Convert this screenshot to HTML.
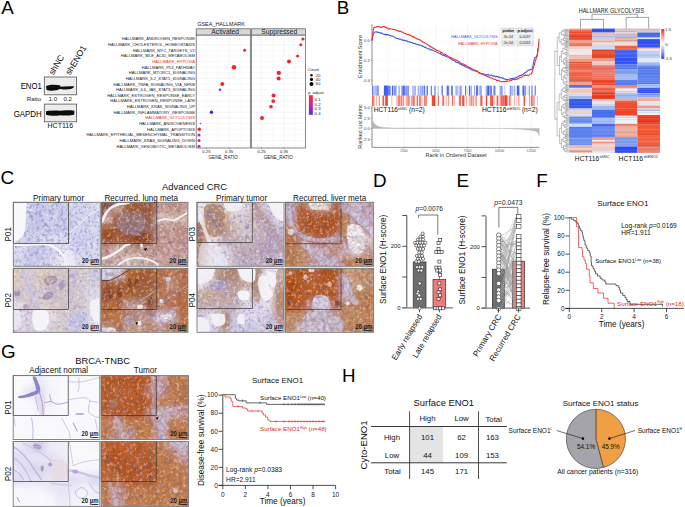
<!DOCTYPE html>
<html><head><meta charset="utf-8"><style>
html,body{margin:0;padding:0;background:#fff;}
svg{display:block;font-family:"Liberation Sans",sans-serif;}
</style></head><body>
<svg width="685" height="507" viewBox="0 0 685 507">
<rect width="685" height="507" fill="#fff"/>
<text x="1.30" y="14.27" font-size="18.8" text-anchor="start" fill="#000">A</text>
<text x="336.80" y="14.37" font-size="18.8" text-anchor="start" fill="#000">B</text>
<text x="0.50" y="184.47" font-size="18.8" text-anchor="start" fill="#000">C</text>
<text x="373.00" y="186.67" font-size="18.8" text-anchor="start" fill="#000">D</text>
<text x="456.50" y="186.97" font-size="18.8" text-anchor="start" fill="#000">E</text>
<text x="536.20" y="187.27" font-size="18.8" text-anchor="start" fill="#000">F</text>
<text x="0.90" y="357.97" font-size="18.8" text-anchor="start" fill="#000">G</text>
<text x="342.00" y="382.27" font-size="18.8" text-anchor="start" fill="#000">H</text>
<defs><filter id="bl1" x="-20%" y="-50%" width="140%" height="200%"><feGaussianBlur stdDeviation="0.6"/></filter></defs>
<text x="0" y="0" font-size="8.6" transform="translate(53.4,75.6) rotate(-59)">shNC</text>
<text x="0" y="0" font-size="8.6" transform="translate(70.0,75.6) rotate(-59)">shENO1</text>
<rect x="44.30" y="77.00" width="32.30" height="17.80" fill="#ececec" stroke="#555" stroke-width="0.8"/>
<rect x="44.30" y="104.10" width="32.30" height="17.70" fill="#ececec" stroke="#555" stroke-width="0.8"/>
<g filter="url(#bl1)">
<path d="M46,86.3 C50,84.3 56,84.8 60,85.3 L61,88.6 C56,91.2 50,91.4 46.5,89.8 Z" fill="#111"/>
<path d="M59,86.8 C64,86.2 70,86.0 74.3,86.3 C73.5,88.7 70,89.6 64,89.4 C61,89.4 59.5,89 59,88.3 Z" fill="#111"/>
<path d="M46,111.3 C52,110.3 58,110.6 61,110.8 C64,110.2 70,110.0 74.3,110.8 L74.3,114.6 C70,116.0 64,115.6 60.5,115.2 C56,116.0 50,116.0 46,114.8 Z" fill="#111"/>
</g>
<text x="41.80" y="89.26" font-size="8.6" text-anchor="end" fill="#000" textLength="21.1" lengthAdjust="spacingAndGlyphs">ENO1</text>
<text x="41.20" y="100.93" font-size="6.2" text-anchor="end" fill="#222">Ratio</text>
<text x="52.90" y="100.93" font-size="6.2" text-anchor="middle" fill="#222">1.0</text>
<text x="67.70" y="100.93" font-size="6.2" text-anchor="middle" fill="#222">0.2</text>
<text x="41.80" y="116.56" font-size="8.6" text-anchor="end" fill="#000" textLength="28.1" lengthAdjust="spacingAndGlyphs">GAPDH</text>
<text x="60.30" y="128.21" font-size="7.0" text-anchor="middle" fill="#111">HCT116</text>
<rect x="196.20" y="35.00" width="54.10" height="113.00" fill="#fff" stroke="none" stroke-width="0.8"/>
<line x1="196.20" y1="39.00" x2="250.30" y2="39.00" stroke="#ececec" stroke-width="0.4"/>
<line x1="196.20" y1="44.64" x2="250.30" y2="44.64" stroke="#ececec" stroke-width="0.4"/>
<line x1="196.20" y1="50.28" x2="250.30" y2="50.28" stroke="#ececec" stroke-width="0.4"/>
<line x1="196.20" y1="55.92" x2="250.30" y2="55.92" stroke="#ececec" stroke-width="0.4"/>
<line x1="196.20" y1="61.56" x2="250.30" y2="61.56" stroke="#ececec" stroke-width="0.4"/>
<line x1="196.20" y1="67.20" x2="250.30" y2="67.20" stroke="#ececec" stroke-width="0.4"/>
<line x1="196.20" y1="72.84" x2="250.30" y2="72.84" stroke="#ececec" stroke-width="0.4"/>
<line x1="196.20" y1="78.48" x2="250.30" y2="78.48" stroke="#ececec" stroke-width="0.4"/>
<line x1="196.20" y1="84.12" x2="250.30" y2="84.12" stroke="#ececec" stroke-width="0.4"/>
<line x1="196.20" y1="89.76" x2="250.30" y2="89.76" stroke="#ececec" stroke-width="0.4"/>
<line x1="196.20" y1="95.40" x2="250.30" y2="95.40" stroke="#ececec" stroke-width="0.4"/>
<line x1="196.20" y1="101.04" x2="250.30" y2="101.04" stroke="#ececec" stroke-width="0.4"/>
<line x1="196.20" y1="106.68" x2="250.30" y2="106.68" stroke="#ececec" stroke-width="0.4"/>
<line x1="196.20" y1="112.32" x2="250.30" y2="112.32" stroke="#ececec" stroke-width="0.4"/>
<line x1="196.20" y1="117.96" x2="250.30" y2="117.96" stroke="#ececec" stroke-width="0.4"/>
<line x1="196.20" y1="123.60" x2="250.30" y2="123.60" stroke="#ececec" stroke-width="0.4"/>
<line x1="196.20" y1="129.24" x2="250.30" y2="129.24" stroke="#ececec" stroke-width="0.4"/>
<line x1="196.20" y1="134.88" x2="250.30" y2="134.88" stroke="#ececec" stroke-width="0.4"/>
<line x1="196.20" y1="140.52" x2="250.30" y2="140.52" stroke="#ececec" stroke-width="0.4"/>
<line x1="196.20" y1="146.16" x2="250.30" y2="146.16" stroke="#ececec" stroke-width="0.4"/>
<line x1="206.40" y1="35.00" x2="206.40" y2="148.00" stroke="#ececec" stroke-width="0.4"/>
<line x1="217.70" y1="35.00" x2="217.70" y2="148.00" stroke="#f4f4f4" stroke-width="0.4"/>
<line x1="229.00" y1="35.00" x2="229.00" y2="148.00" stroke="#ececec" stroke-width="0.4"/>
<line x1="240.30" y1="35.00" x2="240.30" y2="148.00" stroke="#f4f4f4" stroke-width="0.4"/>
<rect x="196.20" y="35.00" width="54.10" height="113.00" fill="none" stroke="#555" stroke-width="0.7"/>
<rect x="196.20" y="28.80" width="54.10" height="6.20" fill="#d9d9d9" stroke="#555" stroke-width="0.7"/>
<rect x="251.30" y="35.00" width="54.10" height="113.00" fill="#fff" stroke="none" stroke-width="0.8"/>
<line x1="251.30" y1="39.00" x2="305.40" y2="39.00" stroke="#ececec" stroke-width="0.4"/>
<line x1="251.30" y1="44.64" x2="305.40" y2="44.64" stroke="#ececec" stroke-width="0.4"/>
<line x1="251.30" y1="50.28" x2="305.40" y2="50.28" stroke="#ececec" stroke-width="0.4"/>
<line x1="251.30" y1="55.92" x2="305.40" y2="55.92" stroke="#ececec" stroke-width="0.4"/>
<line x1="251.30" y1="61.56" x2="305.40" y2="61.56" stroke="#ececec" stroke-width="0.4"/>
<line x1="251.30" y1="67.20" x2="305.40" y2="67.20" stroke="#ececec" stroke-width="0.4"/>
<line x1="251.30" y1="72.84" x2="305.40" y2="72.84" stroke="#ececec" stroke-width="0.4"/>
<line x1="251.30" y1="78.48" x2="305.40" y2="78.48" stroke="#ececec" stroke-width="0.4"/>
<line x1="251.30" y1="84.12" x2="305.40" y2="84.12" stroke="#ececec" stroke-width="0.4"/>
<line x1="251.30" y1="89.76" x2="305.40" y2="89.76" stroke="#ececec" stroke-width="0.4"/>
<line x1="251.30" y1="95.40" x2="305.40" y2="95.40" stroke="#ececec" stroke-width="0.4"/>
<line x1="251.30" y1="101.04" x2="305.40" y2="101.04" stroke="#ececec" stroke-width="0.4"/>
<line x1="251.30" y1="106.68" x2="305.40" y2="106.68" stroke="#ececec" stroke-width="0.4"/>
<line x1="251.30" y1="112.32" x2="305.40" y2="112.32" stroke="#ececec" stroke-width="0.4"/>
<line x1="251.30" y1="117.96" x2="305.40" y2="117.96" stroke="#ececec" stroke-width="0.4"/>
<line x1="251.30" y1="123.60" x2="305.40" y2="123.60" stroke="#ececec" stroke-width="0.4"/>
<line x1="251.30" y1="129.24" x2="305.40" y2="129.24" stroke="#ececec" stroke-width="0.4"/>
<line x1="251.30" y1="134.88" x2="305.40" y2="134.88" stroke="#ececec" stroke-width="0.4"/>
<line x1="251.30" y1="140.52" x2="305.40" y2="140.52" stroke="#ececec" stroke-width="0.4"/>
<line x1="251.30" y1="146.16" x2="305.40" y2="146.16" stroke="#ececec" stroke-width="0.4"/>
<line x1="261.50" y1="35.00" x2="261.50" y2="148.00" stroke="#ececec" stroke-width="0.4"/>
<line x1="272.80" y1="35.00" x2="272.80" y2="148.00" stroke="#f4f4f4" stroke-width="0.4"/>
<line x1="284.10" y1="35.00" x2="284.10" y2="148.00" stroke="#ececec" stroke-width="0.4"/>
<line x1="295.40" y1="35.00" x2="295.40" y2="148.00" stroke="#f4f4f4" stroke-width="0.4"/>
<rect x="251.30" y="35.00" width="54.10" height="113.00" fill="none" stroke="#555" stroke-width="0.7"/>
<rect x="251.30" y="28.80" width="54.10" height="6.20" fill="#d9d9d9" stroke="#555" stroke-width="0.7"/>
<text x="225.15" y="34.22" font-size="6.75" text-anchor="middle" fill="#222">Activated</text>
<text x="279.20" y="34.22" font-size="6.75" text-anchor="middle" fill="#222">Suppressed</text>
<text x="197.20" y="26.29" font-size="5.48" text-anchor="start" fill="#222">GSEA_HALLMARK</text>
<text x="194.90" y="40.41" font-size="4.1" text-anchor="end" fill="#222">HALLMARK_ANDROGEN_RESPONSE</text>
<text x="194.90" y="46.05" font-size="4.1" text-anchor="end" fill="#222">HALLMARK_CHOLESTEROL_HOMEOSTASIS</text>
<text x="194.90" y="51.69" font-size="4.1" text-anchor="end" fill="#222">HALLMARK_MYC_TARGETS_V2</text>
<text x="194.90" y="57.33" font-size="4.1" text-anchor="end" fill="#222">HALLMARK_BILE_ACID_METABOLISM</text>
<text x="194.90" y="62.97" font-size="4.1" text-anchor="end" fill="#e8262a">HALLMARK_HYPOXIA</text>
<text x="194.90" y="68.61" font-size="4.1" text-anchor="end" fill="#222">HALLMARK_P53_PATHWAY</text>
<text x="194.90" y="74.25" font-size="4.1" text-anchor="end" fill="#222">HALLMARK_MTORC1_SIGNALING</text>
<text x="194.90" y="79.89" font-size="4.1" text-anchor="end" fill="#222">HALLMARK_IL2_STAT5_SIGNALING</text>
<text x="194.90" y="85.53" font-size="4.1" text-anchor="end" fill="#222">HALLMARK_TNFA_SIGNALING_VIA_NFKB</text>
<text x="194.90" y="91.17" font-size="4.1" text-anchor="end" fill="#222">HALLMARK_IL6_JAK_STAT3_SIGNALING</text>
<text x="194.90" y="96.81" font-size="4.1" text-anchor="end" fill="#222">HALLMARK_ESTROGEN_RESPONSE_EARLY</text>
<text x="194.90" y="102.45" font-size="4.1" text-anchor="end" fill="#222">HALLMARK_ESTROGEN_RESPONSE_LATE</text>
<text x="194.90" y="108.09" font-size="4.1" text-anchor="end" fill="#222">HALLMARK_KRAS_SIGNALING_UP</text>
<text x="194.90" y="113.73" font-size="4.1" text-anchor="end" fill="#222">HALLMARK_INFLAMMATORY_RESPONSE</text>
<text x="194.90" y="119.37" font-size="4.1" text-anchor="end" fill="#e8262a">HALLMARK_GLYCOLYSIS</text>
<text x="194.90" y="125.01" font-size="4.1" text-anchor="end" fill="#222">HALLMARK_ANGIOGENESIS</text>
<text x="194.90" y="130.65" font-size="4.1" text-anchor="end" fill="#222">HALLMARK_APOPTOSIS</text>
<text x="194.90" y="136.29" font-size="4.1" text-anchor="end" fill="#222">HALLMARK_EPITHELIAL_MESENCHYMAL_TRANSITION</text>
<text x="194.90" y="141.93" font-size="4.1" text-anchor="end" fill="#222">HALLMARK_KRAS_SIGNALING_DOWN</text>
<text x="194.90" y="147.57" font-size="4.1" text-anchor="end" fill="#222">HALLMARK_XENOBIOTIC_METABOLISM</text>
<line x1="206.40" y1="148.00" x2="206.40" y2="149.20" stroke="#555" stroke-width="0.5"/>
<text x="206.40" y="153.24" font-size="4.2" text-anchor="middle" fill="#222">0.25</text>
<line x1="229.00" y1="148.00" x2="229.00" y2="149.20" stroke="#555" stroke-width="0.5"/>
<text x="229.00" y="153.24" font-size="4.2" text-anchor="middle" fill="#222">0.35</text>
<text x="223.20" y="158.78" font-size="4.6" text-anchor="middle" fill="#222">GENE_RATIO</text>
<line x1="261.50" y1="148.00" x2="261.50" y2="149.20" stroke="#555" stroke-width="0.5"/>
<text x="261.50" y="153.24" font-size="4.2" text-anchor="middle" fill="#222">0.25</text>
<line x1="284.10" y1="148.00" x2="284.10" y2="149.20" stroke="#555" stroke-width="0.5"/>
<text x="284.10" y="153.24" font-size="4.2" text-anchor="middle" fill="#222">0.35</text>
<text x="278.30" y="158.78" font-size="4.6" text-anchor="middle" fill="#222">GENE_RATIO</text>
<circle cx="244.60" cy="50.28" r="1.50" fill="#f0282a" stroke="none" stroke-width="0.5"/>
<circle cx="234.00" cy="67.20" r="2.30" fill="#f0242a" stroke="none" stroke-width="0.5"/>
<circle cx="222.30" cy="84.12" r="2.00" fill="#f0242a" stroke="none" stroke-width="0.5"/>
<circle cx="220.00" cy="89.76" r="1.35" fill="#b02ad0" stroke="none" stroke-width="0.5"/>
<circle cx="211.50" cy="112.32" r="1.70" fill="#2a2af0" stroke="none" stroke-width="0.5"/>
<circle cx="200.50" cy="123.60" r="0.80" fill="#d030c0" stroke="none" stroke-width="0.5"/>
<circle cx="199.20" cy="129.24" r="1.70" fill="#f0242a" stroke="none" stroke-width="0.5"/>
<circle cx="199.00" cy="134.88" r="1.50" fill="#c02aa8" stroke="none" stroke-width="0.5"/>
<circle cx="199.00" cy="140.52" r="1.50" fill="#c02aa8" stroke="none" stroke-width="0.5"/>
<circle cx="199.00" cy="146.16" r="1.50" fill="#c02aa8" stroke="none" stroke-width="0.5"/>
<circle cx="302.90" cy="39.00" r="1.60" fill="#f0242a" stroke="none" stroke-width="0.5"/>
<circle cx="300.80" cy="44.64" r="1.50" fill="#f0242a" stroke="none" stroke-width="0.5"/>
<circle cx="297.60" cy="55.92" r="1.50" fill="#f0242a" stroke="none" stroke-width="0.5"/>
<circle cx="289.00" cy="61.56" r="2.00" fill="#f0242a" stroke="none" stroke-width="0.5"/>
<circle cx="278.80" cy="72.84" r="2.20" fill="#e02a4a" stroke="none" stroke-width="0.5"/>
<circle cx="278.60" cy="78.48" r="2.00" fill="#f0242a" stroke="none" stroke-width="0.5"/>
<circle cx="273.60" cy="95.40" r="2.00" fill="#e02a4a" stroke="none" stroke-width="0.5"/>
<circle cx="273.20" cy="101.04" r="1.90" fill="#f0242a" stroke="none" stroke-width="0.5"/>
<circle cx="271.00" cy="106.68" r="1.80" fill="#f0242a" stroke="none" stroke-width="0.5"/>
<circle cx="262.00" cy="117.96" r="2.00" fill="#f0242a" stroke="none" stroke-width="0.5"/>
<text x="308.00" y="70.61" font-size="4.1" text-anchor="start" fill="#222">Count</text>
<circle cx="311.50" cy="75.20" r="1.20" fill="#000" stroke="none" stroke-width="0.5"/>
<text x="315.60" y="76.68" font-size="4.3" text-anchor="start" fill="#222">20</text>
<circle cx="311.50" cy="79.40" r="1.60" fill="#000" stroke="none" stroke-width="0.5"/>
<text x="315.60" y="80.88" font-size="4.3" text-anchor="start" fill="#222">40</text>
<circle cx="311.50" cy="84.00" r="2.00" fill="#000" stroke="none" stroke-width="0.5"/>
<text x="315.60" y="85.48" font-size="4.3" text-anchor="start" fill="#222">60</text>
<text x="308.00" y="93.63" font-size="4.15" text-anchor="start" fill="#222">p. adjust</text>
<defs><linearGradient id="padj" x1="0" y1="0" x2="0" y2="1"><stop offset="0" stop-color="#ff2a2a"/><stop offset="0.5" stop-color="#d020b0"/><stop offset="1" stop-color="#4a2aff"/></linearGradient></defs>
<rect x="308.90" y="95.20" width="3.90" height="19.60" fill="url(#padj)" stroke="none" stroke-width="0.8"/>
<line x1="308.90" y1="99.40" x2="309.70" y2="99.40" stroke="#444" stroke-width="0.35"/>
<line x1="312.00" y1="99.40" x2="312.80" y2="99.40" stroke="#444" stroke-width="0.35"/>
<text x="314.60" y="100.88" font-size="4.3" text-anchor="start" fill="#222">0.1</text>
<line x1="308.90" y1="104.10" x2="309.70" y2="104.10" stroke="#444" stroke-width="0.35"/>
<line x1="312.00" y1="104.10" x2="312.80" y2="104.10" stroke="#444" stroke-width="0.35"/>
<text x="314.60" y="105.58" font-size="4.3" text-anchor="start" fill="#222">0.2</text>
<line x1="308.90" y1="108.80" x2="309.70" y2="108.80" stroke="#444" stroke-width="0.35"/>
<line x1="312.00" y1="108.80" x2="312.80" y2="108.80" stroke="#444" stroke-width="0.35"/>
<text x="314.60" y="110.28" font-size="4.3" text-anchor="start" fill="#222">0.3</text>
<line x1="308.90" y1="113.50" x2="309.70" y2="113.50" stroke="#444" stroke-width="0.35"/>
<line x1="312.00" y1="113.50" x2="312.80" y2="113.50" stroke="#444" stroke-width="0.35"/>
<text x="314.60" y="114.98" font-size="4.3" text-anchor="start" fill="#222">0.4</text>
<line x1="387.98" y1="24.30" x2="387.98" y2="85.50" stroke="#f0f0f0" stroke-width="0.5"/>
<line x1="387.98" y1="105.90" x2="387.98" y2="147.40" stroke="#f0f0f0" stroke-width="0.5"/>
<line x1="403.90" y1="24.30" x2="403.90" y2="85.50" stroke="#e6e6e6" stroke-width="0.5"/>
<line x1="403.90" y1="105.90" x2="403.90" y2="147.40" stroke="#e6e6e6" stroke-width="0.5"/>
<line x1="419.82" y1="24.30" x2="419.82" y2="85.50" stroke="#f0f0f0" stroke-width="0.5"/>
<line x1="419.82" y1="105.90" x2="419.82" y2="147.40" stroke="#f0f0f0" stroke-width="0.5"/>
<line x1="435.75" y1="24.30" x2="435.75" y2="85.50" stroke="#e6e6e6" stroke-width="0.5"/>
<line x1="435.75" y1="105.90" x2="435.75" y2="147.40" stroke="#e6e6e6" stroke-width="0.5"/>
<line x1="451.68" y1="24.30" x2="451.68" y2="85.50" stroke="#f0f0f0" stroke-width="0.5"/>
<line x1="451.68" y1="105.90" x2="451.68" y2="147.40" stroke="#f0f0f0" stroke-width="0.5"/>
<line x1="467.60" y1="24.30" x2="467.60" y2="85.50" stroke="#e6e6e6" stroke-width="0.5"/>
<line x1="467.60" y1="105.90" x2="467.60" y2="147.40" stroke="#e6e6e6" stroke-width="0.5"/>
<line x1="483.52" y1="24.30" x2="483.52" y2="85.50" stroke="#f0f0f0" stroke-width="0.5"/>
<line x1="483.52" y1="105.90" x2="483.52" y2="147.40" stroke="#f0f0f0" stroke-width="0.5"/>
<line x1="499.45" y1="24.30" x2="499.45" y2="85.50" stroke="#e6e6e6" stroke-width="0.5"/>
<line x1="499.45" y1="105.90" x2="499.45" y2="147.40" stroke="#e6e6e6" stroke-width="0.5"/>
<line x1="515.38" y1="24.30" x2="515.38" y2="85.50" stroke="#f0f0f0" stroke-width="0.5"/>
<line x1="515.38" y1="105.90" x2="515.38" y2="147.40" stroke="#f0f0f0" stroke-width="0.5"/>
<line x1="531.30" y1="24.30" x2="531.30" y2="85.50" stroke="#e6e6e6" stroke-width="0.5"/>
<line x1="531.30" y1="105.90" x2="531.30" y2="147.40" stroke="#e6e6e6" stroke-width="0.5"/>
<line x1="372.00" y1="30.20" x2="539.40" y2="30.20" stroke="#f2f2f2" stroke-width="0.4"/>
<line x1="372.00" y1="40.20" x2="539.40" y2="40.20" stroke="#f2f2f2" stroke-width="0.4"/>
<line x1="372.00" y1="50.20" x2="539.40" y2="50.20" stroke="#f2f2f2" stroke-width="0.4"/>
<line x1="372.00" y1="60.20" x2="539.40" y2="60.20" stroke="#f2f2f2" stroke-width="0.4"/>
<line x1="372.00" y1="70.20" x2="539.40" y2="70.20" stroke="#f2f2f2" stroke-width="0.4"/>
<line x1="372.00" y1="80.20" x2="539.40" y2="80.20" stroke="#f2f2f2" stroke-width="0.4"/>
<line x1="372.00" y1="24.30" x2="372.00" y2="85.50" stroke="#444" stroke-width="0.6"/>
<line x1="372.00" y1="105.90" x2="372.00" y2="147.40" stroke="#444" stroke-width="0.6"/>
<line x1="372.00" y1="147.40" x2="539.40" y2="147.40" stroke="#444" stroke-width="0.6"/>
<line x1="370.80" y1="40.20" x2="372.00" y2="40.20" stroke="#444" stroke-width="0.5"/>
<text x="369.80" y="41.64" font-size="4.2" text-anchor="end" fill="#444">0.0</text>
<line x1="370.80" y1="60.20" x2="372.00" y2="60.20" stroke="#444" stroke-width="0.5"/>
<text x="369.80" y="61.64" font-size="4.2" text-anchor="end" fill="#444">-0.2</text>
<line x1="370.80" y1="80.20" x2="372.00" y2="80.20" stroke="#444" stroke-width="0.5"/>
<text x="369.80" y="81.64" font-size="4.2" text-anchor="end" fill="#444">-0.4</text>
<text x="360.20" y="58.36" font-size="5.4" text-anchor="middle" fill="#333" transform="rotate(-90 360.20 56.50)">Enrichment Score</text>
<line x1="370.80" y1="107.80" x2="372.00" y2="107.80" stroke="#444" stroke-width="0.5"/>
<text x="369.80" y="109.24" font-size="4.2" text-anchor="end" fill="#444">5.0</text>
<line x1="370.80" y1="118.10" x2="372.00" y2="118.10" stroke="#444" stroke-width="0.5"/>
<text x="369.80" y="119.54" font-size="4.2" text-anchor="end" fill="#444">2.5</text>
<line x1="370.80" y1="128.40" x2="372.00" y2="128.40" stroke="#444" stroke-width="0.5"/>
<text x="369.80" y="129.84" font-size="4.2" text-anchor="end" fill="#444">0.0</text>
<line x1="370.80" y1="139.50" x2="372.00" y2="139.50" stroke="#444" stroke-width="0.5"/>
<text x="369.80" y="140.94" font-size="4.2" text-anchor="end" fill="#444">-2.5</text>
<text x="359.80" y="128.35" font-size="5.37" text-anchor="middle" fill="#333" transform="rotate(-90 359.80 126.50)">Ranked List Metric</text>
<line x1="403.90" y1="147.40" x2="403.90" y2="148.40" stroke="#444" stroke-width="0.5"/>
<text x="403.90" y="151.77" font-size="3.4" text-anchor="middle" fill="#555">2500</text>
<line x1="435.75" y1="147.40" x2="435.75" y2="148.40" stroke="#444" stroke-width="0.5"/>
<text x="435.75" y="151.77" font-size="3.4" text-anchor="middle" fill="#555">5000</text>
<line x1="467.60" y1="147.40" x2="467.60" y2="148.40" stroke="#444" stroke-width="0.5"/>
<text x="467.60" y="151.77" font-size="3.4" text-anchor="middle" fill="#555">7500</text>
<line x1="499.45" y1="147.40" x2="499.45" y2="148.40" stroke="#444" stroke-width="0.5"/>
<text x="499.45" y="151.77" font-size="3.4" text-anchor="middle" fill="#555">10000</text>
<line x1="531.30" y1="147.40" x2="531.30" y2="148.40" stroke="#444" stroke-width="0.5"/>
<text x="531.30" y="151.77" font-size="3.4" text-anchor="middle" fill="#555">12500</text>
<text x="456.00" y="156.71" font-size="5.54" text-anchor="middle" fill="#333">Rank in Ordered Dataset</text>
<path d="M372.00,40.54 L372.60,36.69 L373.30,34.44 L374.10,32.72 L374.90,31.93 L375.60,31.91 L376.30,31.77 L377.00,32.31 L377.63,32.02 L378.27,32.51 L378.90,32.31 L379.60,32.50 L380.30,32.97 L381.00,33.49 L381.68,33.06 L382.35,33.35 L383.02,33.91 L383.70,34.40 L384.25,34.20 L384.80,34.17 L385.35,34.83 L385.90,34.13 L386.45,34.99 L387.00,34.61 L387.60,34.62 L388.20,34.73 L388.80,35.04 L389.40,35.63 L390.00,35.20 L390.60,35.70 L391.20,35.89 L391.80,35.79 L392.53,36.31 L393.27,36.24 L394.00,36.60 L394.65,37.06 L395.30,37.81 L395.95,37.91 L396.60,38.13 L397.17,38.53 L397.73,38.56 L398.30,38.57 L398.87,39.16 L399.43,39.23 L400.00,38.97 L400.56,39.42 L401.11,39.53 L401.67,40.00 L402.22,40.03 L402.78,39.79 L403.33,40.57 L403.89,39.95 L404.44,40.37 L405.00,40.83 L405.60,40.46 L406.20,40.93 L406.80,40.70 L407.40,41.43 L408.00,41.69 L408.60,41.69 L409.20,42.13 L409.80,41.79 L410.40,42.31 L411.00,42.38 L411.57,42.56 L412.14,42.64 L412.71,43.17 L413.28,43.45 L413.85,43.22 L414.42,43.58 L414.99,43.22 L415.56,43.99 L416.14,44.13 L416.71,44.63 L417.28,44.66 L417.85,44.36 L418.42,44.64 L418.99,45.09 L419.56,44.69 L420.13,45.28 L420.70,45.20 L421.28,45.39 L421.86,45.58 L422.44,46.45 L423.02,46.12 L423.61,46.46 L424.19,46.83 L424.77,47.50 L425.35,47.02 L425.93,47.59 L426.51,47.92 L427.09,48.46 L427.68,48.64 L428.26,48.92 L428.84,48.63 L429.42,48.99 L430.00,49.17 L430.56,49.88 L431.11,50.18 L431.67,49.69 L432.22,49.94 L432.78,50.23 L433.33,50.46 L433.89,50.92 L434.44,51.25 L435.00,51.19 L435.56,51.19 L436.11,51.79 L436.67,51.98 L437.22,52.39 L437.78,52.97 L438.33,52.97 L438.89,53.05 L439.44,53.37 L440.00,53.66 L440.56,53.38 L441.11,54.43 L441.67,54.60 L442.22,54.97 L442.78,55.18 L443.33,55.10 L443.89,55.39 L444.44,55.41 L445.00,56.17 L445.56,55.94 L446.11,56.23 L446.67,56.64 L447.22,56.88 L447.78,57.32 L448.33,57.35 L448.89,57.58 L449.44,58.00 L450.00,58.24 L450.56,58.78 L451.11,58.77 L451.67,59.84 L452.22,59.90 L452.78,59.78 L453.33,60.18 L453.89,60.56 L454.44,60.88 L455.00,60.96 L455.56,61.91 L456.11,62.34 L456.67,62.17 L457.22,62.49 L457.78,62.43 L458.33,62.74 L458.89,63.26 L459.44,63.49 L460.00,64.30 L460.56,63.96 L461.11,64.10 L461.67,65.21 L462.22,65.09 L462.78,65.02 L463.33,65.64 L463.89,65.44 L464.44,66.16 L465.00,66.83 L465.56,66.99 L466.11,67.11 L466.67,66.99 L467.22,67.35 L467.78,67.43 L468.33,68.24 L468.89,68.30 L469.44,68.78 L470.00,68.65 L470.57,68.80 L471.15,69.57 L471.72,69.97 L472.29,70.10 L472.86,70.30 L473.44,70.56 L474.01,70.73 L474.58,70.52 L475.15,71.02 L475.73,71.12 L476.30,71.08 L476.87,71.32 L477.45,71.79 L478.02,72.02 L478.59,72.66 L479.16,73.14 L479.74,72.93 L480.31,73.61 L480.88,73.90 L481.45,74.12 L482.03,73.83 L482.60,73.95 L483.17,73.99 L483.73,73.99 L484.30,74.03 L484.87,74.44 L485.43,74.73 L486.00,74.71 L486.56,74.46 L487.12,74.69 L487.69,74.89 L488.25,74.33 L488.81,74.92 L489.38,75.22 L489.94,75.18 L490.50,75.23 L491.06,75.13 L491.62,75.01 L492.19,75.71 L492.75,75.45 L493.31,76.02 L493.88,76.32 L494.44,75.96 L495.00,76.11 L495.56,76.74 L496.11,76.67 L496.67,76.30 L497.22,76.40 L497.78,76.55 L498.33,77.36 L498.89,77.41 L499.44,76.95 L500.00,77.69 L500.57,78.00 L501.14,77.88 L501.71,77.78 L502.29,78.13 L502.86,77.93 L503.43,77.99 L504.00,79.02 L504.56,78.89 L505.11,78.94 L505.67,79.46 L506.23,79.17 L506.79,79.72 L507.34,79.84 L507.90,79.44 L508.52,79.30 L509.14,79.15 L509.76,78.93 L510.38,79.06 L511.00,78.58 L511.64,78.61 L512.28,78.23 L512.92,78.81 L513.56,78.19 L514.20,78.16 L514.83,78.01 L515.47,78.03 L516.10,77.33 L516.73,77.51 L517.37,76.87 L518.00,76.63 L518.59,76.39 L519.17,75.71 L519.76,75.86 L520.34,75.40 L520.93,75.01 L521.51,75.50 L522.10,74.71 L522.68,74.54 L523.26,74.32 L523.84,73.73 L524.42,73.08 L525.00,72.82 L525.57,72.43 L526.13,72.22 L526.70,71.20 L527.27,71.19 L527.83,70.49 L528.40,70.10 L529.10,70.28 L529.80,69.77 L530.50,69.56 L531.13,69.47 L531.77,69.34 L532.40,68.65 L532.95,65.95 L533.50,63.00 L534.10,60.31 L534.70,57.77 L535.35,57.26 L536.00,57.03 L536.55,56.48 L537.10,56.40 L537.60,52.18 L537.90,48.20" stroke="#3a52f0" stroke-width="1.05" fill="none" stroke-linejoin="round"/>
<path d="M372.00,40.54 L373.00,31.40 L373.90,27.58 L374.90,27.05 L375.52,27.36 L376.14,27.23 L376.76,26.55 L377.38,26.50 L378.00,26.75 L378.60,26.50 L379.20,26.73 L379.80,26.66 L380.40,27.27 L381.00,27.46 L381.68,27.36 L382.35,26.49 L383.02,26.79 L383.70,26.54 L384.27,26.33 L384.85,27.24 L385.43,27.57 L386.00,27.15 L386.62,28.13 L387.25,27.96 L387.88,28.36 L388.50,29.14 L389.08,29.08 L389.67,28.56 L390.25,28.89 L390.83,29.05 L391.42,28.97 L392.00,28.93 L392.57,29.17 L393.15,29.67 L393.73,29.18 L394.30,29.80 L394.88,29.83 L395.45,29.59 L396.03,30.01 L396.60,30.41 L397.17,30.48 L397.73,30.24 L398.30,31.24 L398.87,31.23 L399.43,31.56 L400.00,30.94 L400.57,31.34 L401.15,31.39 L401.73,32.30 L402.30,32.09 L402.88,32.22 L403.45,32.73 L404.03,33.42 L404.60,33.59 L405.17,33.30 L405.73,33.42 L406.30,34.33 L406.87,34.23 L407.43,34.56 L408.00,34.23 L408.60,34.40 L409.20,35.17 L409.80,35.13 L410.40,35.02 L411.00,35.99 L411.57,36.02 L412.14,36.47 L412.71,36.13 L413.28,37.12 L413.85,36.71 L414.42,37.73 L414.99,37.66 L415.56,37.86 L416.14,38.35 L416.71,38.98 L417.28,38.69 L417.85,38.87 L418.42,39.52 L418.99,39.56 L419.56,39.75 L420.13,40.10 L420.70,40.30 L421.28,40.78 L421.86,41.22 L422.44,41.56 L423.02,42.31 L423.61,42.23 L424.19,42.76 L424.77,42.82 L425.35,43.31 L425.93,43.36 L426.51,43.91 L427.09,44.05 L427.68,45.03 L428.26,45.21 L428.84,45.23 L429.42,45.83 L430.00,46.59 L430.56,46.17 L431.11,47.13 L431.67,47.11 L432.22,47.48 L432.78,48.11 L433.33,48.04 L433.89,48.46 L434.44,48.95 L435.00,49.53 L435.56,49.28 L436.11,50.04 L436.67,50.25 L437.22,50.51 L437.78,50.63 L438.33,50.90 L438.89,50.95 L439.44,51.34 L440.00,51.61 L440.56,52.51 L441.11,52.36 L441.67,52.56 L442.22,52.78 L442.78,53.75 L443.33,54.07 L443.89,54.18 L444.44,54.11 L445.00,54.37 L445.56,54.70 L446.11,55.14 L446.67,55.16 L447.22,55.71 L447.78,55.83 L448.33,56.75 L448.89,57.05 L449.44,56.95 L450.00,56.97 L450.56,57.91 L451.11,57.61 L451.67,57.94 L452.22,57.91 L452.78,58.54 L453.33,58.91 L453.89,59.22 L454.44,59.24 L455.00,59.80 L455.56,59.64 L456.11,60.17 L456.67,60.30 L457.22,60.87 L457.78,60.83 L458.33,61.10 L458.89,61.65 L459.44,61.87 L460.00,62.48 L460.56,62.72 L461.11,63.20 L461.67,63.41 L462.22,63.75 L462.78,64.19 L463.33,64.03 L463.89,64.27 L464.44,65.15 L465.00,64.68 L465.56,65.49 L466.11,65.71 L466.67,65.46 L467.22,66.46 L467.78,66.80 L468.33,66.85 L468.89,67.23 L469.44,67.59 L470.00,67.28 L470.57,67.92 L471.15,68.20 L471.72,68.80 L472.29,69.07 L472.86,69.39 L473.44,69.48 L474.01,70.05 L474.58,70.16 L475.15,70.47 L475.73,70.36 L476.30,70.48 L476.87,70.87 L477.45,71.37 L478.02,71.44 L478.59,72.40 L479.16,72.45 L479.74,72.81 L480.31,73.11 L480.88,73.46 L481.45,73.59 L482.03,73.45 L482.60,74.47 L483.23,74.74 L483.86,74.83 L484.49,75.17 L485.11,75.60 L485.74,75.38 L486.37,76.30 L487.00,76.18 L487.57,76.22 L488.13,76.59 L488.70,77.21 L489.27,76.93 L489.83,77.62 L490.40,78.03 L490.97,77.79 L491.53,77.89 L492.10,78.18 L492.66,78.62 L493.21,78.95 L493.77,79.08 L494.33,79.36 L494.89,79.11 L495.44,79.43 L496.00,79.78 L496.57,80.40 L497.14,80.20 L497.71,80.62 L498.29,80.30 L498.86,80.53 L499.43,80.91 L500.00,81.45 L500.60,81.57 L501.20,81.66 L501.80,81.41 L502.40,81.71 L503.00,81.77 L503.55,81.69 L504.10,81.29 L504.65,81.90 L505.20,81.20 L505.75,81.81 L506.30,81.69 L506.98,80.77 L507.65,81.06 L508.32,81.29 L509.00,81.32 L509.60,80.65 L510.20,80.29 L510.80,80.04 L511.40,80.50 L512.00,79.64 L512.60,79.77 L513.17,79.31 L513.73,79.59 L514.30,79.91 L514.87,79.10 L515.43,79.65 L516.00,79.31 L516.60,79.43 L517.20,79.04 L517.80,78.40 L518.40,78.78 L519.00,78.19 L519.60,77.53 L520.20,77.27 L520.80,77.47 L521.40,77.20 L522.00,76.82 L522.66,76.28 L523.32,76.06 L523.98,75.63 L524.64,75.71 L525.30,74.55 L525.97,75.33 L526.65,75.51 L527.33,74.96 L528.00,75.78 L528.56,75.35 L529.12,75.28 L529.68,74.49 L530.24,74.32 L530.80,74.10 L531.40,73.80 L532.00,72.58 L532.60,70.47 L533.20,68.64 L533.85,66.40 L534.50,64.09 L535.50,60.44 L536.10,58.95 L536.70,56.31 L537.60,53.29 L538.30,47.77 L538.80,41.79 L539.20,38.80" stroke="#f0302a" stroke-width="1.05" fill="none" stroke-linejoin="round"/>
<rect x="500.80" y="27.60" width="15.00" height="5.60" fill="#e0e0e0" stroke="none" stroke-width="0.8"/>
<rect x="515.80" y="27.60" width="18.50" height="5.60" fill="#e0e0e0" stroke="none" stroke-width="0.8"/>
<rect x="500.80" y="33.20" width="15.00" height="6.60" fill="#ececec" stroke="none" stroke-width="0.8"/>
<rect x="515.80" y="33.20" width="18.50" height="6.60" fill="#ececec" stroke="none" stroke-width="0.8"/>
<rect x="500.80" y="39.80" width="15.00" height="6.50" fill="#e4e4e4" stroke="none" stroke-width="0.8"/>
<rect x="515.80" y="39.80" width="18.50" height="6.50" fill="#e4e4e4" stroke="none" stroke-width="0.8"/>
<line x1="500.80" y1="27.60" x2="500.80" y2="46.30" stroke="#fff" stroke-width="0.5"/>
<line x1="515.80" y1="27.60" x2="515.80" y2="46.30" stroke="#fff" stroke-width="0.5"/>
<line x1="534.30" y1="27.60" x2="534.30" y2="46.30" stroke="#fff" stroke-width="0.5"/>
<line x1="500.80" y1="33.20" x2="534.30" y2="33.20" stroke="#fff" stroke-width="0.5"/>
<line x1="500.80" y1="39.80" x2="534.30" y2="39.80" stroke="#fff" stroke-width="0.5"/>
<text x="508.30" y="31.67" font-size="3.7" text-anchor="middle" fill="#222" font-weight="bold">pvalue</text>
<text x="525.00" y="31.74" font-size="3.9" text-anchor="middle" fill="#222" font-weight="bold">p.adjust</text>
<text x="508.30" y="37.84" font-size="3.6" text-anchor="middle" fill="#333">3e-04</text>
<text x="525.00" y="37.84" font-size="3.6" text-anchor="middle" fill="#333">0.0037</text>
<text x="508.30" y="44.34" font-size="3.6" text-anchor="middle" fill="#333">2e-04</text>
<text x="525.00" y="44.34" font-size="3.6" text-anchor="middle" fill="#333">0.0031</text>
<text x="497.60" y="38.11" font-size="3.82" text-anchor="end" fill="#3a52f0">HALLMARK_GLYCOLYSIS</text>
<text x="497.60" y="44.71" font-size="3.82" text-anchor="end" fill="#f0302a">HALLMARK_HYPOXIA</text>
<rect x="372.59" y="85.7" width="0.9" height="9.80" fill="#3c5cf2" fill-opacity="0.69"/>
<rect x="374.28" y="85.7" width="0.5" height="9.80" fill="#3c5cf2" fill-opacity="0.64"/>
<rect x="375.24" y="85.7" width="0.5" height="9.80" fill="#3c5cf2" fill-opacity="0.45"/>
<rect x="375.66" y="85.7" width="0.5" height="9.80" fill="#3c5cf2" fill-opacity="0.60"/>
<rect x="376.02" y="85.7" width="0.9" height="9.80" fill="#3c5cf2" fill-opacity="0.42"/>
<rect x="377.43" y="85.7" width="0.7" height="9.80" fill="#3c5cf2" fill-opacity="0.78"/>
<rect x="377.48" y="85.7" width="1.3" height="9.80" fill="#3c5cf2" fill-opacity="0.63"/>
<rect x="383.88" y="85.7" width="1.3" height="9.80" fill="#3c5cf2" fill-opacity="0.93"/>
<rect x="384.59" y="85.7" width="1.1" height="9.80" fill="#3c5cf2" fill-opacity="0.89"/>
<rect x="384.86" y="85.7" width="1.1" height="9.80" fill="#3c5cf2" fill-opacity="0.96"/>
<rect x="384.96" y="85.7" width="0.5" height="9.80" fill="#3c5cf2" fill-opacity="0.71"/>
<rect x="385.77" y="85.7" width="1.1" height="9.80" fill="#3c5cf2" fill-opacity="0.83"/>
<rect x="386.20" y="85.7" width="0.9" height="9.80" fill="#3c5cf2" fill-opacity="0.67"/>
<rect x="386.37" y="85.7" width="1.3" height="9.80" fill="#3c5cf2" fill-opacity="0.88"/>
<rect x="386.92" y="85.7" width="1.3" height="9.80" fill="#3c5cf2" fill-opacity="0.75"/>
<rect x="387.41" y="85.7" width="1.3" height="9.80" fill="#3c5cf2" fill-opacity="0.66"/>
<rect x="388.08" y="85.7" width="1.1" height="9.80" fill="#3c5cf2" fill-opacity="0.48"/>
<rect x="389.22" y="85.7" width="1.3" height="9.80" fill="#3c5cf2" fill-opacity="0.97"/>
<rect x="391.78" y="85.7" width="0.7" height="9.80" fill="#3c5cf2" fill-opacity="0.45"/>
<rect x="392.03" y="85.7" width="1.3" height="9.80" fill="#3c5cf2" fill-opacity="0.98"/>
<rect x="394.00" y="85.7" width="1.1" height="9.80" fill="#3c5cf2" fill-opacity="0.49"/>
<rect x="394.18" y="85.7" width="1.3" height="9.80" fill="#3c5cf2" fill-opacity="0.44"/>
<rect x="395.04" y="85.7" width="0.5" height="9.80" fill="#3c5cf2" fill-opacity="0.38"/>
<rect x="395.73" y="85.7" width="0.5" height="9.80" fill="#3c5cf2" fill-opacity="0.72"/>
<rect x="395.81" y="85.7" width="0.5" height="9.80" fill="#3c5cf2" fill-opacity="0.68"/>
<rect x="398.57" y="85.7" width="1.1" height="9.80" fill="#3c5cf2" fill-opacity="0.66"/>
<rect x="401.53" y="85.7" width="1.3" height="9.80" fill="#3c5cf2" fill-opacity="0.68"/>
<rect x="401.67" y="85.7" width="0.5" height="9.80" fill="#3c5cf2" fill-opacity="0.39"/>
<rect x="402.76" y="85.7" width="0.5" height="9.80" fill="#3c5cf2" fill-opacity="0.78"/>
<rect x="403.06" y="85.7" width="1.1" height="9.80" fill="#3c5cf2" fill-opacity="0.95"/>
<rect x="403.98" y="85.7" width="1.1" height="9.80" fill="#3c5cf2" fill-opacity="0.59"/>
<rect x="404.06" y="85.7" width="1.1" height="9.80" fill="#3c5cf2" fill-opacity="0.49"/>
<rect x="405.35" y="85.7" width="0.9" height="9.80" fill="#3c5cf2" fill-opacity="0.65"/>
<rect x="406.03" y="85.7" width="1.1" height="9.80" fill="#3c5cf2" fill-opacity="0.60"/>
<rect x="407.37" y="85.7" width="0.5" height="9.80" fill="#3c5cf2" fill-opacity="0.67"/>
<rect x="407.73" y="85.7" width="1.3" height="9.80" fill="#3c5cf2" fill-opacity="0.43"/>
<rect x="407.79" y="85.7" width="0.9" height="9.80" fill="#3c5cf2" fill-opacity="0.32"/>
<rect x="407.93" y="85.7" width="0.5" height="9.80" fill="#3c5cf2" fill-opacity="0.39"/>
<rect x="411.96" y="85.7" width="0.7" height="9.80" fill="#3c5cf2" fill-opacity="0.32"/>
<rect x="412.72" y="85.7" width="0.9" height="9.80" fill="#3c5cf2" fill-opacity="0.46"/>
<rect x="413.79" y="85.7" width="0.9" height="9.80" fill="#3c5cf2" fill-opacity="0.53"/>
<rect x="414.84" y="85.7" width="1.1" height="9.80" fill="#3c5cf2" fill-opacity="0.47"/>
<rect x="417.57" y="85.7" width="1.3" height="9.80" fill="#3c5cf2" fill-opacity="0.37"/>
<rect x="418.31" y="85.7" width="1.3" height="9.80" fill="#3c5cf2" fill-opacity="0.39"/>
<rect x="420.34" y="85.7" width="0.7" height="9.80" fill="#3c5cf2" fill-opacity="0.74"/>
<rect x="421.54" y="85.7" width="1.1" height="9.80" fill="#3c5cf2" fill-opacity="0.79"/>
<rect x="422.32" y="85.7" width="1.1" height="9.80" fill="#3c5cf2" fill-opacity="0.32"/>
<rect x="423.64" y="85.7" width="1.3" height="9.80" fill="#3c5cf2" fill-opacity="0.88"/>
<rect x="424.68" y="85.7" width="0.7" height="9.80" fill="#3c5cf2" fill-opacity="0.41"/>
<rect x="426.61" y="85.7" width="1.3" height="9.80" fill="#3c5cf2" fill-opacity="0.90"/>
<rect x="430.73" y="85.7" width="1.3" height="9.80" fill="#3c5cf2" fill-opacity="0.75"/>
<rect x="434.02" y="85.7" width="1.3" height="9.80" fill="#3c5cf2" fill-opacity="0.45"/>
<rect x="434.86" y="85.7" width="0.7" height="9.80" fill="#3c5cf2" fill-opacity="0.73"/>
<rect x="437.63" y="85.7" width="0.9" height="9.80" fill="#3c5cf2" fill-opacity="0.46"/>
<rect x="441.54" y="85.7" width="0.9" height="9.80" fill="#3c5cf2" fill-opacity="0.93"/>
<rect x="442.25" y="85.7" width="0.7" height="9.80" fill="#3c5cf2" fill-opacity="0.72"/>
<rect x="446.26" y="85.7" width="0.7" height="9.80" fill="#3c5cf2" fill-opacity="0.45"/>
<rect x="447.08" y="85.7" width="0.7" height="9.80" fill="#3c5cf2" fill-opacity="0.92"/>
<rect x="447.37" y="85.7" width="0.7" height="9.80" fill="#3c5cf2" fill-opacity="0.92"/>
<rect x="447.77" y="85.7" width="0.9" height="9.80" fill="#3c5cf2" fill-opacity="0.81"/>
<rect x="448.19" y="85.7" width="1.1" height="9.80" fill="#3c5cf2" fill-opacity="0.57"/>
<rect x="451.14" y="85.7" width="1.1" height="9.80" fill="#3c5cf2" fill-opacity="0.88"/>
<rect x="452.10" y="85.7" width="0.7" height="9.80" fill="#3c5cf2" fill-opacity="0.68"/>
<rect x="452.31" y="85.7" width="0.5" height="9.80" fill="#3c5cf2" fill-opacity="0.44"/>
<rect x="455.21" y="85.7" width="1.3" height="9.80" fill="#3c5cf2" fill-opacity="0.37"/>
<rect x="456.55" y="85.7" width="0.9" height="9.80" fill="#3c5cf2" fill-opacity="0.78"/>
<rect x="458.42" y="85.7" width="1.3" height="9.80" fill="#3c5cf2" fill-opacity="0.38"/>
<rect x="459.95" y="85.7" width="0.9" height="9.80" fill="#3c5cf2" fill-opacity="0.74"/>
<rect x="461.37" y="85.7" width="0.7" height="9.80" fill="#3c5cf2" fill-opacity="0.65"/>
<rect x="465.06" y="85.7" width="1.1" height="9.80" fill="#3c5cf2" fill-opacity="0.86"/>
<rect x="467.19" y="85.7" width="0.5" height="9.80" fill="#3c5cf2" fill-opacity="0.37"/>
<rect x="468.93" y="85.7" width="1.3" height="9.80" fill="#3c5cf2" fill-opacity="0.83"/>
<rect x="469.00" y="85.7" width="1.3" height="9.80" fill="#3c5cf2" fill-opacity="0.66"/>
<rect x="471.22" y="85.7" width="0.7" height="9.80" fill="#3c5cf2" fill-opacity="0.64"/>
<rect x="474.17" y="85.7" width="0.7" height="9.80" fill="#3c5cf2" fill-opacity="0.43"/>
<rect x="474.19" y="85.7" width="0.7" height="9.80" fill="#3c5cf2" fill-opacity="0.42"/>
<rect x="475.93" y="85.7" width="0.5" height="9.80" fill="#3c5cf2" fill-opacity="0.99"/>
<rect x="476.06" y="85.7" width="0.7" height="9.80" fill="#3c5cf2" fill-opacity="0.71"/>
<rect x="476.63" y="85.7" width="1.1" height="9.80" fill="#3c5cf2" fill-opacity="0.97"/>
<rect x="476.75" y="85.7" width="0.5" height="9.80" fill="#3c5cf2" fill-opacity="0.35"/>
<rect x="476.76" y="85.7" width="1.1" height="9.80" fill="#3c5cf2" fill-opacity="0.53"/>
<rect x="478.69" y="85.7" width="0.9" height="9.80" fill="#3c5cf2" fill-opacity="0.60"/>
<rect x="480.29" y="85.7" width="1.3" height="9.80" fill="#3c5cf2" fill-opacity="0.60"/>
<rect x="480.72" y="85.7" width="0.5" height="9.80" fill="#3c5cf2" fill-opacity="0.56"/>
<rect x="485.78" y="85.7" width="0.7" height="9.80" fill="#3c5cf2" fill-opacity="0.89"/>
<rect x="486.90" y="85.7" width="0.9" height="9.80" fill="#3c5cf2" fill-opacity="0.59"/>
<rect x="487.26" y="85.7" width="1.1" height="9.80" fill="#3c5cf2" fill-opacity="0.82"/>
<rect x="487.91" y="85.7" width="1.3" height="9.80" fill="#3c5cf2" fill-opacity="0.95"/>
<rect x="488.07" y="85.7" width="1.3" height="9.80" fill="#3c5cf2" fill-opacity="0.42"/>
<rect x="489.78" y="85.7" width="0.9" height="9.80" fill="#3c5cf2" fill-opacity="0.85"/>
<rect x="490.70" y="85.7" width="1.1" height="9.80" fill="#3c5cf2" fill-opacity="0.93"/>
<rect x="493.02" y="85.7" width="0.7" height="9.80" fill="#3c5cf2" fill-opacity="0.70"/>
<rect x="494.15" y="85.7" width="0.9" height="9.80" fill="#3c5cf2" fill-opacity="0.65"/>
<rect x="494.49" y="85.7" width="0.9" height="9.80" fill="#3c5cf2" fill-opacity="0.86"/>
<rect x="499.32" y="85.7" width="0.5" height="9.80" fill="#3c5cf2" fill-opacity="0.50"/>
<rect x="500.38" y="85.7" width="0.7" height="9.80" fill="#3c5cf2" fill-opacity="0.82"/>
<rect x="501.34" y="85.7" width="1.1" height="9.80" fill="#3c5cf2" fill-opacity="0.87"/>
<rect x="504.41" y="85.7" width="0.9" height="9.80" fill="#3c5cf2" fill-opacity="0.39"/>
<rect x="509.81" y="85.7" width="0.9" height="9.80" fill="#3c5cf2" fill-opacity="0.92"/>
<rect x="511.56" y="85.7" width="0.7" height="9.80" fill="#3c5cf2" fill-opacity="0.84"/>
<rect x="512.61" y="85.7" width="0.7" height="9.80" fill="#3c5cf2" fill-opacity="0.58"/>
<rect x="513.90" y="85.7" width="0.9" height="9.80" fill="#3c5cf2" fill-opacity="0.35"/>
<rect x="514.13" y="85.7" width="0.5" height="9.80" fill="#3c5cf2" fill-opacity="0.51"/>
<rect x="515.40" y="85.7" width="0.9" height="9.80" fill="#3c5cf2" fill-opacity="0.31"/>
<rect x="516.95" y="85.7" width="1.3" height="9.80" fill="#3c5cf2" fill-opacity="0.99"/>
<rect x="518.03" y="85.7" width="0.9" height="9.80" fill="#3c5cf2" fill-opacity="0.33"/>
<rect x="518.18" y="85.7" width="0.9" height="9.80" fill="#3c5cf2" fill-opacity="0.96"/>
<rect x="518.50" y="85.7" width="1.1" height="9.80" fill="#3c5cf2" fill-opacity="0.54"/>
<rect x="522.40" y="85.7" width="1.3" height="9.80" fill="#3c5cf2" fill-opacity="0.70"/>
<rect x="522.48" y="85.7" width="1.3" height="9.80" fill="#3c5cf2" fill-opacity="0.35"/>
<rect x="523.15" y="85.7" width="0.7" height="9.80" fill="#3c5cf2" fill-opacity="1.00"/>
<rect x="524.32" y="85.7" width="1.1" height="9.80" fill="#3c5cf2" fill-opacity="0.79"/>
<rect x="525.46" y="85.7" width="0.5" height="9.80" fill="#3c5cf2" fill-opacity="0.99"/>
<rect x="526.85" y="85.7" width="0.5" height="9.80" fill="#3c5cf2" fill-opacity="0.38"/>
<rect x="528.77" y="85.7" width="0.9" height="9.80" fill="#3c5cf2" fill-opacity="0.82"/>
<rect x="531.24" y="85.7" width="1.3" height="9.80" fill="#3c5cf2" fill-opacity="0.61"/>
<rect x="532.05" y="85.7" width="0.7" height="9.80" fill="#3c5cf2" fill-opacity="0.34"/>
<rect x="534.75" y="85.7" width="0.5" height="9.80" fill="#3c5cf2" fill-opacity="0.75"/>
<rect x="534.77" y="85.7" width="0.9" height="9.80" fill="#3c5cf2" fill-opacity="0.37"/>
<rect x="535.03" y="85.7" width="0.9" height="9.80" fill="#3c5cf2" fill-opacity="0.49"/>
<rect x="374.30" y="95.5" width="0.5" height="10.40" fill="#f03c28" fill-opacity="0.63"/>
<rect x="376.18" y="95.5" width="0.7" height="10.40" fill="#f03c28" fill-opacity="0.55"/>
<rect x="378.52" y="95.5" width="1.1" height="10.40" fill="#f03c28" fill-opacity="0.37"/>
<rect x="379.04" y="95.5" width="0.5" height="10.40" fill="#f03c28" fill-opacity="0.77"/>
<rect x="382.30" y="95.5" width="0.5" height="10.40" fill="#f03c28" fill-opacity="0.76"/>
<rect x="382.82" y="95.5" width="1.1" height="10.40" fill="#f03c28" fill-opacity="0.90"/>
<rect x="384.80" y="95.5" width="1.3" height="10.40" fill="#f03c28" fill-opacity="0.47"/>
<rect x="385.08" y="95.5" width="0.5" height="10.40" fill="#f03c28" fill-opacity="0.38"/>
<rect x="385.49" y="95.5" width="0.7" height="10.40" fill="#f03c28" fill-opacity="0.90"/>
<rect x="386.02" y="95.5" width="0.7" height="10.40" fill="#f03c28" fill-opacity="0.93"/>
<rect x="386.14" y="95.5" width="1.1" height="10.40" fill="#f03c28" fill-opacity="0.50"/>
<rect x="386.41" y="95.5" width="0.9" height="10.40" fill="#f03c28" fill-opacity="0.96"/>
<rect x="386.52" y="95.5" width="1.1" height="10.40" fill="#f03c28" fill-opacity="0.97"/>
<rect x="386.81" y="95.5" width="0.5" height="10.40" fill="#f03c28" fill-opacity="0.69"/>
<rect x="391.50" y="95.5" width="0.7" height="10.40" fill="#f03c28" fill-opacity="0.48"/>
<rect x="396.31" y="95.5" width="0.5" height="10.40" fill="#f03c28" fill-opacity="0.56"/>
<rect x="397.43" y="95.5" width="0.9" height="10.40" fill="#f03c28" fill-opacity="0.53"/>
<rect x="398.42" y="95.5" width="0.9" height="10.40" fill="#f03c28" fill-opacity="0.69"/>
<rect x="398.53" y="95.5" width="1.1" height="10.40" fill="#f03c28" fill-opacity="0.61"/>
<rect x="398.97" y="95.5" width="0.7" height="10.40" fill="#f03c28" fill-opacity="0.36"/>
<rect x="400.49" y="95.5" width="0.7" height="10.40" fill="#f03c28" fill-opacity="0.74"/>
<rect x="401.05" y="95.5" width="0.7" height="10.40" fill="#f03c28" fill-opacity="0.77"/>
<rect x="401.73" y="95.5" width="1.1" height="10.40" fill="#f03c28" fill-opacity="0.43"/>
<rect x="403.04" y="95.5" width="1.1" height="10.40" fill="#f03c28" fill-opacity="0.33"/>
<rect x="403.12" y="95.5" width="0.5" height="10.40" fill="#f03c28" fill-opacity="0.71"/>
<rect x="404.77" y="95.5" width="0.5" height="10.40" fill="#f03c28" fill-opacity="0.37"/>
<rect x="406.21" y="95.5" width="0.5" height="10.40" fill="#f03c28" fill-opacity="0.41"/>
<rect x="406.32" y="95.5" width="0.5" height="10.40" fill="#f03c28" fill-opacity="0.60"/>
<rect x="407.36" y="95.5" width="1.1" height="10.40" fill="#f03c28" fill-opacity="0.54"/>
<rect x="407.79" y="95.5" width="0.7" height="10.40" fill="#f03c28" fill-opacity="0.95"/>
<rect x="408.98" y="95.5" width="0.7" height="10.40" fill="#f03c28" fill-opacity="0.75"/>
<rect x="411.46" y="95.5" width="1.1" height="10.40" fill="#f03c28" fill-opacity="0.87"/>
<rect x="413.05" y="95.5" width="1.1" height="10.40" fill="#f03c28" fill-opacity="0.64"/>
<rect x="413.59" y="95.5" width="1.1" height="10.40" fill="#f03c28" fill-opacity="0.74"/>
<rect x="416.61" y="95.5" width="0.9" height="10.40" fill="#f03c28" fill-opacity="0.73"/>
<rect x="417.34" y="95.5" width="0.7" height="10.40" fill="#f03c28" fill-opacity="0.99"/>
<rect x="419.32" y="95.5" width="1.3" height="10.40" fill="#f03c28" fill-opacity="0.76"/>
<rect x="419.42" y="95.5" width="0.9" height="10.40" fill="#f03c28" fill-opacity="0.67"/>
<rect x="421.49" y="95.5" width="0.9" height="10.40" fill="#f03c28" fill-opacity="0.53"/>
<rect x="424.04" y="95.5" width="1.1" height="10.40" fill="#f03c28" fill-opacity="0.51"/>
<rect x="424.09" y="95.5" width="1.1" height="10.40" fill="#f03c28" fill-opacity="0.37"/>
<rect x="425.07" y="95.5" width="0.9" height="10.40" fill="#f03c28" fill-opacity="0.44"/>
<rect x="425.76" y="95.5" width="0.5" height="10.40" fill="#f03c28" fill-opacity="0.85"/>
<rect x="426.35" y="95.5" width="0.7" height="10.40" fill="#f03c28" fill-opacity="0.73"/>
<rect x="431.72" y="95.5" width="1.3" height="10.40" fill="#f03c28" fill-opacity="0.48"/>
<rect x="431.94" y="95.5" width="1.3" height="10.40" fill="#f03c28" fill-opacity="0.93"/>
<rect x="433.00" y="95.5" width="1.3" height="10.40" fill="#f03c28" fill-opacity="0.46"/>
<rect x="433.00" y="95.5" width="0.7" height="10.40" fill="#f03c28" fill-opacity="0.65"/>
<rect x="433.14" y="95.5" width="0.7" height="10.40" fill="#f03c28" fill-opacity="0.70"/>
<rect x="433.99" y="95.5" width="1.3" height="10.40" fill="#f03c28" fill-opacity="0.99"/>
<rect x="434.26" y="95.5" width="0.7" height="10.40" fill="#f03c28" fill-opacity="1.00"/>
<rect x="434.65" y="95.5" width="0.5" height="10.40" fill="#f03c28" fill-opacity="0.70"/>
<rect x="437.77" y="95.5" width="0.7" height="10.40" fill="#f03c28" fill-opacity="0.74"/>
<rect x="437.97" y="95.5" width="0.7" height="10.40" fill="#f03c28" fill-opacity="0.84"/>
<rect x="442.09" y="95.5" width="1.3" height="10.40" fill="#f03c28" fill-opacity="0.47"/>
<rect x="442.73" y="95.5" width="0.9" height="10.40" fill="#f03c28" fill-opacity="0.59"/>
<rect x="443.28" y="95.5" width="0.9" height="10.40" fill="#f03c28" fill-opacity="0.53"/>
<rect x="443.58" y="95.5" width="0.5" height="10.40" fill="#f03c28" fill-opacity="0.49"/>
<rect x="445.79" y="95.5" width="0.7" height="10.40" fill="#f03c28" fill-opacity="0.62"/>
<rect x="447.89" y="95.5" width="1.3" height="10.40" fill="#f03c28" fill-opacity="0.47"/>
<rect x="451.96" y="95.5" width="1.3" height="10.40" fill="#f03c28" fill-opacity="0.68"/>
<rect x="452.37" y="95.5" width="0.9" height="10.40" fill="#f03c28" fill-opacity="0.34"/>
<rect x="454.20" y="95.5" width="0.9" height="10.40" fill="#f03c28" fill-opacity="0.42"/>
<rect x="458.82" y="95.5" width="0.5" height="10.40" fill="#f03c28" fill-opacity="0.72"/>
<rect x="459.20" y="95.5" width="0.5" height="10.40" fill="#f03c28" fill-opacity="0.95"/>
<rect x="459.68" y="95.5" width="0.9" height="10.40" fill="#f03c28" fill-opacity="0.50"/>
<rect x="459.82" y="95.5" width="1.3" height="10.40" fill="#f03c28" fill-opacity="0.47"/>
<rect x="459.90" y="95.5" width="0.7" height="10.40" fill="#f03c28" fill-opacity="0.55"/>
<rect x="462.14" y="95.5" width="1.3" height="10.40" fill="#f03c28" fill-opacity="0.43"/>
<rect x="462.43" y="95.5" width="1.1" height="10.40" fill="#f03c28" fill-opacity="0.87"/>
<rect x="462.56" y="95.5" width="0.7" height="10.40" fill="#f03c28" fill-opacity="0.32"/>
<rect x="463.00" y="95.5" width="0.7" height="10.40" fill="#f03c28" fill-opacity="0.85"/>
<rect x="463.53" y="95.5" width="1.1" height="10.40" fill="#f03c28" fill-opacity="0.52"/>
<rect x="463.63" y="95.5" width="0.5" height="10.40" fill="#f03c28" fill-opacity="0.73"/>
<rect x="465.88" y="95.5" width="1.1" height="10.40" fill="#f03c28" fill-opacity="0.41"/>
<rect x="468.86" y="95.5" width="0.7" height="10.40" fill="#f03c28" fill-opacity="0.63"/>
<rect x="470.42" y="95.5" width="0.5" height="10.40" fill="#f03c28" fill-opacity="0.67"/>
<rect x="470.94" y="95.5" width="0.7" height="10.40" fill="#f03c28" fill-opacity="0.70"/>
<rect x="471.39" y="95.5" width="0.7" height="10.40" fill="#f03c28" fill-opacity="0.54"/>
<rect x="472.40" y="95.5" width="1.3" height="10.40" fill="#f03c28" fill-opacity="0.48"/>
<rect x="473.65" y="95.5" width="0.5" height="10.40" fill="#f03c28" fill-opacity="0.95"/>
<rect x="475.66" y="95.5" width="0.5" height="10.40" fill="#f03c28" fill-opacity="0.75"/>
<rect x="475.81" y="95.5" width="0.7" height="10.40" fill="#f03c28" fill-opacity="0.81"/>
<rect x="479.91" y="95.5" width="1.1" height="10.40" fill="#f03c28" fill-opacity="0.58"/>
<rect x="480.92" y="95.5" width="1.1" height="10.40" fill="#f03c28" fill-opacity="0.72"/>
<rect x="481.33" y="95.5" width="1.3" height="10.40" fill="#f03c28" fill-opacity="0.54"/>
<rect x="485.87" y="95.5" width="1.3" height="10.40" fill="#f03c28" fill-opacity="0.94"/>
<rect x="485.92" y="95.5" width="0.9" height="10.40" fill="#f03c28" fill-opacity="0.83"/>
<rect x="489.88" y="95.5" width="1.1" height="10.40" fill="#f03c28" fill-opacity="0.64"/>
<rect x="490.55" y="95.5" width="1.1" height="10.40" fill="#f03c28" fill-opacity="0.89"/>
<rect x="491.08" y="95.5" width="0.5" height="10.40" fill="#f03c28" fill-opacity="0.88"/>
<rect x="491.81" y="95.5" width="1.3" height="10.40" fill="#f03c28" fill-opacity="0.70"/>
<rect x="492.11" y="95.5" width="1.3" height="10.40" fill="#f03c28" fill-opacity="0.53"/>
<rect x="492.49" y="95.5" width="0.5" height="10.40" fill="#f03c28" fill-opacity="0.60"/>
<rect x="494.02" y="95.5" width="0.5" height="10.40" fill="#f03c28" fill-opacity="0.52"/>
<rect x="496.35" y="95.5" width="1.3" height="10.40" fill="#f03c28" fill-opacity="0.51"/>
<rect x="497.18" y="95.5" width="1.1" height="10.40" fill="#f03c28" fill-opacity="0.93"/>
<rect x="499.73" y="95.5" width="0.9" height="10.40" fill="#f03c28" fill-opacity="0.72"/>
<rect x="500.85" y="95.5" width="0.5" height="10.40" fill="#f03c28" fill-opacity="0.92"/>
<rect x="500.92" y="95.5" width="1.1" height="10.40" fill="#f03c28" fill-opacity="0.47"/>
<rect x="501.25" y="95.5" width="1.1" height="10.40" fill="#f03c28" fill-opacity="0.47"/>
<rect x="502.30" y="95.5" width="1.1" height="10.40" fill="#f03c28" fill-opacity="0.98"/>
<rect x="503.13" y="95.5" width="1.3" height="10.40" fill="#f03c28" fill-opacity="0.79"/>
<rect x="504.42" y="95.5" width="1.3" height="10.40" fill="#f03c28" fill-opacity="0.94"/>
<rect x="505.13" y="95.5" width="1.1" height="10.40" fill="#f03c28" fill-opacity="0.51"/>
<rect x="505.27" y="95.5" width="0.5" height="10.40" fill="#f03c28" fill-opacity="0.96"/>
<rect x="505.40" y="95.5" width="0.9" height="10.40" fill="#f03c28" fill-opacity="1.00"/>
<rect x="505.61" y="95.5" width="1.1" height="10.40" fill="#f03c28" fill-opacity="0.91"/>
<rect x="506.42" y="95.5" width="0.7" height="10.40" fill="#f03c28" fill-opacity="0.69"/>
<rect x="506.48" y="95.5" width="1.1" height="10.40" fill="#f03c28" fill-opacity="0.46"/>
<rect x="506.53" y="95.5" width="0.5" height="10.40" fill="#f03c28" fill-opacity="0.70"/>
<rect x="507.73" y="95.5" width="0.7" height="10.40" fill="#f03c28" fill-opacity="0.37"/>
<rect x="509.24" y="95.5" width="1.3" height="10.40" fill="#f03c28" fill-opacity="0.39"/>
<rect x="509.26" y="95.5" width="1.1" height="10.40" fill="#f03c28" fill-opacity="0.70"/>
<rect x="510.92" y="95.5" width="0.7" height="10.40" fill="#f03c28" fill-opacity="0.30"/>
<rect x="514.39" y="95.5" width="0.5" height="10.40" fill="#f03c28" fill-opacity="0.81"/>
<rect x="516.36" y="95.5" width="0.5" height="10.40" fill="#f03c28" fill-opacity="0.53"/>
<rect x="518.29" y="95.5" width="1.1" height="10.40" fill="#f03c28" fill-opacity="0.61"/>
<rect x="523.66" y="95.5" width="1.1" height="10.40" fill="#f03c28" fill-opacity="0.87"/>
<rect x="523.81" y="95.5" width="1.3" height="10.40" fill="#f03c28" fill-opacity="0.40"/>
<rect x="523.93" y="95.5" width="0.9" height="10.40" fill="#f03c28" fill-opacity="0.46"/>
<rect x="524.22" y="95.5" width="0.9" height="10.40" fill="#f03c28" fill-opacity="0.32"/>
<rect x="528.94" y="95.5" width="1.1" height="10.40" fill="#f03c28" fill-opacity="0.52"/>
<rect x="530.63" y="95.5" width="1.1" height="10.40" fill="#f03c28" fill-opacity="0.40"/>
<rect x="531.01" y="95.5" width="0.7" height="10.40" fill="#f03c28" fill-opacity="0.92"/>
<rect x="532.44" y="95.5" width="0.5" height="10.40" fill="#f03c28" fill-opacity="0.51"/>
<rect x="532.56" y="95.5" width="0.9" height="10.40" fill="#f03c28" fill-opacity="0.44"/>
<rect x="532.75" y="95.5" width="0.5" height="10.40" fill="#f03c28" fill-opacity="0.93"/>
<rect x="533.56" y="95.5" width="1.3" height="10.40" fill="#f03c28" fill-opacity="0.42"/>
<rect x="537.19" y="95.5" width="0.7" height="10.40" fill="#f03c28" fill-opacity="0.44"/>
<rect x="372.20" y="95.50" width="1.40" height="10.40" fill="#f03c28" stroke="none" stroke-width="0.8"/>
<rect x="372.20" y="85.70" width="0.80" height="9.80" fill="#3c5cf2" stroke="none" stroke-width="0.8"/>
<path d="M372.20,128.40 L372.20,120.50 L372.70,120.92 L373.20,121.80 L373.70,122.57 L374.20,123.24 L374.70,123.82 L375.20,124.33 L375.70,124.77 L376.20,125.16 L376.70,125.49 L377.20,125.78 L377.70,126.04 L378.20,126.26 L378.70,126.46 L379.20,126.63 L379.70,126.78 L380.20,126.91 L380.70,127.03 L381.20,127.13 L381.70,127.22 L382.20,127.30 L382.70,127.37 L383.20,127.43 L383.70,127.49 L384.20,127.54 L384.70,127.58 L385.20,127.62 L385.70,127.66 L386.20,127.69 L386.70,127.72 L387.20,127.75 L387.70,127.77 L388.20,127.80 L388.70,127.82 L389.20,127.84 L389.70,127.85 L390.20,127.87 L390.70,127.88 L391.20,127.90 L391.70,127.91 L392.20,127.93 L392.70,127.94 L393.20,127.95 L393.70,127.96 L394.20,127.97 L394.70,127.98 L395.20,127.99 L395.70,128.00 L396.20,128.01 L396.70,128.02 L397.20,128.03 L397.70,128.03 L398.20,128.04 L398.70,128.05 L399.20,128.06 L399.70,128.06 L400.20,128.07 L400.70,128.08 L401.20,128.08 L401.70,128.09 L420.00,127.90 L470.00,128.20 L500.00,128.60 L520.00,129.20 L530.00,130.00 L535.00,131.00 L538.00,132.50 L539.20,135.60 L539.20,128.40 Z" fill="#b8b8b8" stroke="#a8a8a8" stroke-width="0.3"/>
<text x="373.7" y="112.3" font-size="6.7" fill="#111">HCT116<tspan font-size="3.6" dy="-2.6">shNC</tspan><tspan dy="2.6"> (n=2)</tspan></text>
<text x="537.7" y="112.3" font-size="6.7" fill="#111" text-anchor="end">HCT116<tspan font-size="3.6" dy="-2.6">shENO1</tspan><tspan dy="2.6"> (n=2)</tspan></text>
<rect x="569.10" y="28.60" width="22.95" height="1.55" fill="#f0b0a0"/>
<rect x="569.10" y="30.10" width="22.95" height="3.45" fill="#f04a30"/>
<rect x="569.10" y="33.50" width="22.95" height="3.55" fill="#f24228"/>
<rect x="569.10" y="37.00" width="22.95" height="2.95" fill="#f04a30"/>
<rect x="569.10" y="39.90" width="22.95" height="2.95" fill="#f0a090"/>
<rect x="569.10" y="42.80" width="22.95" height="3.65" fill="#f06040"/>
<rect x="569.10" y="46.40" width="22.95" height="3.05" fill="#f5d0c8"/>
<rect x="569.10" y="49.40" width="22.95" height="3.15" fill="#eee8ec"/>
<rect x="569.10" y="52.50" width="22.95" height="2.75" fill="#f2e6e6"/>
<rect x="569.10" y="55.20" width="22.95" height="3.45" fill="#f0c0b0"/>
<rect x="569.10" y="58.60" width="22.95" height="3.05" fill="#f09080"/>
<rect x="569.10" y="61.60" width="22.95" height="4.45" fill="#f06040"/>
<rect x="569.10" y="66.00" width="22.95" height="4.05" fill="#f06848"/>
<rect x="569.10" y="70.00" width="22.95" height="2.05" fill="#f08070"/>
<rect x="569.10" y="72.00" width="22.95" height="6.05" fill="#f06444"/>
<rect x="569.10" y="78.00" width="22.95" height="4.05" fill="#f06a50"/>
<rect x="569.10" y="82.00" width="22.95" height="3.05" fill="#f0a090"/>
<rect x="569.10" y="85.00" width="22.95" height="2.85" fill="#4a70f0"/>
<rect x="569.10" y="87.80" width="22.95" height="0.85" fill="#d8d8f0"/>
<rect x="569.10" y="88.60" width="22.95" height="4.45" fill="#f5c8c0"/>
<rect x="569.10" y="93.00" width="22.95" height="3.05" fill="#d8e0f8"/>
<rect x="569.10" y="96.00" width="22.95" height="2.95" fill="#a0b8f0"/>
<rect x="569.10" y="98.90" width="22.95" height="9.55" fill="#3860f0"/>
<rect x="569.10" y="108.40" width="22.95" height="2.15" fill="#c0d0f8"/>
<rect x="569.10" y="110.50" width="22.95" height="3.75" fill="#f0d0c8"/>
<rect x="569.10" y="114.20" width="22.95" height="2.85" fill="#d0dcf8"/>
<rect x="569.10" y="117.00" width="22.95" height="1.05" fill="#7090f0"/>
<rect x="569.10" y="118.00" width="22.95" height="5.85" fill="#6a90f0"/>
<rect x="569.10" y="123.80" width="22.95" height="3.05" fill="#d0dcf8"/>
<rect x="569.10" y="126.80" width="22.95" height="11.65" fill="#5a80f0"/>
<rect x="569.10" y="138.40" width="22.95" height="6.65" fill="#6a90f0"/>
<rect x="569.10" y="145.00" width="22.95" height="3.05" fill="#f0b8a8"/>
<rect x="569.10" y="148.00" width="22.95" height="2.85" fill="#f5d0c8"/>
<rect x="569.10" y="150.80" width="22.95" height="1.25" fill="#f08070"/>
<rect x="569.10" y="152.00" width="22.95" height="0.85" fill="#f0b8a8"/>
<rect x="592.00" y="28.60" width="22.95" height="4.05" fill="#3050f0"/>
<rect x="592.00" y="32.60" width="22.95" height="2.95" fill="#f0b8b0"/>
<rect x="592.00" y="35.50" width="22.95" height="3.65" fill="#c0d0f0"/>
<rect x="592.00" y="39.10" width="22.95" height="2.95" fill="#f0c0b0"/>
<rect x="592.00" y="42.00" width="22.95" height="3.75" fill="#f4dcd8"/>
<rect x="592.00" y="45.70" width="22.95" height="3.75" fill="#c8d8f8"/>
<rect x="592.00" y="49.40" width="22.95" height="5.65" fill="#f05030"/>
<rect x="592.00" y="55.00" width="22.95" height="3.05" fill="#f05030"/>
<rect x="592.00" y="58.00" width="22.95" height="3.65" fill="#f09080"/>
<rect x="592.00" y="61.60" width="22.95" height="3.65" fill="#f5d0c8"/>
<rect x="592.00" y="65.20" width="22.95" height="4.85" fill="#f07060"/>
<rect x="592.00" y="70.00" width="22.95" height="4.05" fill="#f08070"/>
<rect x="592.00" y="74.00" width="22.95" height="6.05" fill="#f07060"/>
<rect x="592.00" y="80.00" width="22.95" height="5.05" fill="#f04a30"/>
<rect x="592.00" y="85.00" width="22.95" height="2.25" fill="#f09080"/>
<rect x="592.00" y="87.20" width="22.95" height="5.85" fill="#f06048"/>
<rect x="592.00" y="93.00" width="22.95" height="5.95" fill="#f03a20"/>
<rect x="592.00" y="98.90" width="22.95" height="2.95" fill="#f5c8c0"/>
<rect x="592.00" y="101.80" width="22.95" height="3.65" fill="#e0e8f8"/>
<rect x="592.00" y="105.40" width="22.95" height="4.45" fill="#a0b8f0"/>
<rect x="592.00" y="109.80" width="22.95" height="8.05" fill="#4a70f0"/>
<rect x="592.00" y="117.80" width="22.95" height="6.05" fill="#a8c0f0"/>
<rect x="592.00" y="123.80" width="22.95" height="2.25" fill="#4060f0"/>
<rect x="592.00" y="126.00" width="22.95" height="11.75" fill="#6888f0"/>
<rect x="592.00" y="137.70" width="22.95" height="2.35" fill="#f0a090"/>
<rect x="592.00" y="140.00" width="22.95" height="1.55" fill="#f8ece8"/>
<rect x="592.00" y="141.50" width="22.95" height="2.05" fill="#f09080"/>
<rect x="592.00" y="143.50" width="22.95" height="2.25" fill="#f4d8d0"/>
<rect x="592.00" y="145.70" width="22.95" height="5.15" fill="#f0c8c0"/>
<rect x="592.00" y="150.80" width="22.95" height="2.05" fill="#dce4f8"/>
<rect x="614.90" y="28.60" width="22.55" height="1.95" fill="#f0b0a0"/>
<rect x="614.90" y="30.50" width="22.55" height="2.15" fill="#c0d0f0"/>
<rect x="614.90" y="32.60" width="22.55" height="2.45" fill="#f0c8c0"/>
<rect x="614.90" y="35.00" width="22.55" height="3.05" fill="#a8c0f0"/>
<rect x="614.90" y="38.00" width="22.55" height="4.05" fill="#f0b8a8"/>
<rect x="614.90" y="42.00" width="22.55" height="3.75" fill="#f4dcd8"/>
<rect x="614.90" y="45.70" width="22.55" height="3.75" fill="#f06040"/>
<rect x="614.90" y="49.40" width="22.55" height="8.65" fill="#4060f0"/>
<rect x="614.90" y="58.00" width="22.55" height="6.55" fill="#3050f8"/>
<rect x="614.90" y="64.50" width="22.55" height="5.15" fill="#5878f0"/>
<rect x="614.90" y="69.60" width="22.55" height="4.45" fill="#80a0f0"/>
<rect x="614.90" y="74.00" width="22.55" height="6.05" fill="#a0b8f0"/>
<rect x="614.90" y="80.00" width="22.55" height="5.05" fill="#6080f0"/>
<rect x="614.90" y="85.00" width="22.55" height="3.65" fill="#f09080"/>
<rect x="614.90" y="88.60" width="22.55" height="4.45" fill="#e8eaf8"/>
<rect x="614.90" y="93.00" width="22.55" height="5.95" fill="#a8c0f0"/>
<rect x="614.90" y="98.90" width="22.55" height="2.15" fill="#f0a090"/>
<rect x="614.90" y="101.00" width="22.55" height="7.45" fill="#f04a30"/>
<rect x="614.90" y="108.40" width="22.55" height="7.35" fill="#f04020"/>
<rect x="614.90" y="115.70" width="22.55" height="2.35" fill="#e0e4f8"/>
<rect x="614.90" y="118.00" width="22.55" height="5.85" fill="#f0f0f8"/>
<rect x="614.90" y="123.80" width="22.55" height="3.05" fill="#f09080"/>
<rect x="614.90" y="126.80" width="22.55" height="10.25" fill="#f0b0a0"/>
<rect x="614.90" y="137.00" width="22.55" height="9.55" fill="#80a0f0"/>
<rect x="614.90" y="146.50" width="22.55" height="6.35" fill="#3050f8"/>
<rect x="637.40" y="28.60" width="22.55" height="1.95" fill="#f0b0a0"/>
<rect x="637.40" y="30.50" width="22.55" height="2.15" fill="#c0d0f0"/>
<rect x="637.40" y="32.60" width="22.55" height="4.95" fill="#5070f0"/>
<rect x="637.40" y="37.50" width="22.55" height="1.65" fill="#dde4f8"/>
<rect x="637.40" y="39.10" width="22.55" height="8.75" fill="#3050f8"/>
<rect x="637.40" y="47.80" width="22.55" height="1.55" fill="#f0c0b0"/>
<rect x="637.40" y="49.30" width="22.55" height="1.25" fill="#e8ecf8"/>
<rect x="637.40" y="50.50" width="22.55" height="8.15" fill="#c0d0f8"/>
<rect x="637.40" y="58.60" width="22.55" height="3.75" fill="#e8ecf8"/>
<rect x="637.40" y="62.30" width="22.55" height="2.95" fill="#a0b8f0"/>
<rect x="637.40" y="65.20" width="22.55" height="19.05" fill="#5a80f0"/>
<rect x="637.40" y="84.20" width="22.55" height="3.85" fill="#a0b8f0"/>
<rect x="637.40" y="88.00" width="22.55" height="5.05" fill="#3858f0"/>
<rect x="637.40" y="93.00" width="22.55" height="4.45" fill="#90a8f0"/>
<rect x="637.40" y="97.40" width="22.55" height="3.65" fill="#f0a898"/>
<rect x="637.40" y="101.00" width="22.55" height="4.45" fill="#f0e8f0"/>
<rect x="637.40" y="105.40" width="22.55" height="3.05" fill="#f09888"/>
<rect x="637.40" y="108.40" width="22.55" height="2.95" fill="#c0d0f8"/>
<rect x="637.40" y="111.30" width="22.55" height="3.75" fill="#f4f0f4"/>
<rect x="637.40" y="115.00" width="22.55" height="9.65" fill="#f03a20"/>
<rect x="637.40" y="124.60" width="22.55" height="21.95" fill="#f05838"/>
<rect x="637.40" y="146.50" width="22.55" height="6.35" fill="#f08070"/>
<rect x="569.10" y="28.60" width="22.90" height="0.7" fill="#000" fill-opacity="0.11"/>
<rect x="592.00" y="29.30" width="22.90" height="0.6" fill="#fff" fill-opacity="0.06"/>
<rect x="614.90" y="29.90" width="22.50" height="0.6" fill="#fff" fill-opacity="0.09"/>
<rect x="569.10" y="30.50" width="22.90" height="0.6" fill="#fff" fill-opacity="0.19"/>
<rect x="614.90" y="30.50" width="22.50" height="0.6" fill="#000" fill-opacity="0.05"/>
<rect x="637.40" y="30.50" width="22.50" height="0.6" fill="#000" fill-opacity="0.09"/>
<rect x="569.10" y="31.10" width="22.90" height="0.5" fill="#fff" fill-opacity="0.21"/>
<rect x="614.90" y="31.10" width="22.50" height="0.5" fill="#000" fill-opacity="0.21"/>
<rect x="569.10" y="31.60" width="22.90" height="0.6" fill="#fff" fill-opacity="0.11"/>
<rect x="592.00" y="31.60" width="22.90" height="0.6" fill="#fff" fill-opacity="0.06"/>
<rect x="637.40" y="31.60" width="22.50" height="0.6" fill="#fff" fill-opacity="0.17"/>
<rect x="592.00" y="32.20" width="22.90" height="0.6" fill="#fff" fill-opacity="0.17"/>
<rect x="637.40" y="32.20" width="22.50" height="0.6" fill="#000" fill-opacity="0.09"/>
<rect x="592.00" y="33.50" width="22.90" height="0.6" fill="#fff" fill-opacity="0.06"/>
<rect x="637.40" y="33.50" width="22.50" height="0.6" fill="#000" fill-opacity="0.18"/>
<rect x="569.10" y="34.10" width="22.90" height="0.6" fill="#fff" fill-opacity="0.11"/>
<rect x="614.90" y="34.10" width="22.50" height="0.6" fill="#000" fill-opacity="0.18"/>
<rect x="614.90" y="34.70" width="22.50" height="0.5" fill="#fff" fill-opacity="0.14"/>
<rect x="637.40" y="34.70" width="22.50" height="0.5" fill="#000" fill-opacity="0.10"/>
<rect x="569.10" y="35.20" width="22.90" height="0.5" fill="#fff" fill-opacity="0.10"/>
<rect x="592.00" y="35.20" width="22.90" height="0.5" fill="#000" fill-opacity="0.08"/>
<rect x="637.40" y="35.20" width="22.50" height="0.5" fill="#000" fill-opacity="0.06"/>
<rect x="592.00" y="35.70" width="22.90" height="0.7" fill="#fff" fill-opacity="0.18"/>
<rect x="614.90" y="35.70" width="22.50" height="0.7" fill="#fff" fill-opacity="0.16"/>
<rect x="569.10" y="36.40" width="22.90" height="0.7" fill="#000" fill-opacity="0.13"/>
<rect x="592.00" y="36.40" width="22.90" height="0.7" fill="#000" fill-opacity="0.17"/>
<rect x="569.10" y="37.10" width="22.90" height="0.5" fill="#fff" fill-opacity="0.11"/>
<rect x="614.90" y="37.10" width="22.50" height="0.5" fill="#000" fill-opacity="0.21"/>
<rect x="637.40" y="37.10" width="22.50" height="0.5" fill="#000" fill-opacity="0.14"/>
<rect x="614.90" y="37.60" width="22.50" height="0.7" fill="#fff" fill-opacity="0.12"/>
<rect x="637.40" y="38.30" width="22.50" height="0.7" fill="#fff" fill-opacity="0.07"/>
<rect x="592.00" y="39.70" width="22.90" height="0.7" fill="#fff" fill-opacity="0.10"/>
<rect x="614.90" y="40.40" width="22.50" height="0.6" fill="#000" fill-opacity="0.21"/>
<rect x="614.90" y="41.00" width="22.50" height="0.5" fill="#fff" fill-opacity="0.10"/>
<rect x="592.00" y="41.50" width="22.90" height="0.7" fill="#000" fill-opacity="0.16"/>
<rect x="569.10" y="42.70" width="22.90" height="0.7" fill="#fff" fill-opacity="0.22"/>
<rect x="637.40" y="42.70" width="22.50" height="0.7" fill="#000" fill-opacity="0.06"/>
<rect x="569.10" y="43.40" width="22.90" height="0.6" fill="#fff" fill-opacity="0.18"/>
<rect x="569.10" y="44.00" width="22.90" height="0.7" fill="#fff" fill-opacity="0.22"/>
<rect x="637.40" y="44.00" width="22.50" height="0.7" fill="#fff" fill-opacity="0.18"/>
<rect x="569.10" y="44.70" width="22.90" height="0.7" fill="#fff" fill-opacity="0.13"/>
<rect x="592.00" y="44.70" width="22.90" height="0.7" fill="#fff" fill-opacity="0.07"/>
<rect x="614.90" y="44.70" width="22.50" height="0.7" fill="#fff" fill-opacity="0.08"/>
<rect x="592.00" y="45.40" width="22.90" height="0.6" fill="#000" fill-opacity="0.08"/>
<rect x="592.00" y="46.60" width="22.90" height="0.5" fill="#fff" fill-opacity="0.10"/>
<rect x="637.40" y="46.60" width="22.50" height="0.5" fill="#fff" fill-opacity="0.11"/>
<rect x="637.40" y="47.10" width="22.50" height="0.6" fill="#fff" fill-opacity="0.15"/>
<rect x="592.00" y="48.20" width="22.90" height="0.5" fill="#fff" fill-opacity="0.21"/>
<rect x="614.90" y="48.20" width="22.50" height="0.5" fill="#fff" fill-opacity="0.20"/>
<rect x="592.00" y="49.20" width="22.90" height="0.5" fill="#fff" fill-opacity="0.22"/>
<rect x="637.40" y="49.20" width="22.50" height="0.5" fill="#fff" fill-opacity="0.22"/>
<rect x="569.10" y="49.70" width="22.90" height="0.6" fill="#000" fill-opacity="0.05"/>
<rect x="614.90" y="49.70" width="22.50" height="0.6" fill="#fff" fill-opacity="0.06"/>
<rect x="592.00" y="50.30" width="22.90" height="0.6" fill="#000" fill-opacity="0.21"/>
<rect x="614.90" y="50.30" width="22.50" height="0.6" fill="#fff" fill-opacity="0.10"/>
<rect x="592.00" y="51.50" width="22.90" height="0.7" fill="#fff" fill-opacity="0.07"/>
<rect x="569.10" y="52.90" width="22.90" height="0.7" fill="#fff" fill-opacity="0.05"/>
<rect x="614.90" y="52.90" width="22.50" height="0.7" fill="#fff" fill-opacity="0.17"/>
<rect x="592.00" y="54.80" width="22.90" height="0.6" fill="#000" fill-opacity="0.19"/>
<rect x="637.40" y="54.80" width="22.50" height="0.6" fill="#000" fill-opacity="0.18"/>
<rect x="569.10" y="55.40" width="22.90" height="0.5" fill="#000" fill-opacity="0.17"/>
<rect x="592.00" y="55.90" width="22.90" height="0.7" fill="#000" fill-opacity="0.09"/>
<rect x="569.10" y="56.60" width="22.90" height="0.5" fill="#fff" fill-opacity="0.12"/>
<rect x="637.40" y="56.60" width="22.50" height="0.5" fill="#000" fill-opacity="0.07"/>
<rect x="592.00" y="57.10" width="22.90" height="0.5" fill="#000" fill-opacity="0.10"/>
<rect x="614.90" y="57.10" width="22.50" height="0.5" fill="#fff" fill-opacity="0.15"/>
<rect x="637.40" y="57.10" width="22.50" height="0.5" fill="#fff" fill-opacity="0.16"/>
<rect x="614.90" y="57.60" width="22.50" height="0.5" fill="#fff" fill-opacity="0.15"/>
<rect x="569.10" y="58.10" width="22.90" height="0.7" fill="#fff" fill-opacity="0.12"/>
<rect x="592.00" y="58.80" width="22.90" height="0.6" fill="#fff" fill-opacity="0.10"/>
<rect x="637.40" y="58.80" width="22.50" height="0.6" fill="#fff" fill-opacity="0.21"/>
<rect x="569.10" y="59.40" width="22.90" height="0.5" fill="#fff" fill-opacity="0.14"/>
<rect x="637.40" y="59.40" width="22.50" height="0.5" fill="#fff" fill-opacity="0.09"/>
<rect x="592.00" y="59.90" width="22.90" height="0.7" fill="#fff" fill-opacity="0.05"/>
<rect x="637.40" y="59.90" width="22.50" height="0.7" fill="#fff" fill-opacity="0.20"/>
<rect x="569.10" y="60.60" width="22.90" height="0.6" fill="#fff" fill-opacity="0.20"/>
<rect x="592.00" y="60.60" width="22.90" height="0.6" fill="#fff" fill-opacity="0.19"/>
<rect x="637.40" y="60.60" width="22.50" height="0.6" fill="#000" fill-opacity="0.08"/>
<rect x="614.90" y="61.20" width="22.50" height="0.7" fill="#fff" fill-opacity="0.20"/>
<rect x="637.40" y="61.20" width="22.50" height="0.7" fill="#fff" fill-opacity="0.17"/>
<rect x="569.10" y="61.90" width="22.90" height="0.5" fill="#000" fill-opacity="0.21"/>
<rect x="569.10" y="63.00" width="22.90" height="0.7" fill="#fff" fill-opacity="0.22"/>
<rect x="592.00" y="63.00" width="22.90" height="0.7" fill="#fff" fill-opacity="0.06"/>
<rect x="614.90" y="63.00" width="22.50" height="0.7" fill="#fff" fill-opacity="0.08"/>
<rect x="592.00" y="63.70" width="22.90" height="0.7" fill="#000" fill-opacity="0.13"/>
<rect x="592.00" y="64.40" width="22.90" height="0.6" fill="#fff" fill-opacity="0.16"/>
<rect x="569.10" y="65.00" width="22.90" height="0.6" fill="#fff" fill-opacity="0.09"/>
<rect x="592.00" y="65.00" width="22.90" height="0.6" fill="#fff" fill-opacity="0.10"/>
<rect x="637.40" y="65.00" width="22.50" height="0.6" fill="#fff" fill-opacity="0.21"/>
<rect x="592.00" y="66.10" width="22.90" height="0.5" fill="#fff" fill-opacity="0.13"/>
<rect x="637.40" y="66.10" width="22.50" height="0.5" fill="#fff" fill-opacity="0.17"/>
<rect x="569.10" y="66.60" width="22.90" height="0.7" fill="#000" fill-opacity="0.12"/>
<rect x="614.90" y="66.60" width="22.50" height="0.7" fill="#fff" fill-opacity="0.13"/>
<rect x="614.90" y="67.30" width="22.50" height="0.7" fill="#fff" fill-opacity="0.09"/>
<rect x="592.00" y="68.00" width="22.90" height="0.7" fill="#000" fill-opacity="0.06"/>
<rect x="637.40" y="68.00" width="22.50" height="0.7" fill="#000" fill-opacity="0.14"/>
<rect x="637.40" y="68.70" width="22.50" height="0.7" fill="#fff" fill-opacity="0.19"/>
<rect x="569.10" y="69.40" width="22.90" height="0.6" fill="#fff" fill-opacity="0.09"/>
<rect x="614.90" y="69.40" width="22.50" height="0.6" fill="#fff" fill-opacity="0.09"/>
<rect x="637.40" y="69.40" width="22.50" height="0.6" fill="#fff" fill-opacity="0.06"/>
<rect x="569.10" y="70.00" width="22.90" height="0.5" fill="#fff" fill-opacity="0.14"/>
<rect x="614.90" y="70.00" width="22.50" height="0.5" fill="#fff" fill-opacity="0.10"/>
<rect x="614.90" y="70.50" width="22.50" height="0.5" fill="#fff" fill-opacity="0.05"/>
<rect x="614.90" y="71.00" width="22.50" height="0.7" fill="#000" fill-opacity="0.05"/>
<rect x="592.00" y="71.70" width="22.90" height="0.5" fill="#000" fill-opacity="0.13"/>
<rect x="614.90" y="71.70" width="22.50" height="0.5" fill="#fff" fill-opacity="0.12"/>
<rect x="569.10" y="72.20" width="22.90" height="0.6" fill="#fff" fill-opacity="0.06"/>
<rect x="614.90" y="72.20" width="22.50" height="0.6" fill="#000" fill-opacity="0.06"/>
<rect x="637.40" y="72.20" width="22.50" height="0.6" fill="#fff" fill-opacity="0.08"/>
<rect x="592.00" y="72.80" width="22.90" height="0.6" fill="#fff" fill-opacity="0.18"/>
<rect x="637.40" y="72.80" width="22.50" height="0.6" fill="#000" fill-opacity="0.10"/>
<rect x="614.90" y="73.90" width="22.50" height="0.5" fill="#fff" fill-opacity="0.19"/>
<rect x="637.40" y="73.90" width="22.50" height="0.5" fill="#fff" fill-opacity="0.06"/>
<rect x="592.00" y="74.40" width="22.90" height="0.6" fill="#fff" fill-opacity="0.06"/>
<rect x="637.40" y="74.40" width="22.50" height="0.6" fill="#000" fill-opacity="0.07"/>
<rect x="592.00" y="75.00" width="22.90" height="0.6" fill="#fff" fill-opacity="0.21"/>
<rect x="637.40" y="75.00" width="22.50" height="0.6" fill="#fff" fill-opacity="0.08"/>
<rect x="637.40" y="75.60" width="22.50" height="0.5" fill="#fff" fill-opacity="0.14"/>
<rect x="569.10" y="76.10" width="22.90" height="0.7" fill="#fff" fill-opacity="0.18"/>
<rect x="614.90" y="76.10" width="22.50" height="0.7" fill="#fff" fill-opacity="0.13"/>
<rect x="592.00" y="77.30" width="22.90" height="0.6" fill="#fff" fill-opacity="0.19"/>
<rect x="614.90" y="77.30" width="22.50" height="0.6" fill="#fff" fill-opacity="0.22"/>
<rect x="637.40" y="77.90" width="22.50" height="0.6" fill="#fff" fill-opacity="0.19"/>
<rect x="614.90" y="78.50" width="22.50" height="0.7" fill="#fff" fill-opacity="0.11"/>
<rect x="614.90" y="79.20" width="22.50" height="0.5" fill="#fff" fill-opacity="0.19"/>
<rect x="637.40" y="79.20" width="22.50" height="0.5" fill="#fff" fill-opacity="0.08"/>
<rect x="569.10" y="79.70" width="22.90" height="0.7" fill="#000" fill-opacity="0.21"/>
<rect x="637.40" y="80.40" width="22.50" height="0.7" fill="#fff" fill-opacity="0.14"/>
<rect x="592.00" y="81.10" width="22.90" height="0.5" fill="#000" fill-opacity="0.17"/>
<rect x="592.00" y="82.30" width="22.90" height="0.7" fill="#fff" fill-opacity="0.07"/>
<rect x="637.40" y="82.30" width="22.50" height="0.7" fill="#fff" fill-opacity="0.18"/>
<rect x="569.10" y="83.00" width="22.90" height="0.6" fill="#fff" fill-opacity="0.06"/>
<rect x="592.00" y="83.60" width="22.90" height="0.6" fill="#fff" fill-opacity="0.21"/>
<rect x="614.90" y="83.60" width="22.50" height="0.6" fill="#000" fill-opacity="0.07"/>
<rect x="637.40" y="83.60" width="22.50" height="0.6" fill="#000" fill-opacity="0.11"/>
<rect x="637.40" y="84.20" width="22.50" height="0.7" fill="#fff" fill-opacity="0.07"/>
<rect x="592.00" y="85.60" width="22.90" height="0.7" fill="#fff" fill-opacity="0.17"/>
<rect x="614.90" y="85.60" width="22.50" height="0.7" fill="#000" fill-opacity="0.19"/>
<rect x="569.10" y="86.30" width="22.90" height="0.6" fill="#fff" fill-opacity="0.07"/>
<rect x="637.40" y="86.30" width="22.50" height="0.6" fill="#fff" fill-opacity="0.21"/>
<rect x="592.00" y="86.90" width="22.90" height="0.6" fill="#fff" fill-opacity="0.06"/>
<rect x="592.00" y="87.50" width="22.90" height="0.7" fill="#fff" fill-opacity="0.13"/>
<rect x="614.90" y="87.50" width="22.50" height="0.7" fill="#fff" fill-opacity="0.12"/>
<rect x="569.10" y="88.20" width="22.90" height="0.6" fill="#fff" fill-opacity="0.06"/>
<rect x="637.40" y="88.20" width="22.50" height="0.6" fill="#fff" fill-opacity="0.08"/>
<rect x="592.00" y="88.80" width="22.90" height="0.7" fill="#000" fill-opacity="0.06"/>
<rect x="614.90" y="88.80" width="22.50" height="0.7" fill="#fff" fill-opacity="0.14"/>
<rect x="637.40" y="88.80" width="22.50" height="0.7" fill="#fff" fill-opacity="0.13"/>
<rect x="569.10" y="90.00" width="22.90" height="0.5" fill="#fff" fill-opacity="0.08"/>
<rect x="592.00" y="90.00" width="22.90" height="0.5" fill="#fff" fill-opacity="0.15"/>
<rect x="614.90" y="91.00" width="22.50" height="0.5" fill="#fff" fill-opacity="0.11"/>
<rect x="592.00" y="91.50" width="22.90" height="0.7" fill="#fff" fill-opacity="0.21"/>
<rect x="614.90" y="91.50" width="22.50" height="0.7" fill="#000" fill-opacity="0.22"/>
<rect x="637.40" y="91.50" width="22.50" height="0.7" fill="#fff" fill-opacity="0.05"/>
<rect x="592.00" y="92.20" width="22.90" height="0.6" fill="#000" fill-opacity="0.18"/>
<rect x="614.90" y="92.20" width="22.50" height="0.6" fill="#fff" fill-opacity="0.07"/>
<rect x="569.10" y="92.80" width="22.90" height="0.7" fill="#fff" fill-opacity="0.11"/>
<rect x="592.00" y="93.50" width="22.90" height="0.5" fill="#000" fill-opacity="0.11"/>
<rect x="637.40" y="93.50" width="22.50" height="0.5" fill="#fff" fill-opacity="0.12"/>
<rect x="592.00" y="94.00" width="22.90" height="0.7" fill="#fff" fill-opacity="0.21"/>
<rect x="637.40" y="94.00" width="22.50" height="0.7" fill="#000" fill-opacity="0.19"/>
<rect x="569.10" y="94.70" width="22.90" height="0.5" fill="#000" fill-opacity="0.11"/>
<rect x="592.00" y="94.70" width="22.90" height="0.5" fill="#fff" fill-opacity="0.18"/>
<rect x="614.90" y="94.70" width="22.50" height="0.5" fill="#fff" fill-opacity="0.09"/>
<rect x="569.10" y="95.20" width="22.90" height="0.7" fill="#fff" fill-opacity="0.22"/>
<rect x="614.90" y="95.20" width="22.50" height="0.7" fill="#000" fill-opacity="0.14"/>
<rect x="592.00" y="95.90" width="22.90" height="0.7" fill="#000" fill-opacity="0.08"/>
<rect x="614.90" y="96.60" width="22.50" height="0.7" fill="#000" fill-opacity="0.05"/>
<rect x="569.10" y="97.90" width="22.90" height="0.6" fill="#fff" fill-opacity="0.18"/>
<rect x="637.40" y="97.90" width="22.50" height="0.6" fill="#fff" fill-opacity="0.12"/>
<rect x="592.00" y="98.50" width="22.90" height="0.6" fill="#000" fill-opacity="0.16"/>
<rect x="637.40" y="98.50" width="22.50" height="0.6" fill="#fff" fill-opacity="0.17"/>
<rect x="592.00" y="99.10" width="22.90" height="0.6" fill="#000" fill-opacity="0.05"/>
<rect x="592.00" y="99.70" width="22.90" height="0.5" fill="#000" fill-opacity="0.11"/>
<rect x="614.90" y="99.70" width="22.50" height="0.5" fill="#fff" fill-opacity="0.19"/>
<rect x="637.40" y="99.70" width="22.50" height="0.5" fill="#fff" fill-opacity="0.16"/>
<rect x="569.10" y="100.20" width="22.90" height="0.5" fill="#000" fill-opacity="0.14"/>
<rect x="614.90" y="100.20" width="22.50" height="0.5" fill="#000" fill-opacity="0.07"/>
<rect x="569.10" y="101.30" width="22.90" height="0.7" fill="#fff" fill-opacity="0.05"/>
<rect x="614.90" y="101.30" width="22.50" height="0.7" fill="#fff" fill-opacity="0.16"/>
<rect x="637.40" y="101.30" width="22.50" height="0.7" fill="#fff" fill-opacity="0.09"/>
<rect x="614.90" y="102.00" width="22.50" height="0.7" fill="#fff" fill-opacity="0.14"/>
<rect x="637.40" y="102.70" width="22.50" height="0.6" fill="#000" fill-opacity="0.07"/>
<rect x="569.10" y="104.00" width="22.90" height="0.6" fill="#000" fill-opacity="0.08"/>
<rect x="592.00" y="104.00" width="22.90" height="0.6" fill="#000" fill-opacity="0.13"/>
<rect x="569.10" y="104.60" width="22.90" height="0.7" fill="#000" fill-opacity="0.14"/>
<rect x="592.00" y="104.60" width="22.90" height="0.7" fill="#fff" fill-opacity="0.11"/>
<rect x="637.40" y="104.60" width="22.50" height="0.7" fill="#fff" fill-opacity="0.13"/>
<rect x="569.10" y="105.30" width="22.90" height="0.5" fill="#fff" fill-opacity="0.20"/>
<rect x="592.00" y="105.30" width="22.90" height="0.5" fill="#fff" fill-opacity="0.19"/>
<rect x="614.90" y="105.30" width="22.50" height="0.5" fill="#fff" fill-opacity="0.07"/>
<rect x="637.40" y="105.30" width="22.50" height="0.5" fill="#fff" fill-opacity="0.09"/>
<rect x="569.10" y="106.80" width="22.90" height="0.5" fill="#000" fill-opacity="0.06"/>
<rect x="637.40" y="106.80" width="22.50" height="0.5" fill="#fff" fill-opacity="0.15"/>
<rect x="569.10" y="108.00" width="22.90" height="0.7" fill="#000" fill-opacity="0.06"/>
<rect x="592.00" y="108.00" width="22.90" height="0.7" fill="#fff" fill-opacity="0.06"/>
<rect x="637.40" y="108.70" width="22.50" height="0.7" fill="#fff" fill-opacity="0.12"/>
<rect x="569.10" y="109.40" width="22.90" height="0.6" fill="#000" fill-opacity="0.05"/>
<rect x="614.90" y="110.00" width="22.50" height="0.5" fill="#fff" fill-opacity="0.15"/>
<rect x="637.40" y="110.00" width="22.50" height="0.5" fill="#000" fill-opacity="0.22"/>
<rect x="614.90" y="110.50" width="22.50" height="0.6" fill="#fff" fill-opacity="0.07"/>
<rect x="592.00" y="111.10" width="22.90" height="0.6" fill="#fff" fill-opacity="0.05"/>
<rect x="569.10" y="112.20" width="22.90" height="0.6" fill="#fff" fill-opacity="0.07"/>
<rect x="637.40" y="112.20" width="22.50" height="0.6" fill="#000" fill-opacity="0.16"/>
<rect x="592.00" y="112.80" width="22.90" height="0.5" fill="#000" fill-opacity="0.07"/>
<rect x="614.90" y="112.80" width="22.50" height="0.5" fill="#fff" fill-opacity="0.18"/>
<rect x="637.40" y="113.30" width="22.50" height="0.7" fill="#fff" fill-opacity="0.12"/>
<rect x="569.10" y="114.00" width="22.90" height="0.5" fill="#fff" fill-opacity="0.10"/>
<rect x="637.40" y="114.00" width="22.50" height="0.5" fill="#fff" fill-opacity="0.06"/>
<rect x="637.40" y="114.50" width="22.50" height="0.5" fill="#fff" fill-opacity="0.12"/>
<rect x="637.40" y="115.50" width="22.50" height="0.6" fill="#fff" fill-opacity="0.18"/>
<rect x="569.10" y="116.10" width="22.90" height="0.7" fill="#000" fill-opacity="0.16"/>
<rect x="614.90" y="116.10" width="22.50" height="0.7" fill="#fff" fill-opacity="0.10"/>
<rect x="569.10" y="116.80" width="22.90" height="0.5" fill="#000" fill-opacity="0.14"/>
<rect x="614.90" y="117.30" width="22.50" height="0.6" fill="#000" fill-opacity="0.10"/>
<rect x="569.10" y="118.50" width="22.90" height="0.6" fill="#fff" fill-opacity="0.16"/>
<rect x="637.40" y="118.50" width="22.50" height="0.6" fill="#fff" fill-opacity="0.15"/>
<rect x="614.90" y="119.10" width="22.50" height="0.7" fill="#000" fill-opacity="0.09"/>
<rect x="614.90" y="119.80" width="22.50" height="0.6" fill="#fff" fill-opacity="0.17"/>
<rect x="592.00" y="121.00" width="22.90" height="0.5" fill="#000" fill-opacity="0.15"/>
<rect x="569.10" y="121.50" width="22.90" height="0.7" fill="#000" fill-opacity="0.11"/>
<rect x="592.00" y="121.50" width="22.90" height="0.7" fill="#fff" fill-opacity="0.12"/>
<rect x="637.40" y="121.50" width="22.50" height="0.7" fill="#000" fill-opacity="0.16"/>
<rect x="569.10" y="122.20" width="22.90" height="0.7" fill="#fff" fill-opacity="0.13"/>
<rect x="637.40" y="122.20" width="22.50" height="0.7" fill="#fff" fill-opacity="0.19"/>
<rect x="569.10" y="122.90" width="22.90" height="0.6" fill="#fff" fill-opacity="0.17"/>
<rect x="592.00" y="124.00" width="22.90" height="0.6" fill="#fff" fill-opacity="0.14"/>
<rect x="614.90" y="124.00" width="22.50" height="0.6" fill="#000" fill-opacity="0.08"/>
<rect x="614.90" y="124.60" width="22.50" height="0.5" fill="#000" fill-opacity="0.12"/>
<rect x="569.10" y="125.10" width="22.90" height="0.5" fill="#fff" fill-opacity="0.09"/>
<rect x="569.10" y="126.70" width="22.90" height="0.5" fill="#fff" fill-opacity="0.06"/>
<rect x="614.90" y="126.70" width="22.50" height="0.5" fill="#fff" fill-opacity="0.13"/>
<rect x="569.10" y="127.20" width="22.90" height="0.6" fill="#000" fill-opacity="0.06"/>
<rect x="569.10" y="129.00" width="22.90" height="0.7" fill="#fff" fill-opacity="0.07"/>
<rect x="592.00" y="129.00" width="22.90" height="0.7" fill="#fff" fill-opacity="0.09"/>
<rect x="637.40" y="129.00" width="22.50" height="0.7" fill="#fff" fill-opacity="0.17"/>
<rect x="592.00" y="129.70" width="22.90" height="0.5" fill="#fff" fill-opacity="0.12"/>
<rect x="614.90" y="129.70" width="22.50" height="0.5" fill="#fff" fill-opacity="0.20"/>
<rect x="569.10" y="130.80" width="22.90" height="0.7" fill="#fff" fill-opacity="0.07"/>
<rect x="569.10" y="132.20" width="22.90" height="0.5" fill="#000" fill-opacity="0.09"/>
<rect x="614.90" y="132.20" width="22.50" height="0.5" fill="#000" fill-opacity="0.14"/>
<rect x="569.10" y="133.20" width="22.90" height="0.5" fill="#fff" fill-opacity="0.08"/>
<rect x="592.00" y="133.20" width="22.90" height="0.5" fill="#fff" fill-opacity="0.05"/>
<rect x="637.40" y="134.30" width="22.50" height="0.5" fill="#000" fill-opacity="0.15"/>
<rect x="614.90" y="134.80" width="22.50" height="0.6" fill="#fff" fill-opacity="0.12"/>
<rect x="592.00" y="135.40" width="22.90" height="0.5" fill="#000" fill-opacity="0.14"/>
<rect x="637.40" y="135.40" width="22.50" height="0.5" fill="#fff" fill-opacity="0.16"/>
<rect x="614.90" y="135.90" width="22.50" height="0.5" fill="#000" fill-opacity="0.20"/>
<rect x="637.40" y="135.90" width="22.50" height="0.5" fill="#fff" fill-opacity="0.17"/>
<rect x="569.10" y="137.10" width="22.90" height="0.5" fill="#fff" fill-opacity="0.14"/>
<rect x="614.90" y="137.10" width="22.50" height="0.5" fill="#fff" fill-opacity="0.10"/>
<rect x="637.40" y="137.10" width="22.50" height="0.5" fill="#fff" fill-opacity="0.16"/>
<rect x="614.90" y="137.60" width="22.50" height="0.6" fill="#fff" fill-opacity="0.11"/>
<rect x="637.40" y="137.60" width="22.50" height="0.6" fill="#fff" fill-opacity="0.16"/>
<rect x="614.90" y="138.20" width="22.50" height="0.6" fill="#000" fill-opacity="0.11"/>
<rect x="637.40" y="138.80" width="22.50" height="0.5" fill="#fff" fill-opacity="0.09"/>
<rect x="614.90" y="140.40" width="22.50" height="0.7" fill="#fff" fill-opacity="0.06"/>
<rect x="637.40" y="140.40" width="22.50" height="0.7" fill="#fff" fill-opacity="0.18"/>
<rect x="569.10" y="141.10" width="22.90" height="0.7" fill="#fff" fill-opacity="0.05"/>
<rect x="592.00" y="141.10" width="22.90" height="0.7" fill="#fff" fill-opacity="0.15"/>
<rect x="637.40" y="141.10" width="22.50" height="0.7" fill="#fff" fill-opacity="0.21"/>
<rect x="569.10" y="141.80" width="22.90" height="0.6" fill="#fff" fill-opacity="0.16"/>
<rect x="614.90" y="141.80" width="22.50" height="0.6" fill="#000" fill-opacity="0.11"/>
<rect x="637.40" y="142.40" width="22.50" height="0.6" fill="#fff" fill-opacity="0.13"/>
<rect x="569.10" y="143.00" width="22.90" height="0.7" fill="#fff" fill-opacity="0.12"/>
<rect x="614.90" y="143.00" width="22.50" height="0.7" fill="#fff" fill-opacity="0.16"/>
<rect x="592.00" y="143.70" width="22.90" height="0.6" fill="#000" fill-opacity="0.18"/>
<rect x="637.40" y="143.70" width="22.50" height="0.6" fill="#fff" fill-opacity="0.08"/>
<rect x="592.00" y="144.30" width="22.90" height="0.7" fill="#fff" fill-opacity="0.16"/>
<rect x="592.00" y="145.00" width="22.90" height="0.6" fill="#fff" fill-opacity="0.08"/>
<rect x="637.40" y="145.60" width="22.50" height="0.7" fill="#000" fill-opacity="0.11"/>
<rect x="592.00" y="146.30" width="22.90" height="0.5" fill="#fff" fill-opacity="0.08"/>
<rect x="637.40" y="146.30" width="22.50" height="0.5" fill="#000" fill-opacity="0.21"/>
<rect x="592.00" y="146.80" width="22.90" height="0.6" fill="#fff" fill-opacity="0.13"/>
<rect x="614.90" y="146.80" width="22.50" height="0.6" fill="#000" fill-opacity="0.08"/>
<rect x="637.40" y="146.80" width="22.50" height="0.6" fill="#fff" fill-opacity="0.09"/>
<rect x="592.00" y="147.90" width="22.90" height="0.6" fill="#fff" fill-opacity="0.08"/>
<rect x="614.90" y="147.90" width="22.50" height="0.6" fill="#000" fill-opacity="0.08"/>
<rect x="614.90" y="148.50" width="22.50" height="0.5" fill="#000" fill-opacity="0.06"/>
<rect x="569.10" y="149.00" width="22.90" height="0.7" fill="#fff" fill-opacity="0.16"/>
<rect x="637.40" y="149.00" width="22.50" height="0.7" fill="#000" fill-opacity="0.08"/>
<rect x="569.10" y="149.70" width="22.90" height="0.5" fill="#000" fill-opacity="0.09"/>
<rect x="592.00" y="149.70" width="22.90" height="0.5" fill="#fff" fill-opacity="0.17"/>
<rect x="569.10" y="150.20" width="22.90" height="0.6" fill="#000" fill-opacity="0.16"/>
<rect x="614.90" y="150.20" width="22.50" height="0.6" fill="#fff" fill-opacity="0.08"/>
<rect x="614.90" y="150.80" width="22.50" height="0.5" fill="#fff" fill-opacity="0.09"/>
<rect x="569.10" y="151.30" width="22.90" height="0.5" fill="#fff" fill-opacity="0.17"/>
<rect x="614.90" y="151.30" width="22.50" height="0.5" fill="#000" fill-opacity="0.15"/>
<rect x="569.10" y="151.80" width="22.90" height="0.6" fill="#fff" fill-opacity="0.12"/>
<rect x="592.00" y="151.80" width="22.90" height="0.6" fill="#fff" fill-opacity="0.15"/>
<defs><linearGradient id="hmcb" x1="0" y1="0" x2="0" y2="1"><stop offset="0" stop-color="#f0301e"/><stop offset="0.5" stop-color="#ffffff"/><stop offset="1" stop-color="#2848f0"/></linearGradient></defs>
<rect x="661.20" y="29.00" width="3.10" height="29.90" fill="url(#hmcb)" stroke="none" stroke-width="0.8"/>
<text x="665.00" y="31.04" font-size="4.2" text-anchor="start" fill="#222">1.5</text>
<text x="665.30" y="45.74" font-size="4.2" text-anchor="start" fill="#222">0</text>
<text x="664.60" y="59.64" font-size="4.2" text-anchor="start" fill="#222">-1.5</text>
<path d="M580.55,28.60 L580.55,19.40 L603.45,19.40 L603.45,28.60" stroke="#444" stroke-width="0.5" fill="none"/>
<path d="M626.15,28.60 L626.15,17.40 L648.65,17.40 L648.65,28.60" stroke="#444" stroke-width="0.5" fill="none"/>
<path d="M592.00,19.40 L592.00,14.30 L637.40,14.30 L637.40,17.40" stroke="#444" stroke-width="0.5" fill="none"/>
<text x="611.40" y="12.80" font-size="6.4" text-anchor="middle" fill="#222" textLength="65.4" lengthAdjust="spacingAndGlyphs">HALLMARK GLYCOLYSIS</text>
<text x="574.8" y="161.1" font-size="7.4" fill="#111" textLength="24.5" lengthAdjust="spacingAndGlyphs">HCT116</text>
<text x="599.6" y="157.9" font-size="3.6" fill="#222" textLength="10.0" lengthAdjust="spacingAndGlyphs">shNC</text>
<text x="618.6" y="161.1" font-size="7.4" fill="#111" textLength="24.5" lengthAdjust="spacingAndGlyphs">HCT116</text>
<text x="643.4" y="157.9" font-size="3.6" fill="#222" textLength="14.4" lengthAdjust="spacingAndGlyphs">shENO1</text>
<path d="M568.80,29.95 L566.47,29.95 L566.47,30.65 L568.80,30.65" stroke="#4a4a4a" stroke-width="0.35" fill="none"/>
<path d="M568.80,29.31 L564.61,29.31 L564.61,30.30 L566.47,30.30" stroke="#4a4a4a" stroke-width="0.35" fill="none"/>
<path d="M568.80,31.49 L565.20,31.49 L565.20,32.43 L568.80,32.43" stroke="#4a4a4a" stroke-width="0.35" fill="none"/>
<path d="M564.61,29.80 L563.18,29.80 L563.18,31.96 L565.20,31.96" stroke="#4a4a4a" stroke-width="0.35" fill="none"/>
<path d="M568.80,33.51 L564.91,33.51 L564.91,34.59 L568.80,34.59" stroke="#4a4a4a" stroke-width="0.35" fill="none"/>
<path d="M568.80,35.42 L564.91,35.42 L564.91,36.14 L568.80,36.14" stroke="#4a4a4a" stroke-width="0.35" fill="none"/>
<path d="M564.91,34.05 L563.49,34.05 L563.49,35.78 L564.91,35.78" stroke="#4a4a4a" stroke-width="0.35" fill="none"/>
<path d="M563.18,30.88 L561.42,30.88 L561.42,34.92 L563.49,34.92" stroke="#4a4a4a" stroke-width="0.35" fill="none"/>
<path d="M568.80,38.21 L566.27,38.21 L566.27,39.14 L568.80,39.14" stroke="#4a4a4a" stroke-width="0.35" fill="none"/>
<path d="M568.80,37.12 L564.64,37.12 L564.64,38.67 L566.27,38.67" stroke="#4a4a4a" stroke-width="0.35" fill="none"/>
<path d="M568.80,40.87 L566.18,40.87 L566.18,41.64 L568.80,41.64" stroke="#4a4a4a" stroke-width="0.35" fill="none"/>
<path d="M568.80,39.97 L564.98,39.97 L564.98,41.26 L566.18,41.26" stroke="#4a4a4a" stroke-width="0.35" fill="none"/>
<path d="M564.64,37.90 L563.50,37.90 L563.50,40.61 L564.98,40.61" stroke="#4a4a4a" stroke-width="0.35" fill="none"/>
<path d="M568.80,42.28 L566.44,42.28 L566.44,42.99 L568.80,42.99" stroke="#4a4a4a" stroke-width="0.35" fill="none"/>
<path d="M566.44,42.63 L564.76,42.63 L564.76,43.79 L568.80,43.79" stroke="#4a4a4a" stroke-width="0.35" fill="none"/>
<path d="M568.80,44.76 L565.10,44.76 L565.10,45.63 L568.80,45.63" stroke="#4a4a4a" stroke-width="0.35" fill="none"/>
<path d="M564.76,43.21 L562.88,43.21 L562.88,45.20 L565.10,45.20" stroke="#4a4a4a" stroke-width="0.35" fill="none"/>
<path d="M563.50,39.26 L561.11,39.26 L561.11,44.20 L562.88,44.20" stroke="#4a4a4a" stroke-width="0.35" fill="none"/>
<path d="M561.42,32.90 L559.17,32.90 L559.17,41.73 L561.11,41.73" stroke="#4a4a4a" stroke-width="0.35" fill="none"/>
<path d="M568.80,46.53 L566.11,46.53 L566.11,47.66 L568.80,47.66" stroke="#4a4a4a" stroke-width="0.35" fill="none"/>
<path d="M568.80,48.88 L566.27,48.88 L566.27,50.32 L568.80,50.32" stroke="#4a4a4a" stroke-width="0.35" fill="none"/>
<path d="M566.11,47.09 L564.87,47.09 L564.87,49.60 L566.27,49.60" stroke="#4a4a4a" stroke-width="0.35" fill="none"/>
<path d="M568.80,51.87 L566.54,51.87 L566.54,53.24 L568.80,53.24" stroke="#4a4a4a" stroke-width="0.35" fill="none"/>
<path d="M568.80,54.36 L566.59,54.36 L566.59,55.20 L568.80,55.20" stroke="#4a4a4a" stroke-width="0.35" fill="none"/>
<path d="M566.54,52.55 L564.94,52.55 L564.94,54.78 L566.59,54.78" stroke="#4a4a4a" stroke-width="0.35" fill="none"/>
<path d="M564.87,48.35 L562.93,48.35 L562.93,53.67 L564.94,53.67" stroke="#4a4a4a" stroke-width="0.35" fill="none"/>
<path d="M568.80,56.77 L566.26,56.77 L566.26,58.78 L568.80,58.78" stroke="#4a4a4a" stroke-width="0.35" fill="none"/>
<path d="M568.80,60.18 L565.97,60.18 L565.97,61.31 L568.80,61.31" stroke="#4a4a4a" stroke-width="0.35" fill="none"/>
<path d="M566.26,57.78 L565.07,57.78 L565.07,60.75 L565.97,60.75" stroke="#4a4a4a" stroke-width="0.35" fill="none"/>
<path d="M568.80,62.27 L565.85,62.27 L565.85,63.33 L568.80,63.33" stroke="#4a4a4a" stroke-width="0.35" fill="none"/>
<path d="M568.80,64.51 L566.59,64.51 L566.59,65.48 L568.80,65.48" stroke="#4a4a4a" stroke-width="0.35" fill="none"/>
<path d="M565.85,62.80 L564.47,62.80 L564.47,64.99 L566.59,64.99" stroke="#4a4a4a" stroke-width="0.35" fill="none"/>
<path d="M565.07,59.26 L563.44,59.26 L563.44,63.89 L564.47,63.89" stroke="#4a4a4a" stroke-width="0.35" fill="none"/>
<path d="M562.93,51.01 L561.33,51.01 L561.33,61.58 L563.44,61.58" stroke="#4a4a4a" stroke-width="0.35" fill="none"/>
<path d="M568.80,66.47 L565.84,66.47 L565.84,67.47 L568.80,67.47" stroke="#4a4a4a" stroke-width="0.35" fill="none"/>
<path d="M568.80,68.24 L565.84,68.24 L565.84,68.97 L568.80,68.97" stroke="#4a4a4a" stroke-width="0.35" fill="none"/>
<path d="M565.84,66.97 L564.97,66.97 L564.97,68.60 L565.84,68.60" stroke="#4a4a4a" stroke-width="0.35" fill="none"/>
<path d="M568.80,69.91 L566.58,69.91 L566.58,70.90 L568.80,70.90" stroke="#4a4a4a" stroke-width="0.35" fill="none"/>
<path d="M568.80,71.90 L566.60,71.90 L566.60,73.11 L568.80,73.11" stroke="#4a4a4a" stroke-width="0.35" fill="none"/>
<path d="M566.58,70.41 L564.65,70.41 L564.65,72.51 L566.60,72.51" stroke="#4a4a4a" stroke-width="0.35" fill="none"/>
<path d="M564.97,67.79 L562.86,67.79 L562.86,71.46 L564.65,71.46" stroke="#4a4a4a" stroke-width="0.35" fill="none"/>
<path d="M568.80,74.19 L566.13,74.19 L566.13,75.34 L568.80,75.34" stroke="#4a4a4a" stroke-width="0.35" fill="none"/>
<path d="M568.80,77.10 L565.92,77.10 L565.92,79.15 L568.80,79.15" stroke="#4a4a4a" stroke-width="0.35" fill="none"/>
<path d="M566.13,74.76 L564.43,74.76 L564.43,78.12 L565.92,78.12" stroke="#4a4a4a" stroke-width="0.35" fill="none"/>
<path d="M568.80,80.87 L566.57,80.87 L566.57,82.59 L568.80,82.59" stroke="#4a4a4a" stroke-width="0.35" fill="none"/>
<path d="M568.80,84.23 L566.10,84.23 L566.10,85.34 L568.80,85.34" stroke="#4a4a4a" stroke-width="0.35" fill="none"/>
<path d="M566.57,81.73 L564.77,81.73 L564.77,84.78 L566.10,84.78" stroke="#4a4a4a" stroke-width="0.35" fill="none"/>
<path d="M564.43,76.44 L563.22,76.44 L563.22,83.26 L564.77,83.26" stroke="#4a4a4a" stroke-width="0.35" fill="none"/>
<path d="M562.86,69.62 L561.52,69.62 L561.52,79.85 L563.22,79.85" stroke="#4a4a4a" stroke-width="0.35" fill="none"/>
<path d="M561.33,56.29 L559.48,56.29 L559.48,74.74 L561.52,74.74" stroke="#4a4a4a" stroke-width="0.35" fill="none"/>
<path d="M559.17,37.31 L557.25,37.31 L557.25,65.51 L559.48,65.51" stroke="#4a4a4a" stroke-width="0.35" fill="none"/>
<path d="M568.80,86.23 L566.04,86.23 L566.04,87.37 L568.80,87.37" stroke="#4a4a4a" stroke-width="0.35" fill="none"/>
<path d="M568.80,88.59 L566.22,88.59 L566.22,89.46 L568.80,89.46" stroke="#4a4a4a" stroke-width="0.35" fill="none"/>
<path d="M566.04,86.80 L564.84,86.80 L564.84,89.03 L566.22,89.03" stroke="#4a4a4a" stroke-width="0.35" fill="none"/>
<path d="M568.80,90.14 L566.26,90.14 L566.26,90.91 L568.80,90.91" stroke="#4a4a4a" stroke-width="0.35" fill="none"/>
<path d="M568.80,91.82 L566.29,91.82 L566.29,93.23 L568.80,93.23" stroke="#4a4a4a" stroke-width="0.35" fill="none"/>
<path d="M566.26,90.52 L564.91,90.52 L564.91,92.52 L566.29,92.52" stroke="#4a4a4a" stroke-width="0.35" fill="none"/>
<path d="M564.84,87.91 L562.85,87.91 L562.85,91.52 L564.91,91.52" stroke="#4a4a4a" stroke-width="0.35" fill="none"/>
<path d="M568.80,94.74 L566.08,94.74 L566.08,95.84 L568.80,95.84" stroke="#4a4a4a" stroke-width="0.35" fill="none"/>
<path d="M568.80,96.97 L566.39,96.97 L566.39,98.11 L568.80,98.11" stroke="#4a4a4a" stroke-width="0.35" fill="none"/>
<path d="M566.08,95.29 L564.42,95.29 L564.42,97.54 L566.39,97.54" stroke="#4a4a4a" stroke-width="0.35" fill="none"/>
<path d="M568.80,99.00 L566.57,99.00 L566.57,99.70 L568.80,99.70" stroke="#4a4a4a" stroke-width="0.35" fill="none"/>
<path d="M568.80,100.53 L566.17,100.53 L566.17,101.75 L568.80,101.75" stroke="#4a4a4a" stroke-width="0.35" fill="none"/>
<path d="M566.57,99.35 L564.87,99.35 L564.87,101.14 L566.17,101.14" stroke="#4a4a4a" stroke-width="0.35" fill="none"/>
<path d="M564.42,96.41 L563.06,96.41 L563.06,100.24 L564.87,100.24" stroke="#4a4a4a" stroke-width="0.35" fill="none"/>
<path d="M562.85,89.72 L561.29,89.72 L561.29,98.33 L563.06,98.33" stroke="#4a4a4a" stroke-width="0.35" fill="none"/>
<path d="M568.80,102.84 L566.10,102.84 L566.10,103.74 L568.80,103.74" stroke="#4a4a4a" stroke-width="0.35" fill="none"/>
<path d="M568.80,104.71 L565.82,104.71 L565.82,105.52 L568.80,105.52" stroke="#4a4a4a" stroke-width="0.35" fill="none"/>
<path d="M566.10,103.29 L564.86,103.29 L564.86,105.12 L565.82,105.12" stroke="#4a4a4a" stroke-width="0.35" fill="none"/>
<path d="M568.80,106.36 L565.98,106.36 L565.98,107.50 L568.80,107.50" stroke="#4a4a4a" stroke-width="0.35" fill="none"/>
<path d="M568.80,108.64 L565.99,108.64 L565.99,109.50 L568.80,109.50" stroke="#4a4a4a" stroke-width="0.35" fill="none"/>
<path d="M565.98,106.93 L564.55,106.93 L564.55,109.07 L565.99,109.07" stroke="#4a4a4a" stroke-width="0.35" fill="none"/>
<path d="M564.86,104.20 L563.15,104.20 L563.15,108.00 L564.55,108.00" stroke="#4a4a4a" stroke-width="0.35" fill="none"/>
<path d="M568.80,110.29 L566.07,110.29 L566.07,111.28 L568.80,111.28" stroke="#4a4a4a" stroke-width="0.35" fill="none"/>
<path d="M568.80,112.79 L566.15,112.79 L566.15,114.40 L568.80,114.40" stroke="#4a4a4a" stroke-width="0.35" fill="none"/>
<path d="M566.07,110.78 L565.08,110.78 L565.08,113.59 L566.15,113.59" stroke="#4a4a4a" stroke-width="0.35" fill="none"/>
<path d="M568.80,115.41 L566.32,115.41 L566.32,116.23 L568.80,116.23" stroke="#4a4a4a" stroke-width="0.35" fill="none"/>
<path d="M568.80,117.43 L566.16,117.43 L566.16,118.66 L568.80,118.66" stroke="#4a4a4a" stroke-width="0.35" fill="none"/>
<path d="M566.32,115.82 L564.58,115.82 L564.58,118.04 L566.16,118.04" stroke="#4a4a4a" stroke-width="0.35" fill="none"/>
<path d="M565.08,112.19 L562.90,112.19 L562.90,116.93 L564.58,116.93" stroke="#4a4a4a" stroke-width="0.35" fill="none"/>
<path d="M563.15,106.10 L561.42,106.10 L561.42,114.56 L562.90,114.56" stroke="#4a4a4a" stroke-width="0.35" fill="none"/>
<path d="M561.29,94.02 L559.15,94.02 L559.15,110.33 L561.42,110.33" stroke="#4a4a4a" stroke-width="0.35" fill="none"/>
<path d="M568.80,119.65 L566.31,119.65 L566.31,120.53 L568.80,120.53" stroke="#4a4a4a" stroke-width="0.35" fill="none"/>
<path d="M568.80,121.57 L566.08,121.57 L566.08,122.72 L568.80,122.72" stroke="#4a4a4a" stroke-width="0.35" fill="none"/>
<path d="M566.31,120.09 L564.50,120.09 L564.50,122.15 L566.08,122.15" stroke="#4a4a4a" stroke-width="0.35" fill="none"/>
<path d="M568.80,123.96 L566.02,123.96 L566.02,125.27 L568.80,125.27" stroke="#4a4a4a" stroke-width="0.35" fill="none"/>
<path d="M568.80,126.57 L566.13,126.57 L566.13,128.25 L568.80,128.25" stroke="#4a4a4a" stroke-width="0.35" fill="none"/>
<path d="M566.02,124.62 L564.74,124.62 L564.74,127.41 L566.13,127.41" stroke="#4a4a4a" stroke-width="0.35" fill="none"/>
<path d="M564.50,121.12 L563.13,121.12 L563.13,126.01 L564.74,126.01" stroke="#4a4a4a" stroke-width="0.35" fill="none"/>
<path d="M568.80,129.46 L566.55,129.46 L566.55,130.28 L568.80,130.28" stroke="#4a4a4a" stroke-width="0.35" fill="none"/>
<path d="M568.80,131.59 L566.59,131.59 L566.59,132.84 L568.80,132.84" stroke="#4a4a4a" stroke-width="0.35" fill="none"/>
<path d="M566.55,129.87 L564.75,129.87 L564.75,132.22 L566.59,132.22" stroke="#4a4a4a" stroke-width="0.35" fill="none"/>
<path d="M568.80,133.82 L565.98,133.82 L565.98,134.61 L568.80,134.61" stroke="#4a4a4a" stroke-width="0.35" fill="none"/>
<path d="M565.98,134.22 L565.00,134.22 L565.00,135.36 L568.80,135.36" stroke="#4a4a4a" stroke-width="0.35" fill="none"/>
<path d="M564.75,131.04 L563.47,131.04 L563.47,134.79 L565.00,134.79" stroke="#4a4a4a" stroke-width="0.35" fill="none"/>
<path d="M563.13,123.57 L561.53,123.57 L561.53,132.92 L563.47,132.92" stroke="#4a4a4a" stroke-width="0.35" fill="none"/>
<path d="M568.80,136.16 L565.85,136.16 L565.85,137.00 L568.80,137.00" stroke="#4a4a4a" stroke-width="0.35" fill="none"/>
<path d="M568.80,138.01 L566.03,138.01 L566.03,139.02 L568.80,139.02" stroke="#4a4a4a" stroke-width="0.35" fill="none"/>
<path d="M565.85,136.58 L565.05,136.58 L565.05,138.52 L566.03,138.52" stroke="#4a4a4a" stroke-width="0.35" fill="none"/>
<path d="M568.80,140.04 L566.35,140.04 L566.35,140.90 L568.80,140.90" stroke="#4a4a4a" stroke-width="0.35" fill="none"/>
<path d="M568.80,142.18 L566.52,142.18 L566.52,143.69 L568.80,143.69" stroke="#4a4a4a" stroke-width="0.35" fill="none"/>
<path d="M566.35,140.47 L565.12,140.47 L565.12,142.93 L566.52,142.93" stroke="#4a4a4a" stroke-width="0.35" fill="none"/>
<path d="M565.05,137.55 L563.26,137.55 L563.26,141.70 L565.12,141.70" stroke="#4a4a4a" stroke-width="0.35" fill="none"/>
<path d="M568.80,144.59 L566.04,144.59 L566.04,145.43 L568.80,145.43" stroke="#4a4a4a" stroke-width="0.35" fill="none"/>
<path d="M566.04,145.01 L564.93,145.01 L564.93,146.55 L568.80,146.55" stroke="#4a4a4a" stroke-width="0.35" fill="none"/>
<path d="M568.80,147.81 L566.55,147.81 L566.55,149.16 L568.80,149.16" stroke="#4a4a4a" stroke-width="0.35" fill="none"/>
<path d="M568.80,150.58 L566.07,150.58 L566.07,151.89 L568.80,151.89" stroke="#4a4a4a" stroke-width="0.35" fill="none"/>
<path d="M566.55,148.49 L564.60,148.49 L564.60,151.23 L566.07,151.23" stroke="#4a4a4a" stroke-width="0.35" fill="none"/>
<path d="M564.93,145.78 L563.49,145.78 L563.49,149.86 L564.60,149.86" stroke="#4a4a4a" stroke-width="0.35" fill="none"/>
<path d="M563.26,139.62 L561.38,139.62 L561.38,147.82 L563.49,147.82" stroke="#4a4a4a" stroke-width="0.35" fill="none"/>
<path d="M561.53,128.24 L559.63,128.24 L559.63,143.72 L561.38,143.72" stroke="#4a4a4a" stroke-width="0.35" fill="none"/>
<path d="M559.15,102.18 L557.08,102.18 L557.08,135.98 L559.63,135.98" stroke="#4a4a4a" stroke-width="0.35" fill="none"/>
<path d="M557.25,51.41 L554.80,51.41 L554.80,119.08 L557.08,119.08" stroke="#4a4a4a" stroke-width="0.35" fill="none"/>
<defs>
<filter id="noiseP" x="0" y="0" width="100%" height="100%" color-interpolation-filters="sRGB">
 <feTurbulence type="fractalNoise" baseFrequency="0.32" numOctaves="2" seed="3" result="n"/>
 <feColorMatrix in="n" type="matrix" values="0 0 0 0 0.42  0 0 0 0 0.38  0 0 0 0 0.72  3.2 0 0 0 -1.6" result="m"/>
 <feComposite in="m" in2="SourceGraphic" operator="in"/>
</filter>
<filter id="noiseB" x="0" y="0" width="100%" height="100%" color-interpolation-filters="sRGB">
 <feTurbulence type="fractalNoise" baseFrequency="0.32" numOctaves="2" seed="8" result="n"/>
 <feColorMatrix in="n" type="matrix" values="0 0 0 0 0.42  0 0 0 0 0.2  0 0 0 0 0.1  3.2 0 0 0 -1.6" result="m"/>
 <feComposite in="m" in2="SourceGraphic" operator="in"/>
</filter>
<filter id="noiseW" x="0" y="0" width="100%" height="100%" color-interpolation-filters="sRGB">
 <feTurbulence type="fractalNoise" baseFrequency="0.32" numOctaves="2" seed="8" result="n"/>
 <feColorMatrix in="n" type="matrix" values="0 0 0 0 1  0 0 0 0 1  0 0 0 0 1  -3.2 0 0 0 1.6" result="m"/>
 <feComposite in="m" in2="SourceGraphic" operator="in"/>
</filter>
<filter id="noiseW2" x="0" y="0" width="100%" height="100%" color-interpolation-filters="sRGB">
 <feTurbulence type="fractalNoise" baseFrequency="0.32" numOctaves="2" seed="3" result="n"/>
 <feColorMatrix in="n" type="matrix" values="0 0 0 0 1  0 0 0 0 1  0 0 0 0 1  -3.2 0 0 0 1.6" result="m"/>
 <feComposite in="m" in2="SourceGraphic" operator="in"/>
</filter>
<filter id="mottleB" x="0" y="0" width="100%" height="100%" color-interpolation-filters="sRGB">
 <feTurbulence type="fractalNoise" baseFrequency="0.14" numOctaves="2" seed="17" result="n"/>
 <feColorMatrix in="n" type="matrix" values="0 0 0 0 0.45  0 0 0 0 0.22  0 0 0 0 0.1  3.5 0 0 0 -1.75" result="m"/>
 <feComposite in="m" in2="SourceGraphic" operator="in"/>
</filter>
<filter id="mottleP" x="0" y="0" width="100%" height="100%" color-interpolation-filters="sRGB">
 <feTurbulence type="fractalNoise" baseFrequency="0.14" numOctaves="2" seed="17" result="n"/>
 <feColorMatrix in="n" type="matrix" values="0 0 0 0 0.5  0 0 0 0 0.46  0 0 0 0 0.78  3.5 0 0 0 -1.75" result="m"/>
 <feComposite in="m" in2="SourceGraphic" operator="in"/>
</filter>
<filter id="mottleW" x="0" y="0" width="100%" height="100%" color-interpolation-filters="sRGB">
 <feTurbulence type="fractalNoise" baseFrequency="0.14" numOctaves="2" seed="17" result="n"/>
 <feColorMatrix in="n" type="matrix" values="0 0 0 0 1  0 0 0 0 0.97  0 0 0 0 0.97  -3.5 0 0 0 1.75" result="m"/>
 <feComposite in="m" in2="SourceGraphic" operator="in"/>
</filter>
<filter id="net" x="0" y="0" width="100%" height="100%" color-interpolation-filters="sRGB">
 <feTurbulence type="turbulence" baseFrequency="0.16" numOctaves="1" seed="4" result="n"/>
 <feColorMatrix in="n" type="matrix" values="0 0 0 0 0.45  0 0 0 0 0.2  0 0 0 0 0.08  -5 0 0 0 1.1" result="m"/>
 <feComposite in="m" in2="SourceGraphic" operator="in"/>
</filter>
<filter id="hl" x="0" y="0" width="100%" height="100%" color-interpolation-filters="sRGB">
 <feTurbulence type="fractalNoise" baseFrequency="0.3" numOctaves="2" seed="9" result="n"/>
 <feColorMatrix in="n" type="matrix" values="0 0 0 0 1  0 0 0 0 0.96  0 0 0 0 0.94  7 0 0 0 -3.9" result="m"/>
 <feComposite in="m" in2="SourceGraphic" operator="in"/>
</filter>
<filter id="nucP" x="0" y="0" width="100%" height="100%" color-interpolation-filters="sRGB">
 <feTurbulence type="fractalNoise" baseFrequency="0.22" numOctaves="1" seed="12" result="n"/>
 <feColorMatrix in="n" type="matrix" values="0 0 0 0 0.45  0 0 0 0 0.38  0 0 0 0 0.62  12 0 0 0 -7.5" result="m"/>
 <feComposite in="m" in2="SourceGraphic" operator="in"/>
</filter>
<filter id="nucL" x="0" y="0" width="100%" height="100%" color-interpolation-filters="sRGB">
 <feTurbulence type="fractalNoise" baseFrequency="0.33" numOctaves="2" seed="5" result="n"/>
 <feColorMatrix in="n" type="matrix" values="0 0 0 0 0.52  0 0 0 0 0.5  0 0 0 0 0.78  7 0 0 0 -3.9" result="m"/>
 <feComposite in="m" in2="SourceGraphic" operator="in"/>
</filter>
</defs>
<defs><filter id="gblur" x="-10%" y="-10%" width="120%" height="120%"><feGaussianBlur stdDeviation="3.2"/></filter><filter id="sblur" x="-10%" y="-10%" width="120%" height="120%"><feGaussianBlur stdDeviation="0.55"/></filter></defs>
<clipPath id="clip1"><rect x="13.3" y="202.3" width="87.0" height="64.0"/></clipPath>
<g clip-path="url(#clip1)">
<g transform="translate(13.3,202.3)">
<g filter="url(#gblur)">
<rect x="-4.00" y="-4.00" width="15.18" height="14.97" fill="#f4f4f8" fill-opacity="1.0"/>
<rect x="10.88" y="-4.00" width="11.18" height="14.97" fill="#d8d9f0" fill-opacity="1.0"/>
<rect x="21.75" y="-4.00" width="11.18" height="14.97" fill="#c8cbea" fill-opacity="1.0"/>
<rect x="32.62" y="-4.00" width="11.18" height="14.97" fill="#cccfeb" fill-opacity="1.0"/>
<rect x="43.50" y="-4.00" width="11.18" height="14.97" fill="#c8caea" fill-opacity="1.0"/>
<rect x="54.38" y="-4.00" width="11.18" height="14.97" fill="#d6d8f0" fill-opacity="1.0"/>
<rect x="65.25" y="-4.00" width="11.18" height="14.97" fill="#d4d6ef" fill-opacity="1.0"/>
<rect x="76.12" y="-4.00" width="15.18" height="14.97" fill="#d8daf0" fill-opacity="1.0"/>
<rect x="-4.00" y="10.67" width="15.18" height="10.97" fill="#f2f2f8" fill-opacity="1.0"/>
<rect x="10.88" y="10.67" width="11.18" height="10.97" fill="#c8c9e8" fill-opacity="1.0"/>
<rect x="21.75" y="10.67" width="11.18" height="10.97" fill="#c4c6e8" fill-opacity="1.0"/>
<rect x="32.62" y="10.67" width="11.18" height="10.97" fill="#d2d4ee" fill-opacity="1.0"/>
<rect x="43.50" y="10.67" width="11.18" height="10.97" fill="#c8cae9" fill-opacity="1.0"/>
<rect x="54.38" y="10.67" width="11.18" height="10.97" fill="#d0d2ee" fill-opacity="1.0"/>
<rect x="65.25" y="10.67" width="11.18" height="10.97" fill="#d4d6ee" fill-opacity="1.0"/>
<rect x="76.12" y="10.67" width="15.18" height="10.97" fill="#d0d2ee" fill-opacity="1.0"/>
<rect x="-4.00" y="21.33" width="15.18" height="10.97" fill="#eeeef6" fill-opacity="1.0"/>
<rect x="10.88" y="21.33" width="11.18" height="10.97" fill="#c8cae8" fill-opacity="1.0"/>
<rect x="21.75" y="21.33" width="11.18" height="10.97" fill="#c4c6e6" fill-opacity="1.0"/>
<rect x="32.62" y="21.33" width="11.18" height="10.97" fill="#c8cae8" fill-opacity="1.0"/>
<rect x="43.50" y="21.33" width="11.18" height="10.97" fill="#c4c6e8" fill-opacity="1.0"/>
<rect x="54.38" y="21.33" width="11.18" height="10.97" fill="#d2d4ee" fill-opacity="1.0"/>
<rect x="65.25" y="21.33" width="11.18" height="10.97" fill="#d0d2ee" fill-opacity="1.0"/>
<rect x="76.12" y="21.33" width="15.18" height="10.97" fill="#d6d8f0" fill-opacity="1.0"/>
<rect x="-4.00" y="32.00" width="15.18" height="10.97" fill="#d8d8ee" fill-opacity="1.0"/>
<rect x="10.88" y="32.00" width="11.18" height="10.97" fill="#d0d0ea" fill-opacity="1.0"/>
<rect x="21.75" y="32.00" width="11.18" height="10.97" fill="#dcdcf0" fill-opacity="1.0"/>
<rect x="32.62" y="32.00" width="11.18" height="10.97" fill="#dcdcf2" fill-opacity="1.0"/>
<rect x="43.50" y="32.00" width="11.18" height="10.97" fill="#e0e0f2" fill-opacity="1.0"/>
<rect x="54.38" y="32.00" width="11.18" height="10.97" fill="#d0d2ee" fill-opacity="1.0"/>
<rect x="65.25" y="32.00" width="11.18" height="10.97" fill="#ccd0ec" fill-opacity="1.0"/>
<rect x="76.12" y="32.00" width="15.18" height="10.97" fill="#d2d4ee" fill-opacity="1.0"/>
<rect x="-4.00" y="42.67" width="15.18" height="10.97" fill="#dcdcf0" fill-opacity="1.0"/>
<rect x="10.88" y="42.67" width="11.18" height="10.97" fill="#c8cae8" fill-opacity="1.0"/>
<rect x="21.75" y="42.67" width="11.18" height="10.97" fill="#c0c2e6" fill-opacity="1.0"/>
<rect x="32.62" y="42.67" width="11.18" height="10.97" fill="#ccceea" fill-opacity="1.0"/>
<rect x="43.50" y="42.67" width="11.18" height="10.97" fill="#e6e6f4" fill-opacity="1.0"/>
<rect x="54.38" y="42.67" width="11.18" height="10.97" fill="#ccceeb" fill-opacity="1.0"/>
<rect x="65.25" y="42.67" width="11.18" height="10.97" fill="#d2d4ee" fill-opacity="1.0"/>
<rect x="76.12" y="42.67" width="15.18" height="10.97" fill="#d6d8f0" fill-opacity="1.0"/>
<rect x="-4.00" y="53.33" width="15.18" height="14.97" fill="#d4d6ee" fill-opacity="1.0"/>
<rect x="10.88" y="53.33" width="11.18" height="14.97" fill="#c8cae8" fill-opacity="1.0"/>
<rect x="21.75" y="53.33" width="11.18" height="14.97" fill="#ccceea" fill-opacity="1.0"/>
<rect x="32.62" y="53.33" width="11.18" height="14.97" fill="#d4d6ee" fill-opacity="1.0"/>
<rect x="43.50" y="53.33" width="11.18" height="14.97" fill="#ececf6" fill-opacity="1.0"/>
<rect x="54.38" y="53.33" width="11.18" height="14.97" fill="#e0e0f2" fill-opacity="1.0"/>
<rect x="65.25" y="53.33" width="11.18" height="14.97" fill="#d8daf0" fill-opacity="1.0"/>
<rect x="76.12" y="53.33" width="15.18" height="14.97" fill="#dcdef2" fill-opacity="1.0"/>
</g>
<g filter="url(#sblur)">
<ellipse cx="32.10" cy="22.15" rx="1.91" ry="1.50" fill="#a4a6d8" fill-opacity="0.8" transform="rotate(91.41142915120881 32.10 22.15)"/>
<ellipse cx="37.50" cy="8.65" rx="1.41" ry="1.20" fill="#a4a6d8" fill-opacity="0.8" transform="rotate(142.73583705359147 37.50 8.65)"/>
<ellipse cx="17.76" cy="12.92" rx="0.91" ry="0.84" fill="#a4a6d8" fill-opacity="0.8" transform="rotate(124.81892685742304 17.76 12.92)"/>
<ellipse cx="15.68" cy="37.36" rx="1.96" ry="1.69" fill="#a4a6d8" fill-opacity="0.8" transform="rotate(110.80128682414274 15.68 37.36)"/>
<ellipse cx="20.30" cy="2.54" rx="1.43" ry="0.89" fill="#a4a6d8" fill-opacity="0.8" transform="rotate(34.23748730362724 20.30 2.54)"/>
<ellipse cx="23.68" cy="3.08" rx="1.36" ry="1.05" fill="#a4a6d8" fill-opacity="0.8" transform="rotate(151.63688313333574 23.68 3.08)"/>
<ellipse cx="34.76" cy="25.05" rx="1.40" ry="1.21" fill="#a4a6d8" fill-opacity="0.8" transform="rotate(82.31937868792038 34.76 25.05)"/>
<ellipse cx="25.13" cy="37.92" rx="1.99" ry="1.87" fill="#a4a6d8" fill-opacity="0.8" transform="rotate(127.4057318696309 25.13 37.92)"/>
<ellipse cx="26.61" cy="10.27" rx="1.15" ry="0.72" fill="#a4a6d8" fill-opacity="0.8" transform="rotate(137.93181955387325 26.61 10.27)"/>
<ellipse cx="30.02" cy="32.48" rx="1.26" ry="1.24" fill="#a4a6d8" fill-opacity="0.8" transform="rotate(152.5157591945048 30.02 32.48)"/>
<ellipse cx="14.02" cy="9.55" rx="1.89" ry="1.49" fill="#a4a6d8" fill-opacity="0.8" transform="rotate(176.46460941137258 14.02 9.55)"/>
<ellipse cx="29.90" cy="4.63" rx="1.56" ry="1.42" fill="#a4a6d8" fill-opacity="0.8" transform="rotate(48.55960563302568 29.90 4.63)"/>
<ellipse cx="17.49" cy="13.97" rx="1.96" ry="1.77" fill="#a4a6d8" fill-opacity="0.8" transform="rotate(21.238502295519144 17.49 13.97)"/>
<ellipse cx="23.86" cy="5.64" rx="0.87" ry="0.80" fill="#a4a6d8" fill-opacity="0.8" transform="rotate(31.982063075705906 23.86 5.64)"/>
<ellipse cx="36.37" cy="18.11" rx="1.03" ry="0.92" fill="#a4a6d8" fill-opacity="0.8" transform="rotate(23.574075068991544 36.37 18.11)"/>
<ellipse cx="39.75" cy="6.19" rx="1.30" ry="0.89" fill="#a4a6d8" fill-opacity="0.8" transform="rotate(48.56309589430769 39.75 6.19)"/>
<ellipse cx="52.84" cy="30.92" rx="1.16" ry="1.11" fill="#a4a6d8" fill-opacity="0.8" transform="rotate(37.92783985819909 52.84 30.92)"/>
<ellipse cx="29.77" cy="32.76" rx="1.57" ry="1.01" fill="#a4a6d8" fill-opacity="0.8" transform="rotate(178.07430555183103 29.77 32.76)"/>
<ellipse cx="22.53" cy="11.30" rx="1.73" ry="1.26" fill="#a4a6d8" fill-opacity="0.8" transform="rotate(53.33845726781034 22.53 11.30)"/>
<ellipse cx="16.94" cy="5.24" rx="1.50" ry="1.05" fill="#a4a6d8" fill-opacity="0.8" transform="rotate(108.23109184474897 16.94 5.24)"/>
<ellipse cx="28.87" cy="18.32" rx="1.95" ry="1.55" fill="#a4a6d8" fill-opacity="0.8" transform="rotate(103.42282417739055 28.87 18.32)"/>
<ellipse cx="48.66" cy="8.58" rx="0.98" ry="0.95" fill="#a4a6d8" fill-opacity="0.8" transform="rotate(147.20435090273668 48.66 8.58)"/>
<ellipse cx="23.98" cy="8.83" rx="1.69" ry="1.65" fill="#a4a6d8" fill-opacity="0.8" transform="rotate(35.38616317253797 23.98 8.83)"/>
<ellipse cx="52.01" cy="33.76" rx="1.52" ry="1.17" fill="#a4a6d8" fill-opacity="0.8" transform="rotate(18.691142645690647 52.01 33.76)"/>
<ellipse cx="15.55" cy="36.66" rx="1.09" ry="0.96" fill="#a4a6d8" fill-opacity="0.8" transform="rotate(46.25665169765615 15.55 36.66)"/>
<ellipse cx="46.95" cy="23.47" rx="1.15" ry="0.77" fill="#a4a6d8" fill-opacity="0.8" transform="rotate(129.6635989538735 46.95 23.47)"/>
<ellipse cx="16.75" cy="10.22" rx="1.47" ry="1.38" fill="#a4a6d8" fill-opacity="0.8" transform="rotate(110.57454283047626 16.75 10.22)"/>
<ellipse cx="25.21" cy="35.02" rx="1.04" ry="0.63" fill="#a4a6d8" fill-opacity="0.8" transform="rotate(48.45490704519138 25.21 35.02)"/>
<ellipse cx="31.83" cy="4.18" rx="1.01" ry="0.76" fill="#a4a6d8" fill-opacity="0.8" transform="rotate(102.99049612247735 31.83 4.18)"/>
<ellipse cx="19.26" cy="15.04" rx="1.87" ry="1.85" fill="#a4a6d8" fill-opacity="0.8" transform="rotate(118.24776837172297 19.26 15.04)"/>
<ellipse cx="41.65" cy="23.04" rx="0.97" ry="0.59" fill="#a4a6d8" fill-opacity="0.8" transform="rotate(3.2209554721617617 41.65 23.04)"/>
<ellipse cx="50.41" cy="27.23" rx="1.96" ry="1.19" fill="#a4a6d8" fill-opacity="0.8" transform="rotate(114.51321388386232 50.41 27.23)"/>
<ellipse cx="33.29" cy="28.30" rx="1.18" ry="1.18" fill="#a4a6d8" fill-opacity="0.8" transform="rotate(13.547322016629103 33.29 28.30)"/>
<ellipse cx="35.84" cy="28.53" rx="1.88" ry="1.68" fill="#a4a6d8" fill-opacity="0.8" transform="rotate(126.66431146351992 35.84 28.53)"/>
<ellipse cx="45.73" cy="34.94" rx="1.22" ry="1.07" fill="#a4a6d8" fill-opacity="0.8" transform="rotate(162.1504690794682 45.73 34.94)"/>
<ellipse cx="48.84" cy="17.02" rx="1.75" ry="1.65" fill="#a4a6d8" fill-opacity="0.8" transform="rotate(103.1053497092117 48.84 17.02)"/>
<ellipse cx="39.00" cy="15.76" rx="1.50" ry="1.26" fill="#a4a6d8" fill-opacity="0.8" transform="rotate(14.436365189527846 39.00 15.76)"/>
<ellipse cx="39.58" cy="37.76" rx="1.86" ry="1.65" fill="#a4a6d8" fill-opacity="0.8" transform="rotate(69.91853973392594 39.58 37.76)"/>
<ellipse cx="43.40" cy="22.91" rx="1.33" ry="1.24" fill="#a4a6d8" fill-opacity="0.8" transform="rotate(15.080800007026516 43.40 22.91)"/>
<ellipse cx="44.01" cy="3.07" rx="1.52" ry="1.21" fill="#a4a6d8" fill-opacity="0.8" transform="rotate(41.4398958707693 44.01 3.07)"/>
<ellipse cx="25.73" cy="57.15" rx="1.13" ry="0.74" fill="#b0b2dc" fill-opacity="0.7" transform="rotate(1.954879756212231 25.73 57.15)"/>
<ellipse cx="20.74" cy="49.48" rx="1.25" ry="1.09" fill="#b0b2dc" fill-opacity="0.7" transform="rotate(108.26226697099197 20.74 49.48)"/>
<ellipse cx="29.91" cy="57.23" rx="0.72" ry="0.56" fill="#b0b2dc" fill-opacity="0.7" transform="rotate(29.208118029999955 29.91 57.23)"/>
<ellipse cx="47.30" cy="45.18" rx="1.26" ry="0.79" fill="#b0b2dc" fill-opacity="0.7" transform="rotate(123.65019073683752 47.30 45.18)"/>
<ellipse cx="18.85" cy="52.09" rx="1.27" ry="0.77" fill="#b0b2dc" fill-opacity="0.7" transform="rotate(10.941245314014395 18.85 52.09)"/>
<ellipse cx="47.75" cy="54.18" rx="0.67" ry="0.67" fill="#b0b2dc" fill-opacity="0.7" transform="rotate(170.4083433737887 47.75 54.18)"/>
<ellipse cx="7.63" cy="52.46" rx="0.71" ry="0.51" fill="#b0b2dc" fill-opacity="0.7" transform="rotate(111.8613506888578 7.63 52.46)"/>
<ellipse cx="10.18" cy="57.94" rx="0.64" ry="0.43" fill="#b0b2dc" fill-opacity="0.7" transform="rotate(146.82557668573037 10.18 57.94)"/>
<ellipse cx="22.03" cy="52.38" rx="1.08" ry="0.85" fill="#b0b2dc" fill-opacity="0.7" transform="rotate(69.22465039347743 22.03 52.38)"/>
<ellipse cx="3.52" cy="58.53" rx="1.37" ry="1.36" fill="#b0b2dc" fill-opacity="0.7" transform="rotate(119.44728782088661 3.52 58.53)"/>
<ellipse cx="19.82" cy="51.26" rx="1.15" ry="1.00" fill="#b0b2dc" fill-opacity="0.7" transform="rotate(20.48983220329869 19.82 51.26)"/>
<ellipse cx="13.75" cy="51.27" rx="1.01" ry="0.93" fill="#b0b2dc" fill-opacity="0.7" transform="rotate(90.00218221763912 13.75 51.27)"/>
<ellipse cx="3.41" cy="60.45" rx="0.94" ry="0.76" fill="#b0b2dc" fill-opacity="0.7" transform="rotate(39.990231257809576 3.41 60.45)"/>
<ellipse cx="23.36" cy="51.76" rx="1.22" ry="0.78" fill="#b0b2dc" fill-opacity="0.7" transform="rotate(98.9948458948383 23.36 51.76)"/>
<ellipse cx="10.90" cy="57.92" rx="0.63" ry="0.45" fill="#b0b2dc" fill-opacity="0.7" transform="rotate(61.952127727659075 10.90 57.92)"/>
<ellipse cx="33.85" cy="45.04" rx="0.97" ry="0.66" fill="#b0b2dc" fill-opacity="0.7" transform="rotate(50.741243526440414 33.85 45.04)"/>
<ellipse cx="25.81" cy="63.17" rx="0.98" ry="0.97" fill="#b0b2dc" fill-opacity="0.7" transform="rotate(30.161340412876996 25.81 63.17)"/>
<ellipse cx="48.21" cy="51.28" rx="0.75" ry="0.68" fill="#b0b2dc" fill-opacity="0.7" transform="rotate(164.167540589306 48.21 51.28)"/>
<ellipse cx="2.33" cy="49.37" rx="1.22" ry="0.90" fill="#b0b2dc" fill-opacity="0.7" transform="rotate(43.48561110414765 2.33 49.37)"/>
<ellipse cx="2.43" cy="44.80" rx="1.10" ry="1.09" fill="#b0b2dc" fill-opacity="0.7" transform="rotate(179.72912444458314 2.43 44.80)"/>
<ellipse cx="27.18" cy="44.48" rx="0.86" ry="0.79" fill="#b0b2dc" fill-opacity="0.7" transform="rotate(149.7517704240924 27.18 44.48)"/>
<ellipse cx="33.97" cy="48.59" rx="1.02" ry="0.81" fill="#b0b2dc" fill-opacity="0.7" transform="rotate(112.86078306788673 33.97 48.59)"/>
<ellipse cx="15.13" cy="62.93" rx="1.32" ry="0.87" fill="#b0b2dc" fill-opacity="0.7" transform="rotate(52.437848232977814 15.13 62.93)"/>
<ellipse cx="45.66" cy="49.57" rx="1.36" ry="1.09" fill="#b0b2dc" fill-opacity="0.7" transform="rotate(125.2748511740396 45.66 49.57)"/>
<ellipse cx="37.23" cy="48.28" rx="0.83" ry="0.58" fill="#b0b2dc" fill-opacity="0.7" transform="rotate(122.99308598536679 37.23 48.28)"/>
<ellipse cx="36.71" cy="46.63" rx="1.31" ry="1.01" fill="#b0b2dc" fill-opacity="0.7" transform="rotate(43.4215967062736 36.71 46.63)"/>
<ellipse cx="23.76" cy="63.59" rx="1.05" ry="0.89" fill="#b0b2dc" fill-opacity="0.7" transform="rotate(165.5881395083246 23.76 63.59)"/>
<ellipse cx="50.10" cy="59.21" rx="0.93" ry="0.78" fill="#b0b2dc" fill-opacity="0.7" transform="rotate(162.17308322229576 50.10 59.21)"/>
<ellipse cx="41.46" cy="55.60" rx="0.88" ry="0.66" fill="#b0b2dc" fill-opacity="0.7" transform="rotate(132.4503569998375 41.46 55.60)"/>
<ellipse cx="30.17" cy="44.34" rx="1.17" ry="1.12" fill="#b0b2dc" fill-opacity="0.7" transform="rotate(143.5916305097009 30.17 44.34)"/>
<ellipse cx="46.87" cy="62.21" rx="1.03" ry="0.94" fill="#b0b2dc" fill-opacity="0.7" transform="rotate(68.3048407929669 46.87 62.21)"/>
<ellipse cx="6.91" cy="51.06" rx="0.85" ry="0.83" fill="#b0b2dc" fill-opacity="0.7" transform="rotate(124.04025616931676 6.91 51.06)"/>
<ellipse cx="29.08" cy="56.44" rx="0.70" ry="0.57" fill="#b0b2dc" fill-opacity="0.7" transform="rotate(126.11140968085739 29.08 56.44)"/>
<ellipse cx="21.71" cy="48.92" rx="0.93" ry="0.68" fill="#b0b2dc" fill-opacity="0.7" transform="rotate(123.35054710391353 21.71 48.92)"/>
<ellipse cx="9.09" cy="45.81" rx="0.85" ry="0.75" fill="#b0b2dc" fill-opacity="0.7" transform="rotate(136.73285947825318 9.09 45.81)"/>
<ellipse cx="34.97" cy="62.69" rx="0.89" ry="0.55" fill="#b0b2dc" fill-opacity="0.7" transform="rotate(87.80810633404931 34.97 62.69)"/>
<ellipse cx="24.18" cy="47.59" rx="1.13" ry="0.84" fill="#b0b2dc" fill-opacity="0.7" transform="rotate(42.90203093865208 24.18 47.59)"/>
<ellipse cx="18.37" cy="62.88" rx="0.61" ry="0.45" fill="#b0b2dc" fill-opacity="0.7" transform="rotate(50.34473175392533 18.37 62.88)"/>
<ellipse cx="12.07" cy="52.65" rx="0.78" ry="0.75" fill="#b0b2dc" fill-opacity="0.7" transform="rotate(90.18622027697796 12.07 52.65)"/>
<ellipse cx="36.90" cy="47.25" rx="0.97" ry="0.82" fill="#b0b2dc" fill-opacity="0.7" transform="rotate(151.71791871699483 36.90 47.25)"/>
<ellipse cx="63.55" cy="43.86" rx="0.98" ry="0.92" fill="#b4b6de" fill-opacity="0.7" transform="rotate(33.430351297272374 63.55 43.86)"/>
<ellipse cx="62.61" cy="9.42" rx="0.66" ry="0.59" fill="#b4b6de" fill-opacity="0.7" transform="rotate(23.43834409675624 62.61 9.42)"/>
<ellipse cx="72.53" cy="13.69" rx="0.71" ry="0.55" fill="#b4b6de" fill-opacity="0.7" transform="rotate(150.77817189059365 72.53 13.69)"/>
<ellipse cx="75.08" cy="0.92" rx="0.69" ry="0.46" fill="#b4b6de" fill-opacity="0.7" transform="rotate(156.83125125571917 75.08 0.92)"/>
<ellipse cx="81.72" cy="51.59" rx="1.08" ry="0.97" fill="#b4b6de" fill-opacity="0.7" transform="rotate(170.87821502321427 81.72 51.59)"/>
<ellipse cx="81.19" cy="16.43" rx="1.09" ry="0.87" fill="#b4b6de" fill-opacity="0.7" transform="rotate(135.9006932299322 81.19 16.43)"/>
<ellipse cx="73.62" cy="27.49" rx="0.75" ry="0.58" fill="#b4b6de" fill-opacity="0.7" transform="rotate(56.47704584855864 73.62 27.49)"/>
<ellipse cx="58.87" cy="52.46" rx="1.06" ry="1.05" fill="#b4b6de" fill-opacity="0.7" transform="rotate(124.36607718995171 58.87 52.46)"/>
<ellipse cx="73.29" cy="47.90" rx="0.59" ry="0.52" fill="#b4b6de" fill-opacity="0.7" transform="rotate(79.81199187394729 73.29 47.90)"/>
<ellipse cx="60.83" cy="12.97" rx="0.87" ry="0.61" fill="#b4b6de" fill-opacity="0.7" transform="rotate(82.70262425480195 60.83 12.97)"/>
<ellipse cx="74.98" cy="25.33" rx="0.59" ry="0.47" fill="#b4b6de" fill-opacity="0.7" transform="rotate(42.380458874733556 74.98 25.33)"/>
<ellipse cx="62.78" cy="12.45" rx="0.76" ry="0.48" fill="#b4b6de" fill-opacity="0.7" transform="rotate(117.22171867814265 62.78 12.45)"/>
<ellipse cx="86.47" cy="24.94" rx="1.00" ry="0.98" fill="#b4b6de" fill-opacity="0.7" transform="rotate(7.777537409088479 86.47 24.94)"/>
<ellipse cx="59.68" cy="51.59" rx="1.09" ry="0.93" fill="#b4b6de" fill-opacity="0.7" transform="rotate(28.756209254021087 59.68 51.59)"/>
<ellipse cx="68.65" cy="55.57" rx="1.12" ry="1.03" fill="#b4b6de" fill-opacity="0.7" transform="rotate(36.5504926962464 68.65 55.57)"/>
<ellipse cx="83.17" cy="23.98" rx="1.00" ry="0.66" fill="#b4b6de" fill-opacity="0.7" transform="rotate(174.8345920942881 83.17 23.98)"/>
<ellipse cx="74.92" cy="46.25" rx="0.65" ry="0.55" fill="#b4b6de" fill-opacity="0.7" transform="rotate(104.55741946639938 74.92 46.25)"/>
<ellipse cx="74.51" cy="23.00" rx="1.01" ry="0.74" fill="#b4b6de" fill-opacity="0.7" transform="rotate(53.158512970189875 74.51 23.00)"/>
<ellipse cx="60.43" cy="43.78" rx="0.58" ry="0.40" fill="#b4b6de" fill-opacity="0.7" transform="rotate(12.44590638016258 60.43 43.78)"/>
<ellipse cx="76.24" cy="35.59" rx="0.88" ry="0.54" fill="#b4b6de" fill-opacity="0.7" transform="rotate(79.12630832615615 76.24 35.59)"/>
<ellipse cx="66.32" cy="5.93" rx="0.50" ry="0.50" fill="#b4b6de" fill-opacity="0.7" transform="rotate(21.8729148316975 66.32 5.93)"/>
<ellipse cx="64.95" cy="17.21" rx="0.92" ry="0.58" fill="#b4b6de" fill-opacity="0.7" transform="rotate(84.58029295476769 64.95 17.21)"/>
<ellipse cx="67.10" cy="53.41" rx="0.50" ry="0.37" fill="#b4b6de" fill-opacity="0.7" transform="rotate(89.38064113823216 67.10 53.41)"/>
<ellipse cx="87.00" cy="33.07" rx="0.83" ry="0.72" fill="#b4b6de" fill-opacity="0.7" transform="rotate(53.380095092844485 87.00 33.07)"/>
<ellipse cx="56.05" cy="32.09" rx="1.14" ry="1.02" fill="#b4b6de" fill-opacity="0.7" transform="rotate(46.49667990628606 56.05 32.09)"/>
<ellipse cx="77.57" cy="54.34" rx="0.68" ry="0.57" fill="#b4b6de" fill-opacity="0.7" transform="rotate(64.00164946261089 77.57 54.34)"/>
<ellipse cx="63.06" cy="18.39" rx="0.64" ry="0.48" fill="#b4b6de" fill-opacity="0.7" transform="rotate(6.859260477484153 63.06 18.39)"/>
<ellipse cx="68.12" cy="5.55" rx="1.03" ry="0.87" fill="#b4b6de" fill-opacity="0.7" transform="rotate(0.7372355282399834 68.12 5.55)"/>
<ellipse cx="80.54" cy="12.19" rx="0.84" ry="0.69" fill="#b4b6de" fill-opacity="0.7" transform="rotate(59.915922664356664 80.54 12.19)"/>
<ellipse cx="64.55" cy="27.84" rx="0.60" ry="0.56" fill="#b4b6de" fill-opacity="0.7" transform="rotate(20.14820744350883 64.55 27.84)"/>
<ellipse cx="82.18" cy="13.97" rx="0.71" ry="0.54" fill="#b4b6de" fill-opacity="0.7" transform="rotate(6.007445920759242 82.18 13.97)"/>
<ellipse cx="59.23" cy="23.11" rx="0.81" ry="0.77" fill="#b4b6de" fill-opacity="0.7" transform="rotate(178.17358254021138 59.23 23.11)"/>
<ellipse cx="56.44" cy="34.24" rx="0.59" ry="0.54" fill="#b4b6de" fill-opacity="0.7" transform="rotate(58.0885217338437 56.44 34.24)"/>
<ellipse cx="84.47" cy="34.91" rx="0.59" ry="0.35" fill="#b4b6de" fill-opacity="0.7" transform="rotate(44.66190207170845 84.47 34.91)"/>
<ellipse cx="83.65" cy="9.58" rx="0.84" ry="0.63" fill="#b4b6de" fill-opacity="0.7" transform="rotate(62.09509840259056 83.65 9.58)"/>
<ellipse cx="81.46" cy="13.68" rx="1.00" ry="0.87" fill="#b4b6de" fill-opacity="0.7" transform="rotate(168.3622668904789 81.46 13.68)"/>
<ellipse cx="72.16" cy="58.91" rx="0.81" ry="0.67" fill="#b4b6de" fill-opacity="0.7" transform="rotate(111.70842654824521 72.16 58.91)"/>
<ellipse cx="82.71" cy="57.44" rx="0.58" ry="0.38" fill="#b4b6de" fill-opacity="0.7" transform="rotate(96.09310684203257 82.71 57.44)"/>
<ellipse cx="81.81" cy="34.15" rx="0.71" ry="0.70" fill="#b4b6de" fill-opacity="0.7" transform="rotate(53.613354019361594 81.81 34.15)"/>
<ellipse cx="57.87" cy="3.33" rx="0.52" ry="0.46" fill="#b4b6de" fill-opacity="0.7" transform="rotate(19.287780481135933 57.87 3.33)"/>
<ellipse cx="78.63" cy="55.45" rx="1.20" ry="1.11" fill="#b4b6de" fill-opacity="0.7" transform="rotate(76.38282737804258 78.63 55.45)"/>
<ellipse cx="75.53" cy="53.32" rx="1.00" ry="0.72" fill="#b4b6de" fill-opacity="0.7" transform="rotate(137.16121947274817 75.53 53.32)"/>
<ellipse cx="58.61" cy="19.74" rx="1.20" ry="0.94" fill="#b4b6de" fill-opacity="0.7" transform="rotate(48.19700022900833 58.61 19.74)"/>
<ellipse cx="80.90" cy="28.81" rx="0.50" ry="0.31" fill="#b4b6de" fill-opacity="0.7" transform="rotate(46.62429250572343 80.90 28.81)"/>
<ellipse cx="65.95" cy="59.98" rx="0.67" ry="0.63" fill="#b4b6de" fill-opacity="0.7" transform="rotate(153.63519346339305 65.95 59.98)"/>
<ellipse cx="68.73" cy="63.57" rx="1.03" ry="0.82" fill="#b4b6de" fill-opacity="0.7" transform="rotate(47.0615956776798 68.73 63.57)"/>
<ellipse cx="70.22" cy="57.73" rx="0.88" ry="0.59" fill="#b4b6de" fill-opacity="0.7" transform="rotate(67.60272285743024 70.22 57.73)"/>
<ellipse cx="70.71" cy="12.21" rx="0.90" ry="0.55" fill="#b4b6de" fill-opacity="0.7" transform="rotate(147.8219709555949 70.71 12.21)"/>
<ellipse cx="60.90" cy="6.58" rx="0.91" ry="0.66" fill="#b4b6de" fill-opacity="0.7" transform="rotate(159.33206530401384 60.90 6.58)"/>
<ellipse cx="71.40" cy="33.37" rx="1.08" ry="0.74" fill="#b4b6de" fill-opacity="0.7" transform="rotate(134.1624224484157 71.40 33.37)"/>
<ellipse cx="55.53" cy="31.08" rx="0.43" ry="0.42" fill="#a86848" fill-opacity="0.8" transform="rotate(48.80074078085817 55.53 31.08)"/>
<ellipse cx="56.28" cy="32.02" rx="0.43" ry="0.31" fill="#a86848" fill-opacity="0.8" transform="rotate(123.16196305385198 56.28 32.02)"/>
<ellipse cx="56.98" cy="33.33" rx="0.32" ry="0.22" fill="#a86848" fill-opacity="0.8" transform="rotate(162.2633555294458 56.98 33.33)"/>
<ellipse cx="56.79" cy="17.81" rx="0.46" ry="0.39" fill="#a86848" fill-opacity="0.8" transform="rotate(26.946640081622355 56.79 17.81)"/>
<ellipse cx="57.76" cy="29.92" rx="0.33" ry="0.29" fill="#a86848" fill-opacity="0.8" transform="rotate(22.144742213699246 57.76 29.92)"/>
<ellipse cx="56.69" cy="12.50" rx="0.34" ry="0.34" fill="#a86848" fill-opacity="0.8" transform="rotate(72.66164381050582 56.69 12.50)"/>
<ellipse cx="59.95" cy="23.16" rx="0.42" ry="0.40" fill="#a86848" fill-opacity="0.8" transform="rotate(123.63903015485317 59.95 23.16)"/>
<ellipse cx="55.56" cy="27.67" rx="0.43" ry="0.29" fill="#a86848" fill-opacity="0.8" transform="rotate(17.04104985639954 55.56 27.67)"/>
<ellipse cx="59.37" cy="25.41" rx="0.34" ry="0.26" fill="#a86848" fill-opacity="0.8" transform="rotate(39.27382236162567 59.37 25.41)"/>
<ellipse cx="58.99" cy="25.01" rx="0.32" ry="0.30" fill="#a86848" fill-opacity="0.8" transform="rotate(16.116342918229737 58.99 25.01)"/>
<ellipse cx="56.40" cy="10.84" rx="0.45" ry="0.29" fill="#a86848" fill-opacity="0.8" transform="rotate(94.63762063883135 56.40 10.84)"/>
<ellipse cx="55.46" cy="24.41" rx="0.44" ry="0.36" fill="#a86848" fill-opacity="0.8" transform="rotate(81.93004217531107 55.46 24.41)"/>
<ellipse cx="57.42" cy="23.11" rx="0.42" ry="0.27" fill="#a86848" fill-opacity="0.8" transform="rotate(85.41326888601483 57.42 23.11)"/>
<ellipse cx="56.18" cy="35.96" rx="0.49" ry="0.31" fill="#a86848" fill-opacity="0.8" transform="rotate(25.793451577646707 56.18 35.96)"/>
<ellipse cx="78.68" cy="46.14" rx="0.45" ry="0.30" fill="#a86848" fill-opacity="0.8" transform="rotate(177.5411012993082 78.68 46.14)"/>
<ellipse cx="42.64" cy="56.55" rx="0.44" ry="0.41" fill="#a86848" fill-opacity="0.8" transform="rotate(179.9669221499015 42.64 56.55)"/>
<ellipse cx="51.11" cy="50.06" rx="0.44" ry="0.31" fill="#a86848" fill-opacity="0.8" transform="rotate(47.39656628654293 51.11 50.06)"/>
<ellipse cx="50.69" cy="56.29" rx="0.47" ry="0.44" fill="#a86848" fill-opacity="0.8" transform="rotate(40.21041732292567 50.69 56.29)"/>
<ellipse cx="77.14" cy="52.14" rx="0.35" ry="0.27" fill="#a86848" fill-opacity="0.8" transform="rotate(75.57755893567091 77.14 52.14)"/>
<ellipse cx="45.00" cy="52.78" rx="0.37" ry="0.31" fill="#a86848" fill-opacity="0.8" transform="rotate(167.43912626001713 45.00 52.78)"/>
<ellipse cx="66.53" cy="50.86" rx="0.47" ry="0.47" fill="#a86848" fill-opacity="0.8" transform="rotate(88.2461745489983 66.53 50.86)"/>
<ellipse cx="77.91" cy="46.23" rx="0.33" ry="0.22" fill="#a86848" fill-opacity="0.8" transform="rotate(168.85166213881465 77.91 46.23)"/>
<ellipse cx="68.24" cy="54.63" rx="0.36" ry="0.29" fill="#a86848" fill-opacity="0.8" transform="rotate(159.67165167630202 68.24 54.63)"/>
<ellipse cx="45.80" cy="47.39" rx="0.31" ry="0.24" fill="#a86848" fill-opacity="0.8" transform="rotate(151.2867954810766 45.80 47.39)"/>
<ellipse cx="63.09" cy="50.82" rx="0.40" ry="0.27" fill="#a86848" fill-opacity="0.8" transform="rotate(170.66393248746414 63.09 50.82)"/>
<ellipse cx="55.44" cy="48.82" rx="0.36" ry="0.34" fill="#a86848" fill-opacity="0.8" transform="rotate(57.28816158801693 55.44 48.82)"/>
<ellipse cx="76.38" cy="50.03" rx="0.39" ry="0.24" fill="#a86848" fill-opacity="0.8" transform="rotate(163.34482156324273 76.38 50.03)"/>
<ellipse cx="72.25" cy="51.69" rx="0.32" ry="0.26" fill="#a86848" fill-opacity="0.8" transform="rotate(67.70669372954804 72.25 51.69)"/>
</g>
</g>
<rect x="13.3" y="202.3" width="87.0" height="64.0" fill="#000" filter="url(#noiseP)" opacity="0.1"/>
<rect x="13.3" y="202.3" width="87.0" height="64.0" fill="#000" filter="url(#nucL)" opacity="0.45"/>
<rect x="13.3" y="202.3" width="87.0" height="64.0" fill="#000" filter="url(#hl)" opacity="0.4"/>
<g transform="translate(13.3,202.3)" filter="url(#sblur)">
<path d="M-3.00,-3.00 C-0.50,-10.17 9.40,-5.17 12.00,-3.00 C14.60,-0.83 12.57,5.83 12.60,10.00 C12.63,14.17 12.47,18.67 12.20,22.00 C11.93,25.33 11.70,27.83 11.00,30.00 C10.30,32.17 9.33,33.58 8.00,35.00 C6.67,36.42 4.83,37.67 3.00,38.50 C1.17,39.33 -2.00,46.92 -3.00,40.00 C-4.00,33.08 -5.50,4.17 -3.00,-3.00 Z" fill="#f8f8fb" fill-opacity="1.0"/>
<path d="M-2.00,42.20 C0.00,42.27 5.50,42.70 10.00,42.60 C14.50,42.50 20.67,41.60 25.00,41.60 C29.33,41.60 33.00,41.87 36.00,42.60 C39.00,43.33 41.00,44.60 43.00,46.00 C45.00,47.40 46.50,49.17 48.00,51.00 C49.50,52.83 51.00,54.50 52.00,57.00 C53.00,59.50 53.67,64.50 54.00,66.00" fill="none" stroke="#f8f8fb" stroke-width="2.2" stroke-opacity="1.0" stroke-linecap="round" stroke-linejoin="round"/>
<path d="M57.00,30.00 C58.17,29.00 61.50,26.33 64.00,24.00 C66.50,21.67 69.33,18.33 72.00,16.00 C74.67,13.67 77.17,11.67 80.00,10.00 C82.83,8.33 87.50,6.67 89.00,6.00" fill="none" stroke="#f0f0f8" stroke-width="1.2" stroke-opacity="0.8" stroke-linecap="round" stroke-linejoin="round"/>
<path d="M51.00,50.00 C52.00,47.00 56.17,47.00 58.00,48.00 C59.83,49.00 61.67,53.00 62.00,56.00 C62.33,59.00 61.67,64.33 60.00,66.00 C58.33,67.67 53.50,68.67 52.00,66.00 C50.50,63.33 50.00,53.00 51.00,50.00 Z" fill="#f0f0f8" fill-opacity="0.7"/>
</g>
</g>
<rect x="13.30" y="202.30" width="55.20" height="41.10" fill="none" stroke="#333" stroke-width="0.7"/>
<rect x="13.30" y="202.30" width="87.00" height="64.00" fill="none" stroke="#7a7a7a" stroke-width="0.9"/>
<text x="82.00" y="262.80" font-size="6.7" font-weight="bold" fill="#1a1a1a" textLength="17.0" lengthAdjust="spacingAndGlyphs">20 µm</text>
<line x1="92.00" y1="264.40" x2="98.80" y2="264.40" stroke="#1a1a1a" stroke-width="0.9"/>
<clipPath id="clip2"><rect x="101.6" y="202.3" width="86.3" height="64.0"/></clipPath>
<g clip-path="url(#clip2)">
<g transform="translate(101.6,202.3)">
<g filter="url(#gblur)">
<rect x="-4.00" y="-4.00" width="15.09" height="14.97" fill="#8a503e" fill-opacity="1.0"/>
<rect x="10.79" y="-4.00" width="11.09" height="14.97" fill="#d0aba2" fill-opacity="1.0"/>
<rect x="21.57" y="-4.00" width="11.09" height="14.97" fill="#a45d31" fill-opacity="1.0"/>
<rect x="32.36" y="-4.00" width="11.09" height="14.97" fill="#a4613a" fill-opacity="1.0"/>
<rect x="43.15" y="-4.00" width="11.09" height="14.97" fill="#9c5732" fill-opacity="1.0"/>
<rect x="53.94" y="-4.00" width="11.09" height="14.97" fill="#cca39e" fill-opacity="1.0"/>
<rect x="64.72" y="-4.00" width="11.09" height="14.97" fill="#c89a88" fill-opacity="1.0"/>
<rect x="75.51" y="-4.00" width="15.09" height="14.97" fill="#cca399" fill-opacity="1.0"/>
<rect x="-4.00" y="10.67" width="15.09" height="10.97" fill="#d8bcb8" fill-opacity="1.0"/>
<rect x="10.79" y="10.67" width="11.09" height="10.97" fill="#a45628" fill-opacity="1.0"/>
<rect x="21.57" y="10.67" width="11.09" height="10.97" fill="#9c6245" fill-opacity="1.0"/>
<rect x="32.36" y="10.67" width="11.09" height="10.97" fill="#9c6960" fill-opacity="1.0"/>
<rect x="43.15" y="10.67" width="11.09" height="10.97" fill="#9c624e" fill-opacity="1.0"/>
<rect x="53.94" y="10.67" width="11.09" height="10.97" fill="#e0cece" fill-opacity="1.0"/>
<rect x="64.72" y="10.67" width="11.09" height="10.97" fill="#d8bcb8" fill-opacity="1.0"/>
<rect x="75.51" y="10.67" width="15.09" height="10.97" fill="#e0cec9" fill-opacity="1.0"/>
<rect x="-4.00" y="21.33" width="15.09" height="10.97" fill="#a45123" fill-opacity="1.0"/>
<rect x="10.79" y="21.33" width="11.09" height="10.97" fill="#9c5c37" fill-opacity="1.0"/>
<rect x="21.57" y="21.33" width="11.09" height="10.97" fill="#966a73" fill-opacity="1.0"/>
<rect x="32.36" y="21.33" width="11.09" height="10.97" fill="#907080" fill-opacity="1.0"/>
<rect x="43.15" y="21.33" width="11.09" height="10.97" fill="#9c6960" fill-opacity="1.0"/>
<rect x="53.94" y="21.33" width="11.09" height="10.97" fill="#c89f9a" fill-opacity="1.0"/>
<rect x="64.72" y="21.33" width="11.09" height="10.97" fill="#cca39e" fill-opacity="1.0"/>
<rect x="75.51" y="21.33" width="15.09" height="10.97" fill="#c89f9f" fill-opacity="1.0"/>
<rect x="-4.00" y="32.00" width="15.09" height="10.97" fill="#9c5020" fill-opacity="1.0"/>
<rect x="10.79" y="32.00" width="11.09" height="10.97" fill="#a45631" fill-opacity="1.0"/>
<rect x="21.57" y="32.00" width="11.09" height="10.97" fill="#9c522e" fill-opacity="1.0"/>
<rect x="32.36" y="32.00" width="11.09" height="10.97" fill="#8e4019" fill-opacity="1.0"/>
<rect x="43.15" y="32.00" width="11.09" height="10.97" fill="#9c502e" fill-opacity="1.0"/>
<rect x="53.94" y="32.00" width="11.09" height="10.97" fill="#c89f9a" fill-opacity="1.0"/>
<rect x="64.72" y="32.00" width="11.09" height="10.97" fill="#c89f9f" fill-opacity="1.0"/>
<rect x="75.51" y="32.00" width="15.09" height="10.97" fill="#c89fa3" fill-opacity="1.0"/>
<rect x="-4.00" y="42.67" width="15.09" height="10.97" fill="#cca7a3" fill-opacity="1.0"/>
<rect x="10.79" y="42.67" width="11.09" height="10.97" fill="#d8c6c1" fill-opacity="1.0"/>
<rect x="21.57" y="42.67" width="11.09" height="10.97" fill="#c8a8a3" fill-opacity="1.0"/>
<rect x="32.36" y="42.67" width="11.09" height="10.97" fill="#cca79e" fill-opacity="1.0"/>
<rect x="43.15" y="42.67" width="11.09" height="10.97" fill="#c8a39f" fill-opacity="1.0"/>
<rect x="53.94" y="42.67" width="11.09" height="10.97" fill="#c8a3a3" fill-opacity="1.0"/>
<rect x="64.72" y="42.67" width="11.09" height="10.97" fill="#cca7a3" fill-opacity="1.0"/>
<rect x="75.51" y="42.67" width="15.09" height="10.97" fill="#c8a3a3" fill-opacity="1.0"/>
<rect x="-4.00" y="53.33" width="15.09" height="14.97" fill="#ccaca7" fill-opacity="1.0"/>
<rect x="10.79" y="53.33" width="11.09" height="14.97" fill="#d4b8b4" fill-opacity="1.0"/>
<rect x="21.57" y="53.33" width="11.09" height="14.97" fill="#e0d2ce" fill-opacity="1.0"/>
<rect x="32.36" y="53.33" width="11.09" height="14.97" fill="#d4c2bd" fill-opacity="1.0"/>
<rect x="43.15" y="53.33" width="11.09" height="14.97" fill="#cca7a3" fill-opacity="1.0"/>
<rect x="53.94" y="53.33" width="11.09" height="14.97" fill="#cca7a3" fill-opacity="1.0"/>
<rect x="64.72" y="53.33" width="11.09" height="14.97" fill="#cca7a3" fill-opacity="1.0"/>
<rect x="75.51" y="53.33" width="15.09" height="14.97" fill="#cca7a3" fill-opacity="1.0"/>
</g>
<g filter="url(#sblur)">
<path d="M-3.00,-3.00 C0.83,-6.83 17.83,-4.00 20.00,-3.00 C22.17,-2.00 12.83,0.83 10.00,3.00 C7.17,5.17 5.17,7.17 3.00,10.00 C0.83,12.83 -2.00,22.17 -3.00,20.00 C-4.00,17.83 -6.83,0.83 -3.00,-3.00 Z" fill="#8a5848" fill-opacity="0.8"/>
<path d="M14.00,18.00 C15.00,15.00 20.33,11.33 24.00,10.00 C27.67,8.67 32.67,8.67 36.00,10.00 C39.33,11.33 43.33,14.67 44.00,18.00 C44.67,21.33 42.67,27.67 40.00,30.00 C37.33,32.33 31.67,32.33 28.00,32.00 C24.33,31.67 20.33,30.33 18.00,28.00 C15.67,25.67 13.00,21.00 14.00,18.00 Z" fill="#9c8a9c" fill-opacity="0.55"/>
<path d="M34.00,32.00 C35.83,30.50 42.00,30.00 44.00,31.00 C46.00,32.00 46.67,36.33 46.00,38.00 C45.33,39.67 42.17,40.67 40.00,41.00 C37.83,41.33 34.00,41.50 33.00,40.00 C32.00,38.50 32.17,33.50 34.00,32.00 Z" fill="#8a3c18" fill-opacity="0.6"/>
<ellipse cx="12.25" cy="28.83" rx="0.78" ry="0.62" fill="#e8c8a8" fill-opacity="0.6" transform="rotate(38.88258262090251 12.25 28.83)"/>
<ellipse cx="43.63" cy="33.08" rx="0.71" ry="0.57" fill="#e8c8a8" fill-opacity="0.6" transform="rotate(42.49014542931789 43.63 33.08)"/>
<ellipse cx="4.16" cy="17.36" rx="0.75" ry="0.47" fill="#e8c8a8" fill-opacity="0.6" transform="rotate(142.87518393425373 4.16 17.36)"/>
<ellipse cx="15.61" cy="12.38" rx="0.43" ry="0.42" fill="#e8c8a8" fill-opacity="0.6" transform="rotate(132.96379535441295 15.61 12.38)"/>
<ellipse cx="47.75" cy="26.17" rx="0.42" ry="0.31" fill="#e8c8a8" fill-opacity="0.6" transform="rotate(89.55941725451329 47.75 26.17)"/>
<ellipse cx="9.79" cy="38.27" rx="0.62" ry="0.41" fill="#e8c8a8" fill-opacity="0.6" transform="rotate(147.15169978084788 9.79 38.27)"/>
<ellipse cx="10.24" cy="37.41" rx="0.67" ry="0.55" fill="#e8c8a8" fill-opacity="0.6" transform="rotate(61.725856305970126 10.24 37.41)"/>
<ellipse cx="28.24" cy="10.73" rx="0.42" ry="0.40" fill="#e8c8a8" fill-opacity="0.6" transform="rotate(42.27590168589502 28.24 10.73)"/>
<ellipse cx="43.01" cy="11.51" rx="0.98" ry="0.94" fill="#e8c8a8" fill-opacity="0.6" transform="rotate(135.86264126654828 43.01 11.51)"/>
<ellipse cx="42.14" cy="24.91" rx="0.84" ry="0.54" fill="#e8c8a8" fill-opacity="0.6" transform="rotate(85.73857009865094 42.14 24.91)"/>
<ellipse cx="45.35" cy="11.24" rx="0.95" ry="0.91" fill="#e8c8a8" fill-opacity="0.6" transform="rotate(73.72830430088722 45.35 11.24)"/>
<ellipse cx="22.26" cy="20.25" rx="0.63" ry="0.63" fill="#e8c8a8" fill-opacity="0.6" transform="rotate(69.58678981532778 22.26 20.25)"/>
<ellipse cx="5.34" cy="7.36" rx="0.83" ry="0.83" fill="#e8c8a8" fill-opacity="0.6" transform="rotate(89.28193778179404 5.34 7.36)"/>
<ellipse cx="28.58" cy="23.82" rx="0.85" ry="0.58" fill="#e8c8a8" fill-opacity="0.6" transform="rotate(109.60225043710624 28.58 23.82)"/>
<ellipse cx="31.82" cy="26.41" rx="0.51" ry="0.34" fill="#e8c8a8" fill-opacity="0.6" transform="rotate(62.67730884297599 31.82 26.41)"/>
<ellipse cx="50.35" cy="16.48" rx="0.76" ry="0.55" fill="#e8c8a8" fill-opacity="0.6" transform="rotate(18.589181232188892 50.35 16.48)"/>
<ellipse cx="7.28" cy="33.29" rx="0.87" ry="0.65" fill="#e8c8a8" fill-opacity="0.6" transform="rotate(123.00332268033567 7.28 33.29)"/>
<ellipse cx="37.80" cy="36.35" rx="0.97" ry="0.74" fill="#e8c8a8" fill-opacity="0.6" transform="rotate(178.03973324116703 37.80 36.35)"/>
<ellipse cx="52.07" cy="25.26" rx="0.93" ry="0.74" fill="#e8c8a8" fill-opacity="0.6" transform="rotate(67.6008264724054 52.07 25.26)"/>
<ellipse cx="16.36" cy="35.54" rx="0.50" ry="0.31" fill="#e8c8a8" fill-opacity="0.6" transform="rotate(144.95071972417452 16.36 35.54)"/>
<ellipse cx="42.70" cy="21.39" rx="0.90" ry="0.56" fill="#e8c8a8" fill-opacity="0.6" transform="rotate(46.43579005089941 42.70 21.39)"/>
<ellipse cx="18.49" cy="19.10" rx="0.50" ry="0.32" fill="#e8c8a8" fill-opacity="0.6" transform="rotate(60.85482937230456 18.49 19.10)"/>
<ellipse cx="48.96" cy="39.40" rx="0.85" ry="0.67" fill="#e8c8a8" fill-opacity="0.6" transform="rotate(45.398663618609035 48.96 39.40)"/>
<ellipse cx="51.94" cy="22.92" rx="0.84" ry="0.51" fill="#e8c8a8" fill-opacity="0.6" transform="rotate(38.17646951898189 51.94 22.92)"/>
<ellipse cx="45.91" cy="32.63" rx="0.93" ry="0.78" fill="#e8c8a8" fill-opacity="0.6" transform="rotate(76.69484918715457 45.91 32.63)"/>
<ellipse cx="33.06" cy="34.58" rx="0.58" ry="0.48" fill="#e8c8a8" fill-opacity="0.6" transform="rotate(49.676725306182654 33.06 34.58)"/>
<ellipse cx="42.41" cy="4.37" rx="0.81" ry="0.80" fill="#e8c8a8" fill-opacity="0.6" transform="rotate(4.230118897525839 42.41 4.37)"/>
<ellipse cx="33.68" cy="27.18" rx="0.91" ry="0.76" fill="#e8c8a8" fill-opacity="0.6" transform="rotate(46.295418016361175 33.68 27.18)"/>
<ellipse cx="24.28" cy="38.51" rx="0.94" ry="0.62" fill="#e8c8a8" fill-opacity="0.6" transform="rotate(17.07104318926453 24.28 38.51)"/>
<ellipse cx="8.70" cy="4.91" rx="0.67" ry="0.44" fill="#e8c8a8" fill-opacity="0.6" transform="rotate(156.12050921792564 8.70 4.91)"/>
<ellipse cx="36.77" cy="8.56" rx="0.72" ry="0.53" fill="#e8c8a8" fill-opacity="0.6" transform="rotate(88.89601737135733 36.77 8.56)"/>
<ellipse cx="14.98" cy="9.98" rx="0.51" ry="0.38" fill="#e8c8a8" fill-opacity="0.6" transform="rotate(127.79553528097047 14.98 9.98)"/>
<ellipse cx="31.50" cy="5.66" rx="0.83" ry="0.78" fill="#e8c8a8" fill-opacity="0.6" transform="rotate(139.36478965134145 31.50 5.66)"/>
<ellipse cx="43.54" cy="4.28" rx="0.68" ry="0.42" fill="#e8c8a8" fill-opacity="0.6" transform="rotate(137.5056171569947 43.54 4.28)"/>
<ellipse cx="12.76" cy="29.61" rx="0.55" ry="0.48" fill="#e8c8a8" fill-opacity="0.6" transform="rotate(56.451110349935504 12.76 29.61)"/>
<ellipse cx="6.10" cy="18.00" rx="0.59" ry="0.56" fill="#e8c8a8" fill-opacity="0.6" transform="rotate(53.10486292219457 6.10 18.00)"/>
<ellipse cx="29.16" cy="23.78" rx="0.97" ry="0.62" fill="#e8c8a8" fill-opacity="0.6" transform="rotate(108.21231596774749 29.16 23.78)"/>
<ellipse cx="29.41" cy="30.44" rx="0.98" ry="0.71" fill="#e8c8a8" fill-opacity="0.6" transform="rotate(125.90041497685631 29.41 30.44)"/>
<ellipse cx="30.29" cy="24.18" rx="0.44" ry="0.41" fill="#e8c8a8" fill-opacity="0.6" transform="rotate(175.8325864094349 30.29 24.18)"/>
<ellipse cx="21.76" cy="15.45" rx="1.00" ry="0.64" fill="#e8c8a8" fill-opacity="0.6" transform="rotate(13.699451813908883 21.76 15.45)"/>
<ellipse cx="7.67" cy="33.32" rx="0.86" ry="0.67" fill="#e8c8a8" fill-opacity="0.6" transform="rotate(111.85040511540421 7.67 33.32)"/>
<ellipse cx="4.99" cy="27.21" rx="0.67" ry="0.54" fill="#e8c8a8" fill-opacity="0.6" transform="rotate(70.0922958375481 4.99 27.21)"/>
<ellipse cx="24.08" cy="12.12" rx="0.43" ry="0.33" fill="#e8c8a8" fill-opacity="0.6" transform="rotate(44.47024531368034 24.08 12.12)"/>
<ellipse cx="39.21" cy="33.42" rx="0.83" ry="0.65" fill="#e8c8a8" fill-opacity="0.6" transform="rotate(42.558656571872916 39.21 33.42)"/>
<ellipse cx="23.27" cy="21.52" rx="0.78" ry="0.77" fill="#e8c8a8" fill-opacity="0.6" transform="rotate(15.373125275504902 23.27 21.52)"/>
<ellipse cx="27.99" cy="21.71" rx="0.83" ry="0.79" fill="#e8c8a8" fill-opacity="0.6" transform="rotate(140.31277672166559 27.99 21.71)"/>
<ellipse cx="35.34" cy="31.31" rx="0.80" ry="0.76" fill="#e8c8a8" fill-opacity="0.6" transform="rotate(125.82467502092712 35.34 31.31)"/>
<ellipse cx="38.15" cy="12.83" rx="0.95" ry="0.72" fill="#e8c8a8" fill-opacity="0.6" transform="rotate(110.64775279710372 38.15 12.83)"/>
<ellipse cx="45.24" cy="38.69" rx="0.99" ry="0.60" fill="#e8c8a8" fill-opacity="0.6" transform="rotate(56.27092686568585 45.24 38.69)"/>
<ellipse cx="19.59" cy="18.08" rx="0.49" ry="0.40" fill="#e8c8a8" fill-opacity="0.6" transform="rotate(14.313016340342681 19.59 18.08)"/>
<ellipse cx="19.13" cy="37.97" rx="0.85" ry="0.66" fill="#e8c8a8" fill-opacity="0.6" transform="rotate(19.47928948961859 19.13 37.97)"/>
<ellipse cx="51.80" cy="29.34" rx="0.52" ry="0.38" fill="#e8c8a8" fill-opacity="0.6" transform="rotate(115.48391271160172 51.80 29.34)"/>
<ellipse cx="38.08" cy="13.39" rx="0.97" ry="0.71" fill="#e8c8a8" fill-opacity="0.6" transform="rotate(45.76300121912426 38.08 13.39)"/>
<ellipse cx="46.27" cy="9.52" rx="0.81" ry="0.55" fill="#e8c8a8" fill-opacity="0.6" transform="rotate(107.6344348778549 46.27 9.52)"/>
<ellipse cx="17.87" cy="17.64" rx="0.96" ry="0.76" fill="#e8c8a8" fill-opacity="0.6" transform="rotate(78.63857897318402 17.87 17.64)"/>
<ellipse cx="34.85" cy="14.10" rx="0.50" ry="0.38" fill="#e8c8a8" fill-opacity="0.6" transform="rotate(49.032319171820006 34.85 14.10)"/>
<ellipse cx="13.42" cy="38.59" rx="0.42" ry="0.39" fill="#e8c8a8" fill-opacity="0.6" transform="rotate(168.25496865061575 13.42 38.59)"/>
<ellipse cx="39.23" cy="4.68" rx="0.70" ry="0.43" fill="#e8c8a8" fill-opacity="0.6" transform="rotate(109.41516652273002 39.23 4.68)"/>
<ellipse cx="39.02" cy="12.65" rx="0.40" ry="0.33" fill="#e8c8a8" fill-opacity="0.6" transform="rotate(17.013399266534638 39.02 12.65)"/>
<ellipse cx="19.45" cy="20.35" rx="0.94" ry="0.70" fill="#e8c8a8" fill-opacity="0.6" transform="rotate(24.291410615600704 19.45 20.35)"/>
<ellipse cx="43.59" cy="33.60" rx="0.72" ry="0.44" fill="#e8c8a8" fill-opacity="0.6" transform="rotate(33.763293587302876 43.59 33.60)"/>
<ellipse cx="24.15" cy="23.87" rx="0.54" ry="0.49" fill="#e8c8a8" fill-opacity="0.6" transform="rotate(151.8290625902286 24.15 23.87)"/>
<ellipse cx="50.26" cy="35.81" rx="0.41" ry="0.34" fill="#e8c8a8" fill-opacity="0.6" transform="rotate(14.479443270278914 50.26 35.81)"/>
<ellipse cx="48.98" cy="30.89" rx="0.86" ry="0.58" fill="#e8c8a8" fill-opacity="0.6" transform="rotate(10.736183297068253 48.98 30.89)"/>
<ellipse cx="44.76" cy="25.83" rx="0.77" ry="0.61" fill="#e8c8a8" fill-opacity="0.6" transform="rotate(144.02035833673102 44.76 25.83)"/>
<ellipse cx="20.90" cy="13.71" rx="0.61" ry="0.44" fill="#e8c8a8" fill-opacity="0.6" transform="rotate(112.87909002351519 20.90 13.71)"/>
<ellipse cx="48.51" cy="6.56" rx="0.44" ry="0.35" fill="#e8c8a8" fill-opacity="0.6" transform="rotate(122.04164854508566 48.51 6.56)"/>
<ellipse cx="13.49" cy="13.71" rx="0.44" ry="0.27" fill="#e8c8a8" fill-opacity="0.6" transform="rotate(89.11053828555923 13.49 13.71)"/>
<ellipse cx="38.04" cy="27.51" rx="0.49" ry="0.32" fill="#e8c8a8" fill-opacity="0.6" transform="rotate(167.55571875383038 38.04 27.51)"/>
<ellipse cx="30.93" cy="18.70" rx="0.81" ry="0.73" fill="#e8c8a8" fill-opacity="0.6" transform="rotate(94.42440357972437 30.93 18.70)"/>
<ellipse cx="86.66" cy="8.98" rx="0.52" ry="0.52" fill="#a890a8" fill-opacity="0.5" transform="rotate(33.165656226513555 86.66 8.98)"/>
<ellipse cx="59.86" cy="41.69" rx="0.74" ry="0.71" fill="#a890a8" fill-opacity="0.5" transform="rotate(41.71346819749368 59.86 41.69)"/>
<ellipse cx="86.70" cy="20.44" rx="0.92" ry="0.90" fill="#a890a8" fill-opacity="0.5" transform="rotate(123.34686630936794 86.70 20.44)"/>
<ellipse cx="85.56" cy="45.32" rx="0.53" ry="0.51" fill="#a890a8" fill-opacity="0.5" transform="rotate(106.12004702921993 85.56 45.32)"/>
<ellipse cx="65.94" cy="12.17" rx="1.09" ry="0.91" fill="#a890a8" fill-opacity="0.5" transform="rotate(168.83800291418476 65.94 12.17)"/>
<ellipse cx="80.77" cy="61.52" rx="0.90" ry="0.79" fill="#a890a8" fill-opacity="0.5" transform="rotate(110.21843165357686 80.77 61.52)"/>
<ellipse cx="64.27" cy="61.23" rx="0.72" ry="0.66" fill="#a890a8" fill-opacity="0.5" transform="rotate(171.83418089219902 64.27 61.23)"/>
<ellipse cx="76.83" cy="9.10" rx="1.08" ry="0.93" fill="#a890a8" fill-opacity="0.5" transform="rotate(33.30510659324935 76.83 9.10)"/>
<ellipse cx="57.57" cy="34.04" rx="0.52" ry="0.51" fill="#a890a8" fill-opacity="0.5" transform="rotate(91.13034360982097 57.57 34.04)"/>
<ellipse cx="72.55" cy="26.20" rx="0.96" ry="0.93" fill="#a890a8" fill-opacity="0.5" transform="rotate(55.31513423762423 72.55 26.20)"/>
<ellipse cx="67.96" cy="37.29" rx="0.71" ry="0.59" fill="#a890a8" fill-opacity="0.5" transform="rotate(97.76169266465526 67.96 37.29)"/>
<ellipse cx="69.87" cy="43.09" rx="0.87" ry="0.55" fill="#a890a8" fill-opacity="0.5" transform="rotate(179.36714678907745 69.87 43.09)"/>
<ellipse cx="67.38" cy="27.63" rx="0.78" ry="0.76" fill="#a890a8" fill-opacity="0.5" transform="rotate(171.38822105117447 67.38 27.63)"/>
<ellipse cx="72.38" cy="25.64" rx="0.57" ry="0.54" fill="#a890a8" fill-opacity="0.5" transform="rotate(30.851261656191188 72.38 25.64)"/>
<ellipse cx="73.49" cy="22.34" rx="0.73" ry="0.54" fill="#a890a8" fill-opacity="0.5" transform="rotate(34.42686006311534 73.49 22.34)"/>
<ellipse cx="57.18" cy="34.27" rx="1.06" ry="0.91" fill="#a890a8" fill-opacity="0.5" transform="rotate(36.271345749527214 57.18 34.27)"/>
<ellipse cx="78.20" cy="3.33" rx="0.79" ry="0.73" fill="#a890a8" fill-opacity="0.5" transform="rotate(165.782717210606 78.20 3.33)"/>
<ellipse cx="70.74" cy="54.18" rx="0.85" ry="0.69" fill="#a890a8" fill-opacity="0.5" transform="rotate(105.21776803699746 70.74 54.18)"/>
<ellipse cx="87.72" cy="47.60" rx="0.83" ry="0.74" fill="#a890a8" fill-opacity="0.5" transform="rotate(115.78818938535096 87.72 47.60)"/>
<ellipse cx="67.32" cy="50.19" rx="1.07" ry="0.91" fill="#a890a8" fill-opacity="0.5" transform="rotate(169.69100893666405 67.32 50.19)"/>
<ellipse cx="56.58" cy="32.00" rx="0.94" ry="0.70" fill="#a890a8" fill-opacity="0.5" transform="rotate(30.8481819422753 56.58 32.00)"/>
<ellipse cx="78.15" cy="27.80" rx="0.69" ry="0.42" fill="#a890a8" fill-opacity="0.5" transform="rotate(174.08419247197742 78.15 27.80)"/>
<ellipse cx="67.27" cy="7.56" rx="0.65" ry="0.46" fill="#a890a8" fill-opacity="0.5" transform="rotate(155.91534966413403 67.27 7.56)"/>
<ellipse cx="61.78" cy="17.69" rx="0.57" ry="0.45" fill="#a890a8" fill-opacity="0.5" transform="rotate(37.388404998909245 61.78 17.69)"/>
<ellipse cx="67.01" cy="47.03" rx="1.15" ry="1.07" fill="#a890a8" fill-opacity="0.5" transform="rotate(6.890752187265548 67.01 47.03)"/>
<ellipse cx="68.09" cy="54.33" rx="0.52" ry="0.36" fill="#a890a8" fill-opacity="0.5" transform="rotate(88.19845493364956 68.09 54.33)"/>
<ellipse cx="68.24" cy="48.02" rx="1.00" ry="0.79" fill="#a890a8" fill-opacity="0.5" transform="rotate(44.82324764187039 68.24 48.02)"/>
<ellipse cx="63.38" cy="17.04" rx="0.55" ry="0.47" fill="#a890a8" fill-opacity="0.5" transform="rotate(28.4027765102468 63.38 17.04)"/>
<ellipse cx="84.46" cy="41.34" rx="0.54" ry="0.43" fill="#a890a8" fill-opacity="0.5" transform="rotate(108.65979992153497 84.46 41.34)"/>
<ellipse cx="57.35" cy="31.15" rx="0.52" ry="0.47" fill="#a890a8" fill-opacity="0.5" transform="rotate(0.732406964599619 57.35 31.15)"/>
<ellipse cx="76.22" cy="63.08" rx="1.09" ry="0.76" fill="#a890a8" fill-opacity="0.5" transform="rotate(96.21838701787523 76.22 63.08)"/>
<ellipse cx="60.48" cy="21.91" rx="1.10" ry="1.02" fill="#a890a8" fill-opacity="0.5" transform="rotate(1.6378140935449292 60.48 21.91)"/>
<ellipse cx="68.16" cy="40.98" rx="0.62" ry="0.57" fill="#a890a8" fill-opacity="0.5" transform="rotate(160.7531421765001 68.16 40.98)"/>
<ellipse cx="73.64" cy="23.17" rx="1.09" ry="0.88" fill="#a890a8" fill-opacity="0.5" transform="rotate(33.9025509854017 73.64 23.17)"/>
<ellipse cx="64.89" cy="10.18" rx="1.09" ry="0.87" fill="#a890a8" fill-opacity="0.5" transform="rotate(125.39947874827615 64.89 10.18)"/>
<ellipse cx="82.16" cy="62.32" rx="0.63" ry="0.48" fill="#a890a8" fill-opacity="0.5" transform="rotate(157.35649896850538 82.16 62.32)"/>
<ellipse cx="80.37" cy="24.75" rx="0.96" ry="0.65" fill="#a890a8" fill-opacity="0.5" transform="rotate(29.114799614423617 80.37 24.75)"/>
<ellipse cx="57.62" cy="24.30" rx="0.67" ry="0.54" fill="#a890a8" fill-opacity="0.5" transform="rotate(174.51106558020263 57.62 24.30)"/>
<ellipse cx="60.89" cy="35.69" rx="1.11" ry="0.93" fill="#a890a8" fill-opacity="0.5" transform="rotate(94.8948213293209 60.89 35.69)"/>
<ellipse cx="80.57" cy="1.40" rx="1.16" ry="1.02" fill="#a890a8" fill-opacity="0.5" transform="rotate(145.19652972981137 80.57 1.40)"/>
<ellipse cx="82.41" cy="6.31" rx="0.55" ry="0.37" fill="#a890a8" fill-opacity="0.5" transform="rotate(90.86063947204441 82.41 6.31)"/>
<ellipse cx="86.03" cy="58.20" rx="0.79" ry="0.67" fill="#a890a8" fill-opacity="0.5" transform="rotate(133.16961168367536 86.03 58.20)"/>
<ellipse cx="66.64" cy="62.11" rx="1.16" ry="1.03" fill="#a890a8" fill-opacity="0.5" transform="rotate(162.25758062435204 66.64 62.11)"/>
<ellipse cx="81.63" cy="41.74" rx="0.72" ry="0.52" fill="#a890a8" fill-opacity="0.5" transform="rotate(42.92601036761373 81.63 41.74)"/>
<ellipse cx="57.84" cy="59.25" rx="0.71" ry="0.43" fill="#a890a8" fill-opacity="0.5" transform="rotate(56.897954793966775 57.84 59.25)"/>
<ellipse cx="59.30" cy="28.49" rx="0.73" ry="0.49" fill="#a890a8" fill-opacity="0.5" transform="rotate(85.81530907161442 59.30 28.49)"/>
<ellipse cx="69.28" cy="22.66" rx="1.07" ry="0.77" fill="#a890a8" fill-opacity="0.5" transform="rotate(97.42228821611896 69.28 22.66)"/>
<ellipse cx="84.09" cy="61.38" rx="0.76" ry="0.47" fill="#a890a8" fill-opacity="0.5" transform="rotate(171.08457900876093 84.09 61.38)"/>
<ellipse cx="72.45" cy="13.93" rx="0.59" ry="0.41" fill="#a890a8" fill-opacity="0.5" transform="rotate(55.88689670053548 72.45 13.93)"/>
<ellipse cx="60.44" cy="3.14" rx="1.20" ry="1.11" fill="#a890a8" fill-opacity="0.5" transform="rotate(20.39764509103706 60.44 3.14)"/>
<ellipse cx="71.38" cy="51.29" rx="0.85" ry="0.54" fill="#a890a8" fill-opacity="0.5" transform="rotate(61.13654387814682 71.38 51.29)"/>
<ellipse cx="68.18" cy="58.53" rx="0.91" ry="0.71" fill="#a890a8" fill-opacity="0.5" transform="rotate(113.51995093346025 68.18 58.53)"/>
<ellipse cx="57.56" cy="43.92" rx="1.07" ry="0.93" fill="#a890a8" fill-opacity="0.5" transform="rotate(64.95769394608486 57.56 43.92)"/>
<ellipse cx="65.15" cy="0.65" rx="0.56" ry="0.37" fill="#a890a8" fill-opacity="0.5" transform="rotate(81.58862706767788 65.15 0.65)"/>
<ellipse cx="80.91" cy="13.90" rx="0.83" ry="0.71" fill="#a890a8" fill-opacity="0.5" transform="rotate(113.30729546048234 80.91 13.90)"/>
<ellipse cx="56.66" cy="58.92" rx="0.91" ry="0.66" fill="#a890a8" fill-opacity="0.5" transform="rotate(43.07684351159198 56.66 58.92)"/>
<ellipse cx="78.05" cy="59.70" rx="0.74" ry="0.56" fill="#a890a8" fill-opacity="0.5" transform="rotate(100.28063184692363 78.05 59.70)"/>
<ellipse cx="61.60" cy="25.98" rx="1.14" ry="0.94" fill="#a890a8" fill-opacity="0.5" transform="rotate(148.1458502750025 61.60 25.98)"/>
<ellipse cx="64.38" cy="55.60" rx="1.05" ry="0.72" fill="#a890a8" fill-opacity="0.5" transform="rotate(95.39916104592064 64.38 55.60)"/>
<ellipse cx="77.82" cy="36.66" rx="0.92" ry="0.64" fill="#a890a8" fill-opacity="0.5" transform="rotate(99.70455976918936 77.82 36.66)"/>
<ellipse cx="51.79" cy="62.87" rx="1.12" ry="0.71" fill="#a890a8" fill-opacity="0.5" transform="rotate(106.56490083943235 51.79 62.87)"/>
<ellipse cx="23.73" cy="53.66" rx="0.59" ry="0.40" fill="#a890a8" fill-opacity="0.5" transform="rotate(80.02324329714234 23.73 53.66)"/>
<ellipse cx="12.38" cy="52.01" rx="0.52" ry="0.33" fill="#a890a8" fill-opacity="0.5" transform="rotate(127.80147604408381 12.38 52.01)"/>
<ellipse cx="23.59" cy="53.28" rx="1.01" ry="0.75" fill="#a890a8" fill-opacity="0.5" transform="rotate(10.359815336859326 23.59 53.28)"/>
<ellipse cx="43.85" cy="54.96" rx="0.96" ry="0.81" fill="#a890a8" fill-opacity="0.5" transform="rotate(174.73234096421228 43.85 54.96)"/>
<ellipse cx="20.32" cy="58.72" rx="0.76" ry="0.63" fill="#a890a8" fill-opacity="0.5" transform="rotate(118.89577966505725 20.32 58.72)"/>
<ellipse cx="17.61" cy="43.89" rx="0.83" ry="0.74" fill="#a890a8" fill-opacity="0.5" transform="rotate(106.30974562815064 17.61 43.89)"/>
<ellipse cx="25.06" cy="56.13" rx="0.63" ry="0.42" fill="#a890a8" fill-opacity="0.5" transform="rotate(58.214222797798804 25.06 56.13)"/>
<ellipse cx="45.69" cy="46.30" rx="0.58" ry="0.37" fill="#a890a8" fill-opacity="0.5" transform="rotate(7.007970528616154 45.69 46.30)"/>
<ellipse cx="15.43" cy="54.60" rx="1.07" ry="0.79" fill="#a890a8" fill-opacity="0.5" transform="rotate(66.53770776109785 15.43 54.60)"/>
<ellipse cx="16.16" cy="48.71" rx="1.04" ry="0.86" fill="#a890a8" fill-opacity="0.5" transform="rotate(46.5153343000709 16.16 48.71)"/>
<ellipse cx="6.00" cy="59.24" rx="1.00" ry="0.93" fill="#a890a8" fill-opacity="0.5" transform="rotate(42.844751619452104 6.00 59.24)"/>
<ellipse cx="30.55" cy="62.21" rx="0.91" ry="0.89" fill="#a890a8" fill-opacity="0.5" transform="rotate(30.10675609764762 30.55 62.21)"/>
<ellipse cx="54.60" cy="43.23" rx="0.79" ry="0.48" fill="#a890a8" fill-opacity="0.5" transform="rotate(145.72138786773343 54.60 43.23)"/>
<ellipse cx="38.48" cy="63.42" rx="1.06" ry="1.04" fill="#a890a8" fill-opacity="0.5" transform="rotate(96.9473021480073 38.48 63.42)"/>
<ellipse cx="55.34" cy="58.48" rx="0.74" ry="0.73" fill="#a890a8" fill-opacity="0.5" transform="rotate(67.85984850158904 55.34 58.48)"/>
<ellipse cx="10.83" cy="43.67" rx="0.83" ry="0.56" fill="#a890a8" fill-opacity="0.5" transform="rotate(168.04406331939575 10.83 43.67)"/>
<ellipse cx="53.23" cy="46.75" rx="0.57" ry="0.46" fill="#a890a8" fill-opacity="0.5" transform="rotate(30.542390080613735 53.23 46.75)"/>
<ellipse cx="30.44" cy="59.88" rx="0.68" ry="0.52" fill="#a890a8" fill-opacity="0.5" transform="rotate(162.15660186201498 30.44 59.88)"/>
<ellipse cx="24.90" cy="49.54" rx="1.12" ry="1.04" fill="#a890a8" fill-opacity="0.5" transform="rotate(161.13269888655174 24.90 49.54)"/>
<ellipse cx="38.51" cy="51.08" rx="0.99" ry="0.92" fill="#a890a8" fill-opacity="0.5" transform="rotate(115.1121869253678 38.51 51.08)"/>
<ellipse cx="13.35" cy="48.50" rx="0.79" ry="0.71" fill="#a890a8" fill-opacity="0.5" transform="rotate(100.27631334784492 13.35 48.50)"/>
<ellipse cx="30.80" cy="60.18" rx="0.58" ry="0.49" fill="#a890a8" fill-opacity="0.5" transform="rotate(59.850414944350064 30.80 60.18)"/>
<ellipse cx="31.32" cy="60.38" rx="0.67" ry="0.66" fill="#a890a8" fill-opacity="0.5" transform="rotate(14.143571561711607 31.32 60.38)"/>
<ellipse cx="31.47" cy="53.92" rx="0.66" ry="0.55" fill="#a890a8" fill-opacity="0.5" transform="rotate(84.730855106684 31.47 53.92)"/>
<ellipse cx="25.18" cy="57.80" rx="0.50" ry="0.38" fill="#a890a8" fill-opacity="0.5" transform="rotate(141.4081714465414 25.18 57.80)"/>
<ellipse cx="7.94" cy="61.08" rx="0.64" ry="0.56" fill="#a890a8" fill-opacity="0.5" transform="rotate(31.169777496390648 7.94 61.08)"/>
<ellipse cx="25.16" cy="51.30" rx="0.56" ry="0.49" fill="#a890a8" fill-opacity="0.5" transform="rotate(86.43148800373734 25.16 51.30)"/>
<ellipse cx="38.58" cy="53.86" rx="0.89" ry="0.72" fill="#a890a8" fill-opacity="0.5" transform="rotate(53.60301679206417 38.58 53.86)"/>
<ellipse cx="50.33" cy="43.90" rx="1.11" ry="1.05" fill="#a890a8" fill-opacity="0.5" transform="rotate(89.60516726912633 50.33 43.90)"/>
<ellipse cx="43.51" cy="56.81" rx="0.92" ry="0.66" fill="#a890a8" fill-opacity="0.5" transform="rotate(57.536795685628796 43.51 56.81)"/>
<ellipse cx="19.57" cy="48.65" rx="1.17" ry="0.86" fill="#a890a8" fill-opacity="0.5" transform="rotate(69.75903963821052 19.57 48.65)"/>
<ellipse cx="23.50" cy="59.96" rx="0.83" ry="0.69" fill="#a890a8" fill-opacity="0.5" transform="rotate(45.986755914864325 23.50 59.96)"/>
<ellipse cx="15.57" cy="43.96" rx="0.65" ry="0.46" fill="#a890a8" fill-opacity="0.5" transform="rotate(153.40871279186285 15.57 43.96)"/>
<ellipse cx="28.14" cy="44.43" rx="0.82" ry="0.53" fill="#a890a8" fill-opacity="0.5" transform="rotate(101.88484101401112 28.14 44.43)"/>
<ellipse cx="24.76" cy="60.88" rx="0.68" ry="0.64" fill="#a890a8" fill-opacity="0.5" transform="rotate(44.568464437399264 24.76 60.88)"/>
<ellipse cx="55.03" cy="55.95" rx="0.53" ry="0.49" fill="#a890a8" fill-opacity="0.5" transform="rotate(49.61638507303868 55.03 55.95)"/>
<ellipse cx="20.29" cy="45.22" rx="1.09" ry="0.69" fill="#a890a8" fill-opacity="0.5" transform="rotate(132.887981024616 20.29 45.22)"/>
<ellipse cx="22.16" cy="56.95" rx="0.71" ry="0.45" fill="#a890a8" fill-opacity="0.5" transform="rotate(164.73058868462982 22.16 56.95)"/>
<ellipse cx="36.67" cy="45.73" rx="1.18" ry="1.14" fill="#a890a8" fill-opacity="0.5" transform="rotate(32.86841286305966 36.67 45.73)"/>
<ellipse cx="1.07" cy="55.44" rx="0.60" ry="0.53" fill="#a890a8" fill-opacity="0.5" transform="rotate(84.39761356561309 1.07 55.44)"/>
<ellipse cx="39.71" cy="54.54" rx="1.04" ry="0.97" fill="#a890a8" fill-opacity="0.5" transform="rotate(108.52263507821863 39.71 54.54)"/>
<ellipse cx="33.12" cy="49.19" rx="0.59" ry="0.38" fill="#a890a8" fill-opacity="0.5" transform="rotate(154.2498911810465 33.12 49.19)"/>
<ellipse cx="11.54" cy="51.38" rx="0.72" ry="0.61" fill="#a890a8" fill-opacity="0.5" transform="rotate(96.00235004465817 11.54 51.38)"/>
<ellipse cx="48.11" cy="51.59" rx="0.75" ry="0.65" fill="#a890a8" fill-opacity="0.5" transform="rotate(134.06446234109546 48.11 51.59)"/>
<ellipse cx="51.83" cy="48.86" rx="1.12" ry="1.11" fill="#a890a8" fill-opacity="0.5" transform="rotate(176.82724531650354 51.83 48.86)"/>
<ellipse cx="7.23" cy="50.36" rx="1.04" ry="0.97" fill="#a890a8" fill-opacity="0.5" transform="rotate(7.112813953144935 7.23 50.36)"/>
<ellipse cx="22.12" cy="57.93" rx="1.03" ry="0.84" fill="#a890a8" fill-opacity="0.5" transform="rotate(37.89972109239728 22.12 57.93)"/>
<ellipse cx="22.78" cy="43.29" rx="0.72" ry="0.56" fill="#a890a8" fill-opacity="0.5" transform="rotate(148.12919071951293 22.78 43.29)"/>
<ellipse cx="33.00" cy="51.12" rx="0.67" ry="0.49" fill="#a890a8" fill-opacity="0.5" transform="rotate(120.73509688171502 33.00 51.12)"/>
<ellipse cx="24.95" cy="45.81" rx="1.08" ry="0.89" fill="#a890a8" fill-opacity="0.5" transform="rotate(174.15344955725382 24.95 45.81)"/>
<ellipse cx="30.04" cy="55.71" rx="0.80" ry="0.67" fill="#a890a8" fill-opacity="0.5" transform="rotate(165.39021461627735 30.04 55.71)"/>
<ellipse cx="54.95" cy="56.54" rx="0.80" ry="0.50" fill="#a890a8" fill-opacity="0.5" transform="rotate(151.23576119965523 54.95 56.54)"/>
<ellipse cx="21.92" cy="50.41" rx="0.54" ry="0.33" fill="#a890a8" fill-opacity="0.5" transform="rotate(70.29655071381666 21.92 50.41)"/>
<ellipse cx="54.58" cy="58.29" rx="1.00" ry="0.86" fill="#a890a8" fill-opacity="0.5" transform="rotate(49.117169003624106 54.58 58.29)"/>
<ellipse cx="9.44" cy="55.25" rx="0.54" ry="0.45" fill="#a890a8" fill-opacity="0.5" transform="rotate(92.60631251002027 9.44 55.25)"/>
<ellipse cx="30.38" cy="44.67" rx="0.55" ry="0.43" fill="#a890a8" fill-opacity="0.5" transform="rotate(26.20348957346109 30.38 44.67)"/>
<ellipse cx="35.92" cy="48.81" rx="0.93" ry="0.84" fill="#a890a8" fill-opacity="0.5" transform="rotate(109.15858341412812 35.92 48.81)"/>
<ellipse cx="29.77" cy="46.34" rx="0.74" ry="0.74" fill="#a890a8" fill-opacity="0.5" transform="rotate(48.3424598475639 29.77 46.34)"/>
<ellipse cx="15.92" cy="52.85" rx="0.88" ry="0.81" fill="#a890a8" fill-opacity="0.5" transform="rotate(53.14376637989479 15.92 52.85)"/>
</g>
</g>
<rect x="101.6" y="202.3" width="86.3" height="64.0" fill="#000" filter="url(#noiseB)" opacity="0.12"/>
<rect x="101.6" y="202.3" width="86.3" height="64.0" fill="#000" filter="url(#net)" opacity="0.18"/>
<rect x="101.6" y="202.3" width="86.3" height="64.0" fill="#000" filter="url(#hl)" opacity="0.32"/>
<rect x="101.6" y="202.3" width="86.3" height="64.0" fill="#000" filter="url(#nucP)" opacity="0.32"/>
<g transform="translate(101.6,202.3)" filter="url(#sblur)">
<path d="M-2.00,23.50 C-1.42,22.42 0.42,19.08 1.50,17.00 C2.58,14.92 3.17,12.92 4.50,11.00 C5.83,9.08 7.42,7.00 9.50,5.50 C11.58,4.00 14.08,2.87 17.00,2.00 C19.92,1.13 25.33,0.58 27.00,0.30" fill="none" stroke="#f4f0f2" stroke-width="2.6" stroke-opacity="1.0" stroke-linecap="round" stroke-linejoin="round"/>
<path d="M56.50,18.50 C57.75,18.20 61.42,16.78 64.00,16.70 C66.58,16.62 69.33,18.45 72.00,18.00 C74.67,17.55 77.00,15.72 80.00,14.00 C83.00,12.28 88.33,8.75 90.00,7.70" fill="none" stroke="#f4f0f4" stroke-width="1.8" stroke-opacity="1.0" stroke-linecap="round" stroke-linejoin="round"/>
<path d="M-2.00,57.00 C-0.38,56.50 4.58,55.37 7.70,54.00 C10.82,52.63 14.15,50.52 16.70,48.80 C19.25,47.08 21.12,44.87 23.00,43.70 C24.88,42.53 27.17,42.12 28.00,41.80" fill="none" stroke="#f4f0f4" stroke-width="2.4" stroke-opacity="1.0" stroke-linecap="round" stroke-linejoin="round"/>
<path d="M16.70,62.50 C18.20,61.58 22.48,58.15 25.70,57.00 C28.92,55.85 32.78,55.63 36.00,55.60 C39.22,55.57 42.00,56.00 45.00,56.80 C48.00,57.60 51.87,58.87 54.00,60.40 C56.13,61.93 57.17,65.07 57.80,66.00" fill="none" stroke="#f4f0f4" stroke-width="1.8" stroke-opacity="1.0" stroke-linecap="round" stroke-linejoin="round"/>
<ellipse cx="40.00" cy="42.80" rx="1.30" ry="2.20" fill="#f4f0f4" fill-opacity="1.0" transform="rotate(0 40.00 42.80)"/>
<path d="M42.2,46.5 L45.6,45.6 L44,48.8 Z" fill="#000"/>
</g>
</g>
<rect x="101.60" y="202.30" width="55.20" height="41.10" fill="none" stroke="#333" stroke-width="0.7"/>
<rect x="101.60" y="202.30" width="86.30" height="64.00" fill="none" stroke="#7a7a7a" stroke-width="0.9"/>
<text x="169.60" y="262.80" font-size="6.7" font-weight="bold" fill="#1a1a1a" textLength="17.0" lengthAdjust="spacingAndGlyphs">20 µm</text>
<line x1="179.60" y1="264.40" x2="186.40" y2="264.40" stroke="#1a1a1a" stroke-width="0.9"/>
<clipPath id="clip3"><rect x="13.3" y="268.3" width="87.0" height="64.0"/></clipPath>
<g clip-path="url(#clip3)">
<g transform="translate(13.3,268.3)">
<g filter="url(#gblur)">
<rect x="-4.00" y="-4.00" width="15.18" height="14.97" fill="#dccab8" fill-opacity="1.0"/>
<rect x="10.88" y="-4.00" width="11.18" height="14.97" fill="#d8cadc" fill-opacity="1.0"/>
<rect x="21.75" y="-4.00" width="11.18" height="14.97" fill="#dccab8" fill-opacity="1.0"/>
<rect x="32.62" y="-4.00" width="11.18" height="14.97" fill="#d8c8bc" fill-opacity="1.0"/>
<rect x="43.50" y="-4.00" width="11.18" height="14.97" fill="#d4c8c8" fill-opacity="1.0"/>
<rect x="54.38" y="-4.00" width="11.18" height="14.97" fill="#d0c4d4" fill-opacity="1.0"/>
<rect x="65.25" y="-4.00" width="11.18" height="14.97" fill="#d8ccc8" fill-opacity="1.0"/>
<rect x="76.12" y="-4.00" width="15.18" height="14.97" fill="#ccc8e0" fill-opacity="1.0"/>
<rect x="-4.00" y="10.67" width="15.18" height="10.97" fill="#dcccc0" fill-opacity="1.0"/>
<rect x="10.88" y="10.67" width="11.18" height="10.97" fill="#d4c8d8" fill-opacity="1.0"/>
<rect x="21.75" y="10.67" width="11.18" height="10.97" fill="#d8c8bc" fill-opacity="1.0"/>
<rect x="32.62" y="10.67" width="11.18" height="10.97" fill="#c8b8c0" fill-opacity="1.0"/>
<rect x="43.50" y="10.67" width="11.18" height="10.97" fill="#c8bccc" fill-opacity="1.0"/>
<rect x="54.38" y="10.67" width="11.18" height="10.97" fill="#d0c4cc" fill-opacity="1.0"/>
<rect x="65.25" y="10.67" width="11.18" height="10.97" fill="#d8ccd0" fill-opacity="1.0"/>
<rect x="76.12" y="10.67" width="15.18" height="10.97" fill="#d8d0dc" fill-opacity="1.0"/>
<rect x="-4.00" y="21.33" width="15.18" height="10.97" fill="#c8bcc8" fill-opacity="1.0"/>
<rect x="10.88" y="21.33" width="11.18" height="10.97" fill="#dcccc4" fill-opacity="1.0"/>
<rect x="21.75" y="21.33" width="11.18" height="10.97" fill="#d4c8d4" fill-opacity="1.0"/>
<rect x="32.62" y="21.33" width="11.18" height="10.97" fill="#c4b8c8" fill-opacity="1.0"/>
<rect x="43.50" y="21.33" width="11.18" height="10.97" fill="#d4c4c0" fill-opacity="1.0"/>
<rect x="54.38" y="21.33" width="11.18" height="10.97" fill="#d0c4cc" fill-opacity="1.0"/>
<rect x="65.25" y="21.33" width="11.18" height="10.97" fill="#d8cccc" fill-opacity="1.0"/>
<rect x="76.12" y="21.33" width="15.18" height="10.97" fill="#e0dae4" fill-opacity="1.0"/>
<rect x="-4.00" y="32.00" width="15.18" height="10.97" fill="#e8e0e0" fill-opacity="1.0"/>
<rect x="10.88" y="32.00" width="11.18" height="10.97" fill="#d0c4cc" fill-opacity="1.0"/>
<rect x="21.75" y="32.00" width="11.18" height="10.97" fill="#dcccc4" fill-opacity="1.0"/>
<rect x="32.62" y="32.00" width="11.18" height="10.97" fill="#d8c8c0" fill-opacity="1.0"/>
<rect x="43.50" y="32.00" width="11.18" height="10.97" fill="#d4c8c8" fill-opacity="1.0"/>
<rect x="54.38" y="32.00" width="11.18" height="10.97" fill="#d0c4cc" fill-opacity="1.0"/>
<rect x="65.25" y="32.00" width="11.18" height="10.97" fill="#d4c8cc" fill-opacity="1.0"/>
<rect x="76.12" y="32.00" width="15.18" height="10.97" fill="#f0eef4" fill-opacity="1.0"/>
<rect x="-4.00" y="42.67" width="15.18" height="10.97" fill="#e0dcec" fill-opacity="1.0"/>
<rect x="10.88" y="42.67" width="11.18" height="10.97" fill="#d4cce0" fill-opacity="1.0"/>
<rect x="21.75" y="42.67" width="11.18" height="10.97" fill="#f4f2f6" fill-opacity="1.0"/>
<rect x="32.62" y="42.67" width="11.18" height="10.97" fill="#e8e0e4" fill-opacity="1.0"/>
<rect x="43.50" y="42.67" width="11.18" height="10.97" fill="#d8ccd0" fill-opacity="1.0"/>
<rect x="54.38" y="42.67" width="11.18" height="10.97" fill="#d8cccc" fill-opacity="1.0"/>
<rect x="65.25" y="42.67" width="11.18" height="10.97" fill="#ccc8e4" fill-opacity="1.0"/>
<rect x="76.12" y="42.67" width="15.18" height="10.97" fill="#ece8f0" fill-opacity="1.0"/>
<rect x="-4.00" y="53.33" width="15.18" height="14.97" fill="#d8d4e8" fill-opacity="1.0"/>
<rect x="10.88" y="53.33" width="11.18" height="14.97" fill="#d4ccd8" fill-opacity="1.0"/>
<rect x="21.75" y="53.33" width="11.18" height="14.97" fill="#f0ecf2" fill-opacity="1.0"/>
<rect x="32.62" y="53.33" width="11.18" height="14.97" fill="#d8ccd8" fill-opacity="1.0"/>
<rect x="43.50" y="53.33" width="11.18" height="14.97" fill="#d8cccc" fill-opacity="1.0"/>
<rect x="54.38" y="53.33" width="11.18" height="14.97" fill="#c8c4e4" fill-opacity="1.0"/>
<rect x="65.25" y="53.33" width="11.18" height="14.97" fill="#ccc8e4" fill-opacity="1.0"/>
<rect x="76.12" y="53.33" width="15.18" height="14.97" fill="#e8e4ee" fill-opacity="1.0"/>
</g>
<g filter="url(#sblur)">
<path d="M7.70,-2.00 C8.42,0.00 10.45,6.00 12.00,10.00 C13.55,14.00 15.33,18.17 17.00,22.00 C18.67,25.83 20.50,29.67 22.00,33.00 C23.50,36.33 25.33,40.50 26.00,42.00" fill="none" stroke="#c8c4e2" stroke-width="3.5" stroke-opacity="1.0" stroke-linecap="round" stroke-linejoin="round"/>
<ellipse cx="37.00" cy="12.00" rx="7.00" ry="4.80" fill="#a08ca4" fill-opacity="0.8" transform="rotate(-15 37.00 12.00)"/>
<ellipse cx="37.00" cy="12.00" rx="4.50" ry="3.00" fill="#c8b0b0" fill-opacity="0.8" transform="rotate(-15 37.00 12.00)"/>
<ellipse cx="34.70" cy="27.60" rx="6.00" ry="3.30" fill="#9c8cac" fill-opacity="0.8" transform="rotate(-30 34.70 27.60)"/>
<ellipse cx="48.80" cy="16.70" rx="2.80" ry="5.50" fill="#a090b0" fill-opacity="0.7" transform="rotate(20 48.80 16.70)"/>
<ellipse cx="3.90" cy="25.00" rx="3.00" ry="3.00" fill="#9c8cac" fill-opacity="0.8" transform="rotate(0 3.90 25.00)"/>
<ellipse cx="12.80" cy="38.50" rx="3.00" ry="2.50" fill="#a090a8" fill-opacity="0.7" transform="rotate(0 12.80 38.50)"/>
<ellipse cx="64.00" cy="52.70" rx="8.00" ry="8.00" fill="#c4c2e4" fill-opacity="0.8" transform="rotate(0 64.00 52.70)"/>
<ellipse cx="75.80" cy="24.40" rx="5.00" ry="5.00" fill="#ddd4e4" fill-opacity="0.9" transform="rotate(0 75.80 24.40)"/>
<ellipse cx="56.39" cy="7.19" rx="0.99" ry="0.87" fill="#a8a0c8" fill-opacity="0.7" transform="rotate(24.96436797863354 56.39 7.19)"/>
<ellipse cx="59.60" cy="14.84" rx="1.36" ry="0.89" fill="#a8a0c8" fill-opacity="0.7" transform="rotate(133.3179358092011 59.60 14.84)"/>
<ellipse cx="77.19" cy="8.74" rx="1.14" ry="0.88" fill="#a8a0c8" fill-opacity="0.7" transform="rotate(74.26261497204912 77.19 8.74)"/>
<ellipse cx="87.88" cy="5.96" rx="0.62" ry="0.61" fill="#a8a0c8" fill-opacity="0.7" transform="rotate(72.53024608996496 87.88 5.96)"/>
<ellipse cx="62.35" cy="21.14" rx="0.96" ry="0.95" fill="#a8a0c8" fill-opacity="0.7" transform="rotate(37.85981036957642 62.35 21.14)"/>
<ellipse cx="62.94" cy="37.43" rx="1.15" ry="1.13" fill="#a8a0c8" fill-opacity="0.7" transform="rotate(150.9629123835284 62.94 37.43)"/>
<ellipse cx="67.38" cy="13.05" rx="1.44" ry="1.43" fill="#a8a0c8" fill-opacity="0.7" transform="rotate(5.466548617931501 67.38 13.05)"/>
<ellipse cx="79.52" cy="55.57" rx="1.25" ry="0.86" fill="#a8a0c8" fill-opacity="0.7" transform="rotate(143.38696910314488 79.52 55.57)"/>
<ellipse cx="79.35" cy="12.40" rx="1.24" ry="0.85" fill="#a8a0c8" fill-opacity="0.7" transform="rotate(7.454418446208216 79.35 12.40)"/>
<ellipse cx="66.75" cy="21.40" rx="1.00" ry="0.86" fill="#a8a0c8" fill-opacity="0.7" transform="rotate(150.5111789475961 66.75 21.40)"/>
<ellipse cx="86.76" cy="62.49" rx="1.59" ry="1.46" fill="#a8a0c8" fill-opacity="0.7" transform="rotate(55.13636411247695 86.76 62.49)"/>
<ellipse cx="61.64" cy="39.92" rx="1.15" ry="1.00" fill="#a8a0c8" fill-opacity="0.7" transform="rotate(16.8342842999415 61.64 39.92)"/>
<ellipse cx="62.17" cy="58.95" rx="1.20" ry="1.05" fill="#a8a0c8" fill-opacity="0.7" transform="rotate(17.216136310422566 62.17 58.95)"/>
<ellipse cx="68.77" cy="58.25" rx="1.25" ry="1.25" fill="#a8a0c8" fill-opacity="0.7" transform="rotate(35.44078424959699 68.77 58.25)"/>
<ellipse cx="70.55" cy="51.23" rx="1.04" ry="0.96" fill="#a8a0c8" fill-opacity="0.7" transform="rotate(101.10230780035096 70.55 51.23)"/>
<ellipse cx="59.78" cy="6.33" rx="1.58" ry="1.03" fill="#a8a0c8" fill-opacity="0.7" transform="rotate(34.93930381684837 59.78 6.33)"/>
<ellipse cx="66.73" cy="45.66" rx="1.45" ry="1.15" fill="#a8a0c8" fill-opacity="0.7" transform="rotate(89.66657273541146 66.73 45.66)"/>
<ellipse cx="81.23" cy="17.79" rx="0.97" ry="0.82" fill="#a8a0c8" fill-opacity="0.7" transform="rotate(114.5204565400131 81.23 17.79)"/>
<ellipse cx="57.22" cy="7.17" rx="0.74" ry="0.66" fill="#a8a0c8" fill-opacity="0.7" transform="rotate(124.72566894873002 57.22 7.17)"/>
<ellipse cx="87.14" cy="49.12" rx="0.85" ry="0.77" fill="#a8a0c8" fill-opacity="0.7" transform="rotate(177.3058705372936 87.14 49.12)"/>
<ellipse cx="67.16" cy="0.72" rx="0.98" ry="0.70" fill="#a8a0c8" fill-opacity="0.7" transform="rotate(31.700396677589616 67.16 0.72)"/>
<ellipse cx="57.44" cy="7.99" rx="1.47" ry="0.91" fill="#a8a0c8" fill-opacity="0.7" transform="rotate(110.51115795697298 57.44 7.99)"/>
<ellipse cx="62.61" cy="12.37" rx="1.42" ry="1.02" fill="#a8a0c8" fill-opacity="0.7" transform="rotate(33.08848216987189 62.61 12.37)"/>
<ellipse cx="70.56" cy="44.48" rx="1.12" ry="1.06" fill="#a8a0c8" fill-opacity="0.7" transform="rotate(72.25176558531162 70.56 44.48)"/>
<ellipse cx="72.77" cy="45.89" rx="1.06" ry="0.94" fill="#a8a0c8" fill-opacity="0.7" transform="rotate(84.04145701730314 72.77 45.89)"/>
<ellipse cx="60.28" cy="7.90" rx="1.38" ry="1.24" fill="#a8a0c8" fill-opacity="0.7" transform="rotate(169.69569767033343 60.28 7.90)"/>
<ellipse cx="78.08" cy="37.10" rx="0.77" ry="0.72" fill="#a8a0c8" fill-opacity="0.7" transform="rotate(21.385914622798428 78.08 37.10)"/>
<ellipse cx="69.60" cy="9.00" rx="0.98" ry="0.71" fill="#a8a0c8" fill-opacity="0.7" transform="rotate(76.59285873367442 69.60 9.00)"/>
<ellipse cx="78.75" cy="34.66" rx="0.84" ry="0.77" fill="#a8a0c8" fill-opacity="0.7" transform="rotate(132.31986291009818 78.75 34.66)"/>
<ellipse cx="82.47" cy="2.11" rx="1.21" ry="1.16" fill="#a8a0c8" fill-opacity="0.7" transform="rotate(46.59017783817741 82.47 2.11)"/>
<ellipse cx="4.34" cy="46.70" rx="0.90" ry="0.87" fill="#a8a0c8" fill-opacity="0.7" transform="rotate(89.32544860525344 4.34 46.70)"/>
<ellipse cx="40.33" cy="44.21" rx="1.11" ry="1.04" fill="#a8a0c8" fill-opacity="0.7" transform="rotate(94.10387593732857 40.33 44.21)"/>
<ellipse cx="52.90" cy="61.40" rx="0.97" ry="0.58" fill="#a8a0c8" fill-opacity="0.7" transform="rotate(135.94809353855456 52.90 61.40)"/>
<ellipse cx="7.08" cy="42.21" rx="1.33" ry="1.25" fill="#a8a0c8" fill-opacity="0.7" transform="rotate(150.58395528651332 7.08 42.21)"/>
<ellipse cx="53.39" cy="46.44" rx="0.68" ry="0.44" fill="#a8a0c8" fill-opacity="0.7" transform="rotate(175.99422212379875 53.39 46.44)"/>
<ellipse cx="6.27" cy="45.51" rx="0.62" ry="0.38" fill="#a8a0c8" fill-opacity="0.7" transform="rotate(6.887985914941881 6.27 45.51)"/>
<ellipse cx="19.77" cy="45.59" rx="0.91" ry="0.88" fill="#a8a0c8" fill-opacity="0.7" transform="rotate(30.146797569360587 19.77 45.59)"/>
<ellipse cx="45.60" cy="58.24" rx="1.17" ry="0.97" fill="#a8a0c8" fill-opacity="0.7" transform="rotate(138.6259898987827 45.60 58.24)"/>
<ellipse cx="32.88" cy="47.04" rx="0.93" ry="0.65" fill="#a8a0c8" fill-opacity="0.7" transform="rotate(72.11586290183203 32.88 47.04)"/>
<ellipse cx="55.29" cy="51.39" rx="0.67" ry="0.53" fill="#a8a0c8" fill-opacity="0.7" transform="rotate(146.2837826641291 55.29 51.39)"/>
<ellipse cx="24.95" cy="57.45" rx="0.69" ry="0.43" fill="#a8a0c8" fill-opacity="0.7" transform="rotate(119.11417355225367 24.95 57.45)"/>
<ellipse cx="2.70" cy="48.64" rx="0.98" ry="0.67" fill="#a8a0c8" fill-opacity="0.7" transform="rotate(6.545651466752716 2.70 48.64)"/>
<ellipse cx="0.38" cy="62.94" rx="1.29" ry="1.26" fill="#a8a0c8" fill-opacity="0.7" transform="rotate(88.50714613615202 0.38 62.94)"/>
<ellipse cx="53.45" cy="60.98" rx="1.22" ry="0.99" fill="#a8a0c8" fill-opacity="0.7" transform="rotate(91.56045050896084 53.45 60.98)"/>
<ellipse cx="12.63" cy="50.28" rx="1.32" ry="0.90" fill="#a8a0c8" fill-opacity="0.7" transform="rotate(152.98528561329178 12.63 50.28)"/>
<ellipse cx="28.55" cy="55.29" rx="1.42" ry="1.22" fill="#a8a0c8" fill-opacity="0.7" transform="rotate(24.790046750120368 28.55 55.29)"/>
<ellipse cx="13.87" cy="42.02" rx="0.63" ry="0.62" fill="#a8a0c8" fill-opacity="0.7" transform="rotate(106.73812399694685 13.87 42.02)"/>
<ellipse cx="54.25" cy="59.17" rx="0.92" ry="0.90" fill="#a8a0c8" fill-opacity="0.7" transform="rotate(166.06102809870927 54.25 59.17)"/>
<ellipse cx="25.55" cy="43.83" rx="0.92" ry="0.61" fill="#a8a0c8" fill-opacity="0.7" transform="rotate(65.80506156772505 25.55 43.83)"/>
<ellipse cx="4.62" cy="57.69" rx="1.58" ry="1.08" fill="#a8a0c8" fill-opacity="0.7" transform="rotate(140.4062480071201 4.62 57.69)"/>
</g>
</g>
<rect x="13.3" y="268.3" width="87.0" height="64.0" fill="#000" filter="url(#noiseP)" opacity="0.08"/>
<rect x="13.3" y="268.3" width="87.0" height="64.0" fill="#000" filter="url(#nucL)" opacity="0.25"/>
<rect x="13.3" y="268.3" width="87.0" height="64.0" fill="#000" filter="url(#hl)" opacity="0.35"/>
<g transform="translate(13.3,268.3)" filter="url(#sblur)">
<path d="M20.00,43.00 C22.17,40.17 31.50,41.00 34.00,43.00 C36.50,45.00 35.67,51.83 35.00,55.00 C34.33,58.17 32.33,61.17 30.00,62.00 C27.67,62.83 22.67,63.17 21.00,60.00 C19.33,56.83 17.83,45.83 20.00,43.00 Z" fill="#f6f4f8" fill-opacity="0.95"/>
<path d="M78.00,33.00 C80.00,31.00 87.17,28.50 89.00,32.00 C90.83,35.50 90.33,50.67 89.00,54.00 C87.67,57.33 83.00,53.67 81.00,52.00 C79.00,50.33 77.50,47.17 77.00,44.00 C76.50,40.83 76.00,35.00 78.00,33.00 Z" fill="#f4f2f6" fill-opacity="0.9"/>
<path d="M-2.00,43.00 C-0.67,40.17 4.50,40.50 6.00,43.00 C7.50,45.50 8.33,55.17 7.00,58.00 C5.67,60.83 -0.50,62.50 -2.00,60.00 C-3.50,57.50 -3.33,45.83 -2.00,43.00 Z" fill="#eceaf4" fill-opacity="0.8"/>
</g>
</g>
<rect x="13.30" y="268.30" width="55.20" height="41.10" fill="none" stroke="#333" stroke-width="0.7"/>
<rect x="13.30" y="268.30" width="87.00" height="64.00" fill="none" stroke="#7a7a7a" stroke-width="0.9"/>
<text x="82.00" y="328.80" font-size="6.7" font-weight="bold" fill="#1a1a1a" textLength="17.0" lengthAdjust="spacingAndGlyphs">20 µm</text>
<line x1="92.00" y1="330.40" x2="98.80" y2="330.40" stroke="#1a1a1a" stroke-width="0.9"/>
<clipPath id="clip4"><rect x="101.6" y="268.3" width="86.3" height="64.0"/></clipPath>
<g clip-path="url(#clip4)">
<g transform="translate(101.6,268.3)">
<g filter="url(#gblur)">
<rect x="-4.00" y="-4.00" width="15.09" height="14.97" fill="#c8c4e4" fill-opacity="1.0"/>
<rect x="10.79" y="-4.00" width="11.09" height="14.97" fill="#d8d4ec" fill-opacity="1.0"/>
<rect x="21.57" y="-4.00" width="11.09" height="14.97" fill="#b86e37" fill-opacity="1.0"/>
<rect x="32.36" y="-4.00" width="11.09" height="14.97" fill="#b0662f" fill-opacity="1.0"/>
<rect x="43.15" y="-4.00" width="11.09" height="14.97" fill="#a86135" fill-opacity="1.0"/>
<rect x="53.94" y="-4.00" width="11.09" height="14.97" fill="#c07648" fill-opacity="1.0"/>
<rect x="64.72" y="-4.00" width="11.09" height="14.97" fill="#c0825b" fill-opacity="1.0"/>
<rect x="75.51" y="-4.00" width="15.09" height="14.97" fill="#bc7252" fill-opacity="1.0"/>
<rect x="-4.00" y="10.67" width="15.09" height="10.97" fill="#a85e30" fill-opacity="1.0"/>
<rect x="10.79" y="10.67" width="11.09" height="10.97" fill="#a85e30" fill-opacity="1.0"/>
<rect x="21.57" y="10.67" width="11.09" height="10.97" fill="#b0662f" fill-opacity="1.0"/>
<rect x="32.36" y="10.67" width="11.09" height="10.97" fill="#a85e3a" fill-opacity="1.0"/>
<rect x="43.15" y="10.67" width="11.09" height="10.97" fill="#a8683e" fill-opacity="1.0"/>
<rect x="53.94" y="10.67" width="11.09" height="10.97" fill="#c07648" fill-opacity="1.0"/>
<rect x="64.72" y="10.67" width="11.09" height="10.97" fill="#c09789" fill-opacity="1.0"/>
<rect x="75.51" y="10.67" width="15.09" height="10.97" fill="#bc7752" fill-opacity="1.0"/>
<rect x="-4.00" y="21.33" width="15.09" height="10.97" fill="#9a5029" fill-opacity="1.0"/>
<rect x="10.79" y="21.33" width="11.09" height="10.97" fill="#a85e27" fill-opacity="1.0"/>
<rect x="21.57" y="21.33" width="11.09" height="10.97" fill="#a85e2c" fill-opacity="1.0"/>
<rect x="32.36" y="21.33" width="11.09" height="10.97" fill="#a86843" fill-opacity="1.0"/>
<rect x="43.15" y="21.33" width="11.09" height="10.97" fill="#a86843" fill-opacity="1.0"/>
<rect x="53.94" y="21.33" width="11.09" height="10.97" fill="#c0805b" fill-opacity="1.0"/>
<rect x="64.72" y="21.33" width="11.09" height="10.97" fill="#b87865" fill-opacity="1.0"/>
<rect x="75.51" y="21.33" width="15.09" height="10.97" fill="#bc7249" fill-opacity="1.0"/>
<rect x="-4.00" y="32.00" width="15.09" height="10.97" fill="#b06638" fill-opacity="1.0"/>
<rect x="10.79" y="32.00" width="11.09" height="10.97" fill="#b06638" fill-opacity="1.0"/>
<rect x="21.57" y="32.00" width="11.09" height="10.97" fill="#c8a39a" fill-opacity="1.0"/>
<rect x="32.36" y="32.00" width="11.09" height="10.97" fill="#c09b89" fill-opacity="1.0"/>
<rect x="43.15" y="32.00" width="11.09" height="10.97" fill="#9a573c" fill-opacity="1.0"/>
<rect x="53.94" y="32.00" width="11.09" height="10.97" fill="#c48463" fill-opacity="1.0"/>
<rect x="64.72" y="32.00" width="11.09" height="10.97" fill="#c0765b" fill-opacity="1.0"/>
<rect x="75.51" y="32.00" width="15.09" height="10.97" fill="#bc7249" fill-opacity="1.0"/>
<rect x="-4.00" y="42.67" width="15.09" height="10.97" fill="#c0723f" fill-opacity="1.0"/>
<rect x="10.79" y="42.67" width="11.09" height="10.97" fill="#c07b4b" fill-opacity="1.0"/>
<rect x="21.57" y="42.67" width="11.09" height="10.97" fill="#c0896d" fill-opacity="1.0"/>
<rect x="32.36" y="42.67" width="11.09" height="10.97" fill="#c09b92" fill-opacity="1.0"/>
<rect x="43.15" y="42.67" width="11.09" height="10.97" fill="#b89ca1" fill-opacity="1.0"/>
<rect x="53.94" y="42.67" width="11.09" height="10.97" fill="#d4c8dc" fill-opacity="1.0"/>
<rect x="64.72" y="42.67" width="11.09" height="10.97" fill="#d0c0cc" fill-opacity="1.0"/>
<rect x="75.51" y="42.67" width="15.09" height="10.97" fill="#c07248" fill-opacity="1.0"/>
<rect x="-4.00" y="53.33" width="15.09" height="14.97" fill="#c49476" fill-opacity="1.0"/>
<rect x="10.79" y="53.33" width="11.09" height="14.97" fill="#b8785c" fill-opacity="1.0"/>
<rect x="21.57" y="53.33" width="11.09" height="14.97" fill="#c8a39a" fill-opacity="1.0"/>
<rect x="32.36" y="53.33" width="11.09" height="14.97" fill="#d0ab99" fill-opacity="1.0"/>
<rect x="43.15" y="53.33" width="11.09" height="14.97" fill="#b8856e" fill-opacity="1.0"/>
<rect x="53.94" y="53.33" width="11.09" height="14.97" fill="#c8a3a3" fill-opacity="1.0"/>
<rect x="64.72" y="53.33" width="11.09" height="14.97" fill="#c08d6d" fill-opacity="1.0"/>
<rect x="75.51" y="53.33" width="15.09" height="14.97" fill="#c07648" fill-opacity="1.0"/>
</g>
<g filter="url(#sblur)">
<path d="M-2.00,-2.00 L28.00,-2.00 L22.00,1.30 L15.50,5.00 L8.00,11.50 L-2.00,12.00 Z" fill="#d4d2ee" fill-opacity="1.0"/>
<path d="M-1.00,12.00 C0.33,12.03 4.33,12.70 7.00,12.20 C9.67,11.70 12.50,10.20 15.00,9.00 C17.50,7.80 19.75,6.33 22.00,5.00 C24.25,3.67 27.42,1.67 28.50,1.00" fill="none" stroke="#6a3018" stroke-width="1.0" stroke-opacity="1.0" stroke-linecap="round" stroke-linejoin="round"/>
<path d="M23.00,41.50 C24.67,40.58 29.50,38.08 33.00,36.00 C36.50,33.92 40.33,31.33 44.00,29.00 C47.67,26.67 53.17,23.17 55.00,22.00" fill="none" stroke="#b8b0d8" stroke-width="1.2" stroke-opacity="1.0" stroke-linecap="round" stroke-linejoin="round"/>
<ellipse cx="38.50" cy="38.50" rx="3.20" ry="2.40" fill="#f2f0f4" fill-opacity="1.0" transform="rotate(0 38.50 38.50)"/>
<ellipse cx="9.00" cy="26.00" rx="2.00" ry="5.00" fill="#7a4030" fill-opacity="0.8" transform="rotate(0 9.00 26.00)"/>
<ellipse cx="18.00" cy="25.00" rx="2.00" ry="5.00" fill="#7a4030" fill-opacity="0.8" transform="rotate(0 18.00 25.00)"/>
<ellipse cx="28.00" cy="15.00" rx="2.00" ry="5.00" fill="#7a4030" fill-opacity="0.7" transform="rotate(0 28.00 15.00)"/>
<ellipse cx="35.00" cy="13.00" rx="2.00" ry="5.00" fill="#7a4030" fill-opacity="0.7" transform="rotate(0 35.00 13.00)"/>
<ellipse cx="49.00" cy="33.00" rx="2.50" ry="4.00" fill="#7a4030" fill-opacity="0.7" transform="rotate(0 49.00 33.00)"/>
<ellipse cx="66.80" cy="11.00" rx="3.00" ry="2.50" fill="#d4d0ec" fill-opacity="1.0" transform="rotate(0 66.80 11.00)"/>
<ellipse cx="60.00" cy="32.80" rx="2.20" ry="2.20" fill="#f2f0f4" fill-opacity="1.0" transform="rotate(0 60.00 32.80)"/>
<path d="M52.00,50.00 C52.67,48.67 58.50,47.33 62.00,46.00 C65.50,44.67 71.00,41.67 73.00,42.00 C75.00,42.33 75.17,46.17 74.00,48.00 C72.83,49.83 68.67,52.00 66.00,53.00 C63.33,54.00 60.33,54.50 58.00,54.00 C55.67,53.50 51.33,51.33 52.00,50.00 Z" fill="#d4cce4" fill-opacity="1.0"/>
<path d="M58.00,49.00 C58.33,48.17 64.00,46.17 66.00,46.00 C68.00,45.83 70.33,47.17 70.00,48.00 C69.67,48.83 66.00,50.83 64.00,51.00 C62.00,51.17 57.67,49.83 58.00,49.00 Z" fill="#f2f0f6" fill-opacity="1.0"/>
<path d="M23.00,48.00 C24.17,46.58 29.67,46.17 31.00,47.50 C32.33,48.83 32.17,54.58 31.00,56.00 C29.83,57.42 25.33,57.33 24.00,56.00 C22.67,54.67 21.83,49.42 23.00,48.00 Z" fill="#b8b0d0" fill-opacity="0.8"/>
<ellipse cx="37.50" cy="55.00" rx="2.50" ry="2.20" fill="#f2f0f4" fill-opacity="1.0" transform="rotate(0 37.50 55.00)"/>
<path d="M-2.00,60.00 C0.50,59.00 10.50,59.00 13.00,60.00 C15.50,61.00 15.50,65.00 13.00,66.00 C10.50,67.00 0.50,67.00 -2.00,66.00 C-4.50,65.00 -4.50,61.00 -2.00,60.00 Z" fill="#e8e4f0" fill-opacity="1.0"/>
<path d="M56.00,36.00 C57.67,35.00 62.67,32.00 66.00,30.00 C69.33,28.00 72.17,26.67 76.00,24.00 C79.83,21.33 86.83,15.67 89.00,14.00" fill="none" stroke="#b8b0d8" stroke-width="1.0" stroke-opacity="0.8" stroke-linecap="round" stroke-linejoin="round"/>
<ellipse cx="21.81" cy="19.23" rx="0.48" ry="0.47" fill="#e0b890" fill-opacity="0.5" transform="rotate(104.02902455146776 21.81 19.23)"/>
<ellipse cx="37.89" cy="27.93" rx="0.59" ry="0.53" fill="#e0b890" fill-opacity="0.5" transform="rotate(103.75703261553554 37.89 27.93)"/>
<ellipse cx="42.62" cy="30.86" rx="0.82" ry="0.64" fill="#e0b890" fill-opacity="0.5" transform="rotate(27.90889574289124 42.62 30.86)"/>
<ellipse cx="9.79" cy="32.53" rx="0.48" ry="0.42" fill="#e0b890" fill-opacity="0.5" transform="rotate(111.7392190179357 9.79 32.53)"/>
<ellipse cx="5.09" cy="34.18" rx="0.42" ry="0.39" fill="#e0b890" fill-opacity="0.5" transform="rotate(151.38825649223793 5.09 34.18)"/>
<ellipse cx="13.23" cy="32.61" rx="0.77" ry="0.50" fill="#e0b890" fill-opacity="0.5" transform="rotate(120.59141459566955 13.23 32.61)"/>
<ellipse cx="8.44" cy="37.66" rx="0.74" ry="0.74" fill="#e0b890" fill-opacity="0.5" transform="rotate(9.635315894939998 8.44 37.66)"/>
<ellipse cx="18.53" cy="29.74" rx="0.70" ry="0.47" fill="#e0b890" fill-opacity="0.5" transform="rotate(159.80045797966355 18.53 29.74)"/>
<ellipse cx="46.02" cy="21.14" rx="0.47" ry="0.41" fill="#e0b890" fill-opacity="0.5" transform="rotate(73.29440432690316 46.02 21.14)"/>
<ellipse cx="36.49" cy="26.32" rx="0.60" ry="0.36" fill="#e0b890" fill-opacity="0.5" transform="rotate(24.29086948943177 36.49 26.32)"/>
<ellipse cx="25.84" cy="32.66" rx="0.61" ry="0.55" fill="#e0b890" fill-opacity="0.5" transform="rotate(97.16170463753247 25.84 32.66)"/>
<ellipse cx="47.78" cy="30.69" rx="0.56" ry="0.37" fill="#e0b890" fill-opacity="0.5" transform="rotate(11.831409997617106 47.78 30.69)"/>
<ellipse cx="4.06" cy="36.29" rx="0.84" ry="0.75" fill="#e0b890" fill-opacity="0.5" transform="rotate(19.67926694137509 4.06 36.29)"/>
<ellipse cx="36.35" cy="16.45" rx="0.84" ry="0.73" fill="#e0b890" fill-opacity="0.5" transform="rotate(134.93118401882737 36.35 16.45)"/>
<ellipse cx="33.67" cy="24.30" rx="0.82" ry="0.81" fill="#e0b890" fill-opacity="0.5" transform="rotate(43.51562827609249 33.67 24.30)"/>
<ellipse cx="24.74" cy="32.80" rx="0.74" ry="0.57" fill="#e0b890" fill-opacity="0.5" transform="rotate(81.00269090338547 24.74 32.80)"/>
<ellipse cx="52.32" cy="20.45" rx="0.51" ry="0.44" fill="#e0b890" fill-opacity="0.5" transform="rotate(49.853067456964055 52.32 20.45)"/>
<ellipse cx="48.67" cy="21.79" rx="0.86" ry="0.65" fill="#e0b890" fill-opacity="0.5" transform="rotate(159.32129944155795 48.67 21.79)"/>
<ellipse cx="41.06" cy="32.76" rx="0.51" ry="0.34" fill="#e0b890" fill-opacity="0.5" transform="rotate(5.584342037129311 41.06 32.76)"/>
<ellipse cx="11.39" cy="31.00" rx="0.43" ry="0.30" fill="#e0b890" fill-opacity="0.5" transform="rotate(102.06641966168276 11.39 31.00)"/>
<ellipse cx="10.07" cy="21.88" rx="0.51" ry="0.45" fill="#e0b890" fill-opacity="0.5" transform="rotate(21.332899541170175 10.07 21.88)"/>
<ellipse cx="53.87" cy="29.17" rx="0.76" ry="0.62" fill="#e0b890" fill-opacity="0.5" transform="rotate(89.60733585577559 53.87 29.17)"/>
<ellipse cx="52.48" cy="37.13" rx="0.81" ry="0.50" fill="#e0b890" fill-opacity="0.5" transform="rotate(106.1125146413455 52.48 37.13)"/>
<ellipse cx="50.97" cy="30.23" rx="0.66" ry="0.56" fill="#e0b890" fill-opacity="0.5" transform="rotate(31.86156447249538 50.97 30.23)"/>
<ellipse cx="39.84" cy="34.16" rx="0.44" ry="0.35" fill="#e0b890" fill-opacity="0.5" transform="rotate(107.14154142789039 39.84 34.16)"/>
<ellipse cx="20.30" cy="31.41" rx="0.86" ry="0.83" fill="#e0b890" fill-opacity="0.5" transform="rotate(55.39844059280953 20.30 31.41)"/>
<ellipse cx="9.89" cy="36.06" rx="0.71" ry="0.66" fill="#e0b890" fill-opacity="0.5" transform="rotate(156.4067486464263 9.89 36.06)"/>
<ellipse cx="16.53" cy="28.86" rx="0.55" ry="0.51" fill="#e0b890" fill-opacity="0.5" transform="rotate(124.4807931271173 16.53 28.86)"/>
<ellipse cx="14.43" cy="26.50" rx="0.70" ry="0.48" fill="#e0b890" fill-opacity="0.5" transform="rotate(32.84848528086412 14.43 26.50)"/>
<ellipse cx="26.66" cy="14.95" rx="0.65" ry="0.63" fill="#e0b890" fill-opacity="0.5" transform="rotate(148.67789050586293 26.66 14.95)"/>
<ellipse cx="4.82" cy="35.30" rx="0.76" ry="0.67" fill="#e0b890" fill-opacity="0.5" transform="rotate(4.824318709197142 4.82 35.30)"/>
<ellipse cx="41.51" cy="18.28" rx="0.80" ry="0.58" fill="#e0b890" fill-opacity="0.5" transform="rotate(65.99620688223712 41.51 18.28)"/>
<ellipse cx="10.96" cy="36.42" rx="0.51" ry="0.48" fill="#e0b890" fill-opacity="0.5" transform="rotate(92.48572164851288 10.96 36.42)"/>
<ellipse cx="9.72" cy="30.69" rx="0.67" ry="0.41" fill="#e0b890" fill-opacity="0.5" transform="rotate(148.24614802617427 9.72 30.69)"/>
<ellipse cx="16.09" cy="13.64" rx="0.78" ry="0.70" fill="#e0b890" fill-opacity="0.5" transform="rotate(69.43969674881266 16.09 13.64)"/>
<ellipse cx="11.68" cy="27.23" rx="0.69" ry="0.61" fill="#e0b890" fill-opacity="0.5" transform="rotate(88.12329062440654 11.68 27.23)"/>
<ellipse cx="31.53" cy="32.46" rx="0.49" ry="0.33" fill="#e0b890" fill-opacity="0.5" transform="rotate(87.20213290839645 31.53 32.46)"/>
<ellipse cx="41.22" cy="34.68" rx="0.83" ry="0.64" fill="#e0b890" fill-opacity="0.5" transform="rotate(128.46430462502443 41.22 34.68)"/>
<ellipse cx="7.52" cy="23.49" rx="0.43" ry="0.40" fill="#e0b890" fill-opacity="0.5" transform="rotate(179.95905784801113 7.52 23.49)"/>
<ellipse cx="36.82" cy="33.32" rx="0.59" ry="0.54" fill="#e0b890" fill-opacity="0.5" transform="rotate(15.303882754804087 36.82 33.32)"/>
<ellipse cx="21.27" cy="22.47" rx="0.83" ry="0.56" fill="#e0b890" fill-opacity="0.5" transform="rotate(28.64440295554054 21.27 22.47)"/>
<ellipse cx="6.65" cy="35.76" rx="0.56" ry="0.54" fill="#e0b890" fill-opacity="0.5" transform="rotate(56.33976324052627 6.65 35.76)"/>
<ellipse cx="45.51" cy="18.26" rx="0.85" ry="0.84" fill="#e0b890" fill-opacity="0.5" transform="rotate(158.1081128815104 45.51 18.26)"/>
<ellipse cx="37.98" cy="37.20" rx="0.86" ry="0.84" fill="#e0b890" fill-opacity="0.5" transform="rotate(49.57546438801222 37.98 37.20)"/>
<ellipse cx="46.19" cy="34.05" rx="0.57" ry="0.38" fill="#e0b890" fill-opacity="0.5" transform="rotate(161.93554741970095 46.19 34.05)"/>
<ellipse cx="26.56" cy="27.31" rx="0.84" ry="0.67" fill="#e0b890" fill-opacity="0.5" transform="rotate(45.449779186264095 26.56 27.31)"/>
<ellipse cx="37.67" cy="27.37" rx="0.54" ry="0.47" fill="#e0b890" fill-opacity="0.5" transform="rotate(162.72560290122414 37.67 27.37)"/>
<ellipse cx="14.79" cy="34.94" rx="0.78" ry="0.63" fill="#e0b890" fill-opacity="0.5" transform="rotate(34.79004107214848 14.79 34.94)"/>
<ellipse cx="36.58" cy="20.60" rx="0.53" ry="0.49" fill="#e0b890" fill-opacity="0.5" transform="rotate(48.707267876436 36.58 20.60)"/>
<ellipse cx="6.81" cy="35.83" rx="0.90" ry="0.65" fill="#e0b890" fill-opacity="0.5" transform="rotate(72.89482740860461 6.81 35.83)"/>
<ellipse cx="30.32" cy="33.33" rx="0.41" ry="0.35" fill="#e0b890" fill-opacity="0.5" transform="rotate(42.059215808320594 30.32 33.33)"/>
<ellipse cx="50.31" cy="24.20" rx="0.87" ry="0.68" fill="#e0b890" fill-opacity="0.5" transform="rotate(117.908527253668 50.31 24.20)"/>
<ellipse cx="3.97" cy="18.47" rx="0.55" ry="0.41" fill="#e0b890" fill-opacity="0.5" transform="rotate(31.153032251602863 3.97 18.47)"/>
<ellipse cx="23.90" cy="15.38" rx="0.68" ry="0.67" fill="#e0b890" fill-opacity="0.5" transform="rotate(154.2941832833229 23.90 15.38)"/>
<ellipse cx="34.34" cy="39.51" rx="0.76" ry="0.65" fill="#e0b890" fill-opacity="0.5" transform="rotate(82.31634645369007 34.34 39.51)"/>
<ellipse cx="6.28" cy="37.12" rx="0.85" ry="0.78" fill="#e0b890" fill-opacity="0.5" transform="rotate(124.0117689707252 6.28 37.12)"/>
<ellipse cx="44.26" cy="38.88" rx="0.89" ry="0.80" fill="#e0b890" fill-opacity="0.5" transform="rotate(2.9289549264211545 44.26 38.88)"/>
<ellipse cx="51.26" cy="28.33" rx="0.63" ry="0.48" fill="#e0b890" fill-opacity="0.5" transform="rotate(48.675794312192295 51.26 28.33)"/>
<ellipse cx="3.77" cy="29.70" rx="0.71" ry="0.45" fill="#e0b890" fill-opacity="0.5" transform="rotate(166.11803253509962 3.77 29.70)"/>
<ellipse cx="48.98" cy="36.35" rx="0.67" ry="0.50" fill="#e0b890" fill-opacity="0.5" transform="rotate(84.68689423765942 48.98 36.35)"/>
<path d="M33.5,54.5 L36.6,53.8 L35.2,57 Z" fill="#000"/>
</g>
</g>
<rect x="101.6" y="268.3" width="86.3" height="64.0" fill="#000" filter="url(#noiseB)" opacity="0.12"/>
<rect x="101.6" y="268.3" width="86.3" height="64.0" fill="#000" filter="url(#net)" opacity="0.18"/>
<rect x="101.6" y="268.3" width="86.3" height="64.0" fill="#000" filter="url(#hl)" opacity="0.32"/>
<rect x="101.6" y="268.3" width="86.3" height="64.0" fill="#000" filter="url(#nucP)" opacity="0.32"/>
</g>
<rect x="101.60" y="268.30" width="55.20" height="41.10" fill="none" stroke="#333" stroke-width="0.7"/>
<rect x="101.60" y="268.30" width="86.30" height="64.00" fill="none" stroke="#7a7a7a" stroke-width="0.9"/>
<text x="169.60" y="328.80" font-size="6.7" font-weight="bold" fill="#1a1a1a" textLength="17.0" lengthAdjust="spacingAndGlyphs">20 µm</text>
<line x1="179.60" y1="330.40" x2="186.40" y2="330.40" stroke="#1a1a1a" stroke-width="0.9"/>
<clipPath id="clip5"><rect x="197.0" y="202.3" width="87.1" height="64.0"/></clipPath>
<g clip-path="url(#clip5)">
<g transform="translate(197.0,202.3)">
<g filter="url(#gblur)">
<rect x="-4.00" y="-4.00" width="15.19" height="14.97" fill="#e0d8e4" fill-opacity="1.0"/>
<rect x="10.89" y="-4.00" width="11.19" height="14.97" fill="#c8a890" fill-opacity="1.0"/>
<rect x="21.77" y="-4.00" width="11.19" height="14.97" fill="#d8c4b8" fill-opacity="1.0"/>
<rect x="32.66" y="-4.00" width="11.19" height="14.97" fill="#ece6ec" fill-opacity="1.0"/>
<rect x="43.55" y="-4.00" width="11.19" height="14.97" fill="#e4dce0" fill-opacity="1.0"/>
<rect x="54.44" y="-4.00" width="11.19" height="14.97" fill="#c8a8a0" fill-opacity="1.0"/>
<rect x="65.32" y="-4.00" width="11.19" height="14.97" fill="#d8d0e0" fill-opacity="1.0"/>
<rect x="76.21" y="-4.00" width="15.19" height="14.97" fill="#f0eef4" fill-opacity="1.0"/>
<rect x="-4.00" y="10.67" width="15.19" height="10.97" fill="#e4dce4" fill-opacity="1.0"/>
<rect x="10.89" y="10.67" width="11.19" height="10.97" fill="#b08878" fill-opacity="1.0"/>
<rect x="21.77" y="10.67" width="11.19" height="10.97" fill="#c8a890" fill-opacity="1.0"/>
<rect x="32.66" y="10.67" width="11.19" height="10.97" fill="#dcccc8" fill-opacity="1.0"/>
<rect x="43.55" y="10.67" width="11.19" height="10.97" fill="#d8ccd0" fill-opacity="1.0"/>
<rect x="54.44" y="10.67" width="11.19" height="10.97" fill="#c0a0a0" fill-opacity="1.0"/>
<rect x="65.32" y="10.67" width="11.19" height="10.97" fill="#c8b4c0" fill-opacity="1.0"/>
<rect x="76.21" y="10.67" width="15.19" height="10.97" fill="#e4e0ec" fill-opacity="1.0"/>
<rect x="-4.00" y="21.33" width="15.19" height="10.97" fill="#b88060" fill-opacity="1.0"/>
<rect x="10.89" y="21.33" width="11.19" height="10.97" fill="#e4dce0" fill-opacity="1.0"/>
<rect x="21.77" y="21.33" width="11.19" height="10.97" fill="#b89080" fill-opacity="1.0"/>
<rect x="32.66" y="21.33" width="11.19" height="10.97" fill="#d0bcb8" fill-opacity="1.0"/>
<rect x="43.55" y="21.33" width="11.19" height="10.97" fill="#d4c8cc" fill-opacity="1.0"/>
<rect x="54.44" y="21.33" width="11.19" height="10.97" fill="#d0bcc0" fill-opacity="1.0"/>
<rect x="65.32" y="21.33" width="11.19" height="10.97" fill="#b8a0b0" fill-opacity="1.0"/>
<rect x="76.21" y="21.33" width="15.19" height="10.97" fill="#c8b8cc" fill-opacity="1.0"/>
<rect x="-4.00" y="32.00" width="15.19" height="10.97" fill="#b88060" fill-opacity="1.0"/>
<rect x="10.89" y="32.00" width="11.19" height="10.97" fill="#e8e4ec" fill-opacity="1.0"/>
<rect x="21.77" y="32.00" width="11.19" height="10.97" fill="#c0a0a0" fill-opacity="1.0"/>
<rect x="32.66" y="32.00" width="11.19" height="10.97" fill="#c8b0b0" fill-opacity="1.0"/>
<rect x="43.55" y="32.00" width="11.19" height="10.97" fill="#d0c0c4" fill-opacity="1.0"/>
<rect x="54.44" y="32.00" width="11.19" height="10.97" fill="#c8b4b8" fill-opacity="1.0"/>
<rect x="65.32" y="32.00" width="11.19" height="10.97" fill="#b8a0b0" fill-opacity="1.0"/>
<rect x="76.21" y="32.00" width="15.19" height="10.97" fill="#c0b0c8" fill-opacity="1.0"/>
<rect x="-4.00" y="42.67" width="15.19" height="10.97" fill="#c0a090" fill-opacity="1.0"/>
<rect x="10.89" y="42.67" width="11.19" height="10.97" fill="#e4e0ec" fill-opacity="1.0"/>
<rect x="21.77" y="42.67" width="11.19" height="10.97" fill="#e0dae6" fill-opacity="1.0"/>
<rect x="32.66" y="42.67" width="11.19" height="10.97" fill="#c8b4b8" fill-opacity="1.0"/>
<rect x="43.55" y="42.67" width="11.19" height="10.97" fill="#c0a8b0" fill-opacity="1.0"/>
<rect x="54.44" y="42.67" width="11.19" height="10.97" fill="#c0a8b8" fill-opacity="1.0"/>
<rect x="65.32" y="42.67" width="11.19" height="10.97" fill="#b8a0b4" fill-opacity="1.0"/>
<rect x="76.21" y="42.67" width="15.19" height="10.97" fill="#c0acbc" fill-opacity="1.0"/>
<rect x="-4.00" y="53.33" width="15.19" height="14.97" fill="#c8a898" fill-opacity="1.0"/>
<rect x="10.89" y="53.33" width="11.19" height="14.97" fill="#e8e4ee" fill-opacity="1.0"/>
<rect x="21.77" y="53.33" width="11.19" height="14.97" fill="#e4e0ec" fill-opacity="1.0"/>
<rect x="32.66" y="53.33" width="11.19" height="14.97" fill="#c8b8c4" fill-opacity="1.0"/>
<rect x="43.55" y="53.33" width="11.19" height="14.97" fill="#c0a8b4" fill-opacity="1.0"/>
<rect x="54.44" y="53.33" width="11.19" height="14.97" fill="#c8b4c0" fill-opacity="1.0"/>
<rect x="65.32" y="53.33" width="11.19" height="14.97" fill="#c0a8b8" fill-opacity="1.0"/>
<rect x="76.21" y="53.33" width="15.19" height="14.97" fill="#ccbcc8" fill-opacity="1.0"/>
</g>
<g filter="url(#sblur)">
<path d="M-3.00,22.00 C-1.67,18.83 3.50,20.33 5.00,22.00 C6.50,23.67 6.17,28.83 6.00,32.00 C5.83,35.17 5.50,39.50 4.00,41.00 C2.50,42.50 -1.83,44.17 -3.00,41.00 C-4.17,37.83 -4.33,25.17 -3.00,22.00 Z" fill="#a87050" fill-opacity="0.75"/>
<path d="M-3.00,-3.00 C-1.17,-6.00 6.33,-5.83 8.00,-3.00 C9.67,-0.17 8.83,11.00 7.00,14.00 C5.17,17.00 -1.33,17.83 -3.00,15.00 C-4.67,12.17 -4.83,0.00 -3.00,-3.00 Z" fill="#ece8f0" fill-opacity="0.9"/>
<path d="M8.00,4.00 C10.67,1.17 20.67,1.33 24.00,3.00 C27.33,4.67 27.50,10.17 28.00,14.00 C28.50,17.83 28.00,22.67 27.00,26.00 C26.00,29.33 24.50,32.83 22.00,34.00 C19.50,35.17 14.33,35.33 12.00,33.00 C9.67,30.67 8.67,24.83 8.00,20.00 C7.33,15.17 5.33,6.83 8.00,4.00 Z" fill="#b08060" fill-opacity="0.75"/>
<ellipse cx="12.00" cy="12.00" rx="2.50" ry="3.50" fill="#8070a0" fill-opacity="0.55" transform="rotate(0 12.00 12.00)"/>
<ellipse cx="17.00" cy="18.00" rx="2.50" ry="3.20" fill="#8070a0" fill-opacity="0.55" transform="rotate(0 17.00 18.00)"/>
<ellipse cx="21.00" cy="23.00" rx="2.50" ry="2.20" fill="#8070a0" fill-opacity="0.5" transform="rotate(0 21.00 23.00)"/>
<ellipse cx="50.00" cy="24.00" rx="2.20" ry="3.20" fill="#8878a8" fill-opacity="0.5" transform="rotate(0 50.00 24.00)"/>
<ellipse cx="50.00" cy="35.00" rx="2.20" ry="2.20" fill="#8878a8" fill-opacity="0.5" transform="rotate(0 50.00 35.00)"/>
<path d="M57.00,3.00 C58.50,4.83 62.83,9.83 66.00,14.00 C69.17,18.17 72.50,22.33 76.00,28.00 C79.50,33.67 85.17,44.67 87.00,48.00" fill="none" stroke="#b89098" stroke-width="6" stroke-opacity="0.5" stroke-linecap="round" stroke-linejoin="round"/>
<path d="M-3.00,41.00 C-2.00,36.83 2.00,36.83 3.00,41.00 C4.00,45.17 4.00,61.83 3.00,66.00 C2.00,70.17 -2.00,70.17 -3.00,66.00 C-4.00,61.83 -4.00,45.17 -3.00,41.00 Z" fill="#b89080" fill-opacity="0.8"/>
<ellipse cx="63.79" cy="34.63" rx="0.61" ry="0.57" fill="#a898c8" fill-opacity="0.6" transform="rotate(41.65191225609047 63.79 34.63)"/>
<ellipse cx="73.67" cy="59.66" rx="0.78" ry="0.77" fill="#a898c8" fill-opacity="0.6" transform="rotate(131.66494492641792 73.67 59.66)"/>
<ellipse cx="73.54" cy="42.11" rx="0.91" ry="0.68" fill="#a898c8" fill-opacity="0.6" transform="rotate(179.40923042584444 73.54 42.11)"/>
<ellipse cx="68.92" cy="63.05" rx="1.10" ry="0.67" fill="#a898c8" fill-opacity="0.6" transform="rotate(46.476389809448854 68.92 63.05)"/>
<ellipse cx="71.29" cy="53.06" rx="0.62" ry="0.53" fill="#a898c8" fill-opacity="0.6" transform="rotate(66.0976907672584 71.29 53.06)"/>
<ellipse cx="81.14" cy="59.66" rx="1.03" ry="0.70" fill="#a898c8" fill-opacity="0.6" transform="rotate(136.85183469433525 81.14 59.66)"/>
<ellipse cx="70.02" cy="54.40" rx="0.83" ry="0.80" fill="#a898c8" fill-opacity="0.6" transform="rotate(177.5099566513598 70.02 54.40)"/>
<ellipse cx="82.37" cy="53.74" rx="1.07" ry="0.90" fill="#a898c8" fill-opacity="0.6" transform="rotate(31.474795482052368 82.37 53.74)"/>
<ellipse cx="87.56" cy="32.39" rx="0.51" ry="0.40" fill="#a898c8" fill-opacity="0.6" transform="rotate(74.69578328792359 87.56 32.39)"/>
<ellipse cx="62.43" cy="61.66" rx="0.58" ry="0.56" fill="#a898c8" fill-opacity="0.6" transform="rotate(98.95696178077 62.43 61.66)"/>
<ellipse cx="61.72" cy="26.14" rx="0.82" ry="0.53" fill="#a898c8" fill-opacity="0.6" transform="rotate(137.3430509804695 61.72 26.14)"/>
<ellipse cx="76.85" cy="62.96" rx="1.08" ry="0.99" fill="#a898c8" fill-opacity="0.6" transform="rotate(179.4433537527193 76.85 62.96)"/>
<ellipse cx="85.82" cy="42.99" rx="0.88" ry="0.71" fill="#a898c8" fill-opacity="0.6" transform="rotate(146.4935087804441 85.82 42.99)"/>
<ellipse cx="85.61" cy="54.00" rx="1.09" ry="0.66" fill="#a898c8" fill-opacity="0.6" transform="rotate(75.71329217502104 85.61 54.00)"/>
<ellipse cx="58.79" cy="39.53" rx="0.91" ry="0.75" fill="#a898c8" fill-opacity="0.6" transform="rotate(154.43547330865275 58.79 39.53)"/>
<ellipse cx="63.20" cy="48.00" rx="0.91" ry="0.62" fill="#a898c8" fill-opacity="0.6" transform="rotate(176.12521452655787 63.20 48.00)"/>
<ellipse cx="57.71" cy="32.43" rx="0.87" ry="0.73" fill="#a898c8" fill-opacity="0.6" transform="rotate(176.76588249597336 57.71 32.43)"/>
<ellipse cx="73.65" cy="57.31" rx="0.71" ry="0.56" fill="#a898c8" fill-opacity="0.6" transform="rotate(26.439389280936453 73.65 57.31)"/>
<ellipse cx="76.47" cy="29.92" rx="1.05" ry="0.68" fill="#a898c8" fill-opacity="0.6" transform="rotate(83.57509805274483 76.47 29.92)"/>
<ellipse cx="86.68" cy="5.66" rx="0.96" ry="0.84" fill="#a898c8" fill-opacity="0.6" transform="rotate(130.65695251466138 86.68 5.66)"/>
<ellipse cx="73.84" cy="34.54" rx="1.17" ry="0.84" fill="#a898c8" fill-opacity="0.6" transform="rotate(126.67023306161839 73.84 34.54)"/>
<ellipse cx="77.39" cy="47.97" rx="0.83" ry="0.51" fill="#a898c8" fill-opacity="0.6" transform="rotate(139.58404365036827 77.39 47.97)"/>
<ellipse cx="64.94" cy="51.16" rx="1.19" ry="1.08" fill="#a898c8" fill-opacity="0.6" transform="rotate(72.51953276073615 64.94 51.16)"/>
<ellipse cx="83.43" cy="27.77" rx="0.72" ry="0.60" fill="#a898c8" fill-opacity="0.6" transform="rotate(117.61764001374684 83.43 27.77)"/>
<ellipse cx="77.95" cy="37.60" rx="0.79" ry="0.71" fill="#a898c8" fill-opacity="0.6" transform="rotate(58.398357526230384 77.95 37.60)"/>
<ellipse cx="75.41" cy="5.32" rx="0.59" ry="0.56" fill="#a898c8" fill-opacity="0.6" transform="rotate(38.79243869647231 75.41 5.32)"/>
<ellipse cx="69.21" cy="8.15" rx="1.04" ry="0.76" fill="#a898c8" fill-opacity="0.6" transform="rotate(8.804327661324336 69.21 8.15)"/>
<ellipse cx="64.77" cy="59.90" rx="1.03" ry="0.62" fill="#a898c8" fill-opacity="0.6" transform="rotate(171.64679841212993 64.77 59.90)"/>
<ellipse cx="58.31" cy="33.57" rx="0.87" ry="0.80" fill="#a898c8" fill-opacity="0.6" transform="rotate(25.45944528815325 58.31 33.57)"/>
<ellipse cx="82.40" cy="21.18" rx="1.02" ry="0.99" fill="#a898c8" fill-opacity="0.6" transform="rotate(106.218022189995 82.40 21.18)"/>
<ellipse cx="56.06" cy="44.36" rx="0.80" ry="0.72" fill="#a898c8" fill-opacity="0.6" transform="rotate(141.1934592001208 56.06 44.36)"/>
<ellipse cx="59.44" cy="38.50" rx="0.95" ry="0.92" fill="#a898c8" fill-opacity="0.6" transform="rotate(110.48313375875351 59.44 38.50)"/>
<ellipse cx="75.68" cy="50.36" rx="0.61" ry="0.58" fill="#a898c8" fill-opacity="0.6" transform="rotate(104.5952584292106 75.68 50.36)"/>
<ellipse cx="76.36" cy="14.12" rx="0.87" ry="0.66" fill="#a898c8" fill-opacity="0.6" transform="rotate(37.02040737840519 76.36 14.12)"/>
<ellipse cx="86.12" cy="54.93" rx="0.82" ry="0.52" fill="#a898c8" fill-opacity="0.6" transform="rotate(177.0831983407956 86.12 54.93)"/>
<ellipse cx="59.77" cy="34.91" rx="0.90" ry="0.84" fill="#a898c8" fill-opacity="0.6" transform="rotate(118.08609330436832 59.77 34.91)"/>
<ellipse cx="75.32" cy="35.26" rx="1.18" ry="1.10" fill="#a898c8" fill-opacity="0.6" transform="rotate(64.12239238928532 75.32 35.26)"/>
<ellipse cx="81.43" cy="60.91" rx="0.84" ry="0.53" fill="#a898c8" fill-opacity="0.6" transform="rotate(12.07682242038391 81.43 60.91)"/>
<ellipse cx="86.96" cy="17.26" rx="1.06" ry="0.72" fill="#a898c8" fill-opacity="0.6" transform="rotate(40.36593824679885 86.96 17.26)"/>
<ellipse cx="61.14" cy="53.11" rx="0.56" ry="0.44" fill="#a898c8" fill-opacity="0.6" transform="rotate(145.58261338428986 61.14 53.11)"/>
<ellipse cx="72.87" cy="5.54" rx="0.51" ry="0.48" fill="#a898c8" fill-opacity="0.6" transform="rotate(54.043159288004276 72.87 5.54)"/>
<ellipse cx="58.66" cy="36.00" rx="1.05" ry="0.76" fill="#a898c8" fill-opacity="0.6" transform="rotate(24.108390670943958 58.66 36.00)"/>
<ellipse cx="61.94" cy="32.98" rx="1.05" ry="0.66" fill="#a898c8" fill-opacity="0.6" transform="rotate(136.97737123320513 61.94 32.98)"/>
<ellipse cx="77.82" cy="37.91" rx="0.77" ry="0.47" fill="#a898c8" fill-opacity="0.6" transform="rotate(90.7073197435146 77.82 37.91)"/>
<ellipse cx="69.17" cy="45.07" rx="0.54" ry="0.36" fill="#a898c8" fill-opacity="0.6" transform="rotate(3.365078379627311 69.17 45.07)"/>
<ellipse cx="71.57" cy="8.50" rx="0.87" ry="0.68" fill="#a898c8" fill-opacity="0.6" transform="rotate(59.53770145856986 71.57 8.50)"/>
<ellipse cx="62.08" cy="59.33" rx="0.84" ry="0.54" fill="#a898c8" fill-opacity="0.6" transform="rotate(104.00422355018864 62.08 59.33)"/>
<ellipse cx="80.42" cy="33.80" rx="1.12" ry="1.05" fill="#a898c8" fill-opacity="0.6" transform="rotate(122.50019547575957 80.42 33.80)"/>
<ellipse cx="56.84" cy="28.73" rx="0.86" ry="0.57" fill="#a898c8" fill-opacity="0.6" transform="rotate(89.98592441457637 56.84 28.73)"/>
<ellipse cx="77.38" cy="49.40" rx="1.03" ry="0.93" fill="#a898c8" fill-opacity="0.6" transform="rotate(53.98992482752638 77.38 49.40)"/>
<ellipse cx="86.74" cy="43.20" rx="1.01" ry="0.80" fill="#a898c8" fill-opacity="0.6" transform="rotate(169.5101841299533 86.74 43.20)"/>
<ellipse cx="53.60" cy="62.22" rx="0.61" ry="0.61" fill="#a898c8" fill-opacity="0.6" transform="rotate(74.33631755039684 53.60 62.22)"/>
<ellipse cx="40.62" cy="49.61" rx="0.94" ry="0.58" fill="#a898c8" fill-opacity="0.6" transform="rotate(69.69312085829057 40.62 49.61)"/>
<ellipse cx="30.64" cy="43.53" rx="0.62" ry="0.43" fill="#a898c8" fill-opacity="0.6" transform="rotate(49.38534802154337 30.64 43.53)"/>
<ellipse cx="75.13" cy="51.15" rx="1.10" ry="1.06" fill="#a898c8" fill-opacity="0.6" transform="rotate(161.13760834990418 75.13 51.15)"/>
<ellipse cx="84.97" cy="54.67" rx="0.97" ry="0.92" fill="#a898c8" fill-opacity="0.6" transform="rotate(97.86679181224557 84.97 54.67)"/>
<ellipse cx="38.25" cy="53.45" rx="0.87" ry="0.59" fill="#a898c8" fill-opacity="0.6" transform="rotate(16.688050463701792 38.25 53.45)"/>
<ellipse cx="40.70" cy="57.34" rx="1.07" ry="0.92" fill="#a898c8" fill-opacity="0.6" transform="rotate(76.79918861234218 40.70 57.34)"/>
<ellipse cx="31.65" cy="42.09" rx="0.96" ry="0.78" fill="#a898c8" fill-opacity="0.6" transform="rotate(82.20343011674606 31.65 42.09)"/>
<ellipse cx="39.95" cy="44.71" rx="0.63" ry="0.41" fill="#a898c8" fill-opacity="0.6" transform="rotate(107.89308905044926 39.95 44.71)"/>
<ellipse cx="47.81" cy="54.21" rx="0.80" ry="0.66" fill="#a898c8" fill-opacity="0.6" transform="rotate(133.9780980957249 47.81 54.21)"/>
<ellipse cx="75.27" cy="45.29" rx="1.17" ry="1.10" fill="#a898c8" fill-opacity="0.6" transform="rotate(147.5886429952406 75.27 45.29)"/>
<ellipse cx="56.28" cy="62.94" rx="1.07" ry="0.74" fill="#a898c8" fill-opacity="0.6" transform="rotate(123.64503285748566 56.28 62.94)"/>
<ellipse cx="79.25" cy="58.56" rx="1.13" ry="0.92" fill="#a898c8" fill-opacity="0.6" transform="rotate(120.8143506664023 79.25 58.56)"/>
<ellipse cx="34.41" cy="56.61" rx="0.60" ry="0.54" fill="#a898c8" fill-opacity="0.6" transform="rotate(162.421523636031 34.41 56.61)"/>
<ellipse cx="51.55" cy="43.54" rx="0.53" ry="0.43" fill="#a898c8" fill-opacity="0.6" transform="rotate(28.066623204151597 51.55 43.54)"/>
<ellipse cx="72.87" cy="55.41" rx="0.85" ry="0.74" fill="#a898c8" fill-opacity="0.6" transform="rotate(27.147914574582494 72.87 55.41)"/>
<ellipse cx="56.58" cy="43.02" rx="0.88" ry="0.81" fill="#a898c8" fill-opacity="0.6" transform="rotate(27.741924345712473 56.58 43.02)"/>
<ellipse cx="69.94" cy="63.87" rx="0.73" ry="0.50" fill="#a898c8" fill-opacity="0.6" transform="rotate(45.43269958307344 69.94 63.87)"/>
<ellipse cx="78.33" cy="43.77" rx="1.04" ry="0.74" fill="#a898c8" fill-opacity="0.6" transform="rotate(136.0630668428067 78.33 43.77)"/>
<ellipse cx="81.45" cy="60.65" rx="0.63" ry="0.52" fill="#a898c8" fill-opacity="0.6" transform="rotate(57.02192682950318 81.45 60.65)"/>
<ellipse cx="80.76" cy="48.49" rx="0.62" ry="0.47" fill="#a898c8" fill-opacity="0.6" transform="rotate(15.53547596222157 80.76 48.49)"/>
<ellipse cx="42.92" cy="57.46" rx="0.73" ry="0.49" fill="#a898c8" fill-opacity="0.6" transform="rotate(168.31897611794457 42.92 57.46)"/>
<ellipse cx="45.14" cy="59.50" rx="0.98" ry="0.81" fill="#a898c8" fill-opacity="0.6" transform="rotate(116.74633384473667 45.14 59.50)"/>
<ellipse cx="63.69" cy="60.51" rx="0.99" ry="0.70" fill="#a898c8" fill-opacity="0.6" transform="rotate(118.01580742336334 63.69 60.51)"/>
<ellipse cx="59.42" cy="62.30" rx="0.58" ry="0.45" fill="#a898c8" fill-opacity="0.6" transform="rotate(174.02028172236606 59.42 62.30)"/>
<ellipse cx="33.92" cy="58.00" rx="1.13" ry="0.95" fill="#a898c8" fill-opacity="0.6" transform="rotate(10.28116100967402 33.92 58.00)"/>
<ellipse cx="75.02" cy="47.79" rx="0.86" ry="0.80" fill="#a898c8" fill-opacity="0.6" transform="rotate(56.402539250605486 75.02 47.79)"/>
<ellipse cx="44.16" cy="44.57" rx="0.74" ry="0.47" fill="#a898c8" fill-opacity="0.6" transform="rotate(125.02953756117316 44.16 44.57)"/>
<ellipse cx="78.13" cy="43.22" rx="0.87" ry="0.80" fill="#a898c8" fill-opacity="0.6" transform="rotate(140.0178741983977 78.13 43.22)"/>
<ellipse cx="45.37" cy="53.66" rx="0.98" ry="0.79" fill="#a898c8" fill-opacity="0.6" transform="rotate(179.84616515894706 45.37 53.66)"/>
<ellipse cx="82.81" cy="63.25" rx="0.59" ry="0.36" fill="#a898c8" fill-opacity="0.6" transform="rotate(106.15456772211537 82.81 63.25)"/>
<ellipse cx="63.57" cy="47.84" rx="0.67" ry="0.61" fill="#a898c8" fill-opacity="0.6" transform="rotate(143.34223358294736 63.57 47.84)"/>
<ellipse cx="30.78" cy="44.70" rx="1.00" ry="0.77" fill="#a898c8" fill-opacity="0.6" transform="rotate(27.719136392539042 30.78 44.70)"/>
<ellipse cx="85.05" cy="49.25" rx="0.55" ry="0.42" fill="#a898c8" fill-opacity="0.6" transform="rotate(73.060030820735 85.05 49.25)"/>
<ellipse cx="67.50" cy="58.84" rx="0.56" ry="0.44" fill="#a898c8" fill-opacity="0.6" transform="rotate(162.39075055755342 67.50 58.84)"/>
<ellipse cx="58.21" cy="61.53" rx="1.13" ry="1.04" fill="#a898c8" fill-opacity="0.6" transform="rotate(117.17447397605034 58.21 61.53)"/>
<ellipse cx="36.39" cy="63.63" rx="0.71" ry="0.51" fill="#a898c8" fill-opacity="0.6" transform="rotate(90.72306032654755 36.39 63.63)"/>
<ellipse cx="61.03" cy="58.96" rx="0.88" ry="0.85" fill="#a898c8" fill-opacity="0.6" transform="rotate(141.46288432701286 61.03 58.96)"/>
<ellipse cx="67.50" cy="48.04" rx="0.95" ry="0.76" fill="#a898c8" fill-opacity="0.6" transform="rotate(136.52327174914666 67.50 48.04)"/>
<ellipse cx="75.75" cy="57.52" rx="0.67" ry="0.60" fill="#a87860" fill-opacity="0.5" transform="rotate(168.6566346080819 75.75 57.52)"/>
<ellipse cx="72.66" cy="48.30" rx="0.84" ry="0.79" fill="#a87860" fill-opacity="0.5" transform="rotate(6.622638136426118 72.66 48.30)"/>
<ellipse cx="61.42" cy="63.82" rx="0.85" ry="0.60" fill="#a87860" fill-opacity="0.5" transform="rotate(133.63971509109456 61.42 63.82)"/>
<ellipse cx="61.42" cy="26.25" rx="0.66" ry="0.46" fill="#a87860" fill-opacity="0.5" transform="rotate(24.87572687280326 61.42 26.25)"/>
<ellipse cx="72.24" cy="43.17" rx="0.59" ry="0.51" fill="#a87860" fill-opacity="0.5" transform="rotate(176.75487033598898 72.24 43.17)"/>
<ellipse cx="57.76" cy="21.42" rx="0.45" ry="0.40" fill="#a87860" fill-opacity="0.5" transform="rotate(74.26691077409458 57.76 21.42)"/>
<ellipse cx="70.06" cy="19.58" rx="0.87" ry="0.78" fill="#a87860" fill-opacity="0.5" transform="rotate(80.53149593136813 70.06 19.58)"/>
<ellipse cx="82.40" cy="18.64" rx="0.61" ry="0.60" fill="#a87860" fill-opacity="0.5" transform="rotate(41.06028542531311 82.40 18.64)"/>
<ellipse cx="60.61" cy="6.90" rx="0.80" ry="0.75" fill="#a87860" fill-opacity="0.5" transform="rotate(9.310210042658426 60.61 6.90)"/>
<ellipse cx="71.30" cy="28.39" rx="0.60" ry="0.41" fill="#a87860" fill-opacity="0.5" transform="rotate(69.18437149418983 71.30 28.39)"/>
<ellipse cx="60.52" cy="59.39" rx="0.52" ry="0.42" fill="#a87860" fill-opacity="0.5" transform="rotate(115.34588192231647 60.52 59.39)"/>
<ellipse cx="77.04" cy="32.98" rx="0.71" ry="0.70" fill="#a87860" fill-opacity="0.5" transform="rotate(31.236773485924527 77.04 32.98)"/>
<ellipse cx="62.42" cy="22.83" rx="0.84" ry="0.65" fill="#a87860" fill-opacity="0.5" transform="rotate(70.17281776656141 62.42 22.83)"/>
<ellipse cx="58.48" cy="12.45" rx="0.79" ry="0.55" fill="#a87860" fill-opacity="0.5" transform="rotate(82.89067303857188 58.48 12.45)"/>
<ellipse cx="63.61" cy="23.35" rx="0.51" ry="0.50" fill="#a87860" fill-opacity="0.5" transform="rotate(112.31590855469798 63.61 23.35)"/>
<ellipse cx="71.57" cy="18.51" rx="0.90" ry="0.74" fill="#a87860" fill-opacity="0.5" transform="rotate(24.085591561481152 71.57 18.51)"/>
<ellipse cx="61.78" cy="61.05" rx="0.59" ry="0.45" fill="#a87860" fill-opacity="0.5" transform="rotate(17.33906903083595 61.78 61.05)"/>
<ellipse cx="83.96" cy="19.49" rx="0.74" ry="0.66" fill="#a87860" fill-opacity="0.5" transform="rotate(96.83631077515518 83.96 19.49)"/>
<ellipse cx="68.03" cy="20.36" rx="0.82" ry="0.57" fill="#a87860" fill-opacity="0.5" transform="rotate(110.911613889708 68.03 20.36)"/>
<ellipse cx="86.63" cy="59.45" rx="0.80" ry="0.67" fill="#a87860" fill-opacity="0.5" transform="rotate(28.471724038496028 86.63 59.45)"/>
<ellipse cx="82.02" cy="58.70" rx="0.61" ry="0.38" fill="#a87860" fill-opacity="0.5" transform="rotate(95.80299994474319 82.02 58.70)"/>
<ellipse cx="69.81" cy="55.13" rx="0.85" ry="0.66" fill="#a87860" fill-opacity="0.5" transform="rotate(95.75300099846089 69.81 55.13)"/>
<ellipse cx="71.36" cy="44.02" rx="0.78" ry="0.68" fill="#a87860" fill-opacity="0.5" transform="rotate(39.2242941904213 71.36 44.02)"/>
<ellipse cx="81.73" cy="8.15" rx="0.56" ry="0.46" fill="#a87860" fill-opacity="0.5" transform="rotate(4.543002921756183 81.73 8.15)"/>
<ellipse cx="75.28" cy="23.96" rx="0.60" ry="0.38" fill="#a87860" fill-opacity="0.5" transform="rotate(68.38357288879561 75.28 23.96)"/>
<ellipse cx="74.47" cy="7.87" rx="0.90" ry="0.90" fill="#a87860" fill-opacity="0.5" transform="rotate(93.80929924860561 74.47 7.87)"/>
<ellipse cx="73.66" cy="53.30" rx="0.79" ry="0.69" fill="#a87860" fill-opacity="0.5" transform="rotate(85.53082252792542 73.66 53.30)"/>
<ellipse cx="72.66" cy="26.47" rx="0.46" ry="0.42" fill="#a87860" fill-opacity="0.5" transform="rotate(119.85363784783851 72.66 26.47)"/>
<ellipse cx="56.13" cy="50.91" rx="0.99" ry="0.76" fill="#a87860" fill-opacity="0.5" transform="rotate(165.33398072851534 56.13 50.91)"/>
<ellipse cx="62.94" cy="42.31" rx="0.88" ry="0.67" fill="#a87860" fill-opacity="0.5" transform="rotate(52.220886462180516 62.94 42.31)"/>
</g>
</g>
<rect x="197.0" y="202.3" width="87.1" height="64.0" fill="#000" filter="url(#noiseP)" opacity="0.1"/>
<rect x="197.0" y="202.3" width="87.1" height="64.0" fill="#000" filter="url(#nucL)" opacity="0.45"/>
<rect x="197.0" y="202.3" width="87.1" height="64.0" fill="#000" filter="url(#hl)" opacity="0.4"/>
<g transform="translate(197.0,202.3)" filter="url(#sblur)">
<path d="M2.50,14.00 C3.08,15.50 4.83,20.00 6.00,23.00 C7.17,26.00 8.33,29.00 9.50,32.00 C10.67,35.00 12.42,39.50 13.00,41.00" fill="none" stroke="#f2f0f4" stroke-width="3.6" stroke-opacity="0.7" stroke-linecap="round" stroke-linejoin="round"/>
<path d="M27.00,-3.00 C29.67,-4.67 42.33,-4.50 45.00,-3.00 C47.67,-1.50 44.50,4.00 43.00,6.00 C41.50,8.00 38.33,8.83 36.00,9.00 C33.67,9.17 30.50,9.00 29.00,7.00 C27.50,5.00 24.33,-1.33 27.00,-3.00 Z" fill="#f2eef2" fill-opacity="0.95"/>
<path d="M72.00,-3.00 C74.67,-4.83 87.00,-6.50 90.00,-3.00 C93.00,0.50 91.67,14.83 90.00,18.00 C88.33,21.17 82.67,17.67 80.00,16.00 C77.33,14.33 75.33,11.17 74.00,8.00 C72.67,4.83 69.33,-1.17 72.00,-3.00 Z" fill="#f4f2f6" fill-opacity="0.95"/>
<path d="M4.00,42.00 C6.33,38.00 14.33,40.33 18.00,42.00 C21.67,43.67 24.00,48.00 26.00,52.00 C28.00,56.00 33.67,63.67 30.00,66.00 C26.33,68.33 8.33,70.00 4.00,66.00 C-0.33,62.00 1.67,46.00 4.00,42.00 Z" fill="#ece9f2" fill-opacity="0.6"/>
</g>
</g>
<rect x="197.00" y="202.30" width="55.30" height="40.30" fill="none" stroke="#333" stroke-width="0.7"/>
<rect x="197.00" y="202.30" width="87.10" height="64.00" fill="none" stroke="#7a7a7a" stroke-width="0.9"/>
<text x="265.80" y="262.80" font-size="6.7" font-weight="bold" fill="#1a1a1a" textLength="17.0" lengthAdjust="spacingAndGlyphs">20 µm</text>
<line x1="275.80" y1="264.40" x2="282.60" y2="264.40" stroke="#1a1a1a" stroke-width="0.9"/>
<clipPath id="clip6"><rect x="285.5" y="202.3" width="88.1" height="64.0"/></clipPath>
<g clip-path="url(#clip6)">
<g transform="translate(285.5,202.3)">
<g filter="url(#gblur)">
<rect x="-4.00" y="-4.00" width="15.31" height="14.97" fill="#c0a8c8" fill-opacity="1.0"/>
<rect x="11.01" y="-4.00" width="11.31" height="14.97" fill="#b86e40" fill-opacity="1.0"/>
<rect x="22.02" y="-4.00" width="11.31" height="14.97" fill="#d8b3aa" fill-opacity="1.0"/>
<rect x="33.04" y="-4.00" width="11.31" height="14.97" fill="#f0e8ec" fill-opacity="1.0"/>
<rect x="44.05" y="-4.00" width="11.31" height="14.97" fill="#b85c25" fill-opacity="1.0"/>
<rect x="55.06" y="-4.00" width="11.31" height="14.97" fill="#c8a3ac" fill-opacity="1.0"/>
<rect x="66.07" y="-4.00" width="11.31" height="14.97" fill="#d0c0d8" fill-opacity="1.0"/>
<rect x="77.09" y="-4.00" width="15.31" height="14.97" fill="#c8a8b8" fill-opacity="1.0"/>
<rect x="-4.00" y="10.67" width="15.31" height="10.97" fill="#c8a8c0" fill-opacity="1.0"/>
<rect x="11.01" y="10.67" width="11.31" height="10.97" fill="#b8652e" fill-opacity="1.0"/>
<rect x="22.02" y="10.67" width="11.31" height="10.97" fill="#b8531c" fill-opacity="1.0"/>
<rect x="33.04" y="10.67" width="11.31" height="10.97" fill="#b04d14" fill-opacity="1.0"/>
<rect x="44.05" y="10.67" width="11.31" height="10.97" fill="#b85e25" fill-opacity="1.0"/>
<rect x="55.06" y="10.67" width="11.31" height="10.97" fill="#c08964" fill-opacity="1.0"/>
<rect x="66.07" y="10.67" width="11.31" height="10.97" fill="#c8b4cc" fill-opacity="1.0"/>
<rect x="77.09" y="10.67" width="15.31" height="10.97" fill="#c8b8d8" fill-opacity="1.0"/>
<rect x="-4.00" y="21.33" width="15.31" height="10.97" fill="#c88875" fill-opacity="1.0"/>
<rect x="11.01" y="21.33" width="11.31" height="10.97" fill="#b86537" fill-opacity="1.0"/>
<rect x="22.02" y="21.33" width="11.31" height="10.97" fill="#b85c25" fill-opacity="1.0"/>
<rect x="33.04" y="21.33" width="11.31" height="10.97" fill="#b04d14" fill-opacity="1.0"/>
<rect x="44.05" y="21.33" width="11.31" height="10.97" fill="#b85e2e" fill-opacity="1.0"/>
<rect x="55.06" y="21.33" width="11.31" height="10.97" fill="#c8916c" fill-opacity="1.0"/>
<rect x="66.07" y="21.33" width="11.31" height="10.97" fill="#c08964" fill-opacity="1.0"/>
<rect x="77.09" y="21.33" width="15.31" height="10.97" fill="#c4a8b8" fill-opacity="1.0"/>
<rect x="-4.00" y="32.00" width="15.31" height="10.97" fill="#c07648" fill-opacity="1.0"/>
<rect x="11.01" y="32.00" width="11.31" height="10.97" fill="#c09ba4" fill-opacity="1.0"/>
<rect x="22.02" y="32.00" width="11.31" height="10.97" fill="#b8785c" fill-opacity="1.0"/>
<rect x="33.04" y="32.00" width="11.31" height="10.97" fill="#b86540" fill-opacity="1.0"/>
<rect x="44.05" y="32.00" width="11.31" height="10.97" fill="#c8a8b8" fill-opacity="1.0"/>
<rect x="55.06" y="32.00" width="11.31" height="10.97" fill="#c0805b" fill-opacity="1.0"/>
<rect x="66.07" y="32.00" width="11.31" height="10.97" fill="#e8e0ec" fill-opacity="1.0"/>
<rect x="77.09" y="32.00" width="15.31" height="10.97" fill="#e4dce8" fill-opacity="1.0"/>
<rect x="-4.00" y="42.67" width="15.31" height="10.97" fill="#c08052" fill-opacity="1.0"/>
<rect x="11.01" y="42.67" width="11.31" height="10.97" fill="#c08964" fill-opacity="1.0"/>
<rect x="22.02" y="42.67" width="11.31" height="10.97" fill="#c8b0b8" fill-opacity="1.0"/>
<rect x="33.04" y="42.67" width="11.31" height="10.97" fill="#c8b0c0" fill-opacity="1.0"/>
<rect x="44.05" y="42.67" width="11.31" height="10.97" fill="#c0896d" fill-opacity="1.0"/>
<rect x="55.06" y="42.67" width="11.31" height="10.97" fill="#d4c8dc" fill-opacity="1.0"/>
<rect x="66.07" y="42.67" width="11.31" height="10.97" fill="#e8e4ee" fill-opacity="1.0"/>
<rect x="77.09" y="42.67" width="15.31" height="10.97" fill="#c8a3a3" fill-opacity="1.0"/>
<rect x="-4.00" y="53.33" width="15.31" height="14.97" fill="#c08052" fill-opacity="1.0"/>
<rect x="11.01" y="53.33" width="11.31" height="14.97" fill="#c8916c" fill-opacity="1.0"/>
<rect x="22.02" y="53.33" width="11.31" height="14.97" fill="#c8a3a3" fill-opacity="1.0"/>
<rect x="33.04" y="53.33" width="11.31" height="14.97" fill="#c8b8d0" fill-opacity="1.0"/>
<rect x="44.05" y="53.33" width="11.31" height="14.97" fill="#c8b8d0" fill-opacity="1.0"/>
<rect x="55.06" y="53.33" width="11.31" height="14.97" fill="#c0825b" fill-opacity="1.0"/>
<rect x="66.07" y="53.33" width="11.31" height="14.97" fill="#c88863" fill-opacity="1.0"/>
<rect x="77.09" y="53.33" width="15.31" height="14.97" fill="#c0805b" fill-opacity="1.0"/>
</g>
<g filter="url(#sblur)">
<path d="M24.00,0.00 C26.00,-1.00 35.00,-1.00 37.00,0.00 C39.00,1.00 37.17,4.67 36.00,6.00 C34.83,7.33 31.83,8.00 30.00,8.00 C28.17,8.00 26.00,7.33 25.00,6.00 C24.00,4.67 22.00,1.00 24.00,0.00 Z" fill="#f6f2f4" fill-opacity="1.0"/>
<path d="M3.00,-2.00 C3.33,0.83 4.00,10.00 5.00,15.00 C6.00,20.00 6.83,24.83 9.00,28.00 C11.17,31.17 14.17,32.33 18.00,34.00 C21.83,35.67 25.67,37.67 32.00,38.00 C38.33,38.33 52.00,36.33 56.00,36.00" fill="none" stroke="#c4bcdc" stroke-width="4.0" stroke-opacity="0.9" stroke-linecap="round" stroke-linejoin="round"/>
<ellipse cx="5.20" cy="29.80" rx="3.00" ry="3.00" fill="#f4f0f2" fill-opacity="1.0" transform="rotate(0 5.20 29.80)"/>
<path d="M12.00,6.00 C13.67,3.33 19.33,7.67 24.00,8.00 C28.67,8.33 35.33,6.67 40.00,8.00 C44.67,9.33 50.33,12.33 52.00,16.00 C53.67,19.67 52.00,27.00 50.00,30.00 C48.00,33.00 44.33,33.67 40.00,34.00 C35.67,34.33 28.33,33.67 24.00,32.00 C19.67,30.33 16.00,28.33 14.00,24.00 C12.00,19.67 10.33,8.67 12.00,6.00 Z" fill="#b05a28" fill-opacity="0.55"/>
<path d="M58.00,4.00 C59.67,5.33 64.67,9.17 68.00,12.00 C71.33,14.83 74.33,18.00 78.00,21.00 C81.67,24.00 88.00,28.50 90.00,30.00" fill="none" stroke="#c8c0dc" stroke-width="7.0" stroke-opacity="0.85" stroke-linecap="round" stroke-linejoin="round"/>
<path d="M62.00,24.00 C63.33,21.00 67.33,21.33 70.00,22.00 C72.67,22.67 76.33,25.00 78.00,28.00 C79.67,31.00 80.33,36.33 80.00,40.00 C79.67,43.67 78.00,48.33 76.00,50.00 C74.00,51.67 70.33,51.67 68.00,50.00 C65.67,48.33 63.00,44.33 62.00,40.00 C61.00,35.67 60.67,27.00 62.00,24.00 Z" fill="#f2f0f6" fill-opacity="1.0"/>
<path d="M19.50,42.00 C20.92,43.33 24.92,47.33 28.00,50.00 C31.08,52.67 33.57,55.17 38.00,58.00 C42.43,60.83 51.83,65.50 54.60,67.00" fill="none" stroke="#c8c0dc" stroke-width="7.0" stroke-opacity="0.8" stroke-linecap="round" stroke-linejoin="round"/>
<ellipse cx="30.77" cy="20.47" rx="0.89" ry="0.65" fill="#e8c0a0" fill-opacity="0.6" transform="rotate(57.77414623436259 30.77 20.47)"/>
<ellipse cx="39.11" cy="18.64" rx="0.62" ry="0.47" fill="#e8c0a0" fill-opacity="0.6" transform="rotate(59.363918567776714 39.11 18.64)"/>
<ellipse cx="17.04" cy="22.43" rx="0.94" ry="0.82" fill="#e8c0a0" fill-opacity="0.6" transform="rotate(114.26034339793985 17.04 22.43)"/>
<ellipse cx="24.18" cy="17.27" rx="0.49" ry="0.43" fill="#e8c0a0" fill-opacity="0.6" transform="rotate(53.36465644111668 24.18 17.27)"/>
<ellipse cx="22.25" cy="31.50" rx="0.60" ry="0.60" fill="#e8c0a0" fill-opacity="0.6" transform="rotate(111.23239656557026 22.25 31.50)"/>
<ellipse cx="41.97" cy="22.33" rx="0.51" ry="0.45" fill="#e8c0a0" fill-opacity="0.6" transform="rotate(46.57844569916016 41.97 22.33)"/>
<ellipse cx="27.12" cy="9.39" rx="0.44" ry="0.33" fill="#e8c0a0" fill-opacity="0.6" transform="rotate(2.5357423506658594 27.12 9.39)"/>
<ellipse cx="26.18" cy="28.10" rx="1.00" ry="0.77" fill="#e8c0a0" fill-opacity="0.6" transform="rotate(19.421523392807607 26.18 28.10)"/>
<ellipse cx="24.54" cy="7.66" rx="0.53" ry="0.45" fill="#e8c0a0" fill-opacity="0.6" transform="rotate(111.03089421256446 24.54 7.66)"/>
<ellipse cx="11.32" cy="18.68" rx="0.65" ry="0.50" fill="#e8c0a0" fill-opacity="0.6" transform="rotate(24.297575003602773 11.32 18.68)"/>
<ellipse cx="26.52" cy="8.66" rx="0.81" ry="0.70" fill="#e8c0a0" fill-opacity="0.6" transform="rotate(113.17680713050669 26.52 8.66)"/>
<ellipse cx="27.11" cy="30.88" rx="0.62" ry="0.42" fill="#e8c0a0" fill-opacity="0.6" transform="rotate(67.21185139215537 27.11 30.88)"/>
<ellipse cx="48.33" cy="10.10" rx="0.86" ry="0.84" fill="#e8c0a0" fill-opacity="0.6" transform="rotate(153.3479786707462 48.33 10.10)"/>
<ellipse cx="29.56" cy="17.70" rx="0.92" ry="0.82" fill="#e8c0a0" fill-opacity="0.6" transform="rotate(145.2257795677709 29.56 17.70)"/>
<ellipse cx="17.49" cy="21.81" rx="0.84" ry="0.59" fill="#e8c0a0" fill-opacity="0.6" transform="rotate(37.31587251517067 17.49 21.81)"/>
<ellipse cx="45.33" cy="20.77" rx="0.65" ry="0.51" fill="#e8c0a0" fill-opacity="0.6" transform="rotate(46.30880382120479 45.33 20.77)"/>
<ellipse cx="20.41" cy="8.77" rx="0.64" ry="0.42" fill="#e8c0a0" fill-opacity="0.6" transform="rotate(161.42565418481266 20.41 8.77)"/>
<ellipse cx="50.15" cy="21.37" rx="0.45" ry="0.38" fill="#e8c0a0" fill-opacity="0.6" transform="rotate(27.982080023982324 50.15 21.37)"/>
<ellipse cx="25.60" cy="9.33" rx="0.70" ry="0.44" fill="#e8c0a0" fill-opacity="0.6" transform="rotate(50.35945920906425 25.60 9.33)"/>
<ellipse cx="19.81" cy="18.12" rx="0.96" ry="0.80" fill="#e8c0a0" fill-opacity="0.6" transform="rotate(140.83641966152078 19.81 18.12)"/>
<ellipse cx="40.46" cy="19.81" rx="0.44" ry="0.27" fill="#e8c0a0" fill-opacity="0.6" transform="rotate(24.207154780091138 40.46 19.81)"/>
<ellipse cx="31.68" cy="14.83" rx="0.96" ry="0.65" fill="#e8c0a0" fill-opacity="0.6" transform="rotate(23.68765892513304 31.68 14.83)"/>
<ellipse cx="36.92" cy="21.78" rx="0.43" ry="0.32" fill="#e8c0a0" fill-opacity="0.6" transform="rotate(79.98278467407566 36.92 21.78)"/>
<ellipse cx="44.56" cy="26.26" rx="0.92" ry="0.75" fill="#e8c0a0" fill-opacity="0.6" transform="rotate(168.83804472582952 44.56 26.26)"/>
<ellipse cx="29.75" cy="13.51" rx="0.48" ry="0.45" fill="#e8c0a0" fill-opacity="0.6" transform="rotate(117.05124673967389 29.75 13.51)"/>
<ellipse cx="35.90" cy="31.43" rx="0.78" ry="0.56" fill="#e8c0a0" fill-opacity="0.6" transform="rotate(125.08527281747898 35.90 31.43)"/>
<ellipse cx="48.89" cy="10.64" rx="0.97" ry="0.74" fill="#e8c0a0" fill-opacity="0.6" transform="rotate(20.400640569546557 48.89 10.64)"/>
<ellipse cx="31.34" cy="26.30" rx="0.69" ry="0.49" fill="#e8c0a0" fill-opacity="0.6" transform="rotate(138.1389522602158 31.34 26.30)"/>
<ellipse cx="14.28" cy="23.45" rx="0.62" ry="0.52" fill="#e8c0a0" fill-opacity="0.6" transform="rotate(91.23605375021612 14.28 23.45)"/>
<ellipse cx="21.77" cy="11.34" rx="0.89" ry="0.70" fill="#e8c0a0" fill-opacity="0.6" transform="rotate(51.0840461869948 21.77 11.34)"/>
<ellipse cx="34.88" cy="25.97" rx="0.45" ry="0.36" fill="#e8c0a0" fill-opacity="0.6" transform="rotate(27.404516598572112 34.88 25.97)"/>
<ellipse cx="42.27" cy="7.18" rx="0.90" ry="0.74" fill="#e8c0a0" fill-opacity="0.6" transform="rotate(92.91040335060228 42.27 7.18)"/>
<ellipse cx="32.56" cy="13.24" rx="0.67" ry="0.45" fill="#e8c0a0" fill-opacity="0.6" transform="rotate(64.19155498528144 32.56 13.24)"/>
<ellipse cx="35.03" cy="21.89" rx="0.59" ry="0.50" fill="#e8c0a0" fill-opacity="0.6" transform="rotate(141.26132904241814 35.03 21.89)"/>
<ellipse cx="42.58" cy="6.08" rx="0.70" ry="0.47" fill="#e8c0a0" fill-opacity="0.6" transform="rotate(147.46509201453335 42.58 6.08)"/>
<ellipse cx="34.47" cy="17.48" rx="0.77" ry="0.62" fill="#e8c0a0" fill-opacity="0.6" transform="rotate(37.34429997396589 34.47 17.48)"/>
<ellipse cx="48.39" cy="7.47" rx="0.42" ry="0.30" fill="#e8c0a0" fill-opacity="0.6" transform="rotate(25.576273953096596 48.39 7.47)"/>
<ellipse cx="25.69" cy="22.01" rx="0.63" ry="0.63" fill="#e8c0a0" fill-opacity="0.6" transform="rotate(58.80086152308487 25.69 22.01)"/>
<ellipse cx="49.47" cy="31.49" rx="0.73" ry="0.67" fill="#e8c0a0" fill-opacity="0.6" transform="rotate(13.63889760651961 49.47 31.49)"/>
<ellipse cx="49.21" cy="17.48" rx="0.60" ry="0.58" fill="#e8c0a0" fill-opacity="0.6" transform="rotate(72.21325802893197 49.21 17.48)"/>
<ellipse cx="13.73" cy="6.71" rx="0.88" ry="0.59" fill="#e8c0a0" fill-opacity="0.6" transform="rotate(114.4646779603998 13.73 6.71)"/>
<ellipse cx="13.65" cy="27.18" rx="0.98" ry="0.73" fill="#e8c0a0" fill-opacity="0.6" transform="rotate(143.18650853935796 13.65 27.18)"/>
<ellipse cx="47.72" cy="12.07" rx="0.68" ry="0.68" fill="#e8c0a0" fill-opacity="0.6" transform="rotate(171.4034769527137 47.72 12.07)"/>
<ellipse cx="33.66" cy="20.27" rx="0.41" ry="0.38" fill="#e8c0a0" fill-opacity="0.6" transform="rotate(170.37257957740442 33.66 20.27)"/>
<ellipse cx="33.70" cy="12.03" rx="0.48" ry="0.41" fill="#e8c0a0" fill-opacity="0.6" transform="rotate(124.98296852835193 33.70 12.03)"/>
<ellipse cx="35.11" cy="27.84" rx="0.42" ry="0.25" fill="#e8c0a0" fill-opacity="0.6" transform="rotate(18.450521862905855 35.11 27.84)"/>
<ellipse cx="23.04" cy="7.28" rx="0.54" ry="0.37" fill="#e8c0a0" fill-opacity="0.6" transform="rotate(146.31775663730656 23.04 7.28)"/>
<ellipse cx="32.14" cy="11.20" rx="0.70" ry="0.47" fill="#e8c0a0" fill-opacity="0.6" transform="rotate(177.81131891346521 32.14 11.20)"/>
<ellipse cx="13.81" cy="12.20" rx="0.74" ry="0.71" fill="#e8c0a0" fill-opacity="0.6" transform="rotate(118.01545948093136 13.81 12.20)"/>
<ellipse cx="15.73" cy="21.83" rx="0.84" ry="0.82" fill="#e8c0a0" fill-opacity="0.6" transform="rotate(114.81146990294107 15.73 21.83)"/>
<ellipse cx="76.85" cy="29.81" rx="0.98" ry="0.68" fill="#b8b0d8" fill-opacity="0.7" transform="rotate(83.65537044240472 76.85 29.81)"/>
<ellipse cx="76.36" cy="33.83" rx="0.70" ry="0.47" fill="#b8b0d8" fill-opacity="0.7" transform="rotate(173.00752570413962 76.36 33.83)"/>
<ellipse cx="77.76" cy="29.78" rx="0.47" ry="0.37" fill="#b8b0d8" fill-opacity="0.7" transform="rotate(93.3708273128002 77.76 29.78)"/>
<ellipse cx="74.40" cy="33.54" rx="0.75" ry="0.50" fill="#b8b0d8" fill-opacity="0.7" transform="rotate(38.270766357760486 74.40 33.54)"/>
<ellipse cx="63.26" cy="38.01" rx="0.74" ry="0.62" fill="#b8b0d8" fill-opacity="0.7" transform="rotate(168.412838198916 63.26 38.01)"/>
<ellipse cx="66.90" cy="33.54" rx="0.68" ry="0.66" fill="#b8b0d8" fill-opacity="0.7" transform="rotate(55.331195708903095 66.90 33.54)"/>
<ellipse cx="66.65" cy="35.39" rx="0.81" ry="0.58" fill="#b8b0d8" fill-opacity="0.7" transform="rotate(31.128361432012568 66.65 35.39)"/>
<ellipse cx="73.71" cy="38.65" rx="0.75" ry="0.45" fill="#b8b0d8" fill-opacity="0.7" transform="rotate(44.864914751986504 73.71 38.65)"/>
<ellipse cx="63.63" cy="34.04" rx="0.94" ry="0.94" fill="#b8b0d8" fill-opacity="0.7" transform="rotate(152.38286045495542 63.63 34.04)"/>
<ellipse cx="67.91" cy="38.45" rx="0.94" ry="0.69" fill="#b8b0d8" fill-opacity="0.7" transform="rotate(71.83252467270731 67.91 38.45)"/>
<ellipse cx="73.42" cy="33.54" rx="0.68" ry="0.51" fill="#b8b0d8" fill-opacity="0.7" transform="rotate(148.18335623581441 73.42 33.54)"/>
<ellipse cx="70.29" cy="28.15" rx="0.41" ry="0.35" fill="#b8b0d8" fill-opacity="0.7" transform="rotate(20.934972238547623 70.29 28.15)"/>
<ellipse cx="72.71" cy="30.89" rx="0.72" ry="0.53" fill="#b8b0d8" fill-opacity="0.7" transform="rotate(117.84357312267107 72.71 30.89)"/>
<ellipse cx="64.13" cy="34.99" rx="0.79" ry="0.56" fill="#b8b0d8" fill-opacity="0.7" transform="rotate(178.44007068834614 64.13 34.99)"/>
<ellipse cx="77.86" cy="47.30" rx="0.96" ry="0.94" fill="#b8b0d8" fill-opacity="0.7" transform="rotate(102.74632437968292 77.86 47.30)"/>
<ellipse cx="75.40" cy="34.93" rx="0.44" ry="0.43" fill="#b8b0d8" fill-opacity="0.7" transform="rotate(165.47519128091602 75.40 34.93)"/>
<ellipse cx="66.13" cy="34.26" rx="0.54" ry="0.48" fill="#b8b0d8" fill-opacity="0.7" transform="rotate(30.375093824507776 66.13 34.26)"/>
<ellipse cx="75.02" cy="26.82" rx="0.64" ry="0.59" fill="#b8b0d8" fill-opacity="0.7" transform="rotate(87.49185475438624 75.02 26.82)"/>
<ellipse cx="64.20" cy="26.66" rx="0.81" ry="0.51" fill="#b8b0d8" fill-opacity="0.7" transform="rotate(50.72944893026772 64.20 26.66)"/>
<ellipse cx="71.63" cy="32.80" rx="0.42" ry="0.39" fill="#b8b0d8" fill-opacity="0.7" transform="rotate(130.12049943961728 71.63 32.80)"/>
</g>
</g>
<rect x="285.5" y="202.3" width="88.1" height="64.0" fill="#000" filter="url(#noiseB)" opacity="0.12"/>
<rect x="285.5" y="202.3" width="88.1" height="64.0" fill="#000" filter="url(#net)" opacity="0.18"/>
<rect x="285.5" y="202.3" width="88.1" height="64.0" fill="#000" filter="url(#hl)" opacity="0.32"/>
<rect x="285.5" y="202.3" width="88.1" height="64.0" fill="#000" filter="url(#nucP)" opacity="0.32"/>
</g>
<rect x="285.50" y="202.30" width="55.50" height="41.50" fill="none" stroke="#333" stroke-width="0.7"/>
<rect x="285.50" y="202.30" width="88.10" height="64.00" fill="none" stroke="#7a7a7a" stroke-width="0.9"/>
<text x="355.30" y="262.80" font-size="6.7" font-weight="bold" fill="#1a1a1a" textLength="17.0" lengthAdjust="spacingAndGlyphs">20 µm</text>
<line x1="365.30" y1="264.40" x2="372.10" y2="264.40" stroke="#1a1a1a" stroke-width="0.9"/>
<clipPath id="clip7"><rect x="197.0" y="268.3" width="87.1" height="64.0"/></clipPath>
<g clip-path="url(#clip7)">
<g transform="translate(197.0,268.3)">
<g filter="url(#gblur)">
<rect x="-4.00" y="-4.00" width="15.19" height="14.97" fill="#ece8f0" fill-opacity="1.0"/>
<rect x="10.89" y="-4.00" width="11.19" height="14.97" fill="#e4dcdc" fill-opacity="1.0"/>
<rect x="21.77" y="-4.00" width="11.19" height="14.97" fill="#b89078" fill-opacity="1.0"/>
<rect x="32.66" y="-4.00" width="11.19" height="14.97" fill="#b08870" fill-opacity="1.0"/>
<rect x="43.55" y="-4.00" width="11.19" height="14.97" fill="#e0d4d4" fill-opacity="1.0"/>
<rect x="54.44" y="-4.00" width="11.19" height="14.97" fill="#b89478" fill-opacity="1.0"/>
<rect x="65.32" y="-4.00" width="11.19" height="14.97" fill="#e8e4ee" fill-opacity="1.0"/>
<rect x="76.21" y="-4.00" width="15.19" height="14.97" fill="#ece8ee" fill-opacity="1.0"/>
<rect x="-4.00" y="10.67" width="15.19" height="10.97" fill="#e8e0e4" fill-opacity="1.0"/>
<rect x="10.89" y="10.67" width="11.19" height="10.97" fill="#c8b0b0" fill-opacity="1.0"/>
<rect x="21.77" y="10.67" width="11.19" height="10.97" fill="#b0a0c8" fill-opacity="1.0"/>
<rect x="32.66" y="10.67" width="11.19" height="10.97" fill="#b89880" fill-opacity="1.0"/>
<rect x="43.55" y="10.67" width="11.19" height="10.97" fill="#c8a898" fill-opacity="1.0"/>
<rect x="54.44" y="10.67" width="11.19" height="10.97" fill="#c09880" fill-opacity="1.0"/>
<rect x="65.32" y="10.67" width="11.19" height="10.97" fill="#f0eef4" fill-opacity="1.0"/>
<rect x="76.21" y="10.67" width="15.19" height="10.97" fill="#d8c8c8" fill-opacity="1.0"/>
<rect x="-4.00" y="21.33" width="15.19" height="10.97" fill="#c8a890" fill-opacity="1.0"/>
<rect x="10.89" y="21.33" width="11.19" height="10.97" fill="#c4a898" fill-opacity="1.0"/>
<rect x="21.77" y="21.33" width="11.19" height="10.97" fill="#c8a898" fill-opacity="1.0"/>
<rect x="32.66" y="21.33" width="11.19" height="10.97" fill="#c0a098" fill-opacity="1.0"/>
<rect x="43.55" y="21.33" width="11.19" height="10.97" fill="#e8e4ee" fill-opacity="1.0"/>
<rect x="54.44" y="21.33" width="11.19" height="10.97" fill="#c8a898" fill-opacity="1.0"/>
<rect x="65.32" y="21.33" width="11.19" height="10.97" fill="#ece8f0" fill-opacity="1.0"/>
<rect x="76.21" y="21.33" width="15.19" height="10.97" fill="#c0906c" fill-opacity="1.0"/>
<rect x="-4.00" y="32.00" width="15.19" height="10.97" fill="#c8b0a8" fill-opacity="1.0"/>
<rect x="10.89" y="32.00" width="11.19" height="10.97" fill="#c0a8b0" fill-opacity="1.0"/>
<rect x="21.77" y="32.00" width="11.19" height="10.97" fill="#c8b0a8" fill-opacity="1.0"/>
<rect x="32.66" y="32.00" width="11.19" height="10.97" fill="#c8b0b0" fill-opacity="1.0"/>
<rect x="43.55" y="32.00" width="11.19" height="10.97" fill="#d8d0e0" fill-opacity="1.0"/>
<rect x="54.44" y="32.00" width="11.19" height="10.97" fill="#dcd4e4" fill-opacity="1.0"/>
<rect x="65.32" y="32.00" width="11.19" height="10.97" fill="#e4e0ec" fill-opacity="1.0"/>
<rect x="76.21" y="32.00" width="15.19" height="10.97" fill="#c09070" fill-opacity="1.0"/>
<rect x="-4.00" y="42.67" width="15.19" height="10.97" fill="#d4d0e4" fill-opacity="1.0"/>
<rect x="10.89" y="42.67" width="11.19" height="10.97" fill="#ece8f0" fill-opacity="1.0"/>
<rect x="21.77" y="42.67" width="11.19" height="10.97" fill="#b89888" fill-opacity="1.0"/>
<rect x="32.66" y="42.67" width="11.19" height="10.97" fill="#d0c8dc" fill-opacity="1.0"/>
<rect x="43.55" y="42.67" width="11.19" height="10.97" fill="#e0dcec" fill-opacity="1.0"/>
<rect x="54.44" y="42.67" width="11.19" height="10.97" fill="#e0dcec" fill-opacity="1.0"/>
<rect x="65.32" y="42.67" width="11.19" height="10.97" fill="#d0c8e0" fill-opacity="1.0"/>
<rect x="76.21" y="42.67" width="15.19" height="10.97" fill="#c8a090" fill-opacity="1.0"/>
<rect x="-4.00" y="53.33" width="15.19" height="14.97" fill="#ece8f0" fill-opacity="1.0"/>
<rect x="10.89" y="53.33" width="11.19" height="14.97" fill="#d8d4e8" fill-opacity="1.0"/>
<rect x="21.77" y="53.33" width="11.19" height="14.97" fill="#c0a090" fill-opacity="1.0"/>
<rect x="32.66" y="53.33" width="11.19" height="14.97" fill="#d0cce4" fill-opacity="1.0"/>
<rect x="43.55" y="53.33" width="11.19" height="14.97" fill="#ccc8e4" fill-opacity="1.0"/>
<rect x="54.44" y="53.33" width="11.19" height="14.97" fill="#d0cce4" fill-opacity="1.0"/>
<rect x="65.32" y="53.33" width="11.19" height="14.97" fill="#ccc8e0" fill-opacity="1.0"/>
<rect x="76.21" y="53.33" width="15.19" height="14.97" fill="#d0c0c8" fill-opacity="1.0"/>
</g>
<g filter="url(#sblur)">
<path d="M19.00,-3.00 C22.83,-5.33 38.33,-5.17 42.00,-3.00 C45.67,-0.83 43.00,7.33 41.00,10.00 C39.00,12.67 33.67,12.83 30.00,13.00 C26.33,13.17 20.83,13.67 19.00,11.00 C17.17,8.33 15.17,-0.67 19.00,-3.00 Z" fill="#ae8468" fill-opacity="0.55"/>
<ellipse cx="22.00" cy="18.00" rx="9.00" ry="4.00" fill="#a8a0c8" fill-opacity="0.7" transform="rotate(-10 22.00 18.00)"/>
<path d="M56.00,-3.00 C57.17,-8.50 62.83,-8.50 64.00,-3.00 C65.17,2.50 64.17,24.50 63.00,30.00 C61.83,35.50 58.17,35.50 57.00,30.00 C55.83,24.50 54.83,2.50 56.00,-3.00 Z" fill="#ae8468" fill-opacity="0.55"/>
<path d="M79.00,6.00 C80.50,-1.67 88.17,-2.17 90.00,6.00 C91.83,14.17 91.50,47.33 90.00,55.00 C88.50,62.67 82.83,60.17 81.00,52.00 C79.17,43.83 77.50,13.67 79.00,6.00 Z" fill="#b08468" fill-opacity="0.55"/>
<path d="M23.00,46.00 C24.33,43.83 30.50,44.00 32.00,46.00 C33.50,48.00 33.33,55.83 32.00,58.00 C30.67,60.17 25.50,61.00 24.00,59.00 C22.50,57.00 21.67,48.17 23.00,46.00 Z" fill="#ae8468" fill-opacity="0.65"/>
<ellipse cx="17.81" cy="30.88" rx="0.71" ry="0.70" fill="#a090b8" fill-opacity="0.5" transform="rotate(147.98853111415517 17.81 30.88)"/>
<ellipse cx="54.95" cy="22.32" rx="0.88" ry="0.55" fill="#a090b8" fill-opacity="0.5" transform="rotate(34.88442756873076 54.95 22.32)"/>
<ellipse cx="1.33" cy="32.60" rx="1.03" ry="0.95" fill="#a090b8" fill-opacity="0.5" transform="rotate(136.9209647432912 1.33 32.60)"/>
<ellipse cx="19.21" cy="20.00" rx="1.01" ry="0.62" fill="#a090b8" fill-opacity="0.5" transform="rotate(116.69865701333167 19.21 20.00)"/>
<ellipse cx="10.44" cy="19.57" rx="1.50" ry="1.16" fill="#a090b8" fill-opacity="0.5" transform="rotate(170.2901124770087 10.44 19.57)"/>
<ellipse cx="53.91" cy="31.94" rx="0.92" ry="0.61" fill="#a090b8" fill-opacity="0.5" transform="rotate(44.38612792941824 53.91 31.94)"/>
<ellipse cx="40.51" cy="28.28" rx="0.97" ry="0.59" fill="#a090b8" fill-opacity="0.5" transform="rotate(63.193634580868455 40.51 28.28)"/>
<ellipse cx="21.60" cy="17.66" rx="0.92" ry="0.66" fill="#a090b8" fill-opacity="0.5" transform="rotate(74.87661053217907 21.60 17.66)"/>
<ellipse cx="27.16" cy="29.58" rx="1.46" ry="1.05" fill="#a090b8" fill-opacity="0.5" transform="rotate(17.080004191621054 27.16 29.58)"/>
<ellipse cx="16.67" cy="21.18" rx="1.22" ry="0.96" fill="#a090b8" fill-opacity="0.5" transform="rotate(57.79084225640975 16.67 21.18)"/>
<ellipse cx="5.21" cy="34.02" rx="1.26" ry="1.07" fill="#a090b8" fill-opacity="0.5" transform="rotate(126.52912225086709 5.21 34.02)"/>
<ellipse cx="47.02" cy="16.84" rx="0.87" ry="0.69" fill="#a090b8" fill-opacity="0.5" transform="rotate(126.17137202106025 47.02 16.84)"/>
<ellipse cx="27.73" cy="28.12" rx="0.98" ry="0.68" fill="#a090b8" fill-opacity="0.5" transform="rotate(157.31370468134185 27.73 28.12)"/>
<ellipse cx="54.05" cy="27.99" rx="1.12" ry="0.73" fill="#a090b8" fill-opacity="0.5" transform="rotate(108.21870234960048 54.05 27.99)"/>
<ellipse cx="11.65" cy="31.01" rx="0.95" ry="0.75" fill="#a090b8" fill-opacity="0.5" transform="rotate(155.74321915634383 11.65 31.01)"/>
<ellipse cx="17.15" cy="28.84" rx="0.99" ry="0.78" fill="#a090b8" fill-opacity="0.5" transform="rotate(156.11219273055212 17.15 28.84)"/>
<ellipse cx="27.08" cy="39.15" rx="1.07" ry="0.83" fill="#a090b8" fill-opacity="0.5" transform="rotate(116.09625430537642 27.08 39.15)"/>
<ellipse cx="27.56" cy="32.13" rx="0.96" ry="0.58" fill="#a090b8" fill-opacity="0.5" transform="rotate(76.0585392754091 27.56 32.13)"/>
<ellipse cx="3.54" cy="21.96" rx="1.24" ry="1.08" fill="#a090b8" fill-opacity="0.5" transform="rotate(163.7763240965753 3.54 21.96)"/>
<ellipse cx="37.32" cy="29.33" rx="1.01" ry="0.80" fill="#a090b8" fill-opacity="0.5" transform="rotate(51.86398527462568 37.32 29.33)"/>
<ellipse cx="5.64" cy="28.84" rx="1.27" ry="0.92" fill="#a090b8" fill-opacity="0.5" transform="rotate(133.14690812673686 5.64 28.84)"/>
<ellipse cx="29.15" cy="23.42" rx="1.47" ry="0.89" fill="#a090b8" fill-opacity="0.5" transform="rotate(48.3755900553359 29.15 23.42)"/>
<ellipse cx="17.65" cy="32.15" rx="0.93" ry="0.92" fill="#a090b8" fill-opacity="0.5" transform="rotate(18.925860686356526 17.65 32.15)"/>
<ellipse cx="24.75" cy="27.27" rx="1.37" ry="0.96" fill="#a090b8" fill-opacity="0.5" transform="rotate(29.207188834965237 24.75 27.27)"/>
<ellipse cx="40.93" cy="34.89" rx="1.22" ry="1.17" fill="#a090b8" fill-opacity="0.5" transform="rotate(71.08636984941909 40.93 34.89)"/>
<ellipse cx="24.71" cy="27.97" rx="0.81" ry="0.76" fill="#a090b8" fill-opacity="0.5" transform="rotate(11.118939982584484 24.71 27.97)"/>
<ellipse cx="4.25" cy="37.85" rx="1.11" ry="0.73" fill="#a090b8" fill-opacity="0.5" transform="rotate(159.77928378116084 4.25 37.85)"/>
<ellipse cx="10.43" cy="26.88" rx="0.71" ry="0.47" fill="#a090b8" fill-opacity="0.5" transform="rotate(86.7500329151016 10.43 26.88)"/>
<ellipse cx="38.55" cy="19.10" rx="1.39" ry="1.19" fill="#a090b8" fill-opacity="0.5" transform="rotate(121.08180419796903 38.55 19.10)"/>
<ellipse cx="53.08" cy="27.53" rx="0.70" ry="0.44" fill="#a090b8" fill-opacity="0.5" transform="rotate(156.8012609465017 53.08 27.53)"/>
<ellipse cx="5.87" cy="55.08" rx="1.19" ry="0.88" fill="#b8b4dc" fill-opacity="0.5" transform="rotate(97.91537263663207 5.87 55.08)"/>
<ellipse cx="29.95" cy="58.27" rx="0.98" ry="0.82" fill="#b8b4dc" fill-opacity="0.5" transform="rotate(175.69464816316102 29.95 58.27)"/>
<ellipse cx="56.23" cy="49.54" rx="0.77" ry="0.65" fill="#b8b4dc" fill-opacity="0.5" transform="rotate(124.56286061828614 56.23 49.54)"/>
<ellipse cx="17.76" cy="59.80" rx="0.81" ry="0.74" fill="#b8b4dc" fill-opacity="0.5" transform="rotate(16.393046610258192 17.76 59.80)"/>
<ellipse cx="25.41" cy="42.39" rx="0.79" ry="0.56" fill="#b8b4dc" fill-opacity="0.5" transform="rotate(62.444347639805514 25.41 42.39)"/>
<ellipse cx="17.65" cy="60.74" rx="0.94" ry="0.70" fill="#b8b4dc" fill-opacity="0.5" transform="rotate(89.54146255183065 17.65 60.74)"/>
<ellipse cx="14.78" cy="62.73" rx="1.13" ry="0.94" fill="#b8b4dc" fill-opacity="0.5" transform="rotate(27.610888195245895 14.78 62.73)"/>
<ellipse cx="76.25" cy="46.77" rx="0.54" ry="0.41" fill="#b8b4dc" fill-opacity="0.5" transform="rotate(67.93108204848485 76.25 46.77)"/>
<ellipse cx="68.01" cy="45.22" rx="0.54" ry="0.42" fill="#b8b4dc" fill-opacity="0.5" transform="rotate(7.44831320383446 68.01 45.22)"/>
<ellipse cx="53.04" cy="52.74" rx="1.11" ry="1.08" fill="#b8b4dc" fill-opacity="0.5" transform="rotate(42.1659995745857 53.04 52.74)"/>
<ellipse cx="62.95" cy="52.99" rx="1.17" ry="0.74" fill="#b8b4dc" fill-opacity="0.5" transform="rotate(82.16562867181358 62.95 52.99)"/>
<ellipse cx="78.42" cy="43.23" rx="0.71" ry="0.52" fill="#b8b4dc" fill-opacity="0.5" transform="rotate(65.13199465622134 78.42 43.23)"/>
<ellipse cx="79.41" cy="46.20" rx="1.08" ry="0.76" fill="#b8b4dc" fill-opacity="0.5" transform="rotate(157.41049731100438 79.41 46.20)"/>
<ellipse cx="11.74" cy="44.21" rx="1.19" ry="0.72" fill="#b8b4dc" fill-opacity="0.5" transform="rotate(115.57914845219089 11.74 44.21)"/>
<ellipse cx="16.30" cy="54.73" rx="0.72" ry="0.61" fill="#b8b4dc" fill-opacity="0.5" transform="rotate(122.01293284492823 16.30 54.73)"/>
<ellipse cx="59.98" cy="44.68" rx="1.08" ry="0.75" fill="#b8b4dc" fill-opacity="0.5" transform="rotate(106.80698273735646 59.98 44.68)"/>
<ellipse cx="64.77" cy="58.98" rx="0.87" ry="0.70" fill="#b8b4dc" fill-opacity="0.5" transform="rotate(27.74914658579124 64.77 58.98)"/>
<ellipse cx="70.35" cy="55.08" rx="1.04" ry="1.03" fill="#b8b4dc" fill-opacity="0.5" transform="rotate(126.05624203736375 70.35 55.08)"/>
<ellipse cx="24.01" cy="52.57" rx="0.62" ry="0.44" fill="#b8b4dc" fill-opacity="0.5" transform="rotate(154.31832053274124 24.01 52.57)"/>
<ellipse cx="53.46" cy="45.67" rx="0.87" ry="0.66" fill="#b8b4dc" fill-opacity="0.5" transform="rotate(146.90758876712994 53.46 45.67)"/>
<ellipse cx="66.53" cy="49.77" rx="0.56" ry="0.38" fill="#b8b4dc" fill-opacity="0.5" transform="rotate(101.59381685103632 66.53 49.77)"/>
<ellipse cx="29.14" cy="42.78" rx="1.02" ry="0.86" fill="#b8b4dc" fill-opacity="0.5" transform="rotate(58.74398059993252 29.14 42.78)"/>
<ellipse cx="2.42" cy="49.80" rx="0.91" ry="0.57" fill="#b8b4dc" fill-opacity="0.5" transform="rotate(19.277955401844107 2.42 49.80)"/>
<ellipse cx="3.30" cy="42.69" rx="0.93" ry="0.82" fill="#b8b4dc" fill-opacity="0.5" transform="rotate(114.90353384197658 3.30 42.69)"/>
<ellipse cx="25.48" cy="49.80" rx="0.51" ry="0.47" fill="#b8b4dc" fill-opacity="0.5" transform="rotate(95.12819584804095 25.48 49.80)"/>
<ellipse cx="15.19" cy="44.52" rx="0.69" ry="0.52" fill="#b8b4dc" fill-opacity="0.5" transform="rotate(125.95698187445605 15.19 44.52)"/>
<ellipse cx="5.78" cy="59.12" rx="0.67" ry="0.44" fill="#b8b4dc" fill-opacity="0.5" transform="rotate(112.37710669361513 5.78 59.12)"/>
<ellipse cx="11.84" cy="63.71" rx="0.97" ry="0.87" fill="#b8b4dc" fill-opacity="0.5" transform="rotate(98.70227873061673 11.84 63.71)"/>
<ellipse cx="70.26" cy="60.77" rx="0.89" ry="0.58" fill="#b8b4dc" fill-opacity="0.5" transform="rotate(119.81923351152584 70.26 60.77)"/>
<ellipse cx="79.55" cy="47.37" rx="0.99" ry="0.64" fill="#b8b4dc" fill-opacity="0.5" transform="rotate(148.48536922393998 79.55 47.37)"/>
<ellipse cx="43.01" cy="54.34" rx="0.91" ry="0.74" fill="#b8b4dc" fill-opacity="0.5" transform="rotate(119.25352777320992 43.01 54.34)"/>
<ellipse cx="49.28" cy="48.43" rx="1.11" ry="0.72" fill="#b8b4dc" fill-opacity="0.5" transform="rotate(134.05053712004934 49.28 48.43)"/>
<ellipse cx="33.94" cy="44.24" rx="0.69" ry="0.55" fill="#b8b4dc" fill-opacity="0.5" transform="rotate(24.351625099152976 33.94 44.24)"/>
<ellipse cx="50.13" cy="62.93" rx="1.00" ry="0.82" fill="#b8b4dc" fill-opacity="0.5" transform="rotate(106.8766638081451 50.13 62.93)"/>
<ellipse cx="39.02" cy="58.84" rx="0.99" ry="0.80" fill="#b8b4dc" fill-opacity="0.5" transform="rotate(134.52186674197165 39.02 58.84)"/>
<ellipse cx="51.69" cy="43.63" rx="0.60" ry="0.45" fill="#b8b4dc" fill-opacity="0.5" transform="rotate(56.61624630223828 51.69 43.63)"/>
<ellipse cx="55.38" cy="52.37" rx="0.98" ry="0.87" fill="#b8b4dc" fill-opacity="0.5" transform="rotate(171.35415981977397 55.38 52.37)"/>
<ellipse cx="42.81" cy="47.85" rx="1.19" ry="0.87" fill="#b8b4dc" fill-opacity="0.5" transform="rotate(134.93669054349994 42.81 47.85)"/>
<ellipse cx="19.36" cy="50.80" rx="0.95" ry="0.92" fill="#b8b4dc" fill-opacity="0.5" transform="rotate(169.94146242205616 19.36 50.80)"/>
<ellipse cx="77.08" cy="53.16" rx="1.02" ry="0.92" fill="#b8b4dc" fill-opacity="0.5" transform="rotate(92.05623367323862 77.08 53.16)"/>
</g>
</g>
<rect x="197.0" y="268.3" width="87.1" height="64.0" fill="#000" filter="url(#noiseP)" opacity="0.1"/>
<rect x="197.0" y="268.3" width="87.1" height="64.0" fill="#000" filter="url(#nucL)" opacity="0.45"/>
<rect x="197.0" y="268.3" width="87.1" height="64.0" fill="#000" filter="url(#hl)" opacity="0.4"/>
<g transform="translate(197.0,268.3)" filter="url(#sblur)">
<path d="M-3.00,-3.00 C0.33,-6.00 13.83,-4.83 17.00,-3.00 C20.17,-1.17 17.17,5.17 16.00,8.00 C14.83,10.83 13.17,12.83 10.00,14.00 C6.83,15.17 -0.83,17.83 -3.00,15.00 C-5.17,12.17 -6.33,0.00 -3.00,-3.00 Z" fill="#f2f0f6" fill-opacity="0.9"/>
<path d="M42.00,-3.00 C44.50,-4.50 54.50,-5.67 57.00,-3.00 C59.50,-0.33 58.67,10.50 57.00,13.00 C55.33,15.50 49.50,13.17 47.00,12.00 C44.50,10.83 42.83,8.50 42.00,6.00 C41.17,3.50 39.50,-1.50 42.00,-3.00 Z" fill="#f6f4f8" fill-opacity="0.95"/>
<path d="M41.00,23.50 C42.33,22.17 49.17,21.75 51.00,23.00 C52.83,24.25 53.33,29.67 52.00,31.00 C50.67,32.33 44.83,32.25 43.00,31.00 C41.17,29.75 39.67,24.83 41.00,23.50 Z" fill="#f6f4f8" fill-opacity="0.95"/>
<path d="M62.00,9.00 C63.33,6.67 68.33,6.50 70.00,8.00 C71.67,9.50 71.00,15.00 72.00,18.00 C73.00,21.00 76.67,23.50 76.00,26.00 C75.33,28.50 70.33,33.67 68.00,33.00 C65.67,32.33 63.00,26.00 62.00,22.00 C61.00,18.00 60.67,11.33 62.00,9.00 Z" fill="#f6f4f8" fill-opacity="0.9"/>
<path d="M70.00,4.00 C70.67,2.00 76.50,4.00 78.00,6.00 C79.50,8.00 79.67,14.00 79.00,16.00 C78.33,18.00 75.50,20.00 74.00,18.00 C72.50,16.00 69.33,6.00 70.00,4.00 Z" fill="#f6f4f8" fill-opacity="0.9"/>
<path d="M15.00,47.00 C16.67,45.17 25.00,44.50 27.00,46.00 C29.00,47.50 28.67,54.17 27.00,56.00 C25.33,57.83 19.00,58.50 17.00,57.00 C15.00,55.50 13.33,48.83 15.00,47.00 Z" fill="#f6f4f8" fill-opacity="0.9"/>
<path d="M41.00,47.00 C42.00,45.67 46.00,45.67 47.00,47.00 C48.00,48.33 48.00,53.67 47.00,55.00 C46.00,56.33 42.00,56.33 41.00,55.00 C40.00,53.67 40.00,48.33 41.00,47.00 Z" fill="#f6f4f8" fill-opacity="0.9"/>
<path d="M-3.00,50.00 C-0.67,47.50 8.67,49.17 11.00,52.00 C13.33,54.83 13.33,64.50 11.00,67.00 C8.67,69.50 -0.67,69.83 -3.00,67.00 C-5.33,64.17 -5.33,52.50 -3.00,50.00 Z" fill="#f4f2f6" fill-opacity="0.9"/>
</g>
</g>
<rect x="197.00" y="268.30" width="55.30" height="40.30" fill="none" stroke="#333" stroke-width="0.7"/>
<rect x="197.00" y="268.30" width="87.10" height="64.00" fill="none" stroke="#7a7a7a" stroke-width="0.9"/>
<text x="265.80" y="328.80" font-size="6.7" font-weight="bold" fill="#1a1a1a" textLength="17.0" lengthAdjust="spacingAndGlyphs">20 µm</text>
<line x1="275.80" y1="330.40" x2="282.60" y2="330.40" stroke="#1a1a1a" stroke-width="0.9"/>
<clipPath id="clip8"><rect x="285.5" y="268.3" width="88.1" height="64.0"/></clipPath>
<g clip-path="url(#clip8)">
<g transform="translate(285.5,268.3)">
<g filter="url(#gblur)">
<rect x="-4.00" y="-4.00" width="15.31" height="14.97" fill="#b85c25" fill-opacity="1.0"/>
<rect x="11.01" y="-4.00" width="11.31" height="14.97" fill="#b0541d" fill-opacity="1.0"/>
<rect x="22.02" y="-4.00" width="11.31" height="14.97" fill="#c0643f" fill-opacity="1.0"/>
<rect x="33.04" y="-4.00" width="11.31" height="14.97" fill="#b8531c" fill-opacity="1.0"/>
<rect x="44.05" y="-4.00" width="11.31" height="14.97" fill="#b85c25" fill-opacity="1.0"/>
<rect x="55.06" y="-4.00" width="11.31" height="14.97" fill="#c89a75" fill-opacity="1.0"/>
<rect x="66.07" y="-4.00" width="11.31" height="14.97" fill="#c89a75" fill-opacity="1.0"/>
<rect x="77.09" y="-4.00" width="15.31" height="14.97" fill="#c08964" fill-opacity="1.0"/>
<rect x="-4.00" y="10.67" width="15.31" height="10.97" fill="#b04d14" fill-opacity="1.0"/>
<rect x="11.01" y="10.67" width="11.31" height="10.97" fill="#b85e25" fill-opacity="1.0"/>
<rect x="22.02" y="10.67" width="11.31" height="10.97" fill="#c06936" fill-opacity="1.0"/>
<rect x="33.04" y="10.67" width="11.31" height="10.97" fill="#b85c25" fill-opacity="1.0"/>
<rect x="44.05" y="10.67" width="11.31" height="10.97" fill="#b85c25" fill-opacity="1.0"/>
<rect x="55.06" y="10.67" width="11.31" height="10.97" fill="#d0c0d0" fill-opacity="1.0"/>
<rect x="66.07" y="10.67" width="11.31" height="10.97" fill="#c89a75" fill-opacity="1.0"/>
<rect x="77.09" y="10.67" width="15.31" height="10.97" fill="#c8a388" fill-opacity="1.0"/>
<rect x="-4.00" y="21.33" width="15.31" height="10.97" fill="#b04d14" fill-opacity="1.0"/>
<rect x="11.01" y="21.33" width="11.31" height="10.97" fill="#b85c25" fill-opacity="1.0"/>
<rect x="22.02" y="21.33" width="11.31" height="10.97" fill="#b85c25" fill-opacity="1.0"/>
<rect x="33.04" y="21.33" width="11.31" height="10.97" fill="#b85e2e" fill-opacity="1.0"/>
<rect x="44.05" y="21.33" width="11.31" height="10.97" fill="#b0541d" fill-opacity="1.0"/>
<rect x="55.06" y="21.33" width="11.31" height="10.97" fill="#d0c0d0" fill-opacity="1.0"/>
<rect x="66.07" y="21.33" width="11.31" height="10.97" fill="#c08964" fill-opacity="1.0"/>
<rect x="77.09" y="21.33" width="15.31" height="10.97" fill="#c08052" fill-opacity="1.0"/>
<rect x="-4.00" y="32.00" width="15.31" height="10.97" fill="#b85c25" fill-opacity="1.0"/>
<rect x="11.01" y="32.00" width="11.31" height="10.97" fill="#b85c25" fill-opacity="1.0"/>
<rect x="22.02" y="32.00" width="11.31" height="10.97" fill="#c89a9a" fill-opacity="1.0"/>
<rect x="33.04" y="32.00" width="11.31" height="10.97" fill="#d4c8dc" fill-opacity="1.0"/>
<rect x="44.05" y="32.00" width="11.31" height="10.97" fill="#b86540" fill-opacity="1.0"/>
<rect x="55.06" y="32.00" width="11.31" height="10.97" fill="#c08964" fill-opacity="1.0"/>
<rect x="66.07" y="32.00" width="11.31" height="10.97" fill="#c08964" fill-opacity="1.0"/>
<rect x="77.09" y="32.00" width="15.31" height="10.97" fill="#c08052" fill-opacity="1.0"/>
<rect x="-4.00" y="42.67" width="15.31" height="10.97" fill="#c8916c" fill-opacity="1.0"/>
<rect x="11.01" y="42.67" width="11.31" height="10.97" fill="#c8916c" fill-opacity="1.0"/>
<rect x="22.02" y="42.67" width="11.31" height="10.97" fill="#d0c0cc" fill-opacity="1.0"/>
<rect x="33.04" y="42.67" width="11.31" height="10.97" fill="#d4c8dc" fill-opacity="1.0"/>
<rect x="44.05" y="42.67" width="11.31" height="10.97" fill="#c8b0b8" fill-opacity="1.0"/>
<rect x="55.06" y="42.67" width="11.31" height="10.97" fill="#c08964" fill-opacity="1.0"/>
<rect x="66.07" y="42.67" width="11.31" height="10.97" fill="#c89a75" fill-opacity="1.0"/>
<rect x="77.09" y="42.67" width="15.31" height="10.97" fill="#c0825b" fill-opacity="1.0"/>
<rect x="-4.00" y="53.33" width="15.31" height="14.97" fill="#c89a75" fill-opacity="1.0"/>
<rect x="11.01" y="53.33" width="11.31" height="14.97" fill="#ccbcc8" fill-opacity="1.0"/>
<rect x="22.02" y="53.33" width="11.31" height="14.97" fill="#d4c8dc" fill-opacity="1.0"/>
<rect x="33.04" y="53.33" width="11.31" height="14.97" fill="#d0c4d8" fill-opacity="1.0"/>
<rect x="44.05" y="53.33" width="11.31" height="14.97" fill="#c8b8c8" fill-opacity="1.0"/>
<rect x="55.06" y="53.33" width="11.31" height="14.97" fill="#c08964" fill-opacity="1.0"/>
<rect x="66.07" y="53.33" width="11.31" height="14.97" fill="#c08052" fill-opacity="1.0"/>
<rect x="77.09" y="53.33" width="15.31" height="14.97" fill="#c0825b" fill-opacity="1.0"/>
</g>
<g filter="url(#sblur)">
<path d="M28.50,28.50 C30.17,26.08 35.42,26.42 38.00,27.00 C40.58,27.58 43.17,29.58 44.00,32.00 C44.83,34.42 45.67,39.92 43.00,41.50 C40.33,43.08 30.42,43.67 28.00,41.50 C25.58,39.33 26.83,30.92 28.50,28.50 Z" fill="#d8d0e8" fill-opacity="1.0"/>
<path d="M57.00,8.00 C57.83,9.67 60.50,14.67 62.00,18.00 C63.50,21.33 64.67,25.33 66.00,28.00 C67.33,30.67 69.33,33.00 70.00,34.00" fill="none" stroke="#c8c0dc" stroke-width="6.0" stroke-opacity="0.8" stroke-linecap="round" stroke-linejoin="round"/>
<ellipse cx="74.00" cy="19.50" rx="3.00" ry="3.00" fill="#f2eef2" fill-opacity="1.0" transform="rotate(0 74.00 19.50)"/>
<ellipse cx="62.00" cy="35.00" rx="2.00" ry="2.00" fill="#f0ecf2" fill-opacity="1.0" transform="rotate(0 62.00 35.00)"/>
<path d="M20.00,46.00 C23.33,42.50 34.33,44.33 40.00,45.00 C45.67,45.67 51.67,46.50 54.00,50.00 C56.33,53.50 59.67,63.33 54.00,66.00 C48.33,68.67 25.67,69.33 20.00,66.00 C14.33,62.67 16.67,49.50 20.00,46.00 Z" fill="#ccc4e0" fill-opacity="0.7"/>
<ellipse cx="55.00" cy="56.00" rx="4.00" ry="4.00" fill="#ccc4e0" fill-opacity="0.7" transform="rotate(0 55.00 56.00)"/>
<ellipse cx="5.00" cy="5.00" rx="2.00" ry="2.00" fill="#f0e0d8" fill-opacity="0.8" transform="rotate(0 5.00 5.00)"/>
<ellipse cx="20.00" cy="9.00" rx="2.00" ry="3.00" fill="#f0e0d8" fill-opacity="0.8" transform="rotate(0 20.00 9.00)"/>
<ellipse cx="26.00" cy="2.00" rx="3.00" ry="2.00" fill="#f4eae8" fill-opacity="0.9" transform="rotate(0 26.00 2.00)"/>
<ellipse cx="44.00" cy="16.00" rx="2.50" ry="2.50" fill="#f0e0d8" fill-opacity="0.7" transform="rotate(0 44.00 16.00)"/>
<ellipse cx="4.00" cy="34.00" rx="2.50" ry="2.50" fill="#503060" fill-opacity="0.5" transform="rotate(0 4.00 34.00)"/>
<ellipse cx="52.00" cy="35.00" rx="2.50" ry="2.50" fill="#503060" fill-opacity="0.5" transform="rotate(0 52.00 35.00)"/>
<ellipse cx="28.31" cy="14.69" rx="0.73" ry="0.55" fill="#f0c8a8" fill-opacity="0.6" transform="rotate(150.21380471530034 28.31 14.69)"/>
<ellipse cx="10.29" cy="14.61" rx="0.86" ry="0.72" fill="#f0c8a8" fill-opacity="0.6" transform="rotate(163.05709091638826 10.29 14.61)"/>
<ellipse cx="17.01" cy="12.02" rx="0.58" ry="0.38" fill="#f0c8a8" fill-opacity="0.6" transform="rotate(13.560316995587984 17.01 12.02)"/>
<ellipse cx="28.72" cy="10.34" rx="0.75" ry="0.74" fill="#f0c8a8" fill-opacity="0.6" transform="rotate(179.04738109199212 28.72 10.34)"/>
<ellipse cx="42.49" cy="11.27" rx="0.63" ry="0.60" fill="#f0c8a8" fill-opacity="0.6" transform="rotate(42.10620848133452 42.49 11.27)"/>
<ellipse cx="44.85" cy="8.87" rx="0.67" ry="0.55" fill="#f0c8a8" fill-opacity="0.6" transform="rotate(172.73509702721617 44.85 8.87)"/>
<ellipse cx="40.04" cy="25.51" rx="0.61" ry="0.45" fill="#f0c8a8" fill-opacity="0.6" transform="rotate(156.589685450126 40.04 25.51)"/>
<ellipse cx="32.43" cy="22.15" rx="0.46" ry="0.29" fill="#f0c8a8" fill-opacity="0.6" transform="rotate(76.94427609031833 32.43 22.15)"/>
<ellipse cx="17.97" cy="9.45" rx="0.89" ry="0.86" fill="#f0c8a8" fill-opacity="0.6" transform="rotate(40.3702208640958 17.97 9.45)"/>
<ellipse cx="7.22" cy="7.29" rx="0.51" ry="0.45" fill="#f0c8a8" fill-opacity="0.6" transform="rotate(68.71975446599797 7.22 7.29)"/>
<ellipse cx="52.89" cy="2.52" rx="0.72" ry="0.47" fill="#f0c8a8" fill-opacity="0.6" transform="rotate(152.82128858529353 52.89 2.52)"/>
<ellipse cx="21.83" cy="8.74" rx="0.75" ry="0.71" fill="#f0c8a8" fill-opacity="0.6" transform="rotate(2.7541441030805247 21.83 8.74)"/>
<ellipse cx="13.98" cy="27.28" rx="0.65" ry="0.42" fill="#f0c8a8" fill-opacity="0.6" transform="rotate(167.62298903592657 13.98 27.28)"/>
<ellipse cx="51.24" cy="13.95" rx="0.52" ry="0.32" fill="#f0c8a8" fill-opacity="0.6" transform="rotate(133.68497684223706 51.24 13.95)"/>
<ellipse cx="42.11" cy="22.65" rx="0.81" ry="0.60" fill="#f0c8a8" fill-opacity="0.6" transform="rotate(51.73129573041287 42.11 22.65)"/>
<ellipse cx="31.89" cy="24.22" rx="0.68" ry="0.55" fill="#f0c8a8" fill-opacity="0.6" transform="rotate(69.97358077277325 31.89 24.22)"/>
<ellipse cx="44.76" cy="28.78" rx="0.56" ry="0.56" fill="#f0c8a8" fill-opacity="0.6" transform="rotate(146.320217440537 44.76 28.78)"/>
<ellipse cx="23.02" cy="9.09" rx="0.81" ry="0.66" fill="#f0c8a8" fill-opacity="0.6" transform="rotate(106.363303107494 23.02 9.09)"/>
<ellipse cx="53.68" cy="29.47" rx="0.82" ry="0.66" fill="#f0c8a8" fill-opacity="0.6" transform="rotate(29.988015065023284 53.68 29.47)"/>
<ellipse cx="5.91" cy="24.97" rx="0.55" ry="0.48" fill="#f0c8a8" fill-opacity="0.6" transform="rotate(54.73489725902394 5.91 24.97)"/>
<ellipse cx="13.16" cy="21.15" rx="0.50" ry="0.32" fill="#f0c8a8" fill-opacity="0.6" transform="rotate(179.2055680146394 13.16 21.15)"/>
<ellipse cx="22.75" cy="12.10" rx="0.87" ry="0.60" fill="#f0c8a8" fill-opacity="0.6" transform="rotate(142.89876655552712 22.75 12.10)"/>
<ellipse cx="14.09" cy="22.35" rx="0.85" ry="0.55" fill="#f0c8a8" fill-opacity="0.6" transform="rotate(68.94933801660189 14.09 22.35)"/>
<ellipse cx="46.03" cy="15.76" rx="0.66" ry="0.41" fill="#f0c8a8" fill-opacity="0.6" transform="rotate(27.90964459445472 46.03 15.76)"/>
<ellipse cx="51.22" cy="29.70" rx="0.71" ry="0.62" fill="#f0c8a8" fill-opacity="0.6" transform="rotate(23.879230240688337 51.22 29.70)"/>
<ellipse cx="51.14" cy="19.60" rx="0.84" ry="0.79" fill="#f0c8a8" fill-opacity="0.6" transform="rotate(43.11531960190696 51.14 19.60)"/>
<ellipse cx="38.28" cy="15.18" rx="0.58" ry="0.39" fill="#f0c8a8" fill-opacity="0.6" transform="rotate(128.9003107534177 38.28 15.18)"/>
<ellipse cx="11.79" cy="6.66" rx="0.63" ry="0.48" fill="#f0c8a8" fill-opacity="0.6" transform="rotate(79.63804291815165 11.79 6.66)"/>
<ellipse cx="13.63" cy="29.33" rx="0.46" ry="0.42" fill="#f0c8a8" fill-opacity="0.6" transform="rotate(135.79698589186134 13.63 29.33)"/>
<ellipse cx="25.81" cy="10.44" rx="0.91" ry="0.81" fill="#f0c8a8" fill-opacity="0.6" transform="rotate(44.566674863918266 25.81 10.44)"/>
<ellipse cx="47.64" cy="19.87" rx="0.50" ry="0.49" fill="#f0c8a8" fill-opacity="0.6" transform="rotate(65.62920615349921 47.64 19.87)"/>
<ellipse cx="9.64" cy="28.81" rx="0.85" ry="0.67" fill="#f0c8a8" fill-opacity="0.6" transform="rotate(99.15583344030965 9.64 28.81)"/>
<ellipse cx="28.32" cy="16.16" rx="0.45" ry="0.39" fill="#f0c8a8" fill-opacity="0.6" transform="rotate(64.1523709253192 28.32 16.16)"/>
<ellipse cx="10.70" cy="12.09" rx="0.64" ry="0.40" fill="#f0c8a8" fill-opacity="0.6" transform="rotate(50.851311822832656 10.70 12.09)"/>
<ellipse cx="18.02" cy="6.11" rx="0.65" ry="0.41" fill="#f0c8a8" fill-opacity="0.6" transform="rotate(88.42757206296015 18.02 6.11)"/>
<ellipse cx="19.73" cy="10.17" rx="0.79" ry="0.68" fill="#f0c8a8" fill-opacity="0.6" transform="rotate(21.375446780871084 19.73 10.17)"/>
<ellipse cx="8.13" cy="20.36" rx="0.62" ry="0.41" fill="#f0c8a8" fill-opacity="0.6" transform="rotate(49.656650997863444 8.13 20.36)"/>
<ellipse cx="16.17" cy="8.73" rx="0.42" ry="0.31" fill="#f0c8a8" fill-opacity="0.6" transform="rotate(156.87369219482477 16.17 8.73)"/>
<ellipse cx="2.03" cy="2.70" rx="0.49" ry="0.40" fill="#f0c8a8" fill-opacity="0.6" transform="rotate(58.95874469609468 2.03 2.70)"/>
<ellipse cx="39.16" cy="22.48" rx="0.79" ry="0.63" fill="#f0c8a8" fill-opacity="0.6" transform="rotate(154.75063152744013 39.16 22.48)"/>
<ellipse cx="53.39" cy="5.64" rx="0.63" ry="0.60" fill="#f0c8a8" fill-opacity="0.6" transform="rotate(116.73577456717967 53.39 5.64)"/>
<ellipse cx="22.95" cy="22.12" rx="0.57" ry="0.53" fill="#f0c8a8" fill-opacity="0.6" transform="rotate(15.211535964972914 22.95 22.12)"/>
<ellipse cx="7.45" cy="23.99" rx="0.65" ry="0.60" fill="#f0c8a8" fill-opacity="0.6" transform="rotate(164.3077318823372 7.45 23.99)"/>
<ellipse cx="41.10" cy="20.08" rx="0.57" ry="0.46" fill="#f0c8a8" fill-opacity="0.6" transform="rotate(42.6516384214525 41.10 20.08)"/>
<ellipse cx="44.81" cy="29.78" rx="0.42" ry="0.34" fill="#f0c8a8" fill-opacity="0.6" transform="rotate(149.1669564048621 44.81 29.78)"/>
<ellipse cx="52.18" cy="13.10" rx="0.67" ry="0.48" fill="#f0c8a8" fill-opacity="0.6" transform="rotate(9.975381361039927 52.18 13.10)"/>
<ellipse cx="13.09" cy="29.18" rx="0.87" ry="0.86" fill="#f0c8a8" fill-opacity="0.6" transform="rotate(108.31647273661994 13.09 29.18)"/>
<ellipse cx="3.83" cy="13.88" rx="0.93" ry="0.76" fill="#f0c8a8" fill-opacity="0.6" transform="rotate(149.6614356033987 3.83 13.88)"/>
<ellipse cx="2.78" cy="11.26" rx="0.66" ry="0.51" fill="#f0c8a8" fill-opacity="0.6" transform="rotate(47.83053533422496 2.78 11.26)"/>
<ellipse cx="40.47" cy="24.05" rx="0.90" ry="0.69" fill="#f0c8a8" fill-opacity="0.6" transform="rotate(15.574482851715201 40.47 24.05)"/>
</g>
</g>
<rect x="285.5" y="268.3" width="88.1" height="64.0" fill="#000" filter="url(#noiseB)" opacity="0.12"/>
<rect x="285.5" y="268.3" width="88.1" height="64.0" fill="#000" filter="url(#net)" opacity="0.18"/>
<rect x="285.5" y="268.3" width="88.1" height="64.0" fill="#000" filter="url(#hl)" opacity="0.32"/>
<rect x="285.5" y="268.3" width="88.1" height="64.0" fill="#000" filter="url(#nucP)" opacity="0.32"/>
</g>
<rect x="285.50" y="268.30" width="55.50" height="41.00" fill="none" stroke="#333" stroke-width="0.7"/>
<rect x="285.50" y="268.30" width="88.10" height="64.00" fill="none" stroke="#7a7a7a" stroke-width="0.9"/>
<text x="355.30" y="328.80" font-size="6.7" font-weight="bold" fill="#1a1a1a" textLength="17.0" lengthAdjust="spacingAndGlyphs">20 µm</text>
<line x1="365.30" y1="330.40" x2="372.10" y2="330.40" stroke="#1a1a1a" stroke-width="0.9"/>
<clipPath id="clip9"><rect x="13.2" y="375.6" width="86.6" height="63.9"/></clipPath>
<g clip-path="url(#clip9)">
<g transform="translate(13.2,375.6)">
<g filter="url(#gblur)">
<rect x="-4.00" y="-4.00" width="15.12" height="14.95" fill="#f9f9fc" fill-opacity="1.0"/>
<rect x="10.82" y="-4.00" width="11.12" height="14.95" fill="#f9f9fc" fill-opacity="1.0"/>
<rect x="21.65" y="-4.00" width="11.12" height="14.95" fill="#eceaf6" fill-opacity="1.0"/>
<rect x="32.47" y="-4.00" width="11.12" height="14.95" fill="#f6f6fb" fill-opacity="1.0"/>
<rect x="43.30" y="-4.00" width="11.12" height="14.95" fill="#f9f9fc" fill-opacity="1.0"/>
<rect x="54.12" y="-4.00" width="11.12" height="14.95" fill="#f8f8fc" fill-opacity="1.0"/>
<rect x="64.95" y="-4.00" width="11.12" height="14.95" fill="#f9f9fc" fill-opacity="1.0"/>
<rect x="75.77" y="-4.00" width="15.12" height="14.95" fill="#f9f9fc" fill-opacity="1.0"/>
<rect x="-4.00" y="10.65" width="15.12" height="10.95" fill="#f9f9fc" fill-opacity="1.0"/>
<rect x="10.82" y="10.65" width="11.12" height="10.95" fill="#e8e4f2" fill-opacity="1.0"/>
<rect x="21.65" y="10.65" width="11.12" height="10.95" fill="#e4e0f0" fill-opacity="1.0"/>
<rect x="32.47" y="10.65" width="11.12" height="10.95" fill="#f4f2f8" fill-opacity="1.0"/>
<rect x="43.30" y="10.65" width="11.12" height="10.95" fill="#f9f9fc" fill-opacity="1.0"/>
<rect x="54.12" y="10.65" width="11.12" height="10.95" fill="#f9f9fc" fill-opacity="1.0"/>
<rect x="64.95" y="10.65" width="11.12" height="10.95" fill="#f9f9fc" fill-opacity="1.0"/>
<rect x="75.77" y="10.65" width="15.12" height="10.95" fill="#f9f9fc" fill-opacity="1.0"/>
<rect x="-4.00" y="21.30" width="15.12" height="10.95" fill="#f9f9fc" fill-opacity="1.0"/>
<rect x="10.82" y="21.30" width="11.12" height="10.95" fill="#f9f9fc" fill-opacity="1.0"/>
<rect x="21.65" y="21.30" width="11.12" height="10.95" fill="#ece6f0" fill-opacity="1.0"/>
<rect x="32.47" y="21.30" width="11.12" height="10.95" fill="#f4f2f8" fill-opacity="1.0"/>
<rect x="43.30" y="21.30" width="11.12" height="10.95" fill="#f9f9fc" fill-opacity="1.0"/>
<rect x="54.12" y="21.30" width="11.12" height="10.95" fill="#f8f8fc" fill-opacity="1.0"/>
<rect x="64.95" y="21.30" width="11.12" height="10.95" fill="#f9f9fc" fill-opacity="1.0"/>
<rect x="75.77" y="21.30" width="15.12" height="10.95" fill="#f8f8fc" fill-opacity="1.0"/>
<rect x="-4.00" y="31.95" width="15.12" height="10.95" fill="#f9f9fc" fill-opacity="1.0"/>
<rect x="10.82" y="31.95" width="11.12" height="10.95" fill="#f9f9fc" fill-opacity="1.0"/>
<rect x="21.65" y="31.95" width="11.12" height="10.95" fill="#f4f0f6" fill-opacity="1.0"/>
<rect x="32.47" y="31.95" width="11.12" height="10.95" fill="#f6f4fa" fill-opacity="1.0"/>
<rect x="43.30" y="31.95" width="11.12" height="10.95" fill="#f8f8fc" fill-opacity="1.0"/>
<rect x="54.12" y="31.95" width="11.12" height="10.95" fill="#f9f9fc" fill-opacity="1.0"/>
<rect x="64.95" y="31.95" width="11.12" height="10.95" fill="#f8f8fc" fill-opacity="1.0"/>
<rect x="75.77" y="31.95" width="15.12" height="10.95" fill="#f9f9fc" fill-opacity="1.0"/>
<rect x="-4.00" y="42.60" width="15.12" height="10.95" fill="#f9f9fc" fill-opacity="1.0"/>
<rect x="10.82" y="42.60" width="11.12" height="10.95" fill="#f8f8fc" fill-opacity="1.0"/>
<rect x="21.65" y="42.60" width="11.12" height="10.95" fill="#f9f9fc" fill-opacity="1.0"/>
<rect x="32.47" y="42.60" width="11.12" height="10.95" fill="#f9f9fc" fill-opacity="1.0"/>
<rect x="43.30" y="42.60" width="11.12" height="10.95" fill="#f8f8fc" fill-opacity="1.0"/>
<rect x="54.12" y="42.60" width="11.12" height="10.95" fill="#f9f9fc" fill-opacity="1.0"/>
<rect x="64.95" y="42.60" width="11.12" height="10.95" fill="#f8f8fc" fill-opacity="1.0"/>
<rect x="75.77" y="42.60" width="15.12" height="10.95" fill="#f8f8fc" fill-opacity="1.0"/>
<rect x="-4.00" y="53.25" width="15.12" height="14.95" fill="#f9f9fc" fill-opacity="1.0"/>
<rect x="10.82" y="53.25" width="11.12" height="14.95" fill="#f8f8fc" fill-opacity="1.0"/>
<rect x="21.65" y="53.25" width="11.12" height="14.95" fill="#f9f9fc" fill-opacity="1.0"/>
<rect x="32.47" y="53.25" width="11.12" height="14.95" fill="#f9f9fc" fill-opacity="1.0"/>
<rect x="43.30" y="53.25" width="11.12" height="14.95" fill="#f8f8fc" fill-opacity="1.0"/>
<rect x="54.12" y="53.25" width="11.12" height="14.95" fill="#f9f9fc" fill-opacity="1.0"/>
<rect x="64.95" y="53.25" width="11.12" height="14.95" fill="#f8f8fc" fill-opacity="1.0"/>
<rect x="75.77" y="53.25" width="15.12" height="14.95" fill="#f9f9fc" fill-opacity="1.0"/>
</g>
<g filter="url(#sblur)">
<path d="M21.00,17.00 C21.83,16.00 25.33,15.50 27.00,16.00 C28.67,16.50 30.17,17.67 31.00,20.00 C31.83,22.33 32.00,26.83 32.00,30.00 C32.00,33.17 31.83,37.50 31.00,39.00 C30.17,40.50 28.00,40.50 27.00,39.00 C26.00,37.50 25.83,32.83 25.00,30.00 C24.17,27.17 22.67,24.17 22.00,22.00 C21.33,19.83 20.17,18.00 21.00,17.00 Z" fill="#e8dce8" fill-opacity="1.0"/>
<path d="M5.50,20.50 C6.67,19.88 10.58,19.52 13.00,18.80 C15.42,18.08 18.17,16.92 20.00,16.20 C21.83,15.48 23.08,14.28 24.00,14.50 C24.92,14.72 26.17,16.55 25.50,17.50 C24.83,18.45 22.08,19.48 20.00,20.20 C17.92,20.92 15.33,21.42 13.00,21.80 C10.67,22.18 7.25,22.72 6.00,22.50 C4.75,22.28 4.33,21.12 5.50,20.50 Z" fill="#8a86c8" fill-opacity="1.0"/>
<path d="M19.50,1.20 C19.67,0.12 21.58,0.53 22.50,1.50 C23.42,2.47 24.25,5.08 25.00,7.00 C25.75,8.92 26.75,11.25 27.00,13.00 C27.25,14.75 27.08,17.17 26.50,17.50 C25.92,17.83 24.33,16.58 23.50,15.00 C22.67,13.42 22.17,10.30 21.50,8.00 C20.83,5.70 19.33,2.28 19.50,1.20 Z" fill="#8a86c8" fill-opacity="1.0"/>
<path d="M26.00,16.30 C26.33,17.38 27.45,20.63 28.00,22.80 C28.55,24.97 28.97,26.52 29.30,29.30 C29.63,32.08 29.88,37.80 30.00,39.50" fill="none" stroke="#a4a0d0" stroke-width="1.0" stroke-opacity="1.0" stroke-linecap="round" stroke-linejoin="round"/>
<path d="M22.00,21.00 C22.25,22.17 23.00,25.67 23.50,28.00 C24.00,30.33 24.75,33.83 25.00,35.00" fill="none" stroke="#b0acd8" stroke-width="0.7" stroke-opacity="1.0" stroke-linecap="round" stroke-linejoin="round"/>
<path d="M31.30,27.30 C32.38,27.08 35.63,25.78 37.80,26.00 C39.97,26.22 41.48,28.48 44.30,28.60 C47.12,28.72 52.97,27.02 54.70,26.70" fill="none" stroke="#a09cd0" stroke-width="0.9" stroke-opacity="1.0" stroke-linecap="round" stroke-linejoin="round"/>
<path d="M36.50,19.00 L37.80,26.00" fill="none" stroke="#a09cd0" stroke-width="0.8" stroke-opacity="1.0" stroke-linecap="round" stroke-linejoin="round"/>
<path d="M56.00,6.00 C57.67,6.08 62.67,6.73 66.00,6.50 C69.33,6.27 72.33,5.45 76.00,4.60 C79.67,3.75 86.00,1.93 88.00,1.40" fill="none" stroke="#a8a4d8" stroke-width="0.5" stroke-opacity="1.0" stroke-linecap="round" stroke-linejoin="round"/>
<path d="M65.70,2.00 C65.70,3.73 65.92,10.02 65.70,12.40 C65.48,14.78 64.62,15.65 64.40,16.30" fill="none" stroke="#a8a4d8" stroke-width="0.6" stroke-opacity="1.0" stroke-linecap="round" stroke-linejoin="round"/>
<path d="M56.00,24.00 C58.58,23.68 68.05,21.87 71.50,22.10 C74.95,22.33 74.53,24.63 76.70,25.40 C78.87,26.17 83.20,26.48 84.50,26.70" fill="none" stroke="#a8a4d8" stroke-width="0.6" stroke-opacity="1.0" stroke-linecap="round" stroke-linejoin="round"/>
<path d="M76.70,25.40 C76.48,27.13 74.52,33.20 75.40,35.80 C76.28,38.40 79.90,39.92 82.00,41.00 C84.10,42.08 87.00,42.08 88.00,42.30" fill="none" stroke="#a8a4d8" stroke-width="0.6" stroke-opacity="1.0" stroke-linecap="round" stroke-linejoin="round"/>
<path d="M63.00,38.40 L70.00,38.40" fill="none" stroke="#a4a0d6" stroke-width="1.3" stroke-opacity="1.0" stroke-linecap="round" stroke-linejoin="round"/>
<path d="M60.00,47.50 L64.00,55.40" fill="none" stroke="#a8a4d8" stroke-width="1.1" stroke-opacity="1.0" stroke-linecap="round" stroke-linejoin="round"/>
<path d="M18.30,42.30 C18.52,43.82 19.38,47.45 19.60,51.40 C19.82,55.35 19.60,63.57 19.60,66.00" fill="none" stroke="#a8a4d8" stroke-width="0.7" stroke-opacity="1.0" stroke-linecap="round" stroke-linejoin="round"/>
<path d="M48.20,42.30 C49.07,43.82 52.10,49.03 53.40,51.40 C54.70,53.77 55.35,54.07 56.00,56.50 C56.65,58.93 57.08,64.42 57.30,66.00" fill="none" stroke="#a8a4d8" stroke-width="0.6" stroke-opacity="1.0" stroke-linecap="round" stroke-linejoin="round"/>
<path d="M82.00,43.60 C82.42,45.33 83.50,51.85 84.50,54.00 C85.50,56.15 87.42,56.08 88.00,56.50" fill="none" stroke="#a8a4d8" stroke-width="0.6" stroke-opacity="1.0" stroke-linecap="round" stroke-linejoin="round"/>
<path d="M1.00,42.00 L2.00,50.00" fill="none" stroke="#a8a4d8" stroke-width="0.5" stroke-opacity="1.0" stroke-linecap="round" stroke-linejoin="round"/>
</g>
</g>
</g>
<rect x="13.20" y="375.60" width="55.00" height="40.00" fill="none" stroke="#333" stroke-width="0.7"/>
<rect x="13.20" y="375.60" width="86.60" height="63.90" fill="none" stroke="#7a7a7a" stroke-width="0.9"/>
<text x="81.50" y="436.00" font-size="6.7" font-weight="bold" fill="#1a1a1a" textLength="17.0" lengthAdjust="spacingAndGlyphs">20 µm</text>
<line x1="91.50" y1="437.60" x2="98.30" y2="437.60" stroke="#1a1a1a" stroke-width="0.9"/>
<clipPath id="clip10"><rect x="101.2" y="375.6" width="87.3" height="63.9"/></clipPath>
<g clip-path="url(#clip10)">
<g transform="translate(101.2,375.6)">
<g filter="url(#gblur)">
<rect x="-4.00" y="-4.00" width="15.21" height="14.95" fill="#b85e2e" fill-opacity="1.0"/>
<rect x="10.91" y="-4.00" width="11.21" height="14.95" fill="#b8531c" fill-opacity="1.0"/>
<rect x="21.82" y="-4.00" width="11.21" height="14.95" fill="#b85c25" fill-opacity="1.0"/>
<rect x="32.74" y="-4.00" width="11.21" height="14.95" fill="#b8531c" fill-opacity="1.0"/>
<rect x="43.65" y="-4.00" width="11.21" height="14.95" fill="#c06436" fill-opacity="1.0"/>
<rect x="54.56" y="-4.00" width="11.21" height="14.95" fill="#c0a0b0" fill-opacity="1.0"/>
<rect x="65.47" y="-4.00" width="11.21" height="14.95" fill="#c48153" fill-opacity="1.0"/>
<rect x="76.39" y="-4.00" width="15.21" height="14.95" fill="#c07d52" fill-opacity="1.0"/>
<rect x="-4.00" y="10.65" width="15.21" height="10.95" fill="#b85c25" fill-opacity="1.0"/>
<rect x="10.91" y="10.65" width="11.21" height="10.95" fill="#c06d3f" fill-opacity="1.0"/>
<rect x="21.82" y="10.65" width="11.21" height="10.95" fill="#c06436" fill-opacity="1.0"/>
<rect x="32.74" y="10.65" width="11.21" height="10.95" fill="#b85c25" fill-opacity="1.0"/>
<rect x="43.65" y="10.65" width="11.21" height="10.95" fill="#c08976" fill-opacity="1.0"/>
<rect x="54.56" y="10.65" width="11.21" height="10.95" fill="#c8a3ac" fill-opacity="1.0"/>
<rect x="65.47" y="10.65" width="11.21" height="10.95" fill="#c48153" fill-opacity="1.0"/>
<rect x="76.39" y="10.65" width="15.21" height="10.95" fill="#c07d52" fill-opacity="1.0"/>
<rect x="-4.00" y="21.30" width="15.21" height="10.95" fill="#b85c25" fill-opacity="1.0"/>
<rect x="10.91" y="21.30" width="11.21" height="10.95" fill="#b86537" fill-opacity="1.0"/>
<rect x="21.82" y="21.30" width="11.21" height="10.95" fill="#c06436" fill-opacity="1.0"/>
<rect x="32.74" y="21.30" width="11.21" height="10.95" fill="#b85c25" fill-opacity="1.0"/>
<rect x="43.65" y="21.30" width="11.21" height="10.95" fill="#c06436" fill-opacity="1.0"/>
<rect x="54.56" y="21.30" width="11.21" height="10.95" fill="#c48153" fill-opacity="1.0"/>
<rect x="65.47" y="21.30" width="11.21" height="10.95" fill="#c48153" fill-opacity="1.0"/>
<rect x="76.39" y="21.30" width="15.21" height="10.95" fill="#c07d52" fill-opacity="1.0"/>
<rect x="-4.00" y="31.95" width="15.21" height="10.95" fill="#c0643f" fill-opacity="1.0"/>
<rect x="10.91" y="31.95" width="11.21" height="10.95" fill="#b85e2e" fill-opacity="1.0"/>
<rect x="21.82" y="31.95" width="11.21" height="10.95" fill="#b85c25" fill-opacity="1.0"/>
<rect x="32.74" y="31.95" width="11.21" height="10.95" fill="#b85c25" fill-opacity="1.0"/>
<rect x="43.65" y="31.95" width="11.21" height="10.95" fill="#c08976" fill-opacity="1.0"/>
<rect x="54.56" y="31.95" width="11.21" height="10.95" fill="#c8b0c0" fill-opacity="1.0"/>
<rect x="65.47" y="31.95" width="11.21" height="10.95" fill="#c8b0c0" fill-opacity="1.0"/>
<rect x="76.39" y="31.95" width="15.21" height="10.95" fill="#c89a9a" fill-opacity="1.0"/>
<rect x="-4.00" y="42.60" width="15.21" height="10.95" fill="#c48153" fill-opacity="1.0"/>
<rect x="10.91" y="42.60" width="11.21" height="10.95" fill="#c8a3a3" fill-opacity="1.0"/>
<rect x="21.82" y="42.60" width="11.21" height="10.95" fill="#c48153" fill-opacity="1.0"/>
<rect x="32.74" y="42.60" width="11.21" height="10.95" fill="#c48153" fill-opacity="1.0"/>
<rect x="43.65" y="42.60" width="11.21" height="10.95" fill="#c48153" fill-opacity="1.0"/>
<rect x="54.56" y="42.60" width="11.21" height="10.95" fill="#c8b8d0" fill-opacity="1.0"/>
<rect x="65.47" y="42.60" width="11.21" height="10.95" fill="#c48153" fill-opacity="1.0"/>
<rect x="76.39" y="42.60" width="15.21" height="10.95" fill="#c48153" fill-opacity="1.0"/>
<rect x="-4.00" y="53.25" width="15.21" height="14.95" fill="#c07d52" fill-opacity="1.0"/>
<rect x="10.91" y="53.25" width="11.21" height="14.95" fill="#c89a88" fill-opacity="1.0"/>
<rect x="21.82" y="53.25" width="11.21" height="14.95" fill="#c8a3ac" fill-opacity="1.0"/>
<rect x="32.74" y="53.25" width="11.21" height="14.95" fill="#c48153" fill-opacity="1.0"/>
<rect x="43.65" y="53.25" width="11.21" height="14.95" fill="#c48153" fill-opacity="1.0"/>
<rect x="54.56" y="53.25" width="11.21" height="14.95" fill="#c8b8d0" fill-opacity="1.0"/>
<rect x="65.47" y="53.25" width="11.21" height="14.95" fill="#c48153" fill-opacity="1.0"/>
<rect x="76.39" y="53.25" width="15.21" height="14.95" fill="#c48153" fill-opacity="1.0"/>
</g>
<g filter="url(#sblur)">
<path d="M51.00,-2.00 C51.17,0.00 51.67,6.00 52.00,10.00 C52.33,14.00 53.00,18.33 53.00,22.00 C53.00,25.67 52.00,28.67 52.00,32.00 C52.00,35.33 52.83,40.33 53.00,42.00" fill="none" stroke="#c4b4cc" stroke-width="4" stroke-opacity="0.7" stroke-linecap="round" stroke-linejoin="round"/>
<path d="M57.00,0.00 C57.17,2.00 58.00,7.83 58.00,12.00 C58.00,16.17 57.00,21.00 57.00,25.00 C57.00,29.00 57.83,34.17 58.00,36.00" fill="none" stroke="#c8bcd8" stroke-width="3" stroke-opacity="0.6" stroke-linecap="round" stroke-linejoin="round"/>
<path d="M57.00,38.00 C58.50,37.50 62.50,36.00 66.00,35.00 C69.50,34.00 74.00,32.83 78.00,32.00 C82.00,31.17 88.00,30.33 90.00,30.00" fill="none" stroke="#c8c0dc" stroke-width="3" stroke-opacity="0.6" stroke-linecap="round" stroke-linejoin="round"/>
<path d="M60.00,38.00 C60.50,39.67 62.67,44.67 63.00,48.00 C63.33,51.33 62.17,55.00 62.00,58.00 C61.83,61.00 62.00,64.67 62.00,66.00" fill="none" stroke="#c8c0dc" stroke-width="5" stroke-opacity="0.6" stroke-linecap="round" stroke-linejoin="round"/>
<path d="M15.00,41.00 C15.67,42.83 17.50,47.83 19.00,52.00 C20.50,56.17 23.17,63.67 24.00,66.00" fill="none" stroke="#c8c0dc" stroke-width="3.5" stroke-opacity="0.6" stroke-linecap="round" stroke-linejoin="round"/>
<ellipse cx="12.00" cy="29.00" rx="4.00" ry="4.00" fill="#a898b8" fill-opacity="0.45" transform="rotate(0 12.00 29.00)"/>
<ellipse cx="40.00" cy="30.00" rx="5.00" ry="5.00" fill="#a85830" fill-opacity="0.5" transform="rotate(0 40.00 30.00)"/>
<ellipse cx="6.01" cy="8.21" rx="0.84" ry="0.56" fill="#e0a880" fill-opacity="0.45" transform="rotate(170.85762413305494 6.01 8.21)"/>
<ellipse cx="42.53" cy="28.73" rx="0.73" ry="0.68" fill="#e0a880" fill-opacity="0.45" transform="rotate(43.86112357542916 42.53 28.73)"/>
<ellipse cx="30.96" cy="15.34" rx="0.75" ry="0.73" fill="#e0a880" fill-opacity="0.45" transform="rotate(38.99502135490999 30.96 15.34)"/>
<ellipse cx="38.23" cy="29.59" rx="0.54" ry="0.54" fill="#e0a880" fill-opacity="0.45" transform="rotate(80.74156661091082 38.23 29.59)"/>
<ellipse cx="28.09" cy="12.87" rx="0.78" ry="0.77" fill="#e0a880" fill-opacity="0.45" transform="rotate(62.82952224947608 28.09 12.87)"/>
<ellipse cx="37.18" cy="30.23" rx="0.93" ry="0.82" fill="#e0a880" fill-opacity="0.45" transform="rotate(77.75211789619038 37.18 30.23)"/>
<ellipse cx="18.27" cy="15.84" rx="0.69" ry="0.66" fill="#e0a880" fill-opacity="0.45" transform="rotate(149.07271628623303 18.27 15.84)"/>
<ellipse cx="12.29" cy="11.54" rx="0.52" ry="0.51" fill="#e0a880" fill-opacity="0.45" transform="rotate(10.671851052113386 12.29 11.54)"/>
<ellipse cx="20.76" cy="8.61" rx="0.60" ry="0.58" fill="#e0a880" fill-opacity="0.45" transform="rotate(78.45616321842913 20.76 8.61)"/>
<ellipse cx="32.42" cy="31.89" rx="0.76" ry="0.71" fill="#e0a880" fill-opacity="0.45" transform="rotate(138.7479004830895 32.42 31.89)"/>
<ellipse cx="31.03" cy="22.29" rx="0.94" ry="0.82" fill="#e0a880" fill-opacity="0.45" transform="rotate(61.60644844949587 31.03 22.29)"/>
<ellipse cx="45.18" cy="31.56" rx="0.98" ry="0.85" fill="#e0a880" fill-opacity="0.45" transform="rotate(80.01378820754091 45.18 31.56)"/>
<ellipse cx="18.96" cy="24.46" rx="0.59" ry="0.53" fill="#e0a880" fill-opacity="0.45" transform="rotate(127.35506260528669 18.96 24.46)"/>
<ellipse cx="44.19" cy="9.86" rx="0.79" ry="0.65" fill="#e0a880" fill-opacity="0.45" transform="rotate(107.70429088340634 44.19 9.86)"/>
<ellipse cx="21.64" cy="2.33" rx="0.96" ry="0.93" fill="#e0a880" fill-opacity="0.45" transform="rotate(28.657879853261075 21.64 2.33)"/>
<ellipse cx="45.81" cy="23.45" rx="0.50" ry="0.43" fill="#e0a880" fill-opacity="0.45" transform="rotate(54.04421998502298 45.81 23.45)"/>
<ellipse cx="19.90" cy="5.81" rx="0.92" ry="0.79" fill="#e0a880" fill-opacity="0.45" transform="rotate(41.760514110847694 19.90 5.81)"/>
<ellipse cx="29.30" cy="17.21" rx="0.99" ry="0.68" fill="#e0a880" fill-opacity="0.45" transform="rotate(123.14690032122321 29.30 17.21)"/>
<ellipse cx="40.32" cy="33.99" rx="0.63" ry="0.60" fill="#e0a880" fill-opacity="0.45" transform="rotate(32.06816516523854 40.32 33.99)"/>
<ellipse cx="9.20" cy="24.23" rx="0.95" ry="0.73" fill="#e0a880" fill-opacity="0.45" transform="rotate(31.780720545617577 9.20 24.23)"/>
<ellipse cx="6.75" cy="16.83" rx="0.93" ry="0.80" fill="#e0a880" fill-opacity="0.45" transform="rotate(86.99593793401823 6.75 16.83)"/>
<ellipse cx="27.23" cy="9.50" rx="0.62" ry="0.43" fill="#e0a880" fill-opacity="0.45" transform="rotate(132.0261358701583 27.23 9.50)"/>
<ellipse cx="33.38" cy="3.87" rx="0.78" ry="0.77" fill="#e0a880" fill-opacity="0.45" transform="rotate(13.149295929926254 33.38 3.87)"/>
<ellipse cx="9.70" cy="36.87" rx="0.76" ry="0.73" fill="#e0a880" fill-opacity="0.45" transform="rotate(150.22012843235953 9.70 36.87)"/>
<ellipse cx="24.54" cy="37.66" rx="0.63" ry="0.46" fill="#e0a880" fill-opacity="0.45" transform="rotate(40.55917903288126 24.54 37.66)"/>
<ellipse cx="38.21" cy="5.72" rx="0.72" ry="0.66" fill="#e0a880" fill-opacity="0.45" transform="rotate(128.89105154956357 38.21 5.72)"/>
<ellipse cx="17.09" cy="7.62" rx="0.91" ry="0.86" fill="#e0a880" fill-opacity="0.45" transform="rotate(115.24252771523501 17.09 7.62)"/>
<ellipse cx="30.57" cy="5.73" rx="0.67" ry="0.48" fill="#e0a880" fill-opacity="0.45" transform="rotate(90.26254175887968 30.57 5.73)"/>
<ellipse cx="15.43" cy="23.99" rx="0.73" ry="0.72" fill="#e0a880" fill-opacity="0.45" transform="rotate(46.64892199470709 15.43 23.99)"/>
<ellipse cx="3.84" cy="7.07" rx="0.60" ry="0.52" fill="#e0a880" fill-opacity="0.45" transform="rotate(99.53894354028562 3.84 7.07)"/>
</g>
</g>
<rect x="101.2" y="375.6" width="87.3" height="63.9" fill="#000" filter="url(#noiseB)" opacity="0.12"/>
<rect x="101.2" y="375.6" width="87.3" height="63.9" fill="#000" filter="url(#net)" opacity="0.18"/>
<rect x="101.2" y="375.6" width="87.3" height="63.9" fill="#000" filter="url(#hl)" opacity="0.32"/>
<rect x="101.2" y="375.6" width="87.3" height="63.9" fill="#000" filter="url(#nucP)" opacity="0.32"/>
<g transform="translate(101.2,375.6)" filter="url(#sblur)">
<path d="M54.5,42.5 L57.5,41.2 L56.2,44.2 Z" fill="#000"/>
</g>
</g>
<rect x="101.20" y="375.60" width="55.00" height="40.00" fill="none" stroke="#333" stroke-width="0.7"/>
<rect x="101.20" y="375.60" width="87.30" height="63.90" fill="none" stroke="#7a7a7a" stroke-width="0.9"/>
<text x="170.20" y="436.00" font-size="6.7" font-weight="bold" fill="#1a1a1a" textLength="17.0" lengthAdjust="spacingAndGlyphs">20 µm</text>
<line x1="180.20" y1="437.60" x2="187.00" y2="437.60" stroke="#1a1a1a" stroke-width="0.9"/>
<clipPath id="clip11"><rect x="13.2" y="441.5" width="86.6" height="64.9"/></clipPath>
<g clip-path="url(#clip11)">
<g transform="translate(13.2,441.5)">
<g filter="url(#gblur)">
<rect x="-4.00" y="-4.00" width="15.12" height="15.12" fill="#eceaf6" fill-opacity="1.0"/>
<rect x="10.82" y="-4.00" width="11.12" height="15.12" fill="#e0dcf0" fill-opacity="1.0"/>
<rect x="21.65" y="-4.00" width="11.12" height="15.12" fill="#d4cce4" fill-opacity="1.0"/>
<rect x="32.47" y="-4.00" width="11.12" height="15.12" fill="#eeedf7" fill-opacity="1.0"/>
<rect x="43.30" y="-4.00" width="11.12" height="15.12" fill="#eeedf7" fill-opacity="1.0"/>
<rect x="54.12" y="-4.00" width="11.12" height="15.12" fill="#f9f9fc" fill-opacity="1.0"/>
<rect x="64.95" y="-4.00" width="11.12" height="15.12" fill="#f9f9fc" fill-opacity="1.0"/>
<rect x="75.77" y="-4.00" width="15.12" height="15.12" fill="#f6f6fb" fill-opacity="1.0"/>
<rect x="-4.00" y="10.82" width="15.12" height="11.12" fill="#e0dcf0" fill-opacity="1.0"/>
<rect x="10.82" y="10.82" width="11.12" height="11.12" fill="#e4e2f4" fill-opacity="1.0"/>
<rect x="21.65" y="10.82" width="11.12" height="11.12" fill="#e8e6f4" fill-opacity="1.0"/>
<rect x="32.47" y="10.82" width="11.12" height="11.12" fill="#e2def0" fill-opacity="1.0"/>
<rect x="43.30" y="10.82" width="11.12" height="11.12" fill="#eae8f4" fill-opacity="1.0"/>
<rect x="54.12" y="10.82" width="11.12" height="11.12" fill="#f9f9fc" fill-opacity="1.0"/>
<rect x="64.95" y="10.82" width="11.12" height="11.12" fill="#f9f9fc" fill-opacity="1.0"/>
<rect x="75.77" y="10.82" width="15.12" height="11.12" fill="#f9f9fc" fill-opacity="1.0"/>
<rect x="-4.00" y="21.63" width="15.12" height="11.12" fill="#e6e3f2" fill-opacity="1.0"/>
<rect x="10.82" y="21.63" width="11.12" height="11.12" fill="#dcd8ee" fill-opacity="1.0"/>
<rect x="21.65" y="21.63" width="11.12" height="11.12" fill="#dcd8ec" fill-opacity="1.0"/>
<rect x="32.47" y="21.63" width="11.12" height="11.12" fill="#e2dcec" fill-opacity="1.0"/>
<rect x="43.30" y="21.63" width="11.12" height="11.12" fill="#ebe4ee" fill-opacity="1.0"/>
<rect x="54.12" y="21.63" width="11.12" height="11.12" fill="#f6f6fb" fill-opacity="1.0"/>
<rect x="64.95" y="21.63" width="11.12" height="11.12" fill="#f6f6fb" fill-opacity="1.0"/>
<rect x="75.77" y="21.63" width="15.12" height="11.12" fill="#f4f4fa" fill-opacity="1.0"/>
<rect x="-4.00" y="32.45" width="15.12" height="11.12" fill="#e0dcf0" fill-opacity="1.0"/>
<rect x="10.82" y="32.45" width="11.12" height="11.12" fill="#e6e3f2" fill-opacity="1.0"/>
<rect x="21.65" y="32.45" width="11.12" height="11.12" fill="#e4e0f0" fill-opacity="1.0"/>
<rect x="32.47" y="32.45" width="11.12" height="11.12" fill="#e8e4f0" fill-opacity="1.0"/>
<rect x="43.30" y="32.45" width="11.12" height="11.12" fill="#ece6ee" fill-opacity="1.0"/>
<rect x="54.12" y="32.45" width="11.12" height="11.12" fill="#e0dcf0" fill-opacity="1.0"/>
<rect x="64.95" y="32.45" width="11.12" height="11.12" fill="#e6e4f4" fill-opacity="1.0"/>
<rect x="75.77" y="32.45" width="15.12" height="11.12" fill="#dedaf0" fill-opacity="1.0"/>
<rect x="-4.00" y="43.27" width="15.12" height="11.12" fill="#f9f9fc" fill-opacity="1.0"/>
<rect x="10.82" y="43.27" width="11.12" height="11.12" fill="#f6f6fb" fill-opacity="1.0"/>
<rect x="21.65" y="43.27" width="11.12" height="11.12" fill="#f4f4fa" fill-opacity="1.0"/>
<rect x="32.47" y="43.27" width="11.12" height="11.12" fill="#eceaf6" fill-opacity="1.0"/>
<rect x="43.30" y="43.27" width="11.12" height="11.12" fill="#e4e2f4" fill-opacity="1.0"/>
<rect x="54.12" y="43.27" width="11.12" height="11.12" fill="#eceaf6" fill-opacity="1.0"/>
<rect x="64.95" y="43.27" width="11.12" height="11.12" fill="#f4f4fa" fill-opacity="1.0"/>
<rect x="75.77" y="43.27" width="15.12" height="11.12" fill="#eceaf6" fill-opacity="1.0"/>
<rect x="-4.00" y="54.08" width="15.12" height="15.12" fill="#f6f6fb" fill-opacity="1.0"/>
<rect x="10.82" y="54.08" width="11.12" height="15.12" fill="#f8f8fc" fill-opacity="1.0"/>
<rect x="21.65" y="54.08" width="11.12" height="15.12" fill="#f9f9fc" fill-opacity="1.0"/>
<rect x="32.47" y="54.08" width="11.12" height="15.12" fill="#f6f6fb" fill-opacity="1.0"/>
<rect x="43.30" y="54.08" width="11.12" height="15.12" fill="#eceaf6" fill-opacity="1.0"/>
<rect x="54.12" y="54.08" width="11.12" height="15.12" fill="#f2f2f8" fill-opacity="1.0"/>
<rect x="64.95" y="54.08" width="11.12" height="15.12" fill="#f4f4fa" fill-opacity="1.0"/>
<rect x="75.77" y="54.08" width="15.12" height="15.12" fill="#f2f2f8" fill-opacity="1.0"/>
</g>
<g filter="url(#sblur)">
<path d="M0.00,5.00 C1.33,6.00 5.50,8.67 8.00,11.00 C10.50,13.33 12.67,16.00 15.00,19.00 C17.33,22.00 19.83,25.83 22.00,29.00 C24.17,32.17 27.00,36.50 28.00,38.00" fill="none" stroke="#c0bce4" stroke-width="1.6" stroke-opacity="1.0" stroke-linecap="round" stroke-linejoin="round"/>
<path d="M2.00,17.00 C3.17,18.17 7.00,21.50 9.00,24.00 C11.00,26.50 12.50,29.33 14.00,32.00 C15.50,34.67 17.33,38.67 18.00,40.00" fill="none" stroke="#c4c0e6" stroke-width="1.3" stroke-opacity="1.0" stroke-linecap="round" stroke-linejoin="round"/>
<path d="M0.00,28.00 C1.00,28.67 4.33,30.33 6.00,32.00 C7.67,33.67 9.33,37.00 10.00,38.00" fill="none" stroke="#c4c0e6" stroke-width="1.3" stroke-opacity="1.0" stroke-linecap="round" stroke-linejoin="round"/>
<path d="M10.00,2.00 C11.67,2.83 16.67,5.17 20.00,7.00 C23.33,8.83 26.67,10.67 30.00,13.00 C33.33,15.33 36.33,18.33 40.00,21.00 C43.67,23.67 50.00,27.67 52.00,29.00" fill="none" stroke="#c8c4e6" stroke-width="1.1" stroke-opacity="1.0" stroke-linecap="round" stroke-linejoin="round"/>
<ellipse cx="24.00" cy="5.00" rx="4.50" ry="2.50" fill="#a090c0" fill-opacity="0.7" transform="rotate(20 24.00 5.00)"/>
<path d="M38.00,20.00 C40.00,17.00 49.33,17.33 52.00,20.00 C54.67,22.67 56.00,33.00 54.00,36.00 C52.00,39.00 42.67,40.67 40.00,38.00 C37.33,35.33 36.00,23.00 38.00,20.00 Z" fill="#e8dde6" fill-opacity="1.0"/>
<ellipse cx="37.00" cy="23.00" rx="2.00" ry="2.00" fill="#8c84c4" fill-opacity="0.7" transform="rotate(0 37.00 23.00)"/>
<ellipse cx="29.00" cy="27.00" rx="1.60" ry="3.00" fill="#9084b4" fill-opacity="0.7" transform="rotate(0 29.00 27.00)"/>
<path d="M57.00,29.00 C58.50,29.33 62.83,30.17 66.00,31.00 C69.17,31.83 72.17,33.00 76.00,34.00 C79.83,35.00 86.83,36.50 89.00,37.00" fill="none" stroke="#ccc8ea" stroke-width="2.6" stroke-opacity="1.0" stroke-linecap="round" stroke-linejoin="round"/>
<ellipse cx="62.00" cy="30.00" rx="3.00" ry="2.00" fill="#a8a0d8" fill-opacity="0.8" transform="rotate(0 62.00 30.00)"/>
<path d="M38.00,42.00 C39.67,42.17 44.67,42.67 48.00,43.00 C51.33,43.33 56.33,43.83 58.00,44.00" fill="none" stroke="#d0cce8" stroke-width="1.6" stroke-opacity="1.0" stroke-linecap="round" stroke-linejoin="round"/>
<path d="M55.00,41.00 C55.17,42.83 55.67,47.83 56.00,52.00 C56.33,56.17 56.83,63.67 57.00,66.00" fill="none" stroke="#c8c4e6" stroke-width="1.0" stroke-opacity="1.0" stroke-linecap="round" stroke-linejoin="round"/>
<path d="M56.00,0.00 C56.33,2.00 57.33,8.00 58.00,12.00 C58.67,16.00 59.67,22.00 60.00,24.00" fill="none" stroke="#a8a4d8" stroke-width="0.5" stroke-opacity="1.0" stroke-linecap="round" stroke-linejoin="round"/>
<path d="M60.00,24.00 C62.00,23.33 67.33,21.00 72.00,20.00 C76.67,19.00 85.33,18.33 88.00,18.00" fill="none" stroke="#a8a4d8" stroke-width="0.5" stroke-opacity="1.0" stroke-linecap="round" stroke-linejoin="round"/>
<path d="M62.00,50.00 C63.00,49.33 66.00,46.00 68.00,46.00 C70.00,46.00 73.33,48.33 74.00,50.00 C74.67,51.67 73.50,55.00 72.00,56.00 C70.50,57.00 66.67,57.00 65.00,56.00 C63.33,55.00 62.50,51.00 62.00,50.00" fill="none" stroke="#a8a4d8" stroke-width="0.6" stroke-opacity="1.0" stroke-linecap="round" stroke-linejoin="round"/>
<path d="M76.00,42.00 C77.00,43.33 80.00,48.33 82.00,50.00 C84.00,51.67 87.00,51.67 88.00,52.00" fill="none" stroke="#a8a4d8" stroke-width="0.6" stroke-opacity="1.0" stroke-linecap="round" stroke-linejoin="round"/>
<path d="M4.00,56.00 L6.00,60.00" fill="none" stroke="#a898c8" stroke-width="1.0" stroke-opacity="1.0" stroke-linecap="round" stroke-linejoin="round"/>
</g>
</g>
</g>
<rect x="13.20" y="441.50" width="55.00" height="40.00" fill="none" stroke="#333" stroke-width="0.7"/>
<rect x="13.20" y="441.50" width="86.60" height="64.90" fill="none" stroke="#7a7a7a" stroke-width="0.9"/>
<text x="81.50" y="502.90" font-size="6.7" font-weight="bold" fill="#1a1a1a" textLength="17.0" lengthAdjust="spacingAndGlyphs">20 µm</text>
<line x1="91.50" y1="504.50" x2="98.30" y2="504.50" stroke="#1a1a1a" stroke-width="0.9"/>
<clipPath id="clip12"><rect x="101.2" y="441.5" width="87.3" height="64.9"/></clipPath>
<g clip-path="url(#clip12)">
<g transform="translate(101.2,441.5)">
<g filter="url(#gblur)">
<rect x="-4.00" y="-4.00" width="15.21" height="15.12" fill="#c06436" fill-opacity="1.0"/>
<rect x="10.91" y="-4.00" width="11.21" height="15.12" fill="#c05b24" fill-opacity="1.0"/>
<rect x="21.82" y="-4.00" width="11.21" height="15.12" fill="#c06436" fill-opacity="1.0"/>
<rect x="32.74" y="-4.00" width="11.21" height="15.12" fill="#b85c25" fill-opacity="1.0"/>
<rect x="43.65" y="-4.00" width="11.21" height="15.12" fill="#c06d3f" fill-opacity="1.0"/>
<rect x="54.56" y="-4.00" width="11.21" height="15.12" fill="#c48153" fill-opacity="1.0"/>
<rect x="65.47" y="-4.00" width="11.21" height="15.12" fill="#c8a3ac" fill-opacity="1.0"/>
<rect x="76.39" y="-4.00" width="15.21" height="15.12" fill="#c8b8d0" fill-opacity="1.0"/>
<rect x="-4.00" y="10.82" width="15.21" height="11.12" fill="#b85c25" fill-opacity="1.0"/>
<rect x="10.91" y="10.82" width="11.21" height="11.12" fill="#b8531c" fill-opacity="1.0"/>
<rect x="21.82" y="10.82" width="11.21" height="11.12" fill="#c06436" fill-opacity="1.0"/>
<rect x="32.74" y="10.82" width="11.21" height="11.12" fill="#c06436" fill-opacity="1.0"/>
<rect x="43.65" y="10.82" width="11.21" height="11.12" fill="#b85c25" fill-opacity="1.0"/>
<rect x="54.56" y="10.82" width="11.21" height="11.12" fill="#c48153" fill-opacity="1.0"/>
<rect x="65.47" y="10.82" width="11.21" height="11.12" fill="#c48153" fill-opacity="1.0"/>
<rect x="76.39" y="10.82" width="15.21" height="11.12" fill="#c8a3a3" fill-opacity="1.0"/>
<rect x="-4.00" y="21.63" width="15.21" height="11.12" fill="#c06436" fill-opacity="1.0"/>
<rect x="10.91" y="21.63" width="11.21" height="11.12" fill="#b85c25" fill-opacity="1.0"/>
<rect x="21.82" y="21.63" width="11.21" height="11.12" fill="#b85c25" fill-opacity="1.0"/>
<rect x="32.74" y="21.63" width="11.21" height="11.12" fill="#c06436" fill-opacity="1.0"/>
<rect x="43.65" y="21.63" width="11.21" height="11.12" fill="#b85c25" fill-opacity="1.0"/>
<rect x="54.56" y="21.63" width="11.21" height="11.12" fill="#c48153" fill-opacity="1.0"/>
<rect x="65.47" y="21.63" width="11.21" height="11.12" fill="#c48153" fill-opacity="1.0"/>
<rect x="76.39" y="21.63" width="15.21" height="11.12" fill="#c48153" fill-opacity="1.0"/>
<rect x="-4.00" y="32.45" width="15.21" height="11.12" fill="#c06d3f" fill-opacity="1.0"/>
<rect x="10.91" y="32.45" width="11.21" height="11.12" fill="#c0763f" fill-opacity="1.0"/>
<rect x="21.82" y="32.45" width="11.21" height="11.12" fill="#b85c25" fill-opacity="1.0"/>
<rect x="32.74" y="32.45" width="11.21" height="11.12" fill="#c06436" fill-opacity="1.0"/>
<rect x="43.65" y="32.45" width="11.21" height="11.12" fill="#b85c25" fill-opacity="1.0"/>
<rect x="54.56" y="32.45" width="11.21" height="11.12" fill="#c48153" fill-opacity="1.0"/>
<rect x="65.47" y="32.45" width="11.21" height="11.12" fill="#c48153" fill-opacity="1.0"/>
<rect x="76.39" y="32.45" width="15.21" height="11.12" fill="#c48153" fill-opacity="1.0"/>
<rect x="-4.00" y="43.27" width="15.21" height="11.12" fill="#c48153" fill-opacity="1.0"/>
<rect x="10.91" y="43.27" width="11.21" height="11.12" fill="#c8a3ac" fill-opacity="1.0"/>
<rect x="21.82" y="43.27" width="11.21" height="11.12" fill="#c48153" fill-opacity="1.0"/>
<rect x="32.74" y="43.27" width="11.21" height="11.12" fill="#c48153" fill-opacity="1.0"/>
<rect x="43.65" y="43.27" width="11.21" height="11.12" fill="#c48153" fill-opacity="1.0"/>
<rect x="54.56" y="43.27" width="11.21" height="11.12" fill="#c48153" fill-opacity="1.0"/>
<rect x="65.47" y="43.27" width="11.21" height="11.12" fill="#c48153" fill-opacity="1.0"/>
<rect x="76.39" y="43.27" width="15.21" height="11.12" fill="#c48153" fill-opacity="1.0"/>
<rect x="-4.00" y="54.08" width="15.21" height="15.12" fill="#c07d52" fill-opacity="1.0"/>
<rect x="10.91" y="54.08" width="11.21" height="15.12" fill="#c8a3ac" fill-opacity="1.0"/>
<rect x="21.82" y="54.08" width="11.21" height="15.12" fill="#c48153" fill-opacity="1.0"/>
<rect x="32.74" y="54.08" width="11.21" height="15.12" fill="#c48153" fill-opacity="1.0"/>
<rect x="43.65" y="54.08" width="11.21" height="15.12" fill="#c48153" fill-opacity="1.0"/>
<rect x="54.56" y="54.08" width="11.21" height="15.12" fill="#c48153" fill-opacity="1.0"/>
<rect x="65.47" y="54.08" width="11.21" height="15.12" fill="#c8915e" fill-opacity="1.0"/>
<rect x="76.39" y="54.08" width="15.21" height="15.12" fill="#c48153" fill-opacity="1.0"/>
</g>
<g filter="url(#sblur)">
<path d="M70.00,-2.00 C71.33,-1.00 74.67,2.00 78.00,4.00 C81.33,6.00 88.00,9.00 90.00,10.00" fill="none" stroke="#c8c0dc" stroke-width="5" stroke-opacity="0.7" stroke-linecap="round" stroke-linejoin="round"/>
<path d="M8.00,42.00 C8.67,43.67 10.67,48.00 12.00,52.00 C13.33,56.00 15.33,63.67 16.00,66.00" fill="none" stroke="#c8c0dc" stroke-width="4" stroke-opacity="0.6" stroke-linecap="round" stroke-linejoin="round"/>
<ellipse cx="74.00" cy="49.00" rx="2.00" ry="3.00" fill="#d4cce8" fill-opacity="0.8" transform="rotate(0 74.00 49.00)"/>
<ellipse cx="6.00" cy="18.00" rx="3.50" ry="3.50" fill="#8c5040" fill-opacity="0.4" transform="rotate(0 6.00 18.00)"/>
<ellipse cx="18.00" cy="28.00" rx="4.00" ry="4.00" fill="#8c5040" fill-opacity="0.4" transform="rotate(0 18.00 28.00)"/>
<ellipse cx="36.00" cy="30.00" rx="4.00" ry="4.00" fill="#8c5040" fill-opacity="0.4" transform="rotate(0 36.00 30.00)"/>
<ellipse cx="48.00" cy="24.00" rx="3.50" ry="3.50" fill="#8c5040" fill-opacity="0.4" transform="rotate(0 48.00 24.00)"/>
<ellipse cx="48.00" cy="35.00" rx="3.50" ry="3.50" fill="#8c5040" fill-opacity="0.4" transform="rotate(0 48.00 35.00)"/>
<ellipse cx="32.22" cy="9.40" rx="0.98" ry="0.95" fill="#e0a880" fill-opacity="0.45" transform="rotate(84.08496207545531 32.22 9.40)"/>
<ellipse cx="36.50" cy="10.15" rx="0.61" ry="0.44" fill="#e0a880" fill-opacity="0.45" transform="rotate(124.63609427915715 36.50 10.15)"/>
<ellipse cx="13.04" cy="38.90" rx="0.54" ry="0.36" fill="#e0a880" fill-opacity="0.45" transform="rotate(15.995442570284851 13.04 38.90)"/>
<ellipse cx="42.03" cy="15.93" rx="0.74" ry="0.54" fill="#e0a880" fill-opacity="0.45" transform="rotate(114.73684536229891 42.03 15.93)"/>
<ellipse cx="23.00" cy="9.91" rx="0.72" ry="0.52" fill="#e0a880" fill-opacity="0.45" transform="rotate(19.943846295848516 23.00 9.91)"/>
<ellipse cx="44.82" cy="27.85" rx="0.83" ry="0.79" fill="#e0a880" fill-opacity="0.45" transform="rotate(71.03572786461775 44.82 27.85)"/>
<ellipse cx="21.72" cy="18.07" rx="0.70" ry="0.61" fill="#e0a880" fill-opacity="0.45" transform="rotate(1.1733482549277863 21.72 18.07)"/>
<ellipse cx="26.13" cy="22.33" rx="0.67" ry="0.41" fill="#e0a880" fill-opacity="0.45" transform="rotate(126.82717550344947 26.13 22.33)"/>
<ellipse cx="2.49" cy="23.45" rx="0.58" ry="0.35" fill="#e0a880" fill-opacity="0.45" transform="rotate(32.55155049259881 2.49 23.45)"/>
<ellipse cx="5.42" cy="7.73" rx="0.84" ry="0.75" fill="#e0a880" fill-opacity="0.45" transform="rotate(65.30118660148129 5.42 7.73)"/>
<ellipse cx="35.92" cy="20.06" rx="0.75" ry="0.71" fill="#e0a880" fill-opacity="0.45" transform="rotate(56.03294205877394 35.92 20.06)"/>
<ellipse cx="47.24" cy="28.26" rx="0.84" ry="0.51" fill="#e0a880" fill-opacity="0.45" transform="rotate(15.131041198005752 47.24 28.26)"/>
<ellipse cx="3.66" cy="15.14" rx="0.97" ry="0.92" fill="#e0a880" fill-opacity="0.45" transform="rotate(150.94361474439683 3.66 15.14)"/>
<ellipse cx="8.18" cy="28.82" rx="0.89" ry="0.82" fill="#e0a880" fill-opacity="0.45" transform="rotate(142.60215099727074 8.18 28.82)"/>
<ellipse cx="9.30" cy="8.80" rx="0.90" ry="0.80" fill="#e0a880" fill-opacity="0.45" transform="rotate(160.64089431256372 9.30 8.80)"/>
<ellipse cx="25.22" cy="35.80" rx="0.57" ry="0.56" fill="#e0a880" fill-opacity="0.45" transform="rotate(159.20549911371293 25.22 35.80)"/>
<ellipse cx="19.55" cy="4.57" rx="0.77" ry="0.68" fill="#e0a880" fill-opacity="0.45" transform="rotate(63.06743028270235 19.55 4.57)"/>
<ellipse cx="4.99" cy="12.59" rx="0.91" ry="0.58" fill="#e0a880" fill-opacity="0.45" transform="rotate(168.70670801198472 4.99 12.59)"/>
<ellipse cx="15.00" cy="9.77" rx="0.56" ry="0.55" fill="#e0a880" fill-opacity="0.45" transform="rotate(162.18906724959007 15.00 9.77)"/>
<ellipse cx="18.60" cy="5.63" rx="0.83" ry="0.79" fill="#e0a880" fill-opacity="0.45" transform="rotate(2.1800150166899646 18.60 5.63)"/>
<ellipse cx="34.92" cy="34.56" rx="0.73" ry="0.60" fill="#e0a880" fill-opacity="0.45" transform="rotate(144.7683575791541 34.92 34.56)"/>
<ellipse cx="14.40" cy="12.38" rx="0.83" ry="0.68" fill="#e0a880" fill-opacity="0.45" transform="rotate(96.36251804802767 14.40 12.38)"/>
<ellipse cx="19.39" cy="37.61" rx="0.64" ry="0.56" fill="#e0a880" fill-opacity="0.45" transform="rotate(160.94882110195925 19.39 37.61)"/>
<ellipse cx="22.84" cy="4.06" rx="0.61" ry="0.38" fill="#e0a880" fill-opacity="0.45" transform="rotate(26.662706134368264 22.84 4.06)"/>
<ellipse cx="8.26" cy="15.01" rx="0.68" ry="0.53" fill="#e0a880" fill-opacity="0.45" transform="rotate(119.71691009724276 8.26 15.01)"/>
<ellipse cx="37.19" cy="28.12" rx="0.68" ry="0.59" fill="#e0a880" fill-opacity="0.45" transform="rotate(98.9649955749984 37.19 28.12)"/>
<ellipse cx="8.63" cy="22.74" rx="0.66" ry="0.57" fill="#e0a880" fill-opacity="0.45" transform="rotate(132.2594438940389 8.63 22.74)"/>
<ellipse cx="14.52" cy="18.53" rx="0.73" ry="0.52" fill="#e0a880" fill-opacity="0.45" transform="rotate(7.291053118511453 14.52 18.53)"/>
<ellipse cx="4.58" cy="39.73" rx="0.87" ry="0.67" fill="#e0a880" fill-opacity="0.45" transform="rotate(119.99964288840026 4.58 39.73)"/>
<ellipse cx="15.99" cy="28.99" rx="0.98" ry="0.89" fill="#e0a880" fill-opacity="0.45" transform="rotate(83.72866537763333 15.99 28.99)"/>
</g>
</g>
<rect x="101.2" y="441.5" width="87.3" height="64.9" fill="#000" filter="url(#noiseB)" opacity="0.12"/>
<rect x="101.2" y="441.5" width="87.3" height="64.9" fill="#000" filter="url(#net)" opacity="0.18"/>
<rect x="101.2" y="441.5" width="87.3" height="64.9" fill="#000" filter="url(#hl)" opacity="0.32"/>
<rect x="101.2" y="441.5" width="87.3" height="64.9" fill="#000" filter="url(#nucP)" opacity="0.32"/>
</g>
<rect x="101.20" y="441.50" width="55.00" height="40.00" fill="none" stroke="#333" stroke-width="0.7"/>
<rect x="101.20" y="441.50" width="87.30" height="64.90" fill="none" stroke="#7a7a7a" stroke-width="0.9"/>
<text x="170.20" y="502.90" font-size="6.7" font-weight="bold" fill="#1a1a1a" textLength="17.0" lengthAdjust="spacingAndGlyphs">20 µm</text>
<line x1="180.20" y1="504.50" x2="187.00" y2="504.50" stroke="#1a1a1a" stroke-width="0.9"/>
<text x="194.60" y="189.65" font-size="9.45" text-anchor="middle" fill="#111">Advanced CRC</text>
<text x="58.60" y="200.90" font-size="8.15" text-anchor="middle" fill="#111">Primary tumor</text>
<text x="141.30" y="200.90" font-size="8.15" text-anchor="middle" fill="#111">Recurred. lung meta</text>
<text x="241.60" y="200.90" font-size="8.15" text-anchor="middle" fill="#111">Primary tumor</text>
<text x="329.60" y="200.90" font-size="8.15" text-anchor="middle" fill="#111">Recurred. liver meta</text>
<text x="8.20" y="237.10" font-size="8.15" text-anchor="middle" fill="#111" transform="rotate(-90 8.20 234.30)">P01</text>
<text x="8.20" y="303.10" font-size="8.15" text-anchor="middle" fill="#111" transform="rotate(-90 8.20 300.30)">P02</text>
<text x="191.80" y="237.10" font-size="8.15" text-anchor="middle" fill="#111" transform="rotate(-90 191.80 234.30)">P03</text>
<text x="191.80" y="303.10" font-size="8.15" text-anchor="middle" fill="#111" transform="rotate(-90 191.80 300.30)">P04</text>
<text x="102.60" y="364.23" font-size="9.4" text-anchor="middle" fill="#111">BRCA-TNBC</text>
<text x="58.70" y="373.20" font-size="8.15" text-anchor="middle" fill="#111">Adjacent normal</text>
<text x="145.40" y="373.20" font-size="8.15" text-anchor="middle" fill="#111">Tumor</text>
<text x="8.20" y="410.30" font-size="8.15" text-anchor="middle" fill="#111" transform="rotate(-90 8.20 407.50)">P01</text>
<text x="8.20" y="476.80" font-size="8.15" text-anchor="middle" fill="#111" transform="rotate(-90 8.20 474.00)">P02</text>
<line x1="406.80" y1="215.40" x2="406.80" y2="307.80" stroke="#222" stroke-width="0.8"/>
<line x1="402.30" y1="307.80" x2="406.80" y2="307.80" stroke="#222" stroke-width="0.8"/>
<line x1="402.30" y1="277.03" x2="406.80" y2="277.03" stroke="#222" stroke-width="0.8"/>
<line x1="402.30" y1="246.26" x2="406.80" y2="246.26" stroke="#222" stroke-width="0.8"/>
<line x1="402.30" y1="215.49" x2="406.80" y2="215.49" stroke="#222" stroke-width="0.8"/>
<text x="400.60" y="248.29" font-size="5.9" text-anchor="end" fill="#222">200</text>
<text x="400.60" y="309.83" font-size="5.9" text-anchor="end" fill="#222">0</text>
<text x="382.70" y="262.22" font-size="8.2" text-anchor="middle" fill="#111" transform="rotate(-90 382.70 259.40)">Surface ENO1 (H-score)</text>
<rect x="413.20" y="261.90" width="12.80" height="45.90" fill="#6e6e6e" stroke="#333" stroke-width="0.7"/>
<rect x="433.00" y="279.50" width="12.70" height="28.30" fill="#f27a7a" stroke="#333" stroke-width="0.7"/>
<line x1="402.30" y1="307.80" x2="453.00" y2="307.80" stroke="#777" stroke-width="1.3"/>
<line x1="419.60" y1="307.80" x2="419.60" y2="312.30" stroke="#222" stroke-width="0.8"/>
<line x1="439.40" y1="307.80" x2="439.40" y2="312.30" stroke="#222" stroke-width="0.8"/>
<line x1="419.60" y1="261.90" x2="419.60" y2="256.00" stroke="#222" stroke-width="0.6"/>
<line x1="417.60" y1="256.00" x2="421.60" y2="256.00" stroke="#222" stroke-width="0.6"/>
<line x1="439.40" y1="279.50" x2="439.40" y2="272.80" stroke="#222" stroke-width="0.6"/>
<line x1="437.40" y1="272.80" x2="441.40" y2="272.80" stroke="#222" stroke-width="0.6"/>
<circle cx="422.70" cy="233.60" r="1.55" fill="#fff" stroke="#222" stroke-width="0.6"/>
<circle cx="420.50" cy="236.70" r="1.55" fill="#fff" stroke="#222" stroke-width="0.6"/>
<circle cx="423.00" cy="236.70" r="1.55" fill="#fff" stroke="#222" stroke-width="0.6"/>
<circle cx="417.90" cy="239.60" r="1.55" fill="#fff" stroke="#222" stroke-width="0.6"/>
<circle cx="420.50" cy="239.60" r="1.55" fill="#fff" stroke="#222" stroke-width="0.6"/>
<circle cx="423.00" cy="239.60" r="1.55" fill="#fff" stroke="#222" stroke-width="0.6"/>
<circle cx="415.00" cy="242.70" r="1.55" fill="#fff" stroke="#222" stroke-width="0.6"/>
<circle cx="417.50" cy="242.70" r="1.55" fill="#fff" stroke="#222" stroke-width="0.6"/>
<circle cx="420.10" cy="242.70" r="1.55" fill="#fff" stroke="#222" stroke-width="0.6"/>
<circle cx="422.70" cy="242.70" r="1.55" fill="#fff" stroke="#222" stroke-width="0.6"/>
<circle cx="425.30" cy="242.70" r="1.55" fill="#fff" stroke="#222" stroke-width="0.6"/>
<circle cx="416.30" cy="245.60" r="1.55" fill="#fff" stroke="#222" stroke-width="0.6"/>
<circle cx="418.90" cy="245.60" r="1.55" fill="#fff" stroke="#222" stroke-width="0.6"/>
<circle cx="421.50" cy="245.60" r="1.55" fill="#fff" stroke="#222" stroke-width="0.6"/>
<circle cx="424.10" cy="245.60" r="1.55" fill="#fff" stroke="#222" stroke-width="0.6"/>
<circle cx="417.90" cy="249.00" r="1.55" fill="#fff" stroke="#222" stroke-width="0.6"/>
<circle cx="420.50" cy="249.00" r="1.55" fill="#fff" stroke="#222" stroke-width="0.6"/>
<circle cx="423.10" cy="249.00" r="1.55" fill="#fff" stroke="#222" stroke-width="0.6"/>
<circle cx="419.20" cy="252.50" r="1.55" fill="#fff" stroke="#222" stroke-width="0.6"/>
<circle cx="421.80" cy="252.50" r="1.55" fill="#fff" stroke="#222" stroke-width="0.6"/>
<circle cx="416.90" cy="255.90" r="1.55" fill="#fff" stroke="#222" stroke-width="0.6"/>
<circle cx="419.50" cy="255.90" r="1.55" fill="#fff" stroke="#222" stroke-width="0.6"/>
<circle cx="422.10" cy="255.90" r="1.55" fill="#fff" stroke="#222" stroke-width="0.6"/>
<circle cx="417.90" cy="258.80" r="1.55" fill="#fff" stroke="#222" stroke-width="0.6"/>
<circle cx="420.50" cy="258.80" r="1.55" fill="#fff" stroke="#222" stroke-width="0.6"/>
<circle cx="423.10" cy="258.80" r="1.55" fill="#fff" stroke="#222" stroke-width="0.6"/>
<circle cx="416.20" cy="261.60" r="1.55" fill="#fff" stroke="#222" stroke-width="0.6"/>
<circle cx="418.80" cy="261.60" r="1.55" fill="#fff" stroke="#222" stroke-width="0.6"/>
<circle cx="417.10" cy="267.10" r="1.55" fill="#fff" stroke="#222" stroke-width="0.6"/>
<circle cx="419.70" cy="267.10" r="1.55" fill="#fff" stroke="#222" stroke-width="0.6"/>
<circle cx="422.30" cy="267.10" r="1.55" fill="#fff" stroke="#222" stroke-width="0.6"/>
<circle cx="418.70" cy="270.50" r="1.55" fill="#fff" stroke="#222" stroke-width="0.6"/>
<circle cx="421.30" cy="270.50" r="1.55" fill="#fff" stroke="#222" stroke-width="0.6"/>
<circle cx="419.70" cy="283.40" r="1.55" fill="#fff" stroke="#222" stroke-width="0.6"/>
<circle cx="418.10" cy="291.20" r="1.55" fill="#fff" stroke="#222" stroke-width="0.6"/>
<circle cx="417.60" cy="293.50" r="1.55" fill="#fff" stroke="#222" stroke-width="0.6"/>
<circle cx="419.20" cy="295.40" r="1.55" fill="#fff" stroke="#222" stroke-width="0.6"/>
<circle cx="418.10" cy="298.90" r="1.55" fill="#fff" stroke="#222" stroke-width="0.6"/>
<circle cx="420.70" cy="298.90" r="1.55" fill="#fff" stroke="#222" stroke-width="0.6"/>
<circle cx="419.60" cy="308.30" r="1.55" fill="#fff" stroke="#222" stroke-width="0.6"/>
<rect x="438.70" y="238.60" width="3.00" height="3.00" fill="#fff" stroke="#222" stroke-width="0.6"/>
<rect x="437.00" y="241.50" width="3.00" height="3.00" fill="#fff" stroke="#222" stroke-width="0.6"/>
<rect x="437.00" y="247.50" width="3.00" height="3.00" fill="#fff" stroke="#222" stroke-width="0.6"/>
<rect x="434.90" y="250.60" width="3.00" height="3.00" fill="#fff" stroke="#222" stroke-width="0.6"/>
<rect x="437.50" y="250.60" width="3.00" height="3.00" fill="#fff" stroke="#222" stroke-width="0.6"/>
<rect x="440.10" y="250.60" width="3.00" height="3.00" fill="#fff" stroke="#222" stroke-width="0.6"/>
<rect x="437.90" y="260.10" width="3.00" height="3.00" fill="#fff" stroke="#222" stroke-width="0.6"/>
<rect x="434.90" y="266.10" width="3.00" height="3.00" fill="#fff" stroke="#222" stroke-width="0.6"/>
<rect x="437.90" y="266.10" width="3.00" height="3.00" fill="#fff" stroke="#222" stroke-width="0.6"/>
<rect x="435.80" y="269.00" width="3.00" height="3.00" fill="#fff" stroke="#222" stroke-width="0.6"/>
<rect x="438.40" y="269.00" width="3.00" height="3.00" fill="#fff" stroke="#222" stroke-width="0.6"/>
<rect x="438.70" y="273.30" width="3.00" height="3.00" fill="#fff" stroke="#222" stroke-width="0.6"/>
<rect x="437.90" y="281.90" width="3.00" height="3.00" fill="#fff" stroke="#222" stroke-width="0.6"/>
<rect x="438.70" y="287.90" width="3.00" height="3.00" fill="#fff" stroke="#222" stroke-width="0.6"/>
<rect x="437.00" y="290.90" width="3.00" height="3.00" fill="#fff" stroke="#222" stroke-width="0.6"/>
<rect x="438.70" y="293.90" width="3.00" height="3.00" fill="#fff" stroke="#222" stroke-width="0.6"/>
<rect x="437.00" y="297.40" width="3.00" height="3.00" fill="#fff" stroke="#222" stroke-width="0.6"/>
<rect x="433.50" y="306.80" width="3.00" height="3.00" fill="#fff" stroke="#222" stroke-width="0.6"/>
<rect x="436.10" y="306.80" width="3.00" height="3.00" fill="#fff" stroke="#222" stroke-width="0.6"/>
<rect x="438.70" y="306.80" width="3.00" height="3.00" fill="#fff" stroke="#222" stroke-width="0.6"/>
<rect x="441.30" y="306.80" width="3.00" height="3.00" fill="#fff" stroke="#222" stroke-width="0.6"/>
<path d="M418.60,218.00 L418.60,215.00 L437.80,215.00 L437.80,234.70" stroke="#222" stroke-width="0.6" fill="none"/>
<text x="429.2" y="210.8" font-size="6.5" text-anchor="middle" fill="#222"><tspan font-style="italic">p</tspan>=0.0076</text>
<text x="0" y="0" font-size="8.1" text-anchor="end" fill="#111" transform="translate(422.6,316.4) rotate(-59)">Early relapsed</text>
<text x="0" y="0" font-size="8.1" text-anchor="end" fill="#111" transform="translate(441.9,316.4) rotate(-59)">Late relapsed</text>
<line x1="486.00" y1="216.50" x2="486.00" y2="308.20" stroke="#222" stroke-width="0.8"/>
<line x1="481.50" y1="308.20" x2="486.00" y2="308.20" stroke="#222" stroke-width="0.8"/>
<line x1="481.50" y1="277.43" x2="486.00" y2="277.43" stroke="#222" stroke-width="0.8"/>
<line x1="481.50" y1="246.66" x2="486.00" y2="246.66" stroke="#222" stroke-width="0.8"/>
<line x1="481.50" y1="215.89" x2="486.00" y2="215.89" stroke="#222" stroke-width="0.8"/>
<text x="479.80" y="248.69" font-size="5.9" text-anchor="end" fill="#222">200</text>
<text x="479.80" y="310.23" font-size="5.9" text-anchor="end" fill="#222">0</text>
<text x="461.80" y="262.82" font-size="8.2" text-anchor="middle" fill="#111" transform="rotate(-90 461.80 260.00)">Surface ENO1 (H-score)</text>
<rect x="492.40" y="269.20" width="12.10" height="39.00" fill="#6e6e6e" stroke="#333" stroke-width="0.7"/>
<rect x="512.50" y="261.20" width="12.10" height="47.00" fill="#f27a7a" stroke="#333" stroke-width="0.7"/>
<line x1="500.80" y1="252.78" x2="516.30" y2="273.78" stroke="#9c9c9c" stroke-width="0.38"/>
<line x1="500.80" y1="290.44" x2="516.30" y2="300.86" stroke="#9c9c9c" stroke-width="0.38"/>
<line x1="500.80" y1="265.85" x2="516.30" y2="282.53" stroke="#9c9c9c" stroke-width="0.38"/>
<line x1="500.80" y1="255.63" x2="516.30" y2="281.75" stroke="#9c9c9c" stroke-width="0.38"/>
<line x1="500.80" y1="300.00" x2="516.30" y2="245.01" stroke="#9c9c9c" stroke-width="0.38"/>
<line x1="500.80" y1="300.34" x2="516.30" y2="286.27" stroke="#9c9c9c" stroke-width="0.38"/>
<line x1="500.80" y1="260.10" x2="516.30" y2="217.12" stroke="#9c9c9c" stroke-width="0.38"/>
<line x1="500.80" y1="234.38" x2="516.30" y2="266.18" stroke="#9c9c9c" stroke-width="0.38"/>
<line x1="500.80" y1="289.79" x2="516.30" y2="225.87" stroke="#9c9c9c" stroke-width="0.38"/>
<line x1="500.80" y1="249.38" x2="516.30" y2="252.27" stroke="#9c9c9c" stroke-width="0.38"/>
<line x1="500.80" y1="258.74" x2="516.30" y2="307.74" stroke="#9c9c9c" stroke-width="0.38"/>
<line x1="500.80" y1="238.16" x2="516.30" y2="274.11" stroke="#9c9c9c" stroke-width="0.38"/>
<line x1="500.80" y1="290.88" x2="516.30" y2="297.09" stroke="#9c9c9c" stroke-width="0.38"/>
<line x1="500.80" y1="294.28" x2="516.30" y2="220.74" stroke="#9c9c9c" stroke-width="0.38"/>
<line x1="500.80" y1="269.46" x2="516.30" y2="290.41" stroke="#9c9c9c" stroke-width="0.38"/>
<line x1="500.80" y1="296.40" x2="516.30" y2="308.99" stroke="#9c9c9c" stroke-width="0.38"/>
<line x1="500.80" y1="246.11" x2="516.30" y2="301.31" stroke="#9c9c9c" stroke-width="0.38"/>
<line x1="500.80" y1="273.61" x2="516.30" y2="216.99" stroke="#9c9c9c" stroke-width="0.38"/>
<line x1="500.80" y1="248.21" x2="516.30" y2="227.36" stroke="#9c9c9c" stroke-width="0.38"/>
<line x1="500.80" y1="245.38" x2="516.30" y2="217.23" stroke="#9c9c9c" stroke-width="0.38"/>
<line x1="500.80" y1="293.30" x2="516.30" y2="244.23" stroke="#9c9c9c" stroke-width="0.38"/>
<line x1="500.80" y1="309.21" x2="516.30" y2="262.57" stroke="#9c9c9c" stroke-width="0.38"/>
<line x1="500.80" y1="284.43" x2="516.30" y2="282.31" stroke="#9c9c9c" stroke-width="0.38"/>
<line x1="500.80" y1="249.59" x2="516.30" y2="243.59" stroke="#9c9c9c" stroke-width="0.38"/>
<line x1="500.80" y1="237.91" x2="516.30" y2="282.55" stroke="#9c9c9c" stroke-width="0.38"/>
<line x1="500.80" y1="260.58" x2="516.30" y2="227.14" stroke="#9c9c9c" stroke-width="0.38"/>
<line x1="500.80" y1="256.71" x2="516.30" y2="247.88" stroke="#9c9c9c" stroke-width="0.38"/>
<line x1="500.80" y1="242.25" x2="516.30" y2="236.59" stroke="#9c9c9c" stroke-width="0.38"/>
<line x1="500.80" y1="307.62" x2="516.30" y2="282.29" stroke="#9c9c9c" stroke-width="0.38"/>
<line x1="500.80" y1="308.15" x2="516.30" y2="270.73" stroke="#9c9c9c" stroke-width="0.38"/>
<line x1="500.80" y1="255.68" x2="516.30" y2="263.35" stroke="#9c9c9c" stroke-width="0.38"/>
<line x1="500.80" y1="249.62" x2="516.30" y2="289.08" stroke="#9c9c9c" stroke-width="0.38"/>
<line x1="500.80" y1="290.23" x2="516.30" y2="258.95" stroke="#9c9c9c" stroke-width="0.38"/>
<line x1="500.80" y1="273.00" x2="516.30" y2="277.43" stroke="#9c9c9c" stroke-width="0.38"/>
<line x1="500.80" y1="300.82" x2="516.30" y2="270.54" stroke="#9c9c9c" stroke-width="0.38"/>
<line x1="500.80" y1="270.84" x2="516.30" y2="282.40" stroke="#9c9c9c" stroke-width="0.38"/>
<line x1="500.80" y1="283.75" x2="516.30" y2="256.12" stroke="#9c9c9c" stroke-width="0.38"/>
<line x1="500.80" y1="236.05" x2="516.30" y2="226.51" stroke="#9c9c9c" stroke-width="0.38"/>
<line x1="500.80" y1="253.49" x2="516.30" y2="308.86" stroke="#9c9c9c" stroke-width="0.38"/>
<line x1="500.80" y1="297.41" x2="516.30" y2="216.44" stroke="#9c9c9c" stroke-width="0.38"/>
<line x1="500.80" y1="297.03" x2="516.30" y2="227.25" stroke="#9c9c9c" stroke-width="0.38"/>
<line x1="500.80" y1="307.64" x2="516.30" y2="296.35" stroke="#9c9c9c" stroke-width="0.38"/>
<line x1="500.80" y1="300.82" x2="516.30" y2="250.78" stroke="#9c9c9c" stroke-width="0.38"/>
<line x1="500.80" y1="269.65" x2="516.30" y2="289.88" stroke="#9c9c9c" stroke-width="0.38"/>
<line x1="500.80" y1="245.41" x2="516.30" y2="243.95" stroke="#9c9c9c" stroke-width="0.38"/>
<line x1="500.80" y1="253.20" x2="516.30" y2="300.90" stroke="#9c9c9c" stroke-width="0.38"/>
<line x1="500.80" y1="273.25" x2="516.30" y2="262.56" stroke="#9c9c9c" stroke-width="0.38"/>
<line x1="500.80" y1="274.43" x2="516.30" y2="297.61" stroke="#9c9c9c" stroke-width="0.38"/>
<line x1="500.80" y1="265.67" x2="516.30" y2="251.05" stroke="#9c9c9c" stroke-width="0.38"/>
<line x1="500.80" y1="245.35" x2="516.30" y2="244.31" stroke="#9c9c9c" stroke-width="0.38"/>
<line x1="500.80" y1="241.53" x2="516.30" y2="244.00" stroke="#9c9c9c" stroke-width="0.38"/>
<line x1="500.80" y1="290.27" x2="516.30" y2="267.14" stroke="#9c9c9c" stroke-width="0.38"/>
<line x1="500.80" y1="253.06" x2="516.30" y2="305.11" stroke="#9c9c9c" stroke-width="0.38"/>
<line x1="500.80" y1="239.24" x2="516.30" y2="304.42" stroke="#9c9c9c" stroke-width="0.38"/>
<line x1="500.80" y1="300.46" x2="516.30" y2="304.90" stroke="#9c9c9c" stroke-width="0.38"/>
<line x1="500.80" y1="259.21" x2="516.30" y2="274.26" stroke="#9c9c9c" stroke-width="0.38"/>
<line x1="500.80" y1="252.65" x2="516.30" y2="293.92" stroke="#9c9c9c" stroke-width="0.38"/>
<line x1="500.80" y1="235.92" x2="516.30" y2="266.22" stroke="#9c9c9c" stroke-width="0.38"/>
<line x1="500.80" y1="296.40" x2="516.30" y2="286.65" stroke="#9c9c9c" stroke-width="0.38"/>
<line x1="500.80" y1="283.93" x2="516.30" y2="304.08" stroke="#9c9c9c" stroke-width="0.38"/>
<line x1="500.80" y1="258.95" x2="516.30" y2="251.74" stroke="#9c9c9c" stroke-width="0.38"/>
<line x1="500.80" y1="252.84" x2="516.30" y2="289.45" stroke="#9c9c9c" stroke-width="0.38"/>
<line x1="500.80" y1="242.59" x2="516.30" y2="279.27" stroke="#9c9c9c" stroke-width="0.38"/>
<line x1="500.80" y1="290.98" x2="516.30" y2="281.43" stroke="#9c9c9c" stroke-width="0.38"/>
<line x1="500.80" y1="238.47" x2="516.30" y2="259.66" stroke="#9c9c9c" stroke-width="0.38"/>
<line x1="500.80" y1="238.34" x2="516.30" y2="255.66" stroke="#9c9c9c" stroke-width="0.38"/>
<line x1="500.80" y1="265.98" x2="516.30" y2="219.66" stroke="#9c9c9c" stroke-width="0.38"/>
<line x1="500.80" y1="289.06" x2="516.30" y2="251.73" stroke="#9c9c9c" stroke-width="0.38"/>
<line x1="500.80" y1="253.49" x2="516.30" y2="271.63" stroke="#9c9c9c" stroke-width="0.38"/>
<line x1="500.80" y1="242.90" x2="516.30" y2="263.11" stroke="#9c9c9c" stroke-width="0.38"/>
<line x1="500.80" y1="248.58" x2="516.30" y2="240.68" stroke="#9c9c9c" stroke-width="0.38"/>
<line x1="500.80" y1="297.43" x2="516.30" y2="219.81" stroke="#9c9c9c" stroke-width="0.38"/>
<line x1="500.80" y1="262.89" x2="516.30" y2="240.10" stroke="#9c9c9c" stroke-width="0.38"/>
<line x1="500.80" y1="300.42" x2="516.30" y2="282.43" stroke="#9c9c9c" stroke-width="0.38"/>
<line x1="500.80" y1="235.44" x2="516.30" y2="248.24" stroke="#9c9c9c" stroke-width="0.38"/>
<line x1="500.80" y1="273.84" x2="516.30" y2="239.50" stroke="#9c9c9c" stroke-width="0.38"/>
<line x1="500.80" y1="274.55" x2="516.30" y2="296.73" stroke="#9c9c9c" stroke-width="0.38"/>
<line x1="500.80" y1="289.70" x2="516.30" y2="282.36" stroke="#9c9c9c" stroke-width="0.38"/>
<line x1="500.80" y1="297.74" x2="516.30" y2="259.04" stroke="#9c9c9c" stroke-width="0.38"/>
<line x1="500.80" y1="248.25" x2="516.30" y2="289.86" stroke="#9c9c9c" stroke-width="0.38"/>
<circle cx="498.70" cy="235.10" r="2.20" fill="#fff" stroke="#333" stroke-width="0.6"/>
<circle cx="498.70" cy="238.60" r="2.20" fill="#fff" stroke="#333" stroke-width="0.6"/>
<circle cx="498.70" cy="242.10" r="2.20" fill="#fff" stroke="#333" stroke-width="0.6"/>
<circle cx="498.70" cy="245.60" r="2.20" fill="#fff" stroke="#333" stroke-width="0.6"/>
<circle cx="498.70" cy="249.10" r="2.20" fill="#fff" stroke="#333" stroke-width="0.6"/>
<circle cx="498.70" cy="252.60" r="2.20" fill="#fff" stroke="#333" stroke-width="0.6"/>
<circle cx="498.70" cy="256.10" r="2.20" fill="#fff" stroke="#333" stroke-width="0.6"/>
<circle cx="498.70" cy="259.60" r="2.20" fill="#fff" stroke="#333" stroke-width="0.6"/>
<circle cx="498.70" cy="263.10" r="2.20" fill="#fff" stroke="#333" stroke-width="0.6"/>
<circle cx="498.70" cy="266.60" r="2.20" fill="#fff" stroke="#333" stroke-width="0.6"/>
<circle cx="498.70" cy="270.10" r="2.20" fill="#fff" stroke="#333" stroke-width="0.6"/>
<circle cx="498.70" cy="273.60" r="2.20" fill="#fff" stroke="#333" stroke-width="0.6"/>
<circle cx="498.70" cy="283.50" r="2.20" fill="#fff" stroke="#333" stroke-width="0.6"/>
<circle cx="498.70" cy="290.00" r="2.20" fill="#fff" stroke="#333" stroke-width="0.6"/>
<circle cx="498.70" cy="293.50" r="2.20" fill="#fff" stroke="#333" stroke-width="0.6"/>
<circle cx="498.70" cy="297.00" r="2.20" fill="#fff" stroke="#333" stroke-width="0.6"/>
<circle cx="498.70" cy="300.50" r="2.20" fill="#fff" stroke="#333" stroke-width="0.6"/>
<circle cx="498.70" cy="308.50" r="2.20" fill="#fff" stroke="#333" stroke-width="0.6"/>
<rect x="516.40" y="214.60" width="4.60" height="3.80" fill="#fff" stroke="#333" stroke-width="0.6"/>
<rect x="516.40" y="218.60" width="4.60" height="3.80" fill="#fff" stroke="#333" stroke-width="0.6"/>
<rect x="516.40" y="224.60" width="4.60" height="3.80" fill="#fff" stroke="#333" stroke-width="0.6"/>
<rect x="516.40" y="234.60" width="4.60" height="3.80" fill="#fff" stroke="#333" stroke-width="0.6"/>
<rect x="516.40" y="238.40" width="4.60" height="3.80" fill="#fff" stroke="#333" stroke-width="0.6"/>
<rect x="516.40" y="242.20" width="4.60" height="3.80" fill="#fff" stroke="#333" stroke-width="0.6"/>
<rect x="516.40" y="246.00" width="4.60" height="3.80" fill="#fff" stroke="#333" stroke-width="0.6"/>
<rect x="516.40" y="249.80" width="4.60" height="3.80" fill="#fff" stroke="#333" stroke-width="0.6"/>
<rect x="516.40" y="253.60" width="4.60" height="3.80" fill="#fff" stroke="#333" stroke-width="0.6"/>
<rect x="516.40" y="257.40" width="4.60" height="3.80" fill="#fff" stroke="#333" stroke-width="0.6"/>
<rect x="516.40" y="261.20" width="4.60" height="3.80" fill="#fff" stroke="#333" stroke-width="0.6"/>
<rect x="516.40" y="265.00" width="4.60" height="3.80" fill="#fff" stroke="#333" stroke-width="0.6"/>
<rect x="516.40" y="268.80" width="4.60" height="3.80" fill="#fff" stroke="#333" stroke-width="0.6"/>
<rect x="516.40" y="272.60" width="4.60" height="3.80" fill="#fff" stroke="#333" stroke-width="0.6"/>
<rect x="516.40" y="276.40" width="4.60" height="3.80" fill="#fff" stroke="#333" stroke-width="0.6"/>
<rect x="516.40" y="280.20" width="4.60" height="3.80" fill="#fff" stroke="#333" stroke-width="0.6"/>
<rect x="516.40" y="284.00" width="4.60" height="3.80" fill="#fff" stroke="#333" stroke-width="0.6"/>
<rect x="516.40" y="287.80" width="4.60" height="3.80" fill="#fff" stroke="#333" stroke-width="0.6"/>
<rect x="516.40" y="291.60" width="4.60" height="3.80" fill="#fff" stroke="#333" stroke-width="0.6"/>
<rect x="516.40" y="295.40" width="4.60" height="3.80" fill="#fff" stroke="#333" stroke-width="0.6"/>
<rect x="516.40" y="299.20" width="4.60" height="3.80" fill="#fff" stroke="#333" stroke-width="0.6"/>
<rect x="516.40" y="303.00" width="4.60" height="3.80" fill="#fff" stroke="#333" stroke-width="0.6"/>
<rect x="516.40" y="306.60" width="4.60" height="3.80" fill="#fff" stroke="#333" stroke-width="0.6"/>
<line x1="481.50" y1="308.20" x2="530.00" y2="308.20" stroke="#777" stroke-width="1.3"/>
<line x1="498.50" y1="308.20" x2="498.50" y2="312.60" stroke="#222" stroke-width="0.8"/>
<line x1="518.60" y1="308.20" x2="518.60" y2="312.60" stroke="#222" stroke-width="0.8"/>
<path d="M498.90,227.60 L498.90,207.40 L517.80,207.40 L517.80,214.50" stroke="#222" stroke-width="0.6" fill="none"/>
<text x="508.4" y="204.6" font-size="6.7" text-anchor="middle" fill="#222"><tspan font-style="italic">p</tspan>=0.0473</text>
<text x="0" y="0" font-size="8.1" text-anchor="end" fill="#111" transform="translate(501.8,316.4) rotate(-59)">Primary CRC</text>
<text x="0" y="0" font-size="8.1" text-anchor="end" fill="#111" transform="translate(521.0,316.4) rotate(-59)">Recurred CRC</text>
<text x="622.80" y="206.03" font-size="7.95" text-anchor="middle" fill="#111">Surface ENO1</text>
<line x1="569.60" y1="217.40" x2="569.60" y2="308.40" stroke="#aaa" stroke-width="1.1"/>
<line x1="565.40" y1="308.40" x2="569.60" y2="308.40" stroke="#222" stroke-width="0.8"/>
<text x="564.50" y="310.64" font-size="6.5" text-anchor="end" fill="#222">0</text>
<line x1="565.40" y1="290.30" x2="569.60" y2="290.30" stroke="#222" stroke-width="0.8"/>
<text x="564.50" y="292.54" font-size="6.5" text-anchor="end" fill="#222">20</text>
<line x1="565.40" y1="272.20" x2="569.60" y2="272.20" stroke="#222" stroke-width="0.8"/>
<text x="564.50" y="274.44" font-size="6.5" text-anchor="end" fill="#222">40</text>
<line x1="565.40" y1="254.10" x2="569.60" y2="254.10" stroke="#222" stroke-width="0.8"/>
<text x="564.50" y="256.34" font-size="6.5" text-anchor="end" fill="#222">60</text>
<line x1="565.40" y1="236.00" x2="569.60" y2="236.00" stroke="#222" stroke-width="0.8"/>
<text x="564.50" y="238.24" font-size="6.5" text-anchor="end" fill="#222">80</text>
<line x1="565.40" y1="217.90" x2="569.60" y2="217.90" stroke="#222" stroke-width="0.8"/>
<text x="564.50" y="220.14" font-size="6.5" text-anchor="end" fill="#222">100</text>
<line x1="565.40" y1="308.40" x2="684.00" y2="308.40" stroke="#222" stroke-width="0.8"/>
<line x1="569.30" y1="308.40" x2="569.30" y2="312.20" stroke="#222" stroke-width="0.8"/>
<text x="569.30" y="319.04" font-size="6.5" text-anchor="middle" fill="#222">0</text>
<line x1="601.70" y1="308.40" x2="601.70" y2="312.20" stroke="#222" stroke-width="0.8"/>
<text x="601.70" y="319.04" font-size="6.5" text-anchor="middle" fill="#222">2</text>
<line x1="634.10" y1="308.40" x2="634.10" y2="312.20" stroke="#222" stroke-width="0.8"/>
<text x="634.10" y="319.04" font-size="6.5" text-anchor="middle" fill="#222">4</text>
<line x1="666.50" y1="308.40" x2="666.50" y2="312.20" stroke="#222" stroke-width="0.8"/>
<text x="666.50" y="319.04" font-size="6.5" text-anchor="middle" fill="#222">6</text>
<text x="621.60" y="327.02" font-size="8.2" text-anchor="middle" fill="#111">Time (years)</text>
<text x="546.40" y="261.82" font-size="8.2" text-anchor="middle" fill="#111" transform="rotate(-90 546.40 259.00)">Relapse-free survival (%)</text>
<text x="621.2" y="227.6" font-size="6.6" fill="#111">Log-rank <tspan font-style="italic">p</tspan>=0.0169</text>
<text x="621.20" y="234.87" font-size="6.6" text-anchor="start" fill="#111">HR=1.911</text>
<path d="M569.60,217.50 L571.20,217.50 L571.20,219.20 L573.70,219.20 L573.70,220.70 L575.80,220.70 L575.80,222.30 L577.30,222.30 L577.30,223.30 L578.20,223.30 L578.20,224.80 L578.80,224.80 L578.80,226.30 L579.60,226.30 L579.60,228.40 L580.40,228.40 L580.40,230.40 L581.90,230.40 L581.90,232.00 L582.40,232.00 L582.40,234.30 L582.90,234.30 L582.90,236.60 L583.40,236.60 L583.40,238.60 L583.90,238.60 L583.90,240.70 L585.00,240.70 L585.00,245.00 L586.20,245.00 L586.20,248.00 L587.70,248.00 L587.70,250.50 L589.30,250.50 L589.30,252.60 L590.20,252.60 L590.20,256.00 L591.10,256.00 L591.10,262.00 L591.50,262.00 L591.50,265.80 L593.00,265.80 L593.00,268.50 L594.30,268.50 L594.30,271.20 L595.60,271.20 L595.60,273.80 L597.50,273.80 L597.50,276.00 L600.20,276.00 L600.20,278.30 L602.00,278.30 L602.00,280.00 L604.70,280.00 L604.70,281.70 L605.80,281.70 L605.80,284.00 L616.00,284.00 L616.00,285.60 L618.30,285.60 L618.30,287.30 L619.40,287.30 L619.40,290.00 L620.50,290.00 L620.50,293.00 L622.80,293.00 L622.80,295.50 L625.00,295.50 L625.00,297.50 L626.20,297.50 L626.20,299.50 L627.30,299.50 L627.30,301.60 L630.00,301.60 L630.00,304.30 L662.40,304.30 L662.40,306.60" stroke="#333" stroke-width="0.75" fill="none"/>
<path d="M569.60,217.50 L576.60,217.50 L576.60,226.90 L578.50,226.90 L578.50,247.50 L582.00,247.50 L582.00,250.00 L582.50,250.00 L582.50,256.80 L584.00,256.80 L584.00,260.20 L585.40,260.20 L585.40,263.60 L586.60,263.60 L586.60,269.20 L589.30,269.20 L589.30,276.00 L590.00,276.00 L590.00,282.80 L593.40,282.80 L593.40,288.50 L597.90,288.50 L597.90,293.00 L603.50,293.00 L603.50,298.20 L608.00,298.20 L608.00,303.20 L614.20,303.20 L614.20,308.40" stroke="#e8262a" stroke-width="0.7" fill="none"/>
<text x="595.2" y="263.2" font-size="6.2" fill="#111">Surface ENO1<tspan font-size="3.4" dy="-2.4">Low</tspan><tspan dy="2.4"> (n=38)</tspan></text>
<text x="617.1" y="305.5" font-size="6.2" fill="#e8262a">Surface ENO1<tspan font-size="3.4" dy="-2.4">High</tspan><tspan dy="2.4"> (n=18)</tspan></text>
<text x="277.60" y="383.03" font-size="7.95" text-anchor="middle" fill="#111">Surface ENO1</text>
<line x1="222.80" y1="394.70" x2="222.80" y2="485.40" stroke="#222" stroke-width="0.8"/>
<line x1="218.60" y1="485.40" x2="222.80" y2="485.40" stroke="#222" stroke-width="0.8"/>
<text x="217.80" y="487.64" font-size="6.5" text-anchor="end" fill="#222">0</text>
<line x1="218.60" y1="467.36" x2="222.80" y2="467.36" stroke="#222" stroke-width="0.8"/>
<text x="217.80" y="469.60" font-size="6.5" text-anchor="end" fill="#222">20</text>
<line x1="218.60" y1="449.32" x2="222.80" y2="449.32" stroke="#222" stroke-width="0.8"/>
<text x="217.80" y="451.56" font-size="6.5" text-anchor="end" fill="#222">40</text>
<line x1="218.60" y1="431.28" x2="222.80" y2="431.28" stroke="#222" stroke-width="0.8"/>
<text x="217.80" y="433.52" font-size="6.5" text-anchor="end" fill="#222">60</text>
<line x1="218.60" y1="413.24" x2="222.80" y2="413.24" stroke="#222" stroke-width="0.8"/>
<text x="217.80" y="415.48" font-size="6.5" text-anchor="end" fill="#222">80</text>
<line x1="218.60" y1="395.20" x2="222.80" y2="395.20" stroke="#222" stroke-width="0.8"/>
<text x="217.80" y="397.44" font-size="6.5" text-anchor="end" fill="#222">100</text>
<line x1="218.60" y1="485.40" x2="335.60" y2="485.40" stroke="#222" stroke-width="0.8"/>
<line x1="222.80" y1="485.40" x2="222.80" y2="489.20" stroke="#222" stroke-width="0.8"/>
<text x="222.80" y="496.84" font-size="6.5" text-anchor="middle" fill="#222">0</text>
<line x1="245.36" y1="485.40" x2="245.36" y2="489.20" stroke="#222" stroke-width="0.8"/>
<text x="245.36" y="496.84" font-size="6.5" text-anchor="middle" fill="#222">2</text>
<line x1="267.92" y1="485.40" x2="267.92" y2="489.20" stroke="#222" stroke-width="0.8"/>
<text x="267.92" y="496.84" font-size="6.5" text-anchor="middle" fill="#222">4</text>
<line x1="290.48" y1="485.40" x2="290.48" y2="489.20" stroke="#222" stroke-width="0.8"/>
<text x="290.48" y="496.84" font-size="6.5" text-anchor="middle" fill="#222">6</text>
<line x1="313.04" y1="485.40" x2="313.04" y2="489.20" stroke="#222" stroke-width="0.8"/>
<text x="313.04" y="496.84" font-size="6.5" text-anchor="middle" fill="#222">8</text>
<line x1="335.60" y1="485.40" x2="335.60" y2="489.20" stroke="#222" stroke-width="0.8"/>
<text x="335.60" y="496.84" font-size="6.5" text-anchor="middle" fill="#222">10</text>
<text x="282.60" y="504.42" font-size="8.2" text-anchor="middle" fill="#111">Time (years)</text>
<text x="201.00" y="443.12" font-size="8.2" text-anchor="middle" fill="#111" transform="rotate(-90 201.00 440.30)">Disease-free survival (%)</text>
<text x="226.1" y="472.4" font-size="6.65" fill="#111">Log-rank <tspan font-style="italic">p</tspan>=0.0383</text>
<text x="226.10" y="481.99" font-size="6.65" text-anchor="start" fill="#111">HR=2.911</text>
<path d="M222.80,394.70 L235.40,394.70 L235.40,398.30 L236.60,398.30 L236.60,400.10 L238.90,400.10 L238.90,400.80 L246.10,400.80 L246.10,402.90 L266.60,402.90 L266.60,404.40 L324.70,404.40" stroke="#555" stroke-width="0.9" fill="none"/>
<path d="M222.80,394.70 L225.10,394.70 L225.10,397.00 L230.30,397.00 L230.30,398.80 L231.30,398.80 L231.30,401.40 L232.80,401.40 L232.80,406.50 L242.50,406.50 L242.50,408.00 L246.10,408.00 L246.10,409.00 L247.60,409.00 L247.60,411.00 L262.00,411.00 L262.00,413.00 L263.40,413.00 L263.40,414.90 L265.50,414.90 L265.50,417.10 L267.70,417.10 L267.70,420.00 L269.90,420.00 L269.90,421.50 L324.70,421.50" stroke="#e8262a" stroke-width="0.7" fill="none"/>
<line x1="242.50" y1="401.90" x2="242.50" y2="399.40" stroke="#333" stroke-width="0.55"/>
<line x1="260.00" y1="404.00" x2="260.00" y2="401.50" stroke="#333" stroke-width="0.55"/>
<line x1="284.00" y1="405.50" x2="284.00" y2="403.00" stroke="#333" stroke-width="0.55"/>
<line x1="288.00" y1="405.50" x2="288.00" y2="403.00" stroke="#333" stroke-width="0.55"/>
<line x1="292.00" y1="405.50" x2="292.00" y2="403.00" stroke="#333" stroke-width="0.55"/>
<line x1="295.00" y1="405.50" x2="295.00" y2="403.00" stroke="#333" stroke-width="0.55"/>
<line x1="298.00" y1="405.50" x2="298.00" y2="403.00" stroke="#333" stroke-width="0.55"/>
<line x1="300.00" y1="405.50" x2="300.00" y2="403.00" stroke="#333" stroke-width="0.55"/>
<line x1="302.00" y1="405.50" x2="302.00" y2="403.00" stroke="#333" stroke-width="0.55"/>
<line x1="304.00" y1="405.50" x2="304.00" y2="403.00" stroke="#333" stroke-width="0.55"/>
<line x1="306.00" y1="405.50" x2="306.00" y2="403.00" stroke="#333" stroke-width="0.55"/>
<line x1="308.00" y1="405.50" x2="308.00" y2="403.00" stroke="#333" stroke-width="0.55"/>
<line x1="310.00" y1="405.50" x2="310.00" y2="403.00" stroke="#333" stroke-width="0.55"/>
<line x1="312.00" y1="405.50" x2="312.00" y2="403.00" stroke="#333" stroke-width="0.55"/>
<line x1="314.00" y1="405.50" x2="314.00" y2="403.00" stroke="#333" stroke-width="0.55"/>
<line x1="316.00" y1="405.50" x2="316.00" y2="403.00" stroke="#333" stroke-width="0.55"/>
<line x1="318.00" y1="405.50" x2="318.00" y2="403.00" stroke="#333" stroke-width="0.55"/>
<line x1="320.00" y1="405.50" x2="320.00" y2="403.00" stroke="#333" stroke-width="0.55"/>
<line x1="322.00" y1="405.50" x2="322.00" y2="403.00" stroke="#333" stroke-width="0.55"/>
<line x1="324.00" y1="405.50" x2="324.00" y2="403.00" stroke="#333" stroke-width="0.55"/>
<line x1="238.00" y1="407.60" x2="238.00" y2="405.10" stroke="#e8262a" stroke-width="0.55"/>
<line x1="252.00" y1="412.10" x2="252.00" y2="409.60" stroke="#e8262a" stroke-width="0.55"/>
<line x1="258.00" y1="412.10" x2="258.00" y2="409.60" stroke="#e8262a" stroke-width="0.55"/>
<line x1="276.00" y1="422.60" x2="276.00" y2="420.10" stroke="#e8262a" stroke-width="0.55"/>
<line x1="284.00" y1="422.60" x2="284.00" y2="420.10" stroke="#e8262a" stroke-width="0.55"/>
<line x1="289.00" y1="422.60" x2="289.00" y2="420.10" stroke="#e8262a" stroke-width="0.55"/>
<line x1="292.00" y1="422.60" x2="292.00" y2="420.10" stroke="#e8262a" stroke-width="0.55"/>
<line x1="295.00" y1="422.60" x2="295.00" y2="420.10" stroke="#e8262a" stroke-width="0.55"/>
<line x1="298.00" y1="422.60" x2="298.00" y2="420.10" stroke="#e8262a" stroke-width="0.55"/>
<line x1="301.00" y1="422.60" x2="301.00" y2="420.10" stroke="#e8262a" stroke-width="0.55"/>
<line x1="304.00" y1="422.60" x2="304.00" y2="420.10" stroke="#e8262a" stroke-width="0.55"/>
<line x1="307.00" y1="422.60" x2="307.00" y2="420.10" stroke="#e8262a" stroke-width="0.55"/>
<line x1="310.00" y1="422.60" x2="310.00" y2="420.10" stroke="#e8262a" stroke-width="0.55"/>
<line x1="313.00" y1="422.60" x2="313.00" y2="420.10" stroke="#e8262a" stroke-width="0.55"/>
<line x1="316.00" y1="422.60" x2="316.00" y2="420.10" stroke="#e8262a" stroke-width="0.55"/>
<line x1="319.00" y1="422.60" x2="319.00" y2="420.10" stroke="#e8262a" stroke-width="0.55"/>
<line x1="322.00" y1="422.60" x2="322.00" y2="420.10" stroke="#e8262a" stroke-width="0.55"/>
<line x1="324.00" y1="422.60" x2="324.00" y2="420.10" stroke="#e8262a" stroke-width="0.55"/>
<text x="260.0" y="400.0" font-size="6.2" fill="#111">Surface ENO1<tspan font-size="3.4" dy="-2.4">Low</tspan><tspan dy="2.4"> (n=40)</tspan></text>
<text x="260.0" y="430.9" font-size="6.2" fill="#e8262a">Surface ENO1<tspan font-size="3.4" dy="-2.4">High</tspan><tspan dy="2.4"> (n=48)</tspan></text>
<text x="443.80" y="405.63" font-size="9.4" text-anchor="middle" fill="#111">Surface ENO1</text>
<rect x="409.60" y="426.50" width="33.40" height="36.30" fill="#e4e4e4" stroke="none" stroke-width="0.8"/>
<line x1="409.60" y1="411.30" x2="409.60" y2="479.00" stroke="#222" stroke-width="0.8"/>
<line x1="478.50" y1="411.30" x2="478.50" y2="479.00" stroke="#222" stroke-width="0.8"/>
<line x1="371.00" y1="426.50" x2="506.80" y2="426.50" stroke="#222" stroke-width="0.9"/>
<line x1="371.00" y1="462.80" x2="506.80" y2="462.80" stroke="#222" stroke-width="0.9"/>
<text x="363.60" y="448.20" font-size="9.6" text-anchor="middle" fill="#111" transform="rotate(-90 363.60 444.90)">Cyto-ENO1</text>
<text x="427.50" y="421.28" font-size="7.8" text-anchor="middle" fill="#111">High</text>
<text x="461.60" y="421.28" font-size="7.8" text-anchor="middle" fill="#111">Low</text>
<text x="493.70" y="421.88" font-size="7.8" text-anchor="middle" fill="#111">Total</text>
<text x="392.00" y="439.68" font-size="7.8" text-anchor="middle" fill="#111">High</text>
<text x="392.00" y="458.08" font-size="7.8" text-anchor="middle" fill="#111">Low</text>
<text x="392.50" y="474.38" font-size="7.8" text-anchor="middle" fill="#111">Total</text>
<text x="427.50" y="439.68" font-size="7.8" text-anchor="middle" fill="#111">101</text>
<text x="461.60" y="439.68" font-size="7.8" text-anchor="middle" fill="#111">62</text>
<text x="492.40" y="439.68" font-size="7.8" text-anchor="middle" fill="#111">163</text>
<text x="427.50" y="458.08" font-size="7.8" text-anchor="middle" fill="#111">44</text>
<text x="461.60" y="458.08" font-size="7.8" text-anchor="middle" fill="#111">109</text>
<text x="492.40" y="458.08" font-size="7.8" text-anchor="middle" fill="#111">153</text>
<text x="427.50" y="474.38" font-size="7.8" text-anchor="middle" fill="#111">145</text>
<text x="461.60" y="474.38" font-size="7.8" text-anchor="middle" fill="#111">171</text>
<path d="M595.9,438.9 L595.9,409.29999999999995 A29.6,29.6 0 0 1 603.44,467.52 Z" fill="#f0a044" stroke="#333" stroke-width="0.6"/>
<path d="M595.9,438.9 L603.44,467.52 A29.6,29.6 0 1 1 595.9,409.29999999999995 Z" fill="#a4a4aa" stroke="#333" stroke-width="0.6"/>
<text x="600.50" y="406.27" font-size="8.05" text-anchor="middle" fill="#111">Surface ENO1 status</text>
<line x1="556.70" y1="430.50" x2="582.90" y2="438.60" stroke="#111" stroke-width="0.6"/>
<line x1="635.00" y1="430.50" x2="609.40" y2="438.60" stroke="#111" stroke-width="0.6"/>
<circle cx="582.90" cy="438.60" r="1.30" fill="#000" stroke="none" stroke-width="0.5"/>
<circle cx="609.40" cy="438.60" r="1.30" fill="#000" stroke="none" stroke-width="0.5"/>
<text x="508.6" y="432.8" font-size="6.5" fill="#111">Surface ENO1<tspan font-size="3.4" dy="-2.4">L</tspan></text>
<text x="637.7" y="432.8" font-size="6.5" fill="#111">Surface ENO1<tspan font-size="3.4" dy="-2.4">H</tspan></text>
<text x="586.00" y="449.40" font-size="6.4" text-anchor="middle" fill="#111">54.1%</text>
<text x="610.70" y="449.40" font-size="6.4" text-anchor="middle" fill="#111">45.9%</text>
<text x="597.80" y="473.94" font-size="6.8" text-anchor="middle" fill="#111">All cancer patients (n=316)</text>
</svg></body></html>
